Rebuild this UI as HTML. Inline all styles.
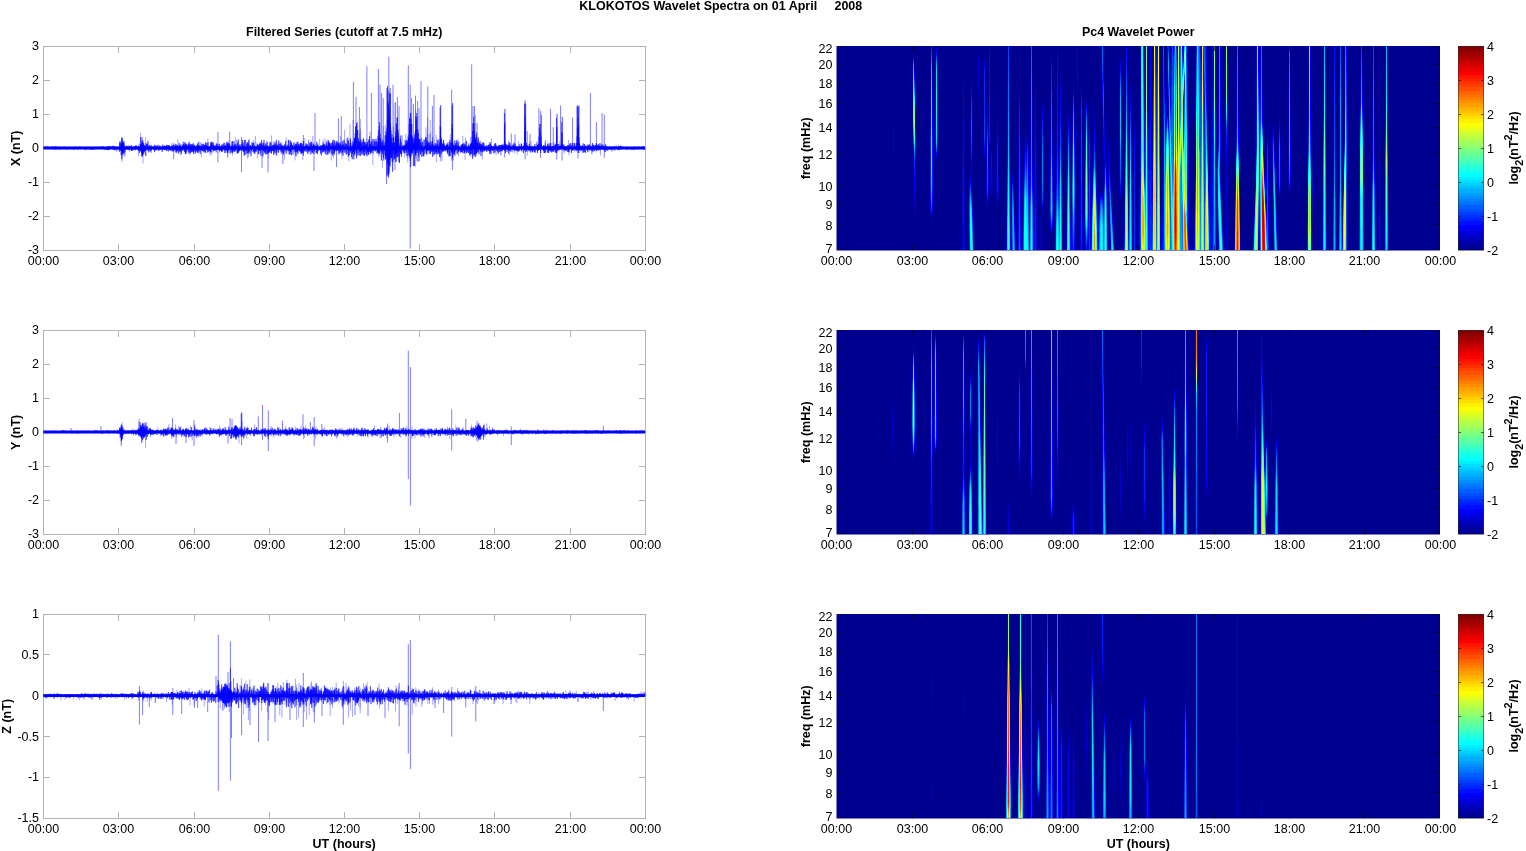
<!DOCTYPE html>
<html><head><meta charset="utf-8"><title>KLOKOTOS Wavelet Spectra</title>
<style>html,body{margin:0;padding:0;background:#fff;overflow:hidden}svg{display:block}text{font-family:'Liberation Sans', sans-serif}</style></head>
<body>
<svg width="1526" height="851" viewBox="0 0 1526 851" font-family="'Liberation Sans', sans-serif" fill="#000" style="filter:opacity(1)">
<text x="720.8" y="9.7" text-anchor="middle" font-weight="bold" font-size="12.5" xml:space="preserve">KLOKOTOS Wavelet Spectra on 01 April     2008</text>
<text x="344.2" y="36.2" text-anchor="middle" font-weight="bold" font-size="12.4">Filtered Series (cutoff at 7.5 mHz)</text>
<text x="1138.3" y="36.2" text-anchor="middle" font-weight="bold" font-size="12.4">Pc4 Wavelet Power</text>
<text x="344.2" y="848.2" text-anchor="middle" font-weight="bold" font-size="12.5">UT (hours)</text>
<text x="1138.3" y="848.2" text-anchor="middle" font-weight="bold" font-size="12.5">UT (hours)</text>
<g stroke="#b4b4b4" stroke-width="1" fill="none">
<rect x="43.5" y="46.5" width="602.0" height="204"/>
<path d="M118.5 250.5v-6.5M118.5 46.5v6.5M194.5 250.5v-6.5M194.5 46.5v6.5M269.5 250.5v-6.5M269.5 46.5v6.5M344.5 250.5v-6.5M344.5 46.5v6.5M419.5 250.5v-6.5M419.5 46.5v6.5M494.5 250.5v-6.5M494.5 46.5v6.5M570.5 250.5v-6.5M570.5 46.5v6.5M43.5 80.5h6.5M645.5 80.5h-6.5M43.5 114.5h6.5M645.5 114.5h-6.5M43.5 148.5h6.5M645.5 148.5h-6.5M43.5 182.5h6.5M645.5 182.5h-6.5M43.5 216.5h6.5M645.5 216.5h-6.5"/>
</g>
<g fill="none" stroke="#0000ff">
<path d="M108.4 146.3V149.0M108.8 146.0V148.5M109.4 145.7V148.9M113.4 145.6V149.7M113.6 147.3V150.1M116.4 147.0V151.8M117.2 147.3V150.7M117.4 146.0V149.8M120.8 142.1V155.0M121.2 142.6V156.1M122.0 140.3V162.2M122.2 136.6V150.5M123.6 144.0V153.8M123.8 140.6V154.9M124.0 140.6V156.8M125.0 145.9V156.4M126.8 145.0V149.9M127.4 146.7V148.7M128.6 144.9V150.5M129.0 146.3V149.8M129.6 146.4V152.3M131.0 145.5V149.9M131.6 146.4V150.4M133.2 146.6V150.5M134.2 145.9V148.8M135.2 146.6V150.6M138.0 145.8V149.3M138.2 146.8V150.9M138.6 144.7V156.5M139.4 143.6V151.7M140.6 132.8V152.0M142.6 136.9V151.9M143.0 143.3V163.5M145.0 142.9V154.5M145.6 137.1V151.2M150.0 145.0V149.9M150.4 145.8V151.4M151.0 144.3V150.2M151.2 146.6V149.9M151.4 145.1V153.3M153.0 145.8V149.8M154.6 144.2V148.8M159.0 145.6V148.9M159.8 144.6V148.7M160.2 145.5V150.0M163.4 145.9V149.9M164.2 145.6V149.0M165.0 146.4V149.9M167.8 145.3V149.4M168.0 146.2V150.3M171.6 146.1V150.8M171.8 142.8V150.2M172.2 144.6V151.2M173.8 142.7V149.7M175.2 144.9V151.9M175.6 145.5V152.2M177.0 145.4V152.7M177.2 145.5V151.3M177.4 146.1V151.1M177.8 139.5V150.2M178.8 144.5V153.7M179.8 145.4V149.3M180.6 143.8V155.4M181.2 144.2V151.7M182.8 141.4V149.8M183.4 144.6V150.7M184.4 143.1V151.9M185.6 144.4V151.6M186.4 145.2V154.1M187.2 144.6V152.0M188.4 146.1V152.3M189.2 146.0V154.3M190.0 145.0V155.1M190.8 145.4V149.1M191.2 144.4V152.4M192.4 144.8V151.5M193.0 146.5V152.1M194.2 143.7V151.9M196.2 144.9V150.8M196.8 145.3V151.0M197.6 144.4V151.9M198.2 145.6V152.2M200.6 142.3V151.5M201.4 143.4V157.2M202.4 143.5V150.2M202.8 144.0V151.2M203.4 145.4V152.6M204.6 144.8V152.9M204.8 145.5V150.0M205.0 145.0V151.3M206.8 145.4V152.7M207.8 138.5V149.0M210.0 145.7V155.7M210.6 144.5V150.5M211.0 144.7V154.7M211.6 144.0V152.0M212.0 141.5V149.3M212.2 144.8V153.8M213.2 146.9V152.2M214.2 144.7V150.7M219.4 143.4V153.0M220.4 145.8V151.0M222.4 143.9V151.5M224.0 143.0V150.6M224.6 143.1V152.9M226.0 143.2V152.9M227.2 142.9V151.7M227.6 146.9V157.4M227.8 146.9V157.4M228.6 140.8V152.9M230.2 143.8V152.2M231.8 146.0V151.1M232.6 145.5V155.6M233.4 144.0V149.4M235.4 137.4V149.5M235.6 144.8V149.7M236.6 139.8V153.6M238.0 146.5V152.6M238.6 138.8V151.8M239.0 144.8V150.6M243.2 142.5V152.6M243.6 142.4V151.8M247.6 145.1V158.7M248.4 142.6V157.0M249.2 138.6V150.5M252.6 143.5V152.0M253.4 140.2V153.3M254.4 141.8V150.7M255.4 135.9V153.9M257.0 142.6V149.4M257.4 144.2V158.3M257.8 144.3V153.8M262.8 142.3V157.8M264.0 142.9V152.3M265.4 143.9V153.3M266.8 140.5V150.1M268.2 145.6V158.5M269.8 144.4V152.4M271.2 142.3V151.3M271.6 135.3V152.4M272.0 145.3V151.6M273.2 141.3V150.7M273.4 144.0V153.4M275.2 145.2V155.0M277.8 143.3V152.6M280.4 142.5V151.9M280.8 145.7V151.4M281.0 142.6V154.3M281.8 142.4V152.7M284.4 145.0V152.6M284.6 145.8V159.4M285.4 145.7V151.3M286.0 145.9V151.5M286.2 137.3V151.3M286.8 144.4V149.9M288.0 145.0V151.6M288.2 144.7V154.6M288.4 139.9V151.2M291.2 141.6V150.0M293.2 143.7V150.7M295.0 145.6V160.4M295.2 144.4V153.1M295.6 144.7V151.7M296.4 144.7V150.1M296.6 143.6V151.4M296.8 142.1V156.4M298.4 141.2V152.8M300.0 145.9V151.5M301.0 146.0V153.5M301.4 144.4V151.7M302.0 140.6V151.7M302.4 145.1V153.4M302.8 143.5V160.0M303.4 143.9V151.4M304.8 138.1V151.9M308.4 140.8V153.9M308.6 139.1V150.5M310.0 146.6V154.8M310.4 143.5V154.4M311.0 143.8V151.3M311.4 142.0V154.5M312.0 144.0V152.9M312.8 135.8V150.9M313.8 142.1V151.3M315.0 144.4V152.1M317.0 144.2V152.7M318.2 143.3V151.2M319.6 139.0V150.5M322.8 143.9V151.5M323.2 139.5V151.1M324.2 144.1V152.3M324.4 143.9V149.9M324.6 144.7V153.9M325.0 138.7V152.2M326.6 143.6V155.0M327.4 142.9V153.6M327.6 139.5V153.9M328.6 143.6V149.8M328.8 144.0V152.8M329.0 143.1V151.8M330.4 144.3V153.1M331.2 143.0V160.5M333.4 142.3V158.1M335.6 144.2V150.5M337.0 143.2V151.3M338.4 141.6V155.1M339.2 143.5V154.5M339.6 143.2V149.9M340.6 136.2V150.9M342.0 141.1V158.8M343.2 145.3V152.3M344.6 129.9V150.2M344.8 141.2V151.8M345.2 143.3V151.8M347.8 140.2V156.8M348.2 137.3V152.4M348.8 146.0V161.7M350.0 124.3V150.2M350.6 140.1V152.8M350.8 143.2V152.4M353.0 119.7V155.9M353.8 139.8V155.6M354.0 145.2V152.8M354.6 139.2V153.4M355.8 139.0V155.6M357.4 138.6V152.9M358.6 138.3V153.0M359.8 132.5V156.1M360.2 139.3V155.0M360.4 119.0V156.3M360.6 128.6V151.7M362.4 145.4V153.5M366.8 138.5V151.4M370.0 131.5V155.4M372.8 142.6V164.8M378.2 145.6V152.9M378.4 130.9V156.6M378.6 138.0V150.4M379.8 144.4V156.4M381.8 145.7V153.1M382.4 141.1V167.7M383.2 126.5V151.5M385.2 125.3V153.5M387.2 134.4V152.8M387.6 142.8V173.5M388.8 123.8V162.9M393.4 126.4V162.4M394.2 102.9V156.9M395.2 136.1V156.0M398.2 130.0V157.5M402.2 135.2V154.1M404.4 139.8V151.1M404.8 145.7V157.5M405.0 145.8V151.6M405.6 142.0V153.1M405.8 133.9V150.3M407.2 142.7V158.5M407.8 136.0V162.6M415.2 138.3V167.0M415.4 136.1V155.7M415.6 116.3V152.1M415.8 109.5V157.9M416.6 132.2V161.0M417.6 137.0V162.3M421.8 137.2V150.0M422.2 144.0V156.2M424.6 139.8V154.3M426.0 127.3V149.9M426.4 138.8V155.1M426.8 141.0V155.5M427.2 134.5V151.6M427.6 117.8V151.1M428.2 142.3V153.9M429.2 134.1V153.2M429.8 145.2V154.5M430.0 143.7V152.7M430.2 119.9V150.8M430.6 132.5V151.1M432.0 140.9V152.0M432.6 138.3V151.5M432.8 136.3V151.0M434.2 143.4V152.5M436.2 134.7V151.8M436.4 146.0V162.2M437.8 141.2V154.2M439.6 141.2V157.3M440.4 135.1V154.0M440.6 144.6V161.5M440.8 142.5V157.8M441.2 136.5V154.7M441.4 139.6V153.8M441.6 137.7V153.4M441.8 141.5V151.7M442.0 143.1V160.9M443.2 142.8V152.0M443.6 139.4V149.7M444.2 145.1V151.5M447.0 142.9V150.3M447.4 142.6V152.1M447.8 142.5V151.7M448.0 144.9V151.8M450.4 134.1V153.6M452.2 144.5V154.4M452.4 138.4V150.9M452.6 141.1V150.0M453.4 145.8V154.2M453.6 144.8V160.3M454.6 145.6V156.1M455.4 144.3V156.1M456.8 142.5V149.8M457.2 141.8V152.3M457.6 144.2V154.8M458.0 138.7V150.9M458.6 145.0V156.1M459.0 141.8V152.4M461.4 144.4V152.4M461.8 144.8V151.1M462.8 135.8V151.1M464.0 142.5V154.1M464.8 144.8V150.9M465.2 142.3V160.0M465.4 137.8V149.3M468.2 142.7V152.7M470.4 137.0V153.8M471.0 145.4V156.7M472.4 140.3V153.0M473.0 139.8V156.4M474.6 133.9V153.3M475.4 114.8V152.7M478.0 141.6V152.4M480.4 144.1V152.3M482.4 142.2V159.4M489.4 144.1V151.6M490.0 142.7V150.4M490.8 145.0V150.4M491.4 138.6V150.4M494.2 143.9V154.1M496.0 143.8V155.3M498.6 145.7V152.6M498.8 145.3V151.6M500.6 145.1V149.8M500.8 146.9V155.4M501.0 145.1V155.4M502.4 145.0V151.4M504.4 143.9V150.3M505.2 140.7V151.3M508.6 140.4V149.2M508.8 142.4V151.1M509.0 144.2V150.4M509.4 144.7V155.2M510.0 142.5V149.3M510.4 144.5V150.9M512.4 144.7V152.4M513.8 145.0V151.8M514.0 146.4V150.9M514.4 143.9V153.3M517.0 145.9V154.6M518.2 146.0V150.8M518.6 141.2V152.0M519.4 144.2V151.0M519.6 144.2V150.3M524.0 145.5V150.3M527.2 144.9V155.9M527.8 145.2V150.1M529.6 142.0V151.0M529.8 145.5V150.0M530.6 146.0V149.2M530.8 145.7V150.8M531.2 140.8V150.6M533.0 146.3V150.1M534.4 145.9V150.7M535.2 146.6V150.1M535.4 146.3V152.6M536.4 141.6V150.5M536.6 143.6V149.5M537.4 145.0V150.0M537.6 141.9V151.5M538.0 146.2V150.0M538.4 145.0V150.3M543.6 146.3V150.4M543.8 146.3V152.6M544.8 142.3V149.2M545.8 145.4V152.0M547.8 141.8V150.3M548.6 145.7V150.9M549.8 144.6V150.1M550.6 147.1V150.0M553.0 142.1V151.9M553.6 145.0V150.8M554.6 143.1V149.1M558.0 145.7V151.9M559.0 145.7V151.3M559.8 141.0V150.2M560.2 146.3V150.0M561.2 146.0V149.0M563.6 144.3V151.7M564.4 144.2V153.3M568.6 140.0V150.4M569.0 145.9V155.2M571.6 146.5V150.4M572.4 146.8V150.0M574.8 144.3V151.9M576.8 146.3V151.6M578.2 146.0V150.9M579.0 143.6V149.0M579.2 144.4V153.1M581.0 146.0V150.4M582.0 145.5V151.1M583.2 146.5V152.5M583.8 146.6V150.7M584.6 144.6V152.5M587.0 145.9V151.0M587.2 144.3V150.7M587.6 144.6V149.7M588.0 145.1V149.6M589.4 144.2V151.5M591.8 145.1V153.3M592.0 146.7V154.6M595.8 144.4V152.6M596.6 146.0V151.0M598.0 144.0V150.5M598.4 145.6V150.0M600.2 144.7V151.5M600.4 146.1V155.6M602.0 144.0V149.0M603.8 146.3V149.7M604.2 145.4V150.3M605.8 146.7V149.7M606.2 146.1V148.9M606.4 146.6V149.7M606.6 147.3V149.6M608.4 146.6V149.8M611.0 146.3V149.3M611.8 147.0V151.4M612.0 146.7V151.5M614.0 146.5V150.8M614.4 147.4V150.5M615.0 147.4V150.9M615.2 145.6V148.6M616.4 145.1V148.9M618.4 147.3V149.0M618.6 144.8V148.8M619.2 146.6V150.5M621.0 144.9V148.9" stroke-width="0.45" stroke-opacity="0.8"/>
<path d="M122.5 148.0V138.0M141.0 148.0V138.0M217.9 148.0V132.0M229.7 148.0V131.5M241.5 148.0V137.0M303.4 148.0V135.0M315.0 148.0V113.0M338.4 148.0V118.5M341.3 148.0V116.0M353.4 148.0V81.6M356.0 148.0V96.8M359.4 148.0V107.0M366.9 148.0V66.2M371.4 148.0V93.0M378.4 148.0V69.0M380.0 148.0V84.8M381.6 148.0V93.0M383.2 148.0V98.0M388.8 148.0V56.6M393.0 148.0V84.8M395.6 148.0V102.0M397.4 148.0V97.0M399.0 148.0V106.0M408.3 148.0V65.5M410.2 148.0V84.8M411.6 148.0V98.0M413.4 148.0V104.0M415.5 148.0V95.6M417.6 148.0V101.0M419.0 148.0V108.0M421.0 148.0V81.0M427.8 148.0V86.4M434.0 148.0V94.9M432.4 148.0V106.0M451.7 148.0V89.6M471.7 148.0V64.3M473.0 148.0V106.0M474.5 148.0V106.0M477.0 148.0V123.0M511.3 148.0V133.6M515.0 148.0V134.3M527.2 148.0V131.0M530.0 148.0V134.0M538.9 148.0V108.2M540.6 148.0V111.0M541.5 148.0V115.0M545.5 148.0V140.0M550.5 148.0V108.9M553.3 148.0V127.2M560.6 148.0V105.4M572.6 148.0V117.4M590.4 148.0V93.0M596.4 148.0V122.0M602.0 148.0V113.0M604.3 148.0V114.5M173.7 148.0V159.0M217.9 148.0V162.5M241.5 148.0V172.0M262.0 148.0V167.8M268.0 148.0V172.5M282.8 148.0V164.0M314.0 148.0V171.0M336.5 148.0V167.0M386.5 148.0V184.0M395.0 148.0V170.0M410.2 148.0V248.6M452.4 148.0V170.0M504.7 148.0V157.5M525.1 148.0V159.6M540.6 148.0V158.0M556.8 148.0V159.5M562.0 148.0V160.6M578.0 148.0V158.5M604.3 148.0V157.5" stroke-width="0.6" stroke-opacity="0.85"/>
<path d="M386.95 148.0V88.2M387.50 148.0V86.0M388.05 148.0V90.9M389.45 148.0V93.1M390.00 148.0V88.0M390.55 148.0V93.4M440.12 148.0V107.2M440.67 148.0V105.0M452.12 148.0V105.4M452.67 148.0V103.0M504.43 148.0V113.0M504.97 148.0V108.9M524.55 148.0V103.5M525.10 148.0V100.4M525.65 148.0V103.7M556.52 148.0V117.8M557.07 148.0V113.8M561.73 148.0V122.3M562.27 148.0V117.0M577.02 148.0V106.4M577.57 148.0V105.4M578.43 148.0V106.9M578.98 148.0V105.4M387.95 148.0V176.6M388.50 148.0V177.5M389.05 148.0V173.9M354.00 148.0V143.7M354.38 148.0V139.3M354.77 148.0V137.8M355.15 148.0V133.1M355.54 148.0V126.5M355.92 148.0V126.8M356.31 148.0V125.3M356.69 148.0V123.2M357.08 148.0V122.1M357.46 148.0V130.1M357.85 148.0V130.0M358.23 148.0V138.0M358.62 148.0V140.6M359.00 148.0V143.7M385.80 148.0V141.3M386.18 148.0V137.4M386.55 148.0V134.4M386.93 148.0V127.6M387.30 148.0V120.1M387.68 148.0V119.5M388.05 148.0V104.0M388.43 148.0V103.6M388.80 148.0V101.3M389.18 148.0V108.8M389.55 148.0V115.9M389.93 148.0V123.2M390.30 148.0V123.1M390.68 148.0V127.4M391.05 148.0V130.8M391.43 148.0V138.0M391.80 148.0V141.3M395.00 148.0V143.2M395.40 148.0V138.5M395.80 148.0V131.4M396.20 148.0V123.6M396.60 148.0V123.6M397.00 148.0V118.0M397.40 148.0V117.1M397.80 148.0V128.9M398.20 148.0V132.8M398.60 148.0V139.6M399.00 148.0V143.2M408.00 148.0V142.2M408.38 148.0V138.4M408.77 148.0V134.5M409.15 148.0V124.1M409.54 148.0V117.8M409.92 148.0V119.4M410.31 148.0V113.3M410.69 148.0V112.8M411.08 148.0V118.9M411.46 148.0V123.7M411.85 148.0V123.8M412.23 148.0V135.4M412.62 148.0V138.0M413.00 148.0V142.2M414.00 148.0V143.2M414.38 148.0V139.7M414.77 148.0V134.3M415.15 148.0V131.6M415.54 148.0V130.0M415.92 148.0V116.7M416.31 148.0V120.8M416.69 148.0V113.0M417.08 148.0V116.5M417.46 148.0V129.8M417.85 148.0V129.3M418.23 148.0V134.0M418.62 148.0V139.7M419.00 148.0V143.2M378.00 148.0V144.4M378.43 148.0V138.9M378.86 148.0V129.8M379.29 148.0V125.8M379.71 148.0V122.0M380.14 148.0V133.6M380.57 148.0V138.4M381.00 148.0V144.4M471.75 148.0V143.4M472.14 148.0V137.3M472.53 148.0V131.0M472.92 148.0V123.6M473.31 148.0V123.1M473.69 148.0V116.9M474.08 148.0V123.3M474.47 148.0V130.8M474.86 148.0V139.1M475.25 148.0V143.4M475.00 148.0V145.6M475.43 148.0V140.9M475.86 148.0V137.3M476.29 148.0V135.2M476.71 148.0V132.6M477.14 148.0V138.8M477.57 148.0V141.8M478.00 148.0V145.6M386.00 148.0V151.4M386.38 148.0V154.8M386.77 148.0V157.4M387.15 148.0V160.0M387.54 148.0V163.1M387.92 148.0V163.3M388.31 148.0V165.1M388.69 148.0V174.5M389.08 148.0V170.5M389.46 148.0V165.2M389.85 148.0V158.3M390.23 148.0V157.3M390.62 148.0V153.6M391.00 148.0V151.4M394.50 148.0V150.0M394.93 148.0V153.9M395.36 148.0V154.7M395.79 148.0V162.1M396.21 148.0V161.7M396.64 148.0V157.3M397.07 148.0V152.5M397.50 148.0V150.0M409.00 148.0V150.2M409.43 148.0V152.9M409.86 148.0V155.7M410.29 148.0V161.0M410.71 148.0V159.1M411.14 148.0V156.1M411.57 148.0V152.8M412.00 148.0V150.2M439.70 148.0V143.2M440.17 148.0V126.0M440.63 148.0V126.8M441.10 148.0V143.2M451.50 148.0V142.7M451.97 148.0V123.9M452.43 148.0V127.7M452.90 148.0V142.7M451.50 148.0V150.4M451.97 148.0V160.7M452.43 148.0V157.5M452.90 148.0V150.4M503.90 148.0V143.7M504.43 148.0V125.6M504.97 148.0V122.9M505.50 148.0V143.7M524.10 148.0V142.7M524.60 148.0V130.8M525.10 148.0V115.2M525.60 148.0V125.0M526.10 148.0V142.7M538.50 148.0V143.9M538.93 148.0V136.7M539.36 148.0V128.4M539.79 148.0V124.0M540.21 148.0V124.1M540.64 148.0V132.1M541.07 148.0V137.2M541.50 148.0V143.9M556.00 148.0V144.2M556.53 148.0V130.2M557.07 148.0V126.8M557.60 148.0V144.2M561.20 148.0V144.5M561.73 148.0V132.0M562.27 148.0V133.4M562.80 148.0V144.5M576.50 148.0V143.2M576.93 148.0V136.3M577.36 148.0V128.6M577.79 148.0V117.2M578.21 148.0V124.4M578.64 148.0V126.4M579.07 148.0V137.4M579.50 148.0V143.2M121.00 148.0V147.0M121.43 148.0V145.9M121.86 148.0V143.1M122.29 148.0V143.4M122.71 148.0V141.0M123.14 148.0V143.7M123.57 148.0V145.2M124.00 148.0V147.0M121.00 148.0V149.1M121.43 148.0V150.7M121.86 148.0V152.6M122.29 148.0V154.0M122.71 148.0V153.6M123.14 148.0V152.7M123.57 148.0V151.0M124.00 148.0V149.1M140.00 148.0V147.0M140.38 148.0V146.2M140.77 148.0V145.7M141.15 148.0V144.5M141.54 148.0V144.4M141.92 148.0V141.9M142.31 148.0V140.8M142.69 148.0V142.0M143.08 148.0V143.2M143.46 148.0V143.0M143.85 148.0V144.7M144.23 148.0V145.8M144.62 148.0V146.2M145.00 148.0V147.0M140.00 148.0V149.1M140.38 148.0V150.1M140.77 148.0V150.6M141.15 148.0V151.3M141.54 148.0V152.9M141.92 148.0V153.2M142.31 148.0V154.6M142.69 148.0V155.0M143.08 148.0V155.1M143.46 148.0V153.0M143.85 148.0V151.7M144.23 148.0V151.2M144.62 148.0V150.2M145.00 148.0V149.1" stroke-width="0.7"/>
<path d="M43.6 147.1 43.8 148.4 44.0 147.0 44.2 148.4 44.4 147.1 44.6 148.9 44.8 146.9 45.0 148.7 45.2 146.4 45.4 148.4 45.6 147.6 45.8 148.4 46.0 147.6 46.2 148.5 46.4 146.7 46.6 148.5 46.8 146.9 47.0 148.4 47.2 146.4 47.4 148.4 47.6 147.6 47.8 148.5 48.0 147.6 48.2 148.7 48.4 146.6 48.6 148.4 48.8 147.3 49.0 148.4 49.2 147.1 49.4 148.5 49.6 147.4 49.8 148.4 50.0 147.6 50.2 148.4 50.4 147.6 50.6 148.4 50.8 147.6 51.0 149.1 51.2 147.4 51.4 148.5 51.6 146.7 51.8 148.4 52.0 147.6 52.2 148.7 52.4 146.3 52.6 149.3 52.8 147.6 53.0 148.6 53.2 147.2 53.4 148.5 53.6 147.4 53.8 148.6 54.0 146.7 54.2 148.7 54.4 146.9 54.6 148.7 54.8 147.6 55.0 149.7 55.2 147.3 55.4 148.7 55.6 146.3 55.8 148.5 56.0 147.6 56.2 149.4 56.4 147.5 56.6 149.1 56.8 146.6 57.0 148.5 57.2 147.6 57.4 148.4 57.6 147.6 57.8 148.4 58.0 147.6 58.2 148.4 58.4 146.9 58.6 148.4 58.8 147.6 59.0 148.4 59.2 147.4 59.4 149.7 59.6 146.8 59.8 148.4 60.0 147.2 60.2 148.4 60.4 147.6 60.6 149.2 60.8 147.3 61.0 148.9 61.2 146.8 61.4 148.7 61.6 147.5 61.8 148.5 62.0 147.1 62.2 148.5 62.4 147.6 62.6 148.7 62.8 146.7 63.0 148.5 63.2 147.0 63.4 148.4 63.6 147.6 63.8 148.8 64.0 147.6 64.2 148.4 64.4 147.6 64.6 148.4 64.8 146.5 65.0 148.6 65.2 147.6 65.4 148.8 65.6 147.5 65.8 148.5 66.0 147.4 66.2 148.7 66.4 147.6 66.6 149.7 66.8 147.4 67.0 148.4 67.2 147.4 67.4 148.6 67.6 147.2 67.8 148.4 68.0 147.6 68.2 148.4 68.4 147.5 68.6 149.3 68.8 147.6 69.0 148.4 69.2 147.6 69.4 148.4 69.6 147.2 69.8 148.8 70.0 147.6 70.2 148.5 70.4 147.1 70.6 148.4 70.8 147.6 71.0 148.7 71.2 147.0 71.4 148.9 71.6 147.6 71.8 148.4 72.0 147.4 72.2 148.6 72.4 147.3 72.6 148.7 72.8 147.2 73.0 148.4 73.2 147.6 73.4 149.4 73.6 147.6 73.8 149.6 74.0 146.7 74.2 148.4 74.4 147.6 74.6 148.6 74.8 146.7 75.0 148.4 75.2 147.6 75.4 148.4 75.6 147.3 75.8 149.2 76.0 146.8 76.2 148.4 76.4 147.1 76.6 148.4 76.8 147.6 77.0 148.9 77.2 147.4 77.4 148.7 77.6 147.6 77.8 148.7 78.0 147.6 78.2 149.5 78.4 147.5 78.6 148.4 78.8 147.6 79.0 148.4 79.2 146.9 79.4 148.8 79.6 147.6 79.8 148.4 80.0 146.3 80.2 148.5 80.4 147.4 80.6 148.6 80.8 147.3 81.0 148.4 81.2 147.6 81.4 148.4 81.6 147.6 81.8 148.5 82.0 147.3 82.2 148.9 82.4 147.3 82.6 148.7 82.8 147.2 83.0 148.4 83.2 147.5 83.4 148.4 83.6 147.4 83.8 148.7 84.0 147.6 84.2 148.5 84.4 147.4 84.6 148.4 84.8 147.4 85.0 149.8 85.2 147.6 85.4 149.3 85.6 147.6 85.8 148.7 86.0 147.0 86.2 148.7 86.4 147.3 86.6 149.6 86.8 146.7 87.0 148.4 87.2 147.6 87.4 148.4 87.6 147.1 87.8 148.4 88.0 147.6 88.2 148.5 88.4 147.6 88.6 148.4 88.8 146.7 89.0 148.4 89.2 147.2 89.4 148.4 89.6 147.5 89.8 149.5 90.0 147.6 90.2 148.8 90.4 147.6 90.6 148.4 90.8 147.5 91.0 149.5 91.2 147.2 91.4 148.6 91.6 147.6 91.8 149.8 92.0 147.6 92.2 148.8 92.4 147.5 92.6 149.3 92.8 147.6 93.0 148.4 93.2 147.2 93.4 148.4 93.6 147.6 93.8 149.8 94.0 147.4 94.2 148.9 94.4 146.8 94.6 148.4 94.8 147.6 95.0 148.4 95.2 147.6 95.4 148.8 95.6 147.6 95.8 148.4 96.0 147.1 96.2 148.4 96.4 146.8 96.6 148.4 96.8 146.9 97.0 148.8 97.2 147.5 97.4 148.8 97.6 147.6 97.8 148.4 98.0 146.9 98.2 148.4 98.4 147.4 98.6 148.9 98.8 147.6 99.0 148.4 99.2 147.2 99.4 149.1 99.6 147.6 99.8 148.4 100.0 146.4 100.2 148.8 100.4 147.4 100.6 148.4 100.8 147.6 101.0 148.9 101.2 147.6 101.4 148.4 101.6 147.6 101.8 148.4 102.0 146.8 102.2 148.4 102.4 147.2 102.6 148.4 102.8 146.0 103.0 148.4 103.2 146.6 103.4 149.2 103.6 147.6 103.8 148.5 104.0 147.0 104.2 148.7 104.4 147.6 104.6 150.0 104.8 147.6 105.0 148.4 105.2 147.6 105.4 148.4 105.6 146.8 105.8 148.7 106.0 147.3 106.2 148.7 106.4 147.6 106.6 149.8 106.8 147.5 107.0 149.2 107.2 147.4 107.4 148.4 107.6 146.4 107.8 150.1 108.0 147.6 108.2 150.1 108.4 146.4 108.6 149.1 108.8 147.5 109.0 149.6 109.2 147.6 109.4 149.5 109.6 146.9 109.8 149.0 110.0 146.0 110.2 148.8 110.4 147.6 110.6 148.8 110.8 147.4 111.0 148.5 111.2 147.4 111.4 148.8 111.6 146.4 111.8 148.7 112.0 147.4 112.2 148.4 112.4 147.6 112.6 148.4 112.8 145.7 113.0 149.1 113.2 146.8 113.4 148.5 113.6 146.8 113.8 148.7 114.0 147.6 114.2 149.2 114.4 146.6 114.6 150.3 114.8 146.4 115.0 148.4 115.2 146.3 115.4 149.0 115.6 147.3 115.8 149.9 116.0 147.2 116.2 149.0 116.4 147.0 116.6 148.5 116.8 147.6 117.0 149.1 117.2 147.1 117.4 148.4 117.6 147.5 117.8 148.4 118.0 147.6 118.2 149.7 118.4 147.6 118.6 148.8 118.8 147.5 119.0 149.3 119.2 147.6 119.4 151.9 119.6 142.9 119.8 149.9 120.0 141.1 120.2 150.5 120.4 143.5 120.6 148.9 120.8 146.2 121.0 151.0 121.2 145.7 121.4 149.8 121.6 137.8 121.8 159.2 122.0 143.0 122.2 154.9 122.4 142.5 122.6 148.7 122.8 145.4 123.0 151.3 123.2 146.1 123.4 149.1 123.6 142.2 123.8 149.6 124.0 143.2 124.2 153.4 124.4 147.6 124.6 148.5 124.8 147.6 125.0 152.1 125.2 146.3 125.4 149.4 125.6 147.4 125.8 149.5 126.0 147.6 126.2 148.9 126.4 146.3 126.6 148.6 126.8 147.6 127.0 148.5 127.2 145.9 127.4 149.5 127.6 147.6 127.8 148.4 128.0 146.0 128.2 148.4 128.4 147.1 128.6 148.8 128.8 147.5 129.0 150.0 129.2 146.9 129.4 148.8 129.6 147.1 129.8 149.7 130.0 147.2 130.2 148.4 130.4 145.8 130.6 148.4 130.8 146.2 131.0 148.7 131.2 146.5 131.4 150.8 131.6 145.4 131.8 150.6 132.0 147.6 132.2 151.0 132.4 147.4 132.6 148.4 132.8 147.2 133.0 148.6 133.2 147.3 133.4 149.6 133.6 147.4 133.8 149.0 134.0 146.6 134.2 149.2 134.4 146.7 134.6 149.2 134.8 147.6 135.0 149.8 135.2 146.0 135.4 148.5 135.6 146.5 135.8 149.5 136.0 144.9 136.2 148.4 136.4 146.8 136.6 148.8 136.8 146.3 137.0 148.4 137.2 147.6 137.4 148.4 137.6 147.6 137.8 149.8 138.0 147.6 138.2 148.4 138.4 147.3 138.6 150.3 138.8 146.0 139.0 150.5 139.2 147.6 139.4 153.0 139.6 147.6 139.8 148.4 140.0 147.2 140.2 149.6 140.4 144.3 140.6 150.8 140.8 136.9 141.0 148.4 141.2 146.9 141.4 151.9 141.6 144.9 141.8 156.6 142.0 143.4 142.2 156.6 142.4 145.9 142.6 150.3 142.8 140.3 143.0 153.5 143.2 145.1 143.4 149.6 143.6 147.0 143.8 150.7 144.0 146.9 144.2 152.3 144.4 145.2 144.6 149.7 144.8 146.2 145.0 151.1 145.2 146.7 145.4 148.4 145.6 147.6 145.8 156.0 146.0 145.3 146.2 148.8 146.4 143.5 146.6 148.9 146.8 143.8 147.0 149.9 147.2 145.9 147.4 150.6 147.6 144.0 147.8 148.4 148.0 140.8 148.2 149.0 148.4 146.0 148.6 151.3 148.8 147.3 149.0 152.4 149.2 146.3 149.4 148.4 149.6 145.1 149.8 148.6 150.0 147.2 150.2 148.9 150.4 147.6 150.6 151.4 150.8 147.6 151.0 149.1 151.2 147.6 151.4 150.5 151.6 146.2 151.8 148.7 152.0 147.5 152.2 148.4 152.4 146.9 152.6 148.4 152.8 146.6 153.0 148.4 153.2 147.6 153.4 148.4 153.6 147.6 153.8 149.3 154.0 147.6 154.2 150.1 154.4 145.3 154.6 152.2 154.8 146.4 155.0 150.4 155.2 146.4 155.4 149.4 155.6 145.6 155.8 150.2 156.0 147.1 156.2 150.1 156.4 147.5 156.6 150.0 156.8 145.2 157.0 148.4 157.2 147.5 157.4 148.5 157.6 147.6 157.8 148.4 158.0 144.8 158.2 150.6 158.4 147.3 158.6 148.8 158.8 147.6 159.0 150.9 159.2 146.8 159.4 149.1 159.6 146.3 159.8 148.6 160.0 147.3 160.2 149.7 160.4 147.5 160.6 148.9 160.8 147.6 161.0 149.8 161.2 147.6 161.4 149.5 161.6 147.6 161.8 148.4 162.0 146.3 162.2 152.0 162.4 146.9 162.6 148.6 162.8 144.6 163.0 149.0 163.2 146.4 163.4 149.0 163.6 147.6 163.8 149.0 164.0 146.7 164.2 150.2 164.4 145.7 164.6 149.3 164.8 146.3 165.0 148.4 165.2 146.3 165.4 149.0 165.6 146.4 165.8 148.4 166.0 147.6 166.2 150.5 166.4 144.8 166.6 150.8 166.8 145.3 167.0 149.0 167.2 146.5 167.4 148.9 167.6 146.8 167.8 149.1 168.0 145.1 168.2 151.5 168.4 145.9 168.6 148.4 168.8 145.6 169.0 148.4 169.2 145.1 169.4 149.2 169.6 146.0 169.8 150.8 170.0 147.2 170.2 150.4 170.4 146.7 170.6 150.1 170.8 147.0 171.0 149.1 171.2 147.6 171.4 149.5 171.6 147.0 171.8 148.4 172.0 145.8 172.2 151.7 172.4 145.3 172.6 150.2 172.8 147.1 173.0 149.8 173.2 146.6 173.4 150.7 173.6 144.7 173.8 151.3 174.0 147.6 174.2 148.4 174.4 146.6 174.6 148.4 174.8 146.2 175.0 150.0 175.2 143.9 175.4 149.3 175.6 146.2 175.8 149.7 176.0 146.4 176.2 153.0 176.4 144.5 176.6 151.2 176.8 146.8 177.0 151.2 177.2 147.6 177.4 151.2 177.6 145.4 177.8 148.4 178.0 146.5 178.2 148.8 178.4 146.4 178.6 153.3 178.8 147.0 179.0 150.6 179.2 142.9 179.4 150.1 179.6 145.8 179.8 151.8 180.0 145.1 180.2 151.6 180.4 146.1 180.6 148.4 180.8 147.6 181.0 150.8 181.2 147.1 181.4 154.2 181.6 147.5 181.8 148.4 182.0 146.0 182.2 149.7 182.4 145.4 182.6 150.9 182.8 146.0 183.0 149.4 183.2 144.0 183.4 149.2 183.6 144.8 183.8 148.4 184.0 141.8 184.2 149.6 184.4 146.0 184.6 152.2 184.8 144.4 185.0 150.3 185.2 145.1 185.4 154.0 185.6 142.8 185.8 154.2 186.0 143.7 186.2 151.8 186.4 144.4 186.6 148.4 186.8 145.6 187.0 149.3 187.2 145.0 187.4 149.5 187.6 146.6 187.8 148.7 188.0 147.6 188.2 150.4 188.4 143.5 188.6 151.2 188.8 144.2 189.0 153.2 189.2 141.8 189.4 148.6 189.6 144.7 189.8 149.0 190.0 147.3 190.2 151.9 190.4 146.3 190.6 153.1 190.8 143.9 191.0 150.7 191.2 144.6 191.4 151.9 191.6 147.1 191.8 148.6 192.0 144.1 192.2 152.1 192.4 146.6 192.6 150.5 192.8 144.6 193.0 150.6 193.2 143.1 193.4 152.4 193.6 145.0 193.8 154.2 194.0 146.5 194.2 149.8 194.4 145.4 194.6 149.6 194.8 145.6 195.0 151.5 195.2 146.8 195.4 153.4 195.6 146.7 195.8 150.7 196.0 147.6 196.2 151.7 196.4 145.8 196.6 148.6 196.8 147.6 197.0 150.8 197.2 145.7 197.4 152.8 197.6 143.2 197.8 151.4 198.0 144.7 198.2 152.9 198.4 145.7 198.6 148.5 198.8 141.8 199.0 149.4 199.2 146.1 199.4 151.5 199.6 145.2 199.8 149.2 200.0 146.3 200.2 154.2 200.4 146.3 200.6 150.2 200.8 147.6 201.0 150.1 201.2 147.6 201.4 149.4 201.6 145.5 201.8 148.4 202.0 144.3 202.2 151.1 202.4 145.5 202.6 150.5 202.8 147.6 203.0 150.8 203.2 147.2 203.4 149.0 203.6 143.8 203.8 151.6 204.0 146.4 204.2 148.4 204.4 147.6 204.6 149.6 204.8 144.7 205.0 152.2 205.2 144.7 205.4 152.7 205.6 142.0 205.8 148.4 206.0 147.6 206.2 150.1 206.4 145.4 206.6 148.4 206.8 143.0 207.0 149.6 207.2 145.8 207.4 149.5 207.6 147.4 207.8 152.5 208.0 142.2 208.2 151.9 208.4 146.4 208.6 149.7 208.8 146.7 209.0 151.0 209.2 146.9 209.4 148.4 209.6 147.2 209.8 150.8 210.0 147.1 210.2 152.0 210.4 146.0 210.6 152.4 210.8 142.0 211.0 150.0 211.2 143.5 211.4 148.4 211.6 141.9 211.8 148.6 212.0 145.2 212.2 149.0 212.4 147.0 212.6 148.9 212.8 142.2 213.0 150.3 213.2 142.9 213.4 149.2 213.6 145.0 213.8 150.9 214.0 147.0 214.2 150.5 214.4 147.2 214.6 150.4 214.8 145.2 215.0 149.8 215.2 146.6 215.4 150.2 215.6 145.6 215.8 148.4 216.0 147.6 216.2 152.4 216.4 143.3 216.6 150.0 216.8 144.5 217.0 149.6 217.2 145.4 217.4 149.6 217.6 147.6 217.8 149.3 218.0 143.8 218.2 148.9 218.4 147.2 218.6 149.4 218.8 147.6 219.0 149.2 219.2 146.9 219.4 151.2 219.6 144.3 219.8 149.9 220.0 147.6 220.2 150.2 220.4 147.6 220.6 150.1 220.8 145.9 221.0 150.3 221.2 147.4 221.4 151.2 221.6 144.6 221.8 152.2 222.0 147.6 222.2 151.4 222.4 147.6 222.6 150.1 222.8 145.5 223.0 148.8 223.2 144.4 223.4 148.4 223.6 146.7 223.8 148.4 224.0 142.7 224.2 150.6 224.4 147.3 224.6 148.7 224.8 145.9 225.0 153.0 225.2 145.0 225.4 149.6 225.6 146.0 225.8 150.6 226.0 145.2 226.2 149.6 226.4 146.5 226.6 149.7 226.8 141.8 227.0 150.8 227.2 143.9 227.4 153.0 227.6 143.2 227.8 152.2 228.0 142.9 228.2 149.0 228.4 143.9 228.6 150.2 228.8 146.6 229.0 150.4 229.2 143.3 229.4 148.4 229.6 145.5 229.8 148.4 230.0 147.4 230.2 153.7 230.4 147.0 230.6 149.8 230.8 145.9 231.0 148.4 231.2 147.6 231.4 150.4 231.6 145.7 231.8 152.6 232.0 141.4 232.2 152.5 232.4 141.3 232.6 152.8 232.8 147.3 233.0 150.8 233.2 147.6 233.4 151.4 233.6 146.5 233.8 148.9 234.0 141.1 234.2 149.8 234.4 144.9 234.6 151.9 234.8 144.9 235.0 151.6 235.2 144.7 235.4 149.1 235.6 146.8 235.8 150.7 236.0 143.9 236.2 149.1 236.4 146.7 236.6 148.4 236.8 146.0 237.0 148.4 237.2 146.4 237.4 153.7 237.6 142.8 237.8 152.0 238.0 140.2 238.2 151.3 238.4 145.4 238.6 153.0 238.8 145.8 239.0 151.2 239.2 145.5 239.4 150.3 239.6 146.6 239.8 151.0 240.0 144.1 240.2 150.2 240.4 145.8 240.6 149.3 240.8 146.4 241.0 149.4 241.2 147.5 241.4 150.1 241.6 146.2 241.8 149.1 242.0 143.5 242.2 151.1 242.4 139.9 242.6 148.4 242.8 143.8 243.0 148.4 243.2 145.3 243.4 150.9 243.6 147.3 243.8 151.8 244.0 147.6 244.2 155.7 244.4 139.9 244.6 150.9 244.8 146.3 245.0 154.6 245.2 147.2 245.4 150.3 245.6 140.1 245.8 149.1 246.0 146.4 246.2 154.3 246.4 146.8 246.6 150.8 246.8 143.8 247.0 148.6 247.2 142.0 247.4 153.0 247.6 143.1 247.8 150.1 248.0 145.9 248.2 153.7 248.4 143.9 248.6 152.1 248.8 140.2 249.0 151.6 249.2 145.5 249.4 150.2 249.6 147.1 249.8 153.4 250.0 147.6 250.2 150.3 250.4 145.0 250.6 149.1 250.8 145.8 251.0 156.1 251.2 147.5 251.4 151.2 251.6 147.0 251.8 148.4 252.0 142.2 252.2 149.0 252.4 145.7 252.6 149.3 252.8 143.2 253.0 149.6 253.2 147.6 253.4 152.0 253.6 143.2 253.8 149.7 254.0 147.6 254.2 152.5 254.4 145.7 254.6 153.7 254.8 147.5 255.0 151.1 255.2 146.9 255.4 151.8 255.6 146.7 255.8 148.5 256.0 146.3 256.2 148.7 256.4 147.6 256.6 151.6 256.8 147.2 257.0 148.7 257.2 144.8 257.4 149.6 257.6 145.3 257.8 149.6 258.0 144.3 258.2 148.4 258.4 147.6 258.6 154.3 258.8 145.5 259.0 150.9 259.2 145.4 259.4 150.6 259.6 144.1 259.8 149.1 260.0 142.6 260.2 153.4 260.4 143.7 260.6 151.1 260.8 146.6 261.0 156.1 261.2 143.2 261.4 150.1 261.6 139.9 261.8 150.4 262.0 144.3 262.2 148.4 262.4 146.1 262.6 149.7 262.8 145.4 263.0 155.5 263.2 143.2 263.4 151.0 263.6 145.6 263.8 149.3 264.0 139.9 264.2 150.9 264.4 147.3 264.6 152.6 264.8 145.5 265.0 152.3 265.2 146.4 265.4 154.3 265.6 143.4 265.8 148.4 266.0 147.6 266.2 149.4 266.4 145.5 266.6 154.2 266.8 145.2 267.0 151.4 267.2 142.2 267.4 154.0 267.6 146.9 267.8 149.0 268.0 147.6 268.2 152.1 268.4 146.4 268.6 153.3 268.8 147.2 269.0 152.0 269.2 146.2 269.4 152.3 269.6 147.6 269.8 150.5 270.0 141.9 270.2 150.8 270.4 146.4 270.6 150.9 270.8 142.6 271.0 152.9 271.2 147.2 271.4 153.6 271.6 146.6 271.8 148.8 272.0 146.5 272.2 148.6 272.4 146.9 272.6 151.0 272.8 144.9 273.0 149.3 273.2 147.3 273.4 150.7 273.6 145.2 273.8 154.9 274.0 145.0 274.2 152.6 274.4 144.7 274.6 150.7 274.8 141.8 275.0 149.3 275.2 145.0 275.4 148.4 275.6 143.4 275.8 153.0 276.0 147.6 276.2 151.9 276.4 139.9 276.6 155.5 276.8 145.6 277.0 149.2 277.2 144.9 277.4 148.4 277.6 146.6 277.8 148.4 278.0 144.5 278.2 150.9 278.4 147.6 278.6 152.8 278.8 140.5 279.0 149.7 279.2 143.8 279.4 149.5 279.6 147.5 279.8 148.5 280.0 147.6 280.2 149.4 280.4 143.6 280.6 149.2 280.8 147.6 281.0 149.2 281.2 146.8 281.4 150.5 281.6 144.7 281.8 151.7 282.0 147.6 282.2 153.7 282.4 145.4 282.6 148.5 282.8 147.4 283.0 149.2 283.2 146.3 283.4 154.7 283.6 145.6 283.8 152.4 284.0 146.8 284.2 148.4 284.4 146.9 284.6 148.4 284.8 143.8 285.0 148.4 285.2 147.6 285.4 150.3 285.6 141.2 285.8 149.4 286.0 147.6 286.2 153.7 286.4 147.1 286.6 148.6 286.8 147.1 287.0 148.5 287.2 146.6 287.4 149.7 287.6 146.6 287.8 149.4 288.0 144.9 288.2 150.6 288.4 139.9 288.6 150.2 288.8 147.1 289.0 148.6 289.2 147.6 289.4 154.3 289.6 146.6 289.8 151.3 290.0 140.4 290.2 154.5 290.4 144.8 290.6 151.7 290.8 141.4 291.0 151.5 291.2 142.9 291.4 155.5 291.6 143.3 291.8 149.9 292.0 146.2 292.2 149.4 292.4 145.2 292.6 148.4 292.8 145.4 293.0 154.5 293.2 147.6 293.4 148.4 293.6 147.1 293.8 149.0 294.0 142.3 294.2 148.7 294.4 145.3 294.6 149.5 294.8 147.6 295.0 152.0 295.2 146.4 295.4 149.4 295.6 143.7 295.8 156.1 296.0 146.2 296.2 152.1 296.4 144.1 296.6 151.3 296.8 146.5 297.0 150.9 297.2 141.8 297.4 151.5 297.6 146.6 297.8 154.0 298.0 143.9 298.2 148.4 298.4 143.7 298.6 148.4 298.8 147.2 299.0 150.9 299.2 146.8 299.4 151.4 299.6 144.7 299.8 150.4 300.0 144.5 300.2 149.0 300.4 143.1 300.6 151.6 300.8 142.9 301.0 153.5 301.2 143.1 301.4 153.7 301.6 147.1 301.8 148.7 302.0 144.2 302.2 152.9 302.4 147.4 302.6 150.4 302.8 146.7 303.0 153.0 303.2 146.7 303.4 155.6 303.6 141.2 303.8 150.2 304.0 147.1 304.2 150.0 304.4 146.1 304.6 151.2 304.8 146.3 305.0 148.4 305.2 145.7 305.4 150.6 305.6 146.5 305.8 149.2 306.0 143.4 306.2 152.0 306.4 144.4 306.6 148.7 306.8 145.1 307.0 149.8 307.2 143.9 307.4 153.6 307.6 146.0 307.8 150.9 308.0 147.3 308.2 149.5 308.4 146.9 308.6 151.3 308.8 145.6 309.0 150.3 309.2 147.0 309.4 151.6 309.6 143.0 309.8 149.0 310.0 147.4 310.2 149.7 310.4 145.4 310.6 149.8 310.8 141.6 311.0 151.4 311.2 146.7 311.4 148.9 311.6 142.2 311.8 149.6 312.0 147.1 312.2 153.2 312.4 146.3 312.6 152.3 312.8 146.3 313.0 149.1 313.2 143.5 313.4 149.0 313.6 144.6 313.8 154.0 314.0 145.4 314.2 149.2 314.4 146.2 314.6 151.2 314.8 145.3 315.0 148.6 315.2 147.6 315.4 148.4 315.6 146.5 315.8 149.4 316.0 145.4 316.2 153.4 316.4 147.5 316.6 149.8 316.8 141.7 317.0 152.6 317.2 146.8 317.4 154.1 317.6 144.6 317.8 148.7 318.0 147.2 318.2 151.1 318.4 146.6 318.6 148.4 318.8 147.5 319.0 148.8 319.2 147.3 319.4 149.8 319.6 146.4 319.8 149.5 320.0 147.6 320.2 149.4 320.4 147.3 320.6 153.8 320.8 145.5 321.0 151.2 321.2 145.0 321.4 155.5 321.6 146.0 321.8 148.8 322.0 147.4 322.2 149.7 322.4 145.1 322.6 152.6 322.8 145.2 323.0 151.2 323.2 142.5 323.4 151.7 323.6 146.9 323.8 148.4 324.0 144.3 324.2 150.7 324.4 146.0 324.6 150.0 324.8 145.5 325.0 151.0 325.2 144.7 325.4 148.4 325.6 146.2 325.8 154.6 326.0 146.2 326.2 151.5 326.4 141.5 326.6 149.0 326.8 147.0 327.0 148.6 327.2 146.0 327.4 148.7 327.6 145.4 327.8 154.9 328.0 147.6 328.2 149.5 328.4 140.2 328.6 151.1 328.8 141.7 329.0 153.5 329.2 143.6 329.4 149.9 329.6 142.4 329.8 151.7 330.0 143.0 330.2 149.3 330.4 144.9 330.6 148.4 330.8 145.5 331.0 148.7 331.2 145.8 331.4 149.7 331.6 147.6 331.8 154.1 332.0 142.8 332.2 148.8 332.4 142.3 332.6 155.6 332.8 139.9 333.0 150.2 333.2 144.1 333.4 153.4 333.6 146.8 333.8 148.4 334.0 139.9 334.2 154.8 334.4 145.2 334.6 152.7 334.8 141.0 335.0 151.2 335.2 145.6 335.4 148.6 335.6 146.4 335.8 148.5 336.0 143.2 336.2 150.8 336.4 140.9 336.6 148.9 336.8 145.5 337.0 150.2 337.2 143.5 337.4 150.8 337.6 141.7 337.8 149.6 338.0 143.1 338.2 148.5 338.4 145.4 338.6 150.2 338.8 144.3 339.0 152.9 339.2 145.1 339.4 150.2 339.6 147.2 339.8 153.4 340.0 142.3 340.2 151.0 340.4 146.5 340.6 152.2 340.8 143.5 341.0 148.4 341.2 144.8 341.4 149.4 341.6 147.3 341.8 153.8 342.0 147.6 342.2 149.3 342.4 145.3 342.6 152.2 342.8 141.2 343.0 155.7 343.2 144.1 343.4 148.5 343.6 145.3 343.8 150.2 344.0 139.6 344.2 148.5 344.4 147.2 344.6 149.6 344.8 147.0 345.0 153.0 345.2 143.5 345.4 148.4 345.6 147.1 345.8 149.9 346.0 144.5 346.2 154.5 346.4 144.6 346.6 148.6 346.8 143.6 347.0 154.1 347.2 138.0 347.4 148.4 347.6 146.6 347.8 148.9 348.0 147.1 348.2 151.2 348.4 140.5 348.6 156.3 348.8 145.9 349.0 148.4 349.2 147.2 349.4 155.0 349.6 147.6 349.8 150.7 350.0 142.8 350.2 150.7 350.4 138.5 350.6 150.6 350.8 142.7 351.0 152.7 351.2 147.3 351.4 157.0 351.6 147.6 351.8 148.4 352.0 145.4 352.2 159.3 352.4 146.2 352.6 153.4 352.8 141.5 353.0 152.1 353.2 144.4 353.4 151.4 353.6 146.2 353.8 159.3 354.0 143.5 354.2 151.5 354.4 142.4 354.6 155.0 354.8 138.1 355.0 149.8 355.2 137.0 355.4 148.8 355.6 146.8 355.8 151.3 356.0 146.7 356.2 153.2 356.4 147.5 356.6 158.4 356.8 146.6 357.0 149.2 357.2 145.2 357.4 148.4 357.6 144.6 357.8 155.5 358.0 146.4 358.2 148.6 358.4 145.6 358.6 149.6 358.8 141.8 359.0 155.2 359.2 145.2 359.4 149.0 359.6 141.7 359.8 151.7 360.0 141.6 360.2 150.4 360.4 147.1 360.6 151.3 360.8 139.5 361.0 155.4 361.2 144.7 361.4 150.6 361.6 142.7 361.8 153.6 362.0 141.5 362.2 149.9 362.4 147.1 362.6 150.3 362.8 142.6 363.0 154.7 363.2 139.2 363.4 152.0 363.6 138.4 363.8 155.3 364.0 145.7 364.2 152.5 364.4 141.5 364.6 156.0 364.8 143.1 365.0 148.9 365.2 142.0 365.4 149.8 365.6 145.1 365.8 154.0 366.0 144.0 366.2 151.9 366.4 146.2 366.6 154.6 366.8 144.0 367.0 156.3 367.2 142.4 367.4 151.1 367.6 142.1 367.8 152.3 368.0 146.4 368.2 153.6 368.4 147.3 368.6 154.9 368.8 139.5 369.0 150.7 369.2 140.2 369.4 151.5 369.6 136.1 369.8 152.2 370.0 144.3 370.2 151.6 370.4 146.8 370.6 153.5 370.8 143.6 371.0 153.0 371.2 141.3 371.4 152.3 371.6 142.1 371.8 149.1 372.0 146.0 372.2 150.5 372.4 147.2 372.6 151.1 372.8 139.1 373.0 153.6 373.2 144.9 373.4 148.8 373.6 146.2 373.8 149.9 374.0 139.1 374.2 151.1 374.4 141.1 374.6 150.0 374.8 146.9 375.0 149.2 375.2 147.3 375.4 151.1 375.6 141.6 375.8 151.4 376.0 138.6 376.2 149.6 376.4 141.3 376.6 149.0 376.8 146.7 377.0 153.6 377.2 145.3 377.4 151.2 377.6 142.2 377.8 152.1 378.0 135.7 378.2 152.9 378.4 146.2 378.6 151.9 378.8 145.5 379.0 153.8 379.2 143.6 379.4 153.7 379.6 147.6 379.8 153.2 380.0 138.2 380.2 148.5 380.4 144.6 380.6 150.2 380.8 146.5 381.0 151.6 381.2 147.6 381.4 160.4 381.6 141.7 381.8 149.8 382.0 142.1 382.2 151.5 382.4 147.4 382.6 153.9 382.8 139.7 383.0 150.0 383.2 147.6 383.4 157.6 383.6 145.2 383.8 160.5 384.0 142.3 384.2 150.3 384.4 145.2 384.6 150.3 384.8 145.3 385.0 155.1 385.2 135.4 385.4 159.0 385.6 147.6 385.8 159.6 386.0 131.3 386.2 155.7 386.4 142.6 386.6 149.8 386.8 139.3 387.0 175.5 387.2 138.5 387.4 162.2 387.6 136.7 387.8 150.6 388.0 140.0 388.2 151.6 388.4 146.6 388.6 162.3 388.8 140.4 389.0 149.2 389.2 137.8 389.4 159.8 389.6 139.9 389.8 160.5 390.0 138.2 390.2 166.4 390.4 147.6 390.6 153.6 390.8 136.4 391.0 157.9 391.2 147.3 391.4 158.3 391.6 143.6 391.8 157.5 392.0 134.3 392.2 162.3 392.4 143.5 392.6 171.7 392.8 143.0 393.0 154.6 393.2 138.0 393.4 151.5 393.6 137.2 393.8 159.7 394.0 147.6 394.2 149.3 394.4 142.4 394.6 159.2 394.8 142.7 395.0 151.6 395.2 145.6 395.4 157.5 395.6 146.4 395.8 154.7 396.0 135.8 396.2 153.6 396.4 139.5 396.6 150.8 396.8 133.0 397.0 152.6 397.2 147.3 397.4 157.3 397.6 147.6 397.8 155.4 398.0 144.7 398.2 149.8 398.4 136.4 398.6 156.2 398.8 144.8 399.0 161.8 399.2 147.4 399.4 163.0 399.6 147.6 399.8 151.8 400.0 144.8 400.2 153.2 400.4 139.0 400.6 153.7 400.8 135.5 401.0 154.2 401.2 142.1 401.4 156.7 401.6 146.6 401.8 148.9 402.0 147.6 402.2 148.4 402.4 146.5 402.6 149.6 402.8 145.1 403.0 150.7 403.2 147.5 403.4 151.3 403.6 147.6 403.8 152.8 404.0 145.0 404.2 149.7 404.4 145.9 404.6 153.4 404.8 147.6 405.0 149.8 405.2 144.8 405.4 148.4 405.6 144.3 405.8 148.5 406.0 140.0 406.2 152.6 406.4 140.4 406.6 150.4 406.8 144.1 407.0 156.0 407.2 142.5 407.4 149.6 407.6 141.6 407.8 148.9 408.0 140.0 408.2 155.6 408.4 146.3 408.6 151.7 408.8 137.4 409.0 154.8 409.2 145.4 409.4 157.6 409.6 142.0 409.8 150.2 410.0 128.6 410.2 152.0 410.4 145.1 410.6 167.2 410.8 147.6 411.0 149.9 411.2 135.3 411.4 152.7 411.6 146.8 411.8 151.1 412.0 140.8 412.2 154.3 412.4 145.7 412.6 152.9 412.8 137.1 413.0 150.7 413.2 139.5 413.4 166.0 413.6 143.3 413.8 149.2 414.0 146.9 414.2 150.0 414.4 147.6 414.6 165.9 414.8 137.8 415.0 153.0 415.2 147.6 415.4 154.7 415.6 140.0 415.8 155.6 416.0 147.6 416.2 151.1 416.4 146.5 416.6 152.8 416.8 143.8 417.0 149.0 417.2 147.6 417.4 150.8 417.6 140.4 417.8 152.8 418.0 132.6 418.2 148.4 418.4 140.4 418.6 156.7 418.8 146.2 419.0 161.3 419.2 139.7 419.4 149.5 419.6 138.9 419.8 151.4 420.0 144.9 420.2 153.4 420.4 142.0 420.6 154.9 420.8 138.9 421.0 151.2 421.2 147.6 421.4 149.8 421.6 145.2 421.8 157.0 422.0 142.7 422.2 152.2 422.4 147.5 422.6 150.8 422.8 141.7 423.0 151.7 423.2 147.6 423.4 156.0 423.6 147.2 423.8 156.6 424.0 139.5 424.2 148.7 424.4 146.2 424.6 149.8 424.8 146.0 425.0 153.5 425.2 145.8 425.4 148.7 425.6 137.2 425.8 148.7 426.0 137.3 426.2 151.6 426.4 144.3 426.6 154.0 426.8 143.1 427.0 150.9 427.2 145.4 427.4 149.1 427.6 140.6 427.8 150.3 428.0 144.0 428.2 150.3 428.4 147.2 428.6 149.6 428.8 142.2 429.0 150.6 429.2 142.6 429.4 148.5 429.6 144.6 429.8 149.9 430.0 146.4 430.2 154.1 430.4 145.6 430.6 153.0 430.8 141.3 431.0 149.2 431.2 146.1 431.4 150.4 431.6 143.4 431.8 152.1 432.0 147.6 432.2 149.8 432.4 141.2 432.6 156.9 432.8 145.1 433.0 149.3 433.2 144.2 433.4 151.3 433.6 147.6 433.8 155.3 434.0 146.5 434.2 150.1 434.4 146.0 434.6 153.3 434.8 145.6 435.0 154.4 435.2 143.0 435.4 151.4 435.6 144.8 435.8 149.3 436.0 145.6 436.2 154.0 436.4 146.0 436.6 152.1 436.8 143.8 437.0 151.6 437.2 139.9 437.4 148.5 437.6 144.4 437.8 154.3 438.0 145.5 438.2 149.3 438.4 147.1 438.6 153.2 438.8 139.4 439.0 153.5 439.2 147.6 439.4 151.2 439.6 145.3 439.8 156.8 440.0 147.6 440.2 149.7 440.4 144.9 440.6 149.5 440.8 141.2 441.0 149.5 441.2 139.3 441.4 148.5 441.6 142.8 441.8 150.2 442.0 146.8 442.2 150.0 442.4 144.3 442.6 151.8 442.8 143.7 443.0 151.0 443.2 145.4 443.4 151.1 443.6 140.1 443.8 148.4 444.0 147.6 444.2 149.8 444.4 143.5 444.6 149.5 444.8 146.2 445.0 151.0 445.2 146.3 445.4 149.9 445.6 145.9 445.8 151.4 446.0 145.5 446.2 149.4 446.4 144.5 446.6 150.1 446.8 146.7 447.0 150.1 447.2 145.1 447.4 152.9 447.6 144.5 447.8 154.1 448.0 144.6 448.2 148.4 448.4 147.0 448.6 149.5 448.8 147.6 449.0 156.4 449.2 141.8 449.4 156.0 449.6 147.6 449.8 149.1 450.0 139.7 450.2 156.3 450.4 143.0 450.6 148.5 450.8 147.6 451.0 148.7 451.2 147.4 451.4 152.5 451.6 142.0 451.8 151.4 452.0 146.5 452.2 151.0 452.4 146.3 452.6 151.8 452.8 144.7 453.0 151.2 453.2 145.2 453.4 148.4 453.6 145.0 453.8 154.8 454.0 147.1 454.2 152.6 454.4 145.5 454.6 153.7 454.8 140.5 455.0 149.0 455.2 146.1 455.4 151.3 455.6 143.2 455.8 149.5 456.0 145.5 456.2 149.6 456.4 140.2 456.6 148.4 456.8 147.4 457.0 153.8 457.2 146.2 457.4 149.9 457.6 146.1 457.8 148.9 458.0 141.5 458.2 152.1 458.4 145.3 458.6 149.2 458.8 147.6 459.0 151.3 459.2 147.1 459.4 148.4 459.6 147.6 459.8 150.4 460.0 146.9 460.2 148.8 460.4 147.4 460.6 152.6 460.8 147.6 461.0 151.4 461.2 144.9 461.4 151.8 461.6 145.3 461.8 152.0 462.0 144.7 462.2 150.0 462.4 144.2 462.6 152.9 462.8 143.9 463.0 150.9 463.2 143.4 463.4 148.4 463.6 145.6 463.8 150.4 464.0 147.3 464.2 153.2 464.4 145.3 464.6 152.9 464.8 143.9 465.0 148.5 465.2 147.6 465.4 149.3 465.6 145.1 465.8 151.9 466.0 146.4 466.2 150.4 466.4 140.8 466.6 153.3 466.8 147.0 467.0 151.4 467.2 147.3 467.4 148.4 467.6 147.0 467.8 151.7 468.0 147.2 468.2 153.1 468.4 145.1 468.6 148.4 468.8 144.8 469.0 152.9 469.2 145.9 469.4 149.8 469.6 147.2 469.8 155.5 470.0 147.6 470.2 154.5 470.4 143.7 470.6 154.0 470.8 143.8 471.0 154.0 471.2 145.3 471.4 149.8 471.6 142.3 471.8 153.6 472.0 142.7 472.2 149.9 472.4 142.9 472.6 158.8 472.8 144.9 473.0 154.5 473.2 144.9 473.4 148.7 473.6 146.9 473.8 148.4 474.0 142.1 474.2 156.5 474.4 142.5 474.6 154.9 474.8 140.6 475.0 150.7 475.2 144.4 475.4 154.7 475.6 138.6 475.8 156.9 476.0 147.6 476.2 153.8 476.4 143.1 476.6 153.6 476.8 143.3 477.0 150.1 477.2 146.8 477.4 152.4 477.6 142.8 477.8 148.4 478.0 144.5 478.2 152.3 478.4 137.5 478.6 149.6 478.8 145.0 479.0 154.2 479.2 143.4 479.4 148.4 479.6 143.0 479.8 149.6 480.0 140.8 480.2 149.7 480.4 144.2 480.6 151.4 480.8 147.2 481.0 156.1 481.2 143.6 481.4 148.6 481.6 144.9 481.8 152.1 482.0 143.7 482.2 152.4 482.4 145.7 482.6 149.2 482.8 144.8 483.0 150.6 483.2 142.1 483.4 150.2 483.6 146.8 483.8 151.7 484.0 143.1 484.2 151.1 484.4 146.8 484.6 150.4 484.8 146.8 485.0 151.1 485.2 145.6 485.4 150.0 485.6 147.4 485.8 149.1 486.0 147.0 486.2 149.3 486.4 147.3 486.6 151.4 486.8 145.2 487.0 151.7 487.2 146.9 487.4 149.5 487.6 147.3 487.8 148.7 488.0 145.4 488.2 150.7 488.4 145.4 488.6 150.1 488.8 144.5 489.0 151.1 489.2 146.6 489.4 150.7 489.6 147.4 489.8 154.1 490.0 142.0 490.2 149.4 490.4 144.0 490.6 152.4 490.8 147.6 491.0 154.0 491.2 145.3 491.4 148.9 491.6 146.0 491.8 148.5 492.0 146.4 492.2 149.5 492.4 146.7 492.6 150.9 492.8 147.6 493.0 150.9 493.2 146.4 493.4 149.5 493.6 146.7 493.8 153.0 494.0 146.9 494.2 148.9 494.4 146.8 494.6 148.5 494.8 143.7 495.0 152.4 495.2 145.7 495.4 149.0 495.6 142.9 495.8 148.4 496.0 147.2 496.2 151.0 496.4 147.6 496.6 148.7 496.8 145.5 497.0 148.4 497.2 147.6 497.4 151.7 497.6 147.6 497.8 150.2 498.0 147.3 498.2 153.7 498.4 147.6 498.6 148.4 498.8 145.8 499.0 148.4 499.2 144.9 499.4 152.1 499.6 145.2 499.8 149.3 500.0 145.1 500.2 150.0 500.4 147.2 500.6 151.1 500.8 147.5 501.0 151.5 501.2 145.5 501.4 148.4 501.6 144.7 501.8 150.3 502.0 147.6 502.2 150.9 502.4 144.5 502.6 148.5 502.8 145.7 503.0 149.6 503.2 145.7 503.4 150.0 503.6 145.1 503.8 149.1 504.0 146.1 504.2 148.5 504.4 146.0 504.6 149.1 504.8 147.6 505.0 151.0 505.2 146.2 505.4 153.1 505.6 146.6 505.8 149.8 506.0 144.6 506.2 148.9 506.4 145.2 506.6 149.3 506.8 144.4 507.0 152.1 507.2 144.9 507.4 148.6 507.6 145.7 507.8 149.7 508.0 147.6 508.2 148.4 508.4 147.4 508.6 153.4 508.8 145.0 509.0 150.9 509.2 147.6 509.4 148.4 509.6 142.7 509.8 148.4 510.0 147.6 510.2 151.0 510.4 145.8 510.6 149.0 510.8 145.9 511.0 151.8 511.2 146.9 511.4 148.4 511.6 147.4 511.8 148.5 512.0 147.5 512.2 149.1 512.4 146.4 512.6 148.4 512.8 145.6 513.0 149.7 513.2 144.4 513.4 149.7 513.6 147.4 513.8 148.4 514.0 142.8 514.2 149.8 514.4 147.6 514.6 148.4 514.8 147.6 515.0 150.1 515.2 143.7 515.4 150.6 515.6 145.9 515.8 149.3 516.0 145.9 516.2 150.9 516.4 147.0 516.6 148.4 516.8 147.4 517.0 150.5 517.2 147.6 517.4 151.4 517.6 146.9 517.8 148.4 518.0 146.7 518.2 150.1 518.4 147.1 518.6 150.7 518.8 147.3 519.0 151.3 519.2 147.3 519.4 149.0 519.6 146.9 519.8 149.1 520.0 146.1 520.2 148.8 520.4 147.5 520.6 149.3 520.8 146.4 521.0 149.1 521.2 143.4 521.4 150.9 521.6 144.1 521.8 151.5 522.0 147.6 522.2 148.5 522.4 146.9 522.6 148.9 522.8 146.3 523.0 148.5 523.2 147.3 523.4 153.0 523.6 146.6 523.8 149.4 524.0 145.3 524.2 148.4 524.4 147.6 524.6 150.3 524.8 146.8 525.0 150.9 525.2 144.5 525.4 148.4 525.6 147.6 525.8 151.9 526.0 143.0 526.2 149.0 526.4 146.9 526.6 150.4 526.8 145.6 527.0 151.6 527.2 145.8 527.4 148.4 527.6 146.3 527.8 149.0 528.0 146.9 528.2 148.5 528.4 147.6 528.6 150.4 528.8 146.4 529.0 151.3 529.2 144.1 529.4 149.0 529.6 147.2 529.8 150.0 530.0 147.2 530.2 149.7 530.4 146.9 530.6 152.4 530.8 147.2 531.0 149.6 531.2 146.9 531.4 150.4 531.6 146.3 531.8 149.9 532.0 146.9 532.2 152.5 532.4 146.8 532.6 151.1 532.8 146.6 533.0 152.0 533.2 146.7 533.4 148.7 533.6 147.4 533.8 150.1 534.0 147.6 534.2 149.5 534.4 147.6 534.6 151.8 534.8 144.1 535.0 152.7 535.2 146.3 535.4 148.4 535.6 147.3 535.8 149.6 536.0 147.1 536.2 148.9 536.4 147.3 536.6 149.2 536.8 147.6 537.0 148.4 537.2 145.6 537.4 153.0 537.6 146.4 537.8 150.7 538.0 144.4 538.2 149.8 538.4 147.4 538.6 150.5 538.8 145.6 539.0 149.4 539.2 145.8 539.4 148.9 539.6 146.3 539.8 149.8 540.0 147.6 540.2 149.3 540.4 147.6 540.6 153.0 540.8 147.6 541.0 149.7 541.2 145.3 541.4 148.7 541.6 146.7 541.8 148.4 542.0 146.9 542.2 149.4 542.4 147.1 542.6 149.5 542.8 146.9 543.0 148.8 543.2 146.5 543.4 150.9 543.6 145.0 543.8 148.9 544.0 147.2 544.2 153.0 544.4 147.6 544.6 153.0 544.8 146.2 545.0 149.5 545.2 144.9 545.4 152.8 545.6 147.3 545.8 148.4 546.0 146.3 546.2 148.7 546.4 147.0 546.6 149.6 546.8 147.6 547.0 148.6 547.2 147.4 547.4 152.2 547.6 144.2 547.8 149.8 548.0 145.2 548.2 153.0 548.4 145.8 548.6 153.0 548.8 146.9 549.0 148.4 549.2 143.3 549.4 148.9 549.6 147.3 549.8 150.7 550.0 147.5 550.2 151.1 550.4 146.3 550.6 151.1 550.8 143.0 551.0 151.9 551.2 146.7 551.4 148.4 551.6 147.5 551.8 152.5 552.0 146.9 552.2 151.2 552.4 146.1 552.6 148.4 552.8 146.8 553.0 151.5 553.2 147.6 553.4 151.3 553.6 147.0 553.8 149.1 554.0 146.9 554.2 149.3 554.4 146.6 554.6 148.4 554.8 145.5 555.0 151.9 555.2 144.4 555.4 152.9 555.6 146.7 555.8 149.2 556.0 144.5 556.2 150.3 556.4 144.4 556.6 153.0 556.8 146.0 557.0 150.9 557.2 146.6 557.4 150.8 557.6 144.4 557.8 149.0 558.0 147.1 558.2 149.9 558.4 147.6 558.6 148.4 558.8 144.0 559.0 149.4 559.2 147.1 559.4 149.3 559.6 146.4 559.8 148.5 560.0 146.9 560.2 148.4 560.4 145.6 560.6 148.4 560.8 147.6 561.0 148.8 561.2 145.7 561.4 148.4 561.6 145.1 561.8 148.7 562.0 146.2 562.2 148.4 562.4 147.6 562.6 148.6 562.8 144.5 563.0 148.5 563.2 146.4 563.4 150.1 563.6 145.8 563.8 148.4 564.0 146.1 564.2 149.5 564.4 146.4 564.6 149.5 564.8 146.2 565.0 150.9 565.2 147.1 565.4 150.3 565.6 146.2 565.8 150.0 566.0 146.6 566.2 149.8 566.4 146.3 566.6 150.8 566.8 147.6 567.0 148.4 567.2 147.5 567.4 152.0 567.6 145.0 567.8 148.6 568.0 147.4 568.2 149.4 568.4 145.0 568.6 152.1 568.8 147.2 569.0 152.3 569.2 147.6 569.4 148.4 569.6 144.7 569.8 148.5 570.0 143.6 570.2 148.4 570.4 147.6 570.6 149.2 570.8 143.0 571.0 148.9 571.2 147.6 571.4 153.0 571.6 147.3 571.8 148.4 572.0 145.2 572.2 148.4 572.4 143.0 572.6 150.8 572.8 147.1 573.0 148.9 573.2 147.4 573.4 150.5 573.6 147.3 573.8 148.5 574.0 143.0 574.2 149.1 574.4 145.2 574.6 149.6 574.8 143.0 575.0 148.4 575.2 147.6 575.4 148.4 575.6 146.7 575.8 150.3 576.0 146.6 576.2 150.5 576.4 147.6 576.6 148.4 576.8 147.4 577.0 150.2 577.2 146.2 577.4 149.2 577.6 144.7 577.8 149.7 578.0 146.3 578.2 153.0 578.4 145.5 578.6 150.2 578.8 147.6 579.0 150.7 579.2 143.5 579.4 149.9 579.6 146.1 579.8 150.3 580.0 146.4 580.2 149.2 580.4 145.6 580.6 149.1 580.8 146.6 581.0 151.2 581.2 145.8 581.4 149.2 581.6 146.5 581.8 149.5 582.0 146.0 582.2 150.1 582.4 147.6 582.6 149.6 582.8 145.6 583.0 153.0 583.2 143.4 583.4 148.5 583.6 146.8 583.8 151.6 584.0 147.6 584.2 149.1 584.4 144.0 584.6 151.8 584.8 147.6 585.0 149.3 585.2 146.0 585.4 153.0 585.6 145.4 585.8 148.4 586.0 146.9 586.2 148.4 586.4 146.6 586.6 148.4 586.8 147.6 587.0 148.4 587.2 147.4 587.4 150.7 587.6 146.7 587.8 152.2 588.0 147.5 588.2 148.4 588.4 145.4 588.6 149.5 588.8 145.4 589.0 149.2 589.2 144.3 589.4 149.9 589.6 145.8 589.8 149.2 590.0 147.6 590.2 150.4 590.4 146.1 590.6 149.5 590.8 146.6 591.0 148.5 591.2 147.5 591.4 148.4 591.6 146.7 591.8 151.0 592.0 147.3 592.2 150.9 592.4 143.0 592.6 148.6 592.8 145.5 593.0 151.7 593.2 144.6 593.4 150.1 593.6 146.9 593.8 148.7 594.0 145.8 594.2 151.2 594.4 145.1 594.6 149.8 594.8 147.1 595.0 149.3 595.2 147.6 595.4 149.5 595.6 145.6 595.8 149.2 596.0 144.9 596.2 148.5 596.4 143.1 596.6 150.9 596.8 144.9 597.0 148.4 597.2 146.8 597.4 148.8 597.6 145.6 597.8 150.1 598.0 145.4 598.2 150.4 598.4 145.0 598.6 148.6 598.8 144.1 599.0 148.4 599.2 146.2 599.4 150.1 599.6 146.0 599.8 148.7 600.0 143.0 600.2 148.8 600.4 146.8 600.6 148.8 600.8 146.4 601.0 149.4 601.2 146.4 601.4 149.2 601.6 145.5 601.8 148.4 602.0 144.6 602.2 148.6 602.4 147.3 602.6 149.7 602.8 147.1 603.0 149.2 603.2 144.7 603.4 148.9 603.6 146.1 603.8 149.3 604.0 147.1 604.2 149.3 604.4 147.0 604.6 151.6 604.8 147.5 605.0 148.4 605.2 146.9 605.4 148.4 605.6 144.2 605.8 151.8 606.0 147.6 606.2 149.1 606.4 146.7 606.6 148.9 606.8 145.7 607.0 150.4 607.2 147.5 607.4 148.4 607.6 147.6 607.8 150.6 608.0 147.6 608.2 149.6 608.4 147.6 608.6 148.4 608.8 147.6 609.0 148.7 609.2 147.6 609.4 149.2 609.6 146.6 609.8 148.5 610.0 146.6 610.2 148.7 610.4 147.6 610.6 149.7 610.8 147.4 611.0 148.8 611.2 147.4 611.4 149.4 611.6 147.3 611.8 149.0 612.0 147.6 612.2 149.4 612.4 146.8 612.6 148.8 612.8 147.0 613.0 148.5 613.2 147.6 613.4 148.4 613.6 146.8 613.8 148.5 614.0 146.2 614.2 148.7 614.4 147.5 614.6 149.2 614.8 146.8 615.0 148.8 615.2 147.4 615.4 148.4 615.6 147.6 615.8 148.4 616.0 147.6 616.2 148.4 616.4 146.7 616.6 148.4 616.8 147.0 617.0 148.8 617.2 147.6 617.4 149.1 617.6 147.6 617.8 149.3 618.0 147.4 618.2 150.2 618.4 146.4 618.6 149.0 618.8 147.2 619.0 149.4 619.2 146.2 619.4 148.4 619.6 146.9 619.8 148.9 620.0 147.6 620.2 148.6 620.4 145.9 620.6 149.7 620.8 147.0 621.0 148.5 621.2 146.6 621.4 149.4 621.6 147.6 621.8 148.4 622.0 147.6 622.2 148.8 622.4 146.9 622.6 148.5 622.8 146.8 623.0 148.4 623.2 146.7 623.4 148.4 623.6 147.6 623.8 148.4 624.0 147.5 624.2 148.4 624.4 147.5 624.6 148.5 624.8 147.5 625.0 148.8 625.2 147.4 625.4 148.6 625.6 147.0 625.8 148.4 626.0 147.6 626.2 148.4 626.4 147.2 626.6 149.6 626.8 147.6 627.0 149.7 627.2 147.6 627.4 148.7 627.6 147.0 627.8 148.4 628.0 146.8 628.2 148.5 628.4 147.4 628.6 148.8 628.8 147.4 629.0 148.4 629.2 147.2 629.4 148.4 629.6 147.5 629.8 148.7 630.0 147.4 630.2 149.0 630.4 147.6 630.6 149.2 630.8 147.5 631.0 149.5 631.2 147.6 631.4 149.3 631.6 147.6 631.8 148.4 632.0 147.2 632.2 148.4 632.4 147.2 632.6 148.4 632.8 147.6 633.0 150.0 633.2 146.9 633.4 148.6 633.6 146.9 633.8 148.5 634.0 147.6 634.2 148.5 634.4 146.7 634.6 149.8 634.8 147.5 635.0 148.9 635.2 147.6 635.4 148.9 635.6 147.6 635.8 148.8 636.0 146.9 636.2 148.7 636.4 147.6 636.6 148.8 636.8 147.6 637.0 148.4 637.2 147.5 637.4 149.3 637.6 147.6 637.8 148.4 638.0 147.6 638.2 148.5 638.4 147.0 638.6 148.8 638.8 147.5 639.0 148.5 639.2 146.4 639.4 148.4 639.6 147.6 639.8 148.4 640.0 147.0 640.2 148.6 640.4 147.6 640.6 148.4 640.8 147.6 641.0 148.4 641.2 147.4 641.4 148.4 641.6 147.4 641.8 148.5 642.0 147.6 642.2 148.8 642.4 147.5 642.6 148.4 642.8 146.1 643.0 148.4 643.2 146.5 643.4 148.5 643.6 147.4 643.8 148.4 644.0 147.1 644.2 149.9 644.4 147.3 644.6 148.5 644.8 147.2 645.0 148.4" stroke-width="0.5" stroke-linejoin="round"/>
<path d="M43.5 148H645.0" stroke-width="2.8"/>
</g>
<text x="43.5" y="265.3" text-anchor="middle" font-size="12.5">00:00</text>
<text x="118.5" y="265.3" text-anchor="middle" font-size="12.5">03:00</text>
<text x="194.5" y="265.3" text-anchor="middle" font-size="12.5">06:00</text>
<text x="269.5" y="265.3" text-anchor="middle" font-size="12.5">09:00</text>
<text x="344.5" y="265.3" text-anchor="middle" font-size="12.5">12:00</text>
<text x="419.5" y="265.3" text-anchor="middle" font-size="12.5">15:00</text>
<text x="494.5" y="265.3" text-anchor="middle" font-size="12.5">18:00</text>
<text x="570.5" y="265.3" text-anchor="middle" font-size="12.5">21:00</text>
<text x="645.5" y="265.3" text-anchor="middle" font-size="12.5">00:00</text>
<text x="39" y="50.2" text-anchor="end" font-size="12.5">3</text>
<text x="39" y="84.2" text-anchor="end" font-size="12.5">2</text>
<text x="39" y="118.2" text-anchor="end" font-size="12.5">1</text>
<text x="39" y="152.2" text-anchor="end" font-size="12.5">0</text>
<text x="39" y="186.2" text-anchor="end" font-size="12.5">-1</text>
<text x="39" y="220.2" text-anchor="end" font-size="12.5">-2</text>
<text x="39" y="254.2" text-anchor="end" font-size="12.5">-3</text>
<text x="20" y="148.3" text-anchor="middle" font-weight="bold" transform="rotate(-90 20 148.3)" font-size="12.5">X (nT)</text>
<g stroke="#b4b4b4" stroke-width="1" fill="none">
<rect x="43.5" y="330.5" width="602.0" height="204"/>
<path d="M118.5 534.5v-6.5M118.5 330.5v6.5M194.5 534.5v-6.5M194.5 330.5v6.5M269.5 534.5v-6.5M269.5 330.5v6.5M344.5 534.5v-6.5M344.5 330.5v6.5M419.5 534.5v-6.5M419.5 330.5v6.5M494.5 534.5v-6.5M494.5 330.5v6.5M570.5 534.5v-6.5M570.5 330.5v6.5M43.5 364.5h6.5M645.5 364.5h-6.5M43.5 398.5h6.5M645.5 398.5h-6.5M43.5 432.5h6.5M645.5 432.5h-6.5M43.5 466.5h6.5M645.5 466.5h-6.5M43.5 500.5h6.5M645.5 500.5h-6.5"/>
</g>
<g fill="none" stroke="#0000ff">
<path d="M113.2 431.1V433.1M117.8 431.2V433.3M119.4 429.4V434.0M121.0 425.0V444.8M121.4 424.8V446.4M121.8 429.5V439.0M122.2 422.2V435.5M122.6 427.9V436.3M123.2 426.9V435.4M124.6 429.1V432.6M125.0 430.9V433.7M127.6 430.3V433.9M128.0 430.5V434.4M128.2 430.8V433.1M129.4 431.1V433.0M131.2 430.7V433.3M131.8 430.9V433.5M132.8 428.5V433.4M133.2 431.4V435.7M133.4 430.9V435.0M134.8 429.7V433.6M135.6 430.6V435.3M135.8 430.6V435.0M136.2 430.3V433.7M136.4 430.3V435.2M137.6 430.9V434.0M138.2 430.0V434.5M138.8 421.3V435.9M139.0 428.5V434.0M139.2 418.4V436.3M143.0 427.8V434.4M144.6 430.2V436.2M145.6 429.3V448.0M146.0 426.5V436.0M147.8 429.4V434.5M148.2 427.6V434.9M149.4 427.8V432.6M150.2 430.9V433.9M150.4 431.2V437.3M150.8 430.4V433.9M151.2 430.2V434.5M155.2 431.2V434.0M155.4 430.4V432.7M157.8 427.2V433.0M159.6 430.7V433.8M160.4 430.3V436.2M161.4 429.9V433.5M165.6 429.9V434.6M165.8 429.0V434.2M166.0 430.1V434.2M167.4 427.2V433.1M168.8 424.2V433.2M170.2 429.9V434.0M171.6 429.9V438.7M172.0 428.0V437.1M172.6 429.2V436.3M172.8 429.9V433.9M173.2 429.6V437.9M173.4 428.2V436.0M174.8 429.9V433.4M175.6 424.4V435.3M176.6 428.6V437.5M178.0 429.8V434.3M178.4 425.8V434.5M180.0 429.4V435.0M182.0 429.5V434.1M182.6 429.0V435.1M183.2 430.2V436.8M185.6 430.4V436.8M186.0 429.8V436.2M187.2 429.3V435.1M188.4 429.0V434.5M188.6 428.3V438.6M190.6 425.7V433.5M192.2 430.4V440.4M193.6 429.8V435.5M194.6 423.9V435.4M194.8 430.0V434.3M197.8 430.8V434.3M199.4 429.6V435.9M203.2 429.5V433.0M205.8 426.9V434.1M209.8 427.2V433.8M212.0 430.0V434.2M215.4 430.4V433.8M216.4 428.8V435.2M219.2 431.2V434.6M219.6 425.4V435.7M220.4 430.6V434.3M220.8 429.5V434.1M221.4 429.7V434.0M222.4 430.9V434.3M222.6 428.6V433.9M224.4 430.0V434.0M225.8 429.3V435.5M227.6 430.5V434.1M227.8 429.7V434.0M232.4 428.8V435.1M233.0 430.2V438.3M234.2 426.6V437.3M235.6 427.0V434.7M236.4 426.0V439.6M239.0 428.3V443.4M240.0 427.8V433.6M241.0 425.9V437.3M242.2 421.4V435.2M243.4 429.6V439.6M244.4 426.2V434.1M245.2 429.8V434.1M246.8 428.9V438.7M247.2 430.7V434.7M247.6 426.4V434.9M248.0 430.5V434.5M250.8 430.2V436.0M254.6 424.4V434.1M255.8 429.1V434.1M260.4 428.7V432.8M261.6 430.7V435.5M262.6 428.5V434.0M264.4 429.9V435.9M267.6 428.8V434.4M267.8 429.0V439.3M268.6 428.5V438.8M270.6 429.4V435.1M271.0 426.1V433.4M271.4 431.1V435.9M272.8 427.6V435.8M273.8 430.9V437.7M274.6 430.3V434.7M275.6 428.7V435.8M284.2 429.2V433.3M285.0 430.2V434.0M285.6 428.7V435.0M285.8 426.3V434.8M286.0 430.0V435.7M287.2 429.4V435.3M288.6 427.6V434.5M290.6 429.6V434.1M290.8 430.3V435.3M292.6 429.4V432.8M293.2 430.0V434.2M293.4 428.2V435.1M294.6 429.9V433.7M295.2 429.7V433.7M295.6 426.6V434.5M296.0 428.9V435.0M297.2 429.1V434.4M299.8 429.6V433.8M300.0 430.3V435.9M301.0 425.3V434.2M303.4 430.9V439.2M304.6 429.4V438.0M305.4 425.2V432.8M308.6 429.1V434.4M309.0 429.5V434.1M311.4 429.6V435.0M312.8 426.5V433.8M313.0 426.1V433.4M315.2 430.0V434.5M315.4 431.1V438.3M316.0 426.6V433.9M316.6 429.4V435.5M322.4 428.6V437.8M322.6 430.1V432.7M324.6 427.3V434.1M324.8 430.2V435.3M325.0 429.6V435.4M325.4 430.2V435.0M330.6 429.3V433.8M334.8 430.7V436.1M335.4 428.6V436.1M335.6 430.1V433.6M336.0 431.0V437.2M336.8 429.8V438.9M338.0 429.9V435.4M339.2 428.7V433.5M342.0 427.9V433.6M342.8 429.1V434.1M344.0 431.1V437.1M347.2 429.3V437.8M349.4 430.1V434.4M349.6 427.4V432.9M349.8 429.2V435.0M350.0 430.2V432.8M350.8 430.2V433.4M354.0 429.8V435.0M355.0 430.2V433.2M356.4 428.1V434.0M357.2 430.1V434.9M357.8 430.6V436.7M358.8 429.9V434.7M361.2 429.5V436.2M363.2 430.3V435.1M365.4 429.7V433.9M366.2 430.6V434.1M367.4 430.0V434.7M367.6 430.0V434.5M368.0 431.2V438.0M371.0 431.1V433.8M371.2 431.3V436.5M372.0 430.1V433.9M374.4 425.9V433.5M374.8 430.2V435.2M375.0 430.1V433.3M377.2 430.7V436.2M377.8 428.8V433.7M378.8 429.9V435.3M379.4 431.3V434.0M379.8 430.0V433.9M380.0 430.4V438.1M380.6 427.0V434.3M381.2 429.4V438.3M382.4 430.2V435.5M382.8 430.7V434.6M385.2 429.2V433.8M385.4 428.6V435.3M386.6 430.2V433.2M386.8 429.2V438.8M389.2 425.6V433.0M389.8 429.0V433.3M391.0 430.8V434.0M394.0 430.2V437.3M398.2 430.2V433.8M399.0 431.2V436.2M400.6 430.7V437.7M401.8 428.8V433.8M402.0 430.2V435.3M403.2 429.2V433.9M404.2 430.4V434.2M406.2 429.2V435.3M406.4 429.5V433.2M406.8 426.0V434.0M407.8 428.6V433.8M411.0 429.6V433.8M411.8 430.3V439.0M412.0 426.4V433.8M412.4 430.9V436.2M413.8 429.7V435.3M415.0 428.7V438.5M417.0 431.1V433.8M418.6 429.1V434.1M419.4 429.6V435.4M420.8 431.0V436.2M422.0 429.9V434.3M422.2 428.6V434.6M423.0 427.8V434.9M423.2 429.2V434.6M424.6 428.7V437.9M425.2 429.9V434.2M427.2 429.8V432.9M427.4 428.6V434.9M429.2 429.6V438.5M435.2 429.4V434.1M436.6 430.1V433.8M438.2 430.0V434.0M439.2 429.8V434.6M440.6 428.4V435.4M442.0 430.0V434.0M443.0 430.2V435.3M444.4 429.1V433.3M444.8 429.5V433.6M445.6 428.7V433.8M447.6 426.9V434.4M449.0 429.6V434.2M449.8 431.2V438.8M451.4 429.7V435.2M451.6 431.2V436.0M452.4 430.7V434.3M453.4 430.5V434.5M453.6 429.3V436.7M455.8 425.3V434.1M463.0 427.3V434.5M467.0 430.5V434.6M468.6 430.0V433.7M468.8 430.7V433.8M469.2 430.5V434.2M469.8 431.3V434.5M470.4 428.7V434.4M471.6 424.5V436.1M472.0 429.9V436.4M472.2 429.5V436.7M472.8 427.2V437.9M474.2 428.4V435.3M475.4 429.2V437.3M475.8 429.0V435.3M476.6 427.7V440.7M477.0 427.6V435.4M478.0 428.2V433.9M478.6 423.5V435.1M479.2 428.8V435.0M483.8 426.3V435.8M484.0 427.5V433.8M484.4 423.5V436.4M484.6 428.8V433.8M485.0 428.9V437.1M486.8 423.6V434.6M488.8 429.9V433.8M489.4 430.2V432.8M489.6 425.8V434.2M490.8 430.3V434.9M492.4 427.1V433.5M496.6 430.6V433.2M497.2 430.7V433.6M497.6 430.4V435.9M497.8 431.5V433.1M498.0 429.9V433.9M501.4 430.0V433.2M502.4 431.0V433.1M503.4 430.9V433.2M503.6 430.9V436.0M505.2 430.5V433.4M505.8 430.9V433.0M506.0 428.7V432.4M506.4 429.7V433.0M506.8 430.7V433.0M508.8 431.3V434.7M510.6 431.1V433.0M513.0 431.5V433.8M514.0 429.8V433.2M517.2 430.4V432.9M517.4 431.3V433.3M520.4 428.7V433.3M520.6 430.2V432.8M521.4 430.2V432.7M522.4 431.2V433.5M522.6 430.7V434.9M523.6 430.7V433.4M524.0 429.8V433.2M524.4 431.4V433.5M524.6 431.0V432.9M526.4 429.8V433.0M527.0 431.3V432.9M527.8 431.3V434.4M528.8 431.5V434.4M531.6 431.3V433.0M531.8 430.3V433.4M535.4 431.2V433.5M535.6 430.7V434.7M535.8 431.1V432.4M537.4 431.0V432.4M537.6 429.6V433.1M543.8 429.2V432.7M546.4 431.5V433.9M551.0 430.9V434.3" stroke-width="0.45" stroke-opacity="0.8"/>
<path d="M71.0 432.0V428.0M101.0 432.0V426.0M172.5 432.0V418.0M194.0 432.0V420.0M230.0 432.0V418.0M232.0 432.0V419.0M258.3 432.0V416.4M262.5 432.0V405.0M268.3 432.0V410.4M282.5 432.0V420.6M303.0 432.0V414.4M310.4 432.0V422.0M314.2 432.0V417.0M321.8 432.0V424.0M387.6 432.0V423.5M399.4 432.0V413.0M408.3 432.0V350.6M410.4 432.0V367.0M451.7 432.0V409.4M465.8 432.0V418.7M477.0 432.0V420.8M511.3 432.0V426.3M603.3 432.0V425.6M176.0 432.0V444.0M186.0 432.0V443.0M194.0 432.0V446.0M228.0 432.0V443.5M241.5 432.0V445.0M262.5 432.0V440.0M268.3 432.0V451.0M314.2 432.0V446.0M387.6 432.0V442.6M408.3 432.0V479.1M410.4 432.0V505.6M451.7 432.0V450.4M478.0 432.0V441.5M511.3 432.0V445.0" stroke-width="0.6" stroke-opacity="0.85"/>
<path d="M241.22 432.0V413.7M241.78 432.0V412.4M120.15 432.0V431.0M120.57 432.0V429.5M120.98 432.0V426.9M121.40 432.0V424.4M121.82 432.0V426.8M122.23 432.0V429.2M122.65 432.0V431.0M120.15 432.0V433.2M120.57 432.0V435.4M120.98 432.0V437.3M121.40 432.0V440.8M121.82 432.0V438.8M122.23 432.0V434.8M122.65 432.0V433.2M139.50 432.0V430.8M139.88 432.0V430.0M140.25 432.0V428.9M140.62 432.0V427.8M141.00 432.0V427.1M141.38 432.0V426.7M141.75 432.0V425.4M142.12 432.0V424.0M142.50 432.0V423.0M142.88 432.0V426.3M143.25 432.0V424.3M143.62 432.0V426.7M144.00 432.0V426.6M144.38 432.0V427.7M144.75 432.0V429.1M145.12 432.0V430.0M145.50 432.0V430.8M139.50 432.0V433.2M139.88 432.0V433.9M140.25 432.0V435.2M140.62 432.0V435.0M141.00 432.0V436.8M141.38 432.0V438.0M141.75 432.0V438.0M142.12 432.0V438.7M142.50 432.0V439.9M142.88 432.0V439.2M143.25 432.0V438.5M143.62 432.0V436.8M144.00 432.0V437.1M144.38 432.0V435.5M144.75 432.0V434.7M145.12 432.0V434.1M145.50 432.0V433.2M232.00 432.0V431.0M232.38 432.0V430.5M232.76 432.0V429.8M233.14 432.0V429.9M233.52 432.0V429.1M233.90 432.0V427.9M234.29 432.0V427.7M234.67 432.0V427.5M235.05 432.0V425.8M235.43 432.0V425.3M235.81 432.0V425.4M236.19 432.0V426.3M236.57 432.0V426.8M236.95 432.0V426.5M237.33 432.0V428.1M237.71 432.0V427.9M238.10 432.0V428.1M238.48 432.0V429.0M238.86 432.0V429.5M239.24 432.0V430.0M239.62 432.0V430.5M240.00 432.0V431.0M233.00 432.0V433.0M233.38 432.0V433.6M233.75 432.0V434.1M234.12 432.0V435.4M234.50 432.0V435.4M234.88 432.0V436.4M235.25 432.0V437.5M235.62 432.0V438.6M236.00 432.0V439.5M236.38 432.0V437.3M236.75 432.0V436.5M237.12 432.0V437.0M237.50 432.0V436.2M237.88 432.0V435.3M238.25 432.0V433.9M238.62 432.0V433.6M239.00 432.0V433.0M475.00 432.0V430.9M475.38 432.0V430.5M475.76 432.0V430.0M476.14 432.0V429.1M476.52 432.0V428.5M476.90 432.0V427.8M477.29 432.0V427.1M477.67 432.0V425.9M478.05 432.0V425.8M478.43 432.0V426.3M478.81 432.0V423.1M479.19 432.0V425.2M479.57 432.0V426.4M479.95 432.0V426.7M480.33 432.0V426.6M480.71 432.0V427.5M481.10 432.0V427.7M481.48 432.0V428.8M481.86 432.0V429.5M482.24 432.0V429.6M482.62 432.0V430.5M483.00 432.0V430.9M475.00 432.0V433.0M475.38 432.0V433.4M475.76 432.0V434.1M476.14 432.0V434.5M476.52 432.0V435.3M476.90 432.0V435.6M477.29 432.0V436.0M477.67 432.0V437.5M478.05 432.0V437.6M478.43 432.0V438.6M478.81 432.0V438.3M479.19 432.0V439.4M479.57 432.0V437.6M479.95 432.0V437.3M480.33 432.0V436.7M480.71 432.0V436.9M481.10 432.0V435.3M481.48 432.0V435.2M481.86 432.0V434.6M482.24 432.0V433.7M482.62 432.0V433.3M483.00 432.0V433.0" stroke-width="0.7"/>
<path d="M43.6 431.6 43.8 432.4 44.0 431.6 44.2 432.4 44.4 431.6 44.6 432.4 44.8 430.7 45.0 433.0 45.2 431.6 45.4 432.4 45.6 431.6 45.8 432.4 46.0 430.9 46.2 432.5 46.4 431.6 46.6 432.9 46.8 431.5 47.0 433.2 47.2 431.2 47.4 433.1 47.6 431.2 47.8 432.4 48.0 431.1 48.2 432.4 48.4 431.5 48.6 432.4 48.8 431.6 49.0 432.9 49.2 431.6 49.4 432.8 49.6 431.5 49.8 432.6 50.0 431.2 50.2 432.4 50.4 431.6 50.6 432.4 50.8 431.6 51.0 432.6 51.2 430.7 51.4 432.4 51.6 431.6 51.8 432.4 52.0 431.3 52.2 432.4 52.4 431.0 52.6 432.4 52.8 430.8 53.0 432.4 53.2 431.6 53.4 433.3 53.6 431.1 53.8 432.4 54.0 431.5 54.2 433.0 54.4 430.3 54.6 432.5 54.8 431.6 55.0 432.6 55.2 431.6 55.4 432.4 55.6 431.3 55.8 433.0 56.0 431.3 56.2 432.4 56.4 431.6 56.6 432.8 56.8 431.6 57.0 432.8 57.2 431.6 57.4 432.4 57.6 431.2 57.8 432.7 58.0 431.6 58.2 432.4 58.4 431.6 58.6 432.4 58.8 431.6 59.0 432.4 59.2 431.2 59.4 433.2 59.6 431.2 59.8 432.7 60.0 431.3 60.2 432.6 60.4 431.5 60.6 432.4 60.8 431.5 61.0 432.8 61.2 431.5 61.4 432.4 61.6 431.6 61.8 432.7 62.0 431.6 62.2 432.4 62.4 430.3 62.6 432.4 62.8 431.3 63.0 432.8 63.2 430.3 63.4 432.4 63.6 431.6 63.8 432.4 64.0 430.3 64.2 432.4 64.4 431.1 64.6 432.9 64.8 430.9 65.0 432.4 65.2 431.6 65.4 432.5 65.6 430.4 65.8 432.6 66.0 431.6 66.2 432.4 66.4 431.6 66.6 432.8 66.8 431.6 67.0 432.6 67.2 431.3 67.4 432.4 67.6 431.5 67.8 432.4 68.0 431.6 68.2 432.4 68.4 431.6 68.6 432.4 68.8 431.6 69.0 432.4 69.2 431.1 69.4 432.5 69.6 430.9 69.8 432.4 70.0 431.6 70.2 432.5 70.4 431.5 70.6 432.7 70.8 430.9 71.0 432.4 71.2 431.1 71.4 432.5 71.6 431.3 71.8 433.7 72.0 431.6 72.2 432.4 72.4 430.7 72.6 432.5 72.8 431.6 73.0 432.5 73.2 431.1 73.4 432.5 73.6 431.2 73.8 433.1 74.0 431.5 74.2 432.4 74.4 431.6 74.6 432.4 74.8 431.6 75.0 432.4 75.2 431.6 75.4 432.4 75.6 431.6 75.8 432.4 76.0 431.0 76.2 433.5 76.4 431.4 76.6 432.4 76.8 431.2 77.0 432.5 77.2 430.8 77.4 432.4 77.6 431.3 77.8 433.4 78.0 430.7 78.2 432.6 78.4 431.5 78.6 432.5 78.8 431.6 79.0 433.4 79.2 431.4 79.4 432.8 79.6 431.2 79.8 432.4 80.0 431.6 80.2 432.4 80.4 431.3 80.6 432.4 80.8 431.5 81.0 432.6 81.2 431.6 81.4 432.5 81.6 430.6 81.8 432.4 82.0 431.5 82.2 432.4 82.4 431.6 82.6 433.3 82.8 431.6 83.0 433.1 83.2 431.2 83.4 432.4 83.6 431.6 83.8 432.4 84.0 431.0 84.2 432.8 84.4 431.6 84.6 432.9 84.8 431.6 85.0 432.4 85.2 431.6 85.4 432.4 85.6 431.6 85.8 432.7 86.0 431.6 86.2 432.5 86.4 430.8 86.6 432.6 86.8 431.5 87.0 432.5 87.2 431.2 87.4 433.0 87.6 431.6 87.8 432.8 88.0 431.6 88.2 432.5 88.4 431.5 88.6 432.4 88.8 431.6 89.0 432.4 89.2 430.7 89.4 432.4 89.6 431.1 89.8 432.4 90.0 431.4 90.2 432.4 90.4 431.6 90.6 432.4 90.8 431.1 91.0 432.4 91.2 431.0 91.4 432.7 91.6 431.6 91.8 432.4 92.0 431.6 92.2 432.4 92.4 431.6 92.6 432.4 92.8 431.5 93.0 432.4 93.2 431.6 93.4 433.1 93.6 431.6 93.8 432.6 94.0 431.6 94.2 433.4 94.4 430.8 94.6 432.6 94.8 430.9 95.0 432.7 95.2 430.1 95.4 432.4 95.6 431.6 95.8 432.4 96.0 431.0 96.2 432.4 96.4 431.4 96.6 432.7 96.8 430.6 97.0 432.6 97.2 430.1 97.4 432.6 97.6 431.3 97.8 432.5 98.0 430.9 98.2 432.8 98.4 431.3 98.6 432.4 98.8 431.6 99.0 433.3 99.2 431.6 99.4 432.6 99.6 431.2 99.8 432.5 100.0 431.6 100.2 432.6 100.4 431.6 100.6 432.4 100.8 431.6 101.0 433.0 101.2 431.6 101.4 432.4 101.6 431.4 101.8 433.6 102.0 431.6 102.2 433.7 102.4 431.6 102.6 433.0 102.8 431.6 103.0 433.1 103.2 430.5 103.4 432.5 103.6 431.6 103.8 432.8 104.0 431.6 104.2 432.6 104.4 431.1 104.6 432.9 104.8 431.4 105.0 432.6 105.2 431.6 105.4 432.4 105.6 431.6 105.8 432.9 106.0 430.5 106.2 432.4 106.4 431.1 106.6 432.6 106.8 431.3 107.0 432.4 107.2 430.3 107.4 432.4 107.6 430.4 107.8 432.7 108.0 431.0 108.2 432.8 108.4 431.1 108.6 432.7 108.8 431.5 109.0 433.4 109.2 430.6 109.4 432.4 109.6 431.0 109.8 433.2 110.0 431.4 110.2 432.4 110.4 431.6 110.6 432.4 110.8 431.5 111.0 432.4 111.2 430.5 111.4 432.4 111.6 431.2 111.8 432.8 112.0 431.5 112.2 432.4 112.4 431.6 112.6 432.9 112.8 431.6 113.0 432.4 113.2 431.6 113.4 432.4 113.6 430.7 113.8 432.4 114.0 431.4 114.2 432.8 114.4 430.4 114.6 433.2 114.8 431.6 115.0 432.4 115.2 431.1 115.4 432.4 115.6 431.6 115.8 432.4 116.0 431.4 116.2 432.9 116.4 431.0 116.6 432.6 116.8 431.5 117.0 433.0 117.2 430.6 117.4 432.4 117.6 429.8 117.8 433.8 118.0 430.3 118.2 433.3 118.4 431.3 118.6 432.4 118.8 431.4 119.0 433.1 119.2 431.0 119.4 433.3 119.6 427.6 119.8 433.1 120.0 428.7 120.2 437.5 120.4 430.1 120.6 432.4 120.8 429.0 121.0 433.3 121.2 427.8 121.4 440.7 121.6 431.6 121.8 440.1 122.0 425.9 122.2 438.8 122.4 428.6 122.6 435.4 122.8 428.7 123.0 432.4 123.2 430.4 123.4 432.5 123.6 430.0 123.8 434.6 124.0 430.4 124.2 432.4 124.4 431.6 124.6 432.8 124.8 431.6 125.0 433.0 125.2 431.6 125.4 434.0 125.6 431.6 125.8 433.7 126.0 430.3 126.2 432.6 126.4 431.6 126.6 433.0 126.8 431.2 127.0 432.4 127.2 431.6 127.4 432.5 127.6 431.3 127.8 433.3 128.0 430.8 128.2 432.7 128.4 430.7 128.6 432.4 128.8 431.2 129.0 432.4 129.2 430.9 129.4 433.7 129.6 431.6 129.8 432.4 130.0 431.1 130.2 432.4 130.4 431.6 130.6 432.4 130.8 430.4 131.0 432.4 131.2 430.2 131.4 433.9 131.6 431.1 131.8 432.8 132.0 431.6 132.2 432.4 132.4 430.6 132.6 432.4 132.8 431.6 133.0 433.7 133.2 430.9 133.4 432.4 133.6 430.6 133.8 432.8 134.0 431.5 134.2 433.3 134.4 430.9 134.6 433.2 134.8 430.4 135.0 432.6 135.2 430.7 135.4 432.5 135.6 431.6 135.8 434.2 136.0 430.3 136.2 433.1 136.4 430.4 136.6 432.6 136.8 431.6 137.0 432.6 137.2 431.6 137.4 433.4 137.6 429.5 137.8 434.2 138.0 431.4 138.2 432.8 138.4 428.4 138.6 434.8 138.8 429.7 139.0 435.7 139.2 429.5 139.4 434.7 139.6 429.1 139.8 434.6 140.0 422.2 140.2 436.7 140.4 425.1 140.6 432.4 140.8 427.1 141.0 436.3 141.2 427.1 141.4 435.9 141.6 427.0 141.8 442.8 142.0 429.9 142.2 433.6 142.4 426.2 142.6 432.5 142.8 431.3 143.0 433.4 143.2 430.3 143.4 434.5 143.6 429.0 143.8 437.0 144.0 422.8 144.2 437.1 144.4 426.9 144.6 437.3 144.8 430.4 145.0 434.5 145.2 425.3 145.4 432.4 145.6 428.9 145.8 435.5 146.0 422.5 146.2 439.9 146.4 428.8 146.6 432.4 146.8 426.9 147.0 432.4 147.2 426.0 147.4 437.0 147.6 431.1 147.8 434.4 148.0 431.5 148.2 433.5 148.4 430.3 148.6 434.0 148.8 431.6 149.0 432.4 149.2 429.2 149.4 432.4 149.6 429.6 149.8 432.8 150.0 428.3 150.2 433.7 150.4 428.5 150.6 435.0 150.8 430.6 151.0 432.4 151.2 429.4 151.4 432.5 151.6 430.3 151.8 434.7 152.0 430.4 152.2 434.5 152.4 431.3 152.6 432.4 152.8 429.6 153.0 432.8 153.2 430.3 153.4 435.1 153.6 430.3 153.8 432.6 154.0 431.6 154.2 433.6 154.4 431.6 154.6 433.9 154.8 431.6 155.0 432.4 155.2 431.6 155.4 434.2 155.6 431.6 155.8 432.8 156.0 430.9 156.2 432.4 156.4 430.3 156.6 432.9 156.8 429.7 157.0 435.0 157.2 430.5 157.4 432.4 157.6 431.6 157.8 432.9 158.0 431.3 158.2 433.6 158.4 430.1 158.6 432.7 158.8 430.9 159.0 432.4 159.2 431.6 159.4 432.4 159.6 431.6 159.8 432.7 160.0 431.2 160.2 432.6 160.4 430.5 160.6 433.8 160.8 429.8 161.0 433.5 161.2 431.6 161.4 434.0 161.6 431.2 161.8 435.6 162.0 431.0 162.2 434.4 162.4 431.0 162.6 433.4 162.8 431.4 163.0 432.4 163.2 429.2 163.4 434.8 163.6 428.8 163.8 436.6 164.0 431.6 164.2 432.4 164.4 430.9 164.6 433.1 164.8 429.1 165.0 434.8 165.2 428.6 165.4 434.2 165.6 430.4 165.8 435.8 166.0 430.1 166.2 432.4 166.4 429.4 166.6 434.4 166.8 429.8 167.0 435.6 167.2 431.6 167.4 434.2 167.6 428.3 167.8 434.6 168.0 431.5 168.2 433.8 168.4 430.9 168.6 432.7 168.8 427.5 169.0 434.3 169.2 430.3 169.4 432.6 169.6 431.4 169.8 433.5 170.0 431.1 170.2 432.4 170.4 429.1 170.6 433.1 170.8 431.1 171.0 433.3 171.2 427.6 171.4 435.5 171.6 428.2 171.8 434.9 172.0 427.7 172.2 432.4 172.4 431.6 172.6 435.3 172.8 430.1 173.0 434.5 173.2 431.2 173.4 432.6 173.6 431.6 173.8 436.9 174.0 429.7 174.2 434.5 174.4 430.7 174.6 434.2 174.8 430.3 175.0 433.6 175.2 429.0 175.4 433.1 175.6 428.3 175.8 433.7 176.0 430.7 176.2 432.4 176.4 430.8 176.6 434.5 176.8 429.7 177.0 433.8 177.2 429.5 177.4 432.7 177.6 431.6 177.8 432.5 178.0 430.1 178.2 432.4 178.4 430.0 178.6 432.6 178.8 431.6 179.0 434.8 179.2 430.2 179.4 433.1 179.6 427.7 179.8 432.9 180.0 431.2 180.2 432.4 180.4 426.7 180.6 433.7 180.8 431.5 181.0 432.5 181.2 431.5 181.4 436.6 181.6 431.4 181.8 432.4 182.0 430.4 182.2 434.0 182.4 430.7 182.6 435.2 182.8 429.3 183.0 433.5 183.2 431.6 183.4 432.8 183.6 428.8 183.8 434.8 184.0 431.2 184.2 432.4 184.4 431.6 184.6 436.3 184.8 430.2 185.0 433.7 185.2 431.4 185.4 432.4 185.6 428.8 185.8 433.6 186.0 429.0 186.2 437.0 186.4 428.0 186.6 434.2 186.8 431.2 187.0 433.9 187.2 430.9 187.4 432.4 187.6 429.1 187.8 433.8 188.0 431.0 188.2 433.5 188.4 430.4 188.6 435.1 188.8 430.4 189.0 437.0 189.2 431.6 189.4 433.3 189.6 431.3 189.8 436.1 190.0 430.1 190.2 433.4 190.4 430.7 190.6 433.0 190.8 430.8 191.0 437.1 191.2 431.6 191.4 432.6 191.6 427.1 191.8 433.1 192.0 431.6 192.2 435.9 192.4 431.4 192.6 433.0 192.8 431.5 193.0 433.6 193.2 431.6 193.4 432.4 193.6 431.0 193.8 434.5 194.0 431.2 194.2 433.5 194.4 431.6 194.6 435.2 194.8 426.5 195.0 436.2 195.2 431.4 195.4 432.5 195.6 430.6 195.8 434.5 196.0 428.8 196.2 434.3 196.4 430.2 196.6 437.6 196.8 431.1 197.0 435.0 197.2 429.1 197.4 436.2 197.6 431.1 197.8 434.5 198.0 431.6 198.2 433.3 198.4 429.8 198.6 436.3 198.8 431.1 199.0 433.7 199.2 431.6 199.4 432.6 199.6 430.3 199.8 434.4 200.0 430.8 200.2 436.5 200.4 431.1 200.6 434.4 200.8 429.7 201.0 432.8 201.2 431.5 201.4 434.6 201.6 431.6 201.8 432.7 202.0 431.2 202.2 435.5 202.4 429.3 202.6 433.2 202.8 431.1 203.0 433.2 203.2 430.9 203.4 432.4 203.6 429.4 203.8 433.2 204.0 431.5 204.2 433.3 204.4 429.4 204.6 432.4 204.8 427.8 205.0 433.8 205.2 431.6 205.4 432.6 205.6 431.5 205.8 433.4 206.0 428.0 206.2 434.9 206.4 431.4 206.6 432.4 206.8 429.2 207.0 432.4 207.2 429.4 207.4 432.4 207.6 431.3 207.8 434.4 208.0 430.4 208.2 433.6 208.4 431.6 208.6 432.4 208.8 430.3 209.0 434.2 209.2 431.6 209.4 433.1 209.6 431.6 209.8 435.5 210.0 431.2 210.2 433.5 210.4 430.1 210.6 432.4 210.8 427.7 211.0 433.3 211.2 429.9 211.4 433.9 211.6 430.7 211.8 432.4 212.0 431.6 212.2 434.2 212.4 431.3 212.6 433.2 212.8 431.3 213.0 432.5 213.2 428.6 213.4 432.4 213.6 431.6 213.8 432.9 214.0 428.6 214.2 432.4 214.4 431.1 214.6 432.7 214.8 430.6 215.0 432.4 215.2 431.3 215.4 432.9 215.6 429.4 215.8 432.4 216.0 430.4 216.2 432.7 216.4 431.0 216.6 434.0 216.8 431.5 217.0 432.4 217.2 430.4 217.4 433.5 217.6 428.9 217.8 433.7 218.0 429.5 218.2 433.4 218.4 429.4 218.6 432.4 218.8 429.1 219.0 434.4 219.2 431.4 219.4 436.6 219.6 430.1 219.8 434.3 220.0 428.4 220.2 434.9 220.4 431.6 220.6 434.6 220.8 430.8 221.0 434.1 221.2 431.1 221.4 434.0 221.6 430.8 221.8 435.7 222.0 431.5 222.2 433.0 222.4 429.0 222.6 433.8 222.8 431.1 223.0 433.8 223.2 428.3 223.4 433.9 223.6 428.9 223.8 434.3 224.0 431.3 224.2 433.6 224.4 430.2 224.6 432.4 224.8 430.7 225.0 433.9 225.2 427.1 225.4 433.9 225.6 431.0 225.8 435.3 226.0 429.3 226.2 432.4 226.4 431.3 226.6 435.4 226.8 431.2 227.0 433.5 227.2 430.1 227.4 433.2 227.6 430.7 227.8 433.9 228.0 431.4 228.2 433.0 228.4 430.1 228.6 432.7 228.8 426.6 229.0 432.7 229.2 431.6 229.4 436.2 229.6 429.3 229.8 434.4 230.0 429.7 230.2 432.4 230.4 431.3 230.6 432.8 230.8 431.3 231.0 438.9 231.2 429.8 231.4 438.4 231.6 428.4 231.8 434.2 232.0 427.0 232.2 435.3 232.4 429.8 232.6 433.3 232.8 431.6 233.0 434.0 233.2 430.4 233.4 437.2 233.6 429.5 233.8 432.4 234.0 431.6 234.2 433.1 234.4 429.2 234.6 433.4 234.8 430.8 235.0 434.8 235.2 425.3 235.4 436.9 235.6 430.9 235.8 432.4 236.0 429.2 236.2 434.2 236.4 428.8 236.6 433.4 236.8 426.7 237.0 434.3 237.2 431.6 237.4 434.7 237.6 429.9 237.8 432.9 238.0 430.5 238.2 432.8 238.4 430.5 238.6 437.4 238.8 430.0 239.0 434.0 239.2 429.6 239.4 434.9 239.6 430.0 239.8 433.0 240.0 427.3 240.2 434.1 240.4 431.5 240.6 434.2 240.8 429.3 241.0 435.9 241.2 429.0 241.4 434.8 241.6 431.6 241.8 436.1 242.0 429.2 242.2 434.5 242.4 431.6 242.6 436.5 242.8 428.8 243.0 434.3 243.2 430.4 243.4 434.3 243.6 430.9 243.8 438.0 244.0 430.9 244.2 435.0 244.4 431.0 244.6 434.8 244.8 427.4 245.0 435.6 245.2 430.9 245.4 432.9 245.6 431.0 245.8 432.4 246.0 431.5 246.2 433.2 246.4 427.9 246.6 432.6 246.8 429.9 247.0 432.5 247.2 431.4 247.4 433.4 247.6 428.4 247.8 432.6 248.0 427.7 248.2 433.9 248.4 430.8 248.6 432.4 248.8 431.6 249.0 432.8 249.2 430.1 249.4 434.5 249.6 429.8 249.8 433.9 250.0 431.6 250.2 434.4 250.4 430.9 250.6 432.6 250.8 429.9 251.0 432.4 251.2 431.3 251.4 432.8 251.6 427.6 251.8 432.4 252.0 431.5 252.2 432.9 252.4 431.6 252.6 432.4 252.8 431.6 253.0 433.7 253.2 431.3 253.4 434.0 253.6 431.4 253.8 436.3 254.0 429.0 254.2 436.0 254.4 430.0 254.6 432.4 254.8 429.1 255.0 432.9 255.2 431.6 255.4 434.1 255.6 430.8 255.8 433.7 256.0 429.1 256.2 432.4 256.4 427.1 256.6 434.1 256.8 431.6 257.0 434.3 257.2 429.6 257.4 434.6 257.6 431.6 257.8 433.2 258.0 429.9 258.2 432.4 258.4 431.5 258.6 432.8 258.8 431.1 259.0 434.7 259.2 431.0 259.4 432.4 259.6 431.6 259.8 434.2 260.0 431.6 260.2 433.2 260.4 431.6 260.6 433.6 260.8 430.6 261.0 432.5 261.2 431.2 261.4 433.5 261.6 430.1 261.8 433.4 262.0 429.1 262.2 432.4 262.4 429.5 262.6 433.6 262.8 431.6 263.0 433.3 263.2 428.7 263.4 432.6 263.6 430.6 263.8 433.4 264.0 431.6 264.2 432.4 264.4 428.5 264.6 435.9 264.8 430.3 265.0 434.0 265.2 429.8 265.4 432.4 265.6 428.3 265.8 436.9 266.0 430.6 266.2 433.2 266.4 430.5 266.6 432.4 266.8 431.1 267.0 432.6 267.2 430.6 267.4 433.8 267.6 431.0 267.8 435.2 268.0 430.2 268.2 436.4 268.4 431.1 268.6 432.4 268.8 431.5 269.0 435.1 269.2 431.6 269.4 432.9 269.6 429.7 269.8 432.9 270.0 431.6 270.2 434.7 270.4 430.8 270.6 432.4 270.8 429.4 271.0 434.2 271.2 430.1 271.4 432.4 271.6 431.6 271.8 432.7 272.0 427.8 272.2 432.9 272.4 431.1 272.6 432.8 272.8 431.6 273.0 432.4 273.2 430.7 273.4 434.6 273.6 429.4 273.8 434.8 274.0 431.5 274.2 432.4 274.4 428.9 274.6 433.1 274.8 429.9 275.0 434.4 275.2 430.1 275.4 433.7 275.6 431.2 275.8 433.1 276.0 430.7 276.2 432.4 276.4 431.2 276.6 433.4 276.8 431.1 277.0 435.3 277.2 431.6 277.4 432.5 277.6 427.6 277.8 434.0 278.0 430.0 278.2 433.2 278.4 431.1 278.6 435.6 278.8 427.6 279.0 432.4 279.2 431.0 279.4 433.6 279.6 430.6 279.8 432.4 280.0 430.7 280.2 436.2 280.4 428.9 280.6 432.7 280.8 431.6 281.0 434.7 281.2 430.0 281.4 433.1 281.6 431.2 281.8 432.4 282.0 431.6 282.2 434.2 282.4 431.0 282.6 432.8 282.8 429.5 283.0 432.4 283.2 429.7 283.4 432.4 283.6 431.6 283.8 433.6 284.0 431.4 284.2 434.5 284.4 431.6 284.6 433.4 284.8 430.3 285.0 432.4 285.2 428.8 285.4 433.4 285.6 430.5 285.8 434.3 286.0 429.7 286.2 434.0 286.4 429.5 286.6 433.5 286.8 430.6 287.0 436.0 287.2 431.0 287.4 434.9 287.6 429.8 287.8 434.1 288.0 431.1 288.2 434.0 288.4 431.3 288.6 433.4 288.8 430.6 289.0 434.7 289.2 430.9 289.4 435.2 289.6 427.3 289.8 433.7 290.0 431.5 290.2 433.2 290.4 429.3 290.6 434.1 290.8 430.8 291.0 433.1 291.2 430.5 291.4 433.0 291.6 429.4 291.8 434.1 292.0 427.3 292.2 433.0 292.4 428.2 292.6 432.5 292.8 431.0 293.0 433.1 293.2 431.6 293.4 433.9 293.6 431.2 293.8 432.6 294.0 430.1 294.2 435.5 294.4 431.4 294.6 434.2 294.8 431.5 295.0 433.4 295.2 431.4 295.4 432.8 295.6 431.2 295.8 432.7 296.0 430.6 296.2 434.7 296.4 431.6 296.6 434.5 296.8 431.4 297.0 432.4 297.2 427.9 297.4 434.7 297.6 430.5 297.8 432.6 298.0 431.6 298.2 432.7 298.4 431.0 298.6 435.8 298.8 428.9 299.0 433.3 299.2 430.7 299.4 435.5 299.6 431.4 299.8 432.6 300.0 429.3 300.2 434.4 300.4 429.1 300.6 435.1 300.8 429.0 301.0 432.4 301.2 431.6 301.4 433.3 301.6 430.7 301.8 432.4 302.0 430.7 302.2 432.9 302.4 431.5 302.6 433.6 302.8 429.0 303.0 432.4 303.2 430.3 303.4 435.0 303.6 427.4 303.8 433.9 304.0 431.6 304.2 433.1 304.4 431.5 304.6 433.6 304.8 428.3 305.0 433.2 305.2 429.6 305.4 434.1 305.6 429.5 305.8 433.2 306.0 430.6 306.2 433.8 306.4 429.6 306.6 433.0 306.8 428.2 307.0 433.1 307.2 429.5 307.4 435.6 307.6 431.5 307.8 432.4 308.0 431.3 308.2 433.8 308.4 429.1 308.6 433.5 308.8 430.3 309.0 435.3 309.2 429.6 309.4 433.8 309.6 429.8 309.8 432.4 310.0 430.8 310.2 432.9 310.4 431.6 310.6 433.6 310.8 431.6 311.0 434.2 311.2 429.6 311.4 432.5 311.6 430.9 311.8 432.9 312.0 430.6 312.2 433.0 312.4 427.5 312.6 432.8 312.8 431.6 313.0 432.7 313.2 430.1 313.4 433.9 313.6 428.0 313.8 433.3 314.0 428.7 314.2 435.1 314.4 431.6 314.6 434.0 314.8 429.7 315.0 432.9 315.2 431.6 315.4 432.6 315.6 429.4 315.8 433.4 316.0 429.4 316.2 432.7 316.4 430.8 316.6 432.4 316.8 430.4 317.0 433.6 317.2 431.4 317.4 434.6 317.6 429.0 317.8 433.6 318.0 430.9 318.2 432.4 318.4 431.6 318.6 433.5 318.8 431.0 319.0 432.4 319.2 431.5 319.4 432.4 319.6 431.2 319.8 434.4 320.0 431.6 320.2 432.4 320.4 430.0 320.6 433.8 320.8 431.6 321.0 433.6 321.2 431.6 321.4 435.3 321.6 430.1 321.8 434.2 322.0 430.3 322.2 435.2 322.4 431.6 322.6 435.9 322.8 431.0 323.0 432.8 323.2 429.2 323.4 432.9 323.6 431.1 323.8 432.5 324.0 431.6 324.2 434.0 324.4 430.7 324.6 432.4 324.8 430.2 325.0 432.4 325.2 430.3 325.4 432.9 325.6 431.6 325.8 433.9 326.0 430.7 326.2 432.9 326.4 430.3 326.6 435.8 326.8 430.1 327.0 436.1 327.2 429.9 327.4 432.4 327.6 431.6 327.8 433.7 328.0 431.6 328.2 432.7 328.4 431.2 328.6 434.9 328.8 431.6 329.0 432.4 329.2 429.7 329.4 433.6 329.6 430.1 329.8 434.3 330.0 430.3 330.2 433.0 330.4 431.6 330.6 432.4 330.8 431.3 331.0 433.3 331.2 431.1 331.4 436.4 331.6 429.7 331.8 433.6 332.0 430.1 332.2 434.6 332.4 429.5 332.6 433.3 332.8 431.5 333.0 432.9 333.2 431.1 333.4 432.4 333.6 430.0 333.8 433.0 334.0 431.6 334.2 432.4 334.4 430.5 334.6 435.7 334.8 431.2 335.0 433.1 335.2 431.6 335.4 434.8 335.6 428.5 335.8 433.8 336.0 431.6 336.2 433.3 336.4 431.6 336.6 434.0 336.8 429.0 337.0 433.9 337.2 431.4 337.4 436.4 337.6 431.1 337.8 432.4 338.0 430.8 338.2 433.6 338.4 429.9 338.6 434.3 338.8 430.2 339.0 432.5 339.2 431.5 339.4 433.1 339.6 431.6 339.8 432.9 340.0 428.6 340.2 432.9 340.4 431.2 340.6 432.6 340.8 430.5 341.0 432.8 341.2 431.3 341.4 434.0 341.6 430.0 341.8 434.4 342.0 430.9 342.2 433.0 342.4 431.6 342.6 433.2 342.8 430.0 343.0 432.4 343.2 430.6 343.4 435.6 343.6 431.1 343.8 432.6 344.0 430.4 344.2 432.9 344.4 430.4 344.6 432.4 344.8 431.4 345.0 434.5 345.2 430.6 345.4 432.4 345.6 431.1 345.8 434.9 346.0 430.7 346.2 434.5 346.4 429.8 346.6 434.1 346.8 431.4 347.0 435.1 347.2 431.6 347.4 432.9 347.6 430.8 347.8 433.5 348.0 428.9 348.2 433.6 348.4 429.9 348.6 435.5 348.8 431.0 349.0 432.4 349.2 430.8 349.4 434.2 349.6 429.0 349.8 432.9 350.0 431.6 350.2 433.6 350.4 431.6 350.6 432.9 350.8 430.8 351.0 434.9 351.2 428.4 351.4 432.6 351.6 429.7 351.8 433.4 352.0 431.5 352.2 432.4 352.4 431.4 352.6 435.6 352.8 429.3 353.0 433.2 353.2 430.6 353.4 434.9 353.6 429.1 353.8 433.6 354.0 427.6 354.2 433.4 354.4 430.7 354.6 432.4 354.8 429.7 355.0 432.8 355.2 431.1 355.4 432.4 355.6 431.1 355.8 432.9 356.0 431.6 356.2 433.5 356.4 430.0 356.6 433.1 356.8 428.3 357.0 433.4 357.2 431.6 357.4 434.0 357.6 430.6 357.8 433.3 358.0 431.5 358.2 433.1 358.4 428.8 358.6 432.5 358.8 430.0 359.0 433.2 359.2 431.5 359.4 433.9 359.6 431.6 359.8 435.5 360.0 429.9 360.2 434.3 360.4 430.9 360.6 432.9 360.8 431.6 361.0 436.3 361.2 431.4 361.4 432.4 361.6 428.7 361.8 435.9 362.0 427.6 362.2 432.6 362.4 430.6 362.6 432.5 362.8 430.0 363.0 435.4 363.2 431.0 363.4 436.4 363.6 430.2 363.8 433.5 364.0 431.6 364.2 433.6 364.4 428.3 364.6 433.3 364.8 431.6 365.0 434.4 365.2 431.5 365.4 436.4 365.6 429.3 365.8 432.4 366.0 430.8 366.2 432.4 366.4 430.0 366.6 432.4 366.8 431.3 367.0 432.4 367.2 429.8 367.4 436.1 367.6 430.8 367.8 433.9 368.0 429.0 368.2 432.4 368.4 431.6 368.6 432.4 368.8 431.2 369.0 434.4 369.2 431.6 369.4 432.4 369.6 431.4 369.8 432.4 370.0 431.3 370.2 432.8 370.4 430.8 370.6 433.4 370.8 431.4 371.0 434.5 371.2 431.6 371.4 432.8 371.6 431.0 371.8 432.9 372.0 429.6 372.2 436.4 372.4 431.6 372.6 433.6 372.8 429.8 373.0 434.9 373.2 431.6 373.4 435.2 373.6 428.1 373.8 433.3 374.0 430.0 374.2 432.9 374.4 431.5 374.6 434.7 374.8 431.3 375.0 432.4 375.2 431.6 375.4 435.1 375.6 430.0 375.8 435.5 376.0 431.6 376.2 433.1 376.4 431.6 376.6 433.1 376.8 429.9 377.0 435.9 377.2 430.5 377.4 432.5 377.6 429.5 377.8 434.5 378.0 429.1 378.2 432.4 378.4 430.8 378.6 433.1 378.8 429.1 379.0 432.4 379.2 429.7 379.4 432.4 379.6 431.1 379.8 434.2 380.0 431.2 380.2 432.5 380.4 429.8 380.6 432.4 380.8 429.6 381.0 432.9 381.2 431.2 381.4 433.9 381.6 431.6 381.8 436.4 382.0 430.7 382.2 432.5 382.4 430.5 382.6 432.9 382.8 431.5 383.0 432.5 383.2 430.0 383.4 436.3 383.6 431.6 383.8 433.5 384.0 430.6 384.2 432.6 384.4 427.8 384.6 432.4 384.8 430.4 385.0 434.7 385.2 429.2 385.4 435.4 385.6 431.4 385.8 432.4 386.0 431.6 386.2 432.6 386.4 427.8 386.6 434.4 386.8 427.7 387.0 432.5 387.2 428.5 387.4 435.1 387.6 430.4 387.8 433.3 388.0 431.6 388.2 433.3 388.4 431.6 388.6 433.2 388.8 431.6 389.0 433.3 389.2 431.6 389.4 434.1 389.6 430.4 389.8 435.7 390.0 431.6 390.2 435.7 390.4 431.6 390.6 435.3 390.8 429.2 391.0 433.6 391.2 431.2 391.4 436.0 391.6 430.4 391.8 433.7 392.0 431.6 392.2 433.1 392.4 428.3 392.6 433.8 392.8 428.6 393.0 435.1 393.2 428.8 393.4 432.4 393.6 431.3 393.8 433.4 394.0 429.5 394.2 432.6 394.4 431.3 394.6 433.1 394.8 429.5 395.0 432.4 395.2 430.0 395.4 434.6 395.6 431.3 395.8 432.8 396.0 429.1 396.2 432.9 396.4 430.0 396.6 433.9 396.8 430.2 397.0 434.2 397.2 431.1 397.4 432.4 397.6 430.4 397.8 432.6 398.0 431.6 398.2 432.4 398.4 429.2 398.6 433.9 398.8 431.5 399.0 432.8 399.2 430.3 399.4 436.3 399.6 431.0 399.8 433.0 400.0 431.6 400.2 432.4 400.4 431.6 400.6 433.7 400.8 430.6 401.0 432.6 401.2 428.2 401.4 433.3 401.6 431.2 401.8 433.0 402.0 429.8 402.2 433.2 402.4 431.6 402.6 432.9 402.8 428.4 403.0 432.4 403.2 429.9 403.4 432.4 403.6 427.7 403.8 435.0 404.0 430.4 404.2 433.7 404.4 431.5 404.6 432.6 404.8 430.1 405.0 433.9 405.2 427.8 405.4 433.6 405.6 429.1 405.8 436.4 406.0 431.5 406.2 432.5 406.4 430.1 406.6 435.1 406.8 430.6 407.0 432.4 407.2 430.1 407.4 433.1 407.6 431.0 407.8 432.4 408.0 431.5 408.2 432.9 408.4 429.5 408.6 435.5 408.8 429.5 409.0 433.6 409.2 431.1 409.4 432.4 409.6 429.6 409.8 433.6 410.0 430.3 410.2 432.7 410.4 431.6 410.6 432.6 410.8 431.5 411.0 433.3 411.2 430.0 411.4 432.4 411.6 431.5 411.8 432.7 412.0 431.6 412.2 434.5 412.4 431.3 412.6 436.3 412.8 430.1 413.0 435.8 413.2 430.4 413.4 433.3 413.6 431.4 413.8 434.7 414.0 431.1 414.2 433.1 414.4 430.8 414.6 433.8 414.8 431.3 415.0 433.5 415.2 429.4 415.4 434.2 415.6 430.7 415.8 434.4 416.0 431.6 416.2 432.4 416.4 430.5 416.6 434.9 416.8 431.0 417.0 435.3 417.2 431.5 417.4 432.4 417.6 430.4 417.8 433.0 418.0 431.6 418.2 433.3 418.4 431.3 418.6 434.8 418.8 430.4 419.0 432.4 419.2 431.6 419.4 432.6 419.6 430.7 419.8 433.5 420.0 429.7 420.2 434.2 420.4 428.9 420.6 433.7 420.8 430.9 421.0 436.4 421.2 428.8 421.4 433.8 421.6 430.4 421.8 433.8 422.0 431.6 422.2 433.5 422.4 428.8 422.6 433.7 422.8 431.6 423.0 436.4 423.2 430.6 423.4 434.7 423.6 429.8 423.8 434.3 424.0 431.5 424.2 433.9 424.4 431.2 424.6 433.3 424.8 429.7 425.0 434.3 425.2 431.6 425.4 433.8 425.6 431.0 425.8 433.0 426.0 430.4 426.2 433.1 426.4 431.6 426.6 432.4 426.8 431.6 427.0 432.4 427.2 430.1 427.4 435.0 427.6 431.4 427.8 432.4 428.0 430.3 428.2 434.0 428.4 431.6 428.6 435.7 428.8 428.3 429.0 434.0 429.2 430.8 429.4 432.8 429.6 431.6 429.8 432.4 430.0 429.6 430.2 434.0 430.4 429.1 430.6 432.4 430.8 431.6 431.0 433.1 431.2 429.2 431.4 433.4 431.6 428.7 431.8 436.4 432.0 431.6 432.2 432.4 432.4 430.5 432.6 432.9 432.8 429.8 433.0 433.0 433.2 431.1 433.4 432.7 433.6 431.5 433.8 435.2 434.0 431.1 434.2 432.4 434.4 429.6 434.6 434.8 434.8 431.6 435.0 435.2 435.2 431.6 435.4 435.0 435.6 429.6 435.8 432.7 436.0 430.8 436.2 432.4 436.4 428.3 436.6 432.4 436.8 431.1 437.0 432.8 437.2 431.6 437.4 432.4 437.6 430.0 437.8 433.6 438.0 431.6 438.2 436.1 438.4 430.2 438.6 433.1 438.8 430.8 439.0 432.4 439.2 429.8 439.4 433.6 439.6 430.1 439.8 433.8 440.0 431.5 440.2 436.1 440.4 431.4 440.6 432.5 440.8 431.6 441.0 432.9 441.2 428.7 441.4 433.3 441.6 431.5 441.8 433.6 442.0 429.0 442.2 432.4 442.4 427.9 442.6 432.4 442.8 431.6 443.0 433.4 443.2 431.1 443.4 433.9 443.6 431.0 443.8 433.1 444.0 431.5 444.2 434.4 444.4 430.6 444.6 433.8 444.8 429.6 445.0 432.9 445.2 429.3 445.4 434.0 445.6 429.9 445.8 435.6 446.0 430.9 446.2 432.8 446.4 429.7 446.6 432.4 446.8 430.2 447.0 433.6 447.2 430.3 447.4 435.4 447.6 431.4 447.8 433.2 448.0 428.5 448.2 432.9 448.4 430.6 448.6 435.0 448.8 431.6 449.0 432.6 449.2 430.7 449.4 433.0 449.6 427.6 449.8 433.3 450.0 428.9 450.2 434.8 450.4 431.2 450.6 432.4 450.8 431.3 451.0 432.4 451.2 430.4 451.4 432.4 451.6 431.0 451.8 433.9 452.0 431.2 452.2 433.2 452.4 431.1 452.6 434.8 452.8 428.5 453.0 432.4 453.2 431.6 453.4 435.6 453.6 430.9 453.8 432.8 454.0 430.1 454.2 433.1 454.4 431.3 454.6 434.0 454.8 430.5 455.0 433.9 455.2 430.0 455.4 432.4 455.6 430.1 455.8 432.7 456.0 431.6 456.2 435.8 456.4 431.6 456.6 432.7 456.8 427.7 457.0 432.4 457.2 431.6 457.4 432.6 457.6 431.6 457.8 435.2 458.0 427.8 458.2 432.4 458.4 431.2 458.6 432.4 458.8 429.5 459.0 434.7 459.2 427.6 459.4 433.9 459.6 430.6 459.8 432.4 460.0 430.8 460.2 434.7 460.4 431.2 460.6 435.2 460.8 431.6 461.0 433.0 461.2 429.4 461.4 433.4 461.6 430.4 461.8 434.9 462.0 431.6 462.2 432.7 462.4 430.8 462.6 432.5 462.8 428.7 463.0 432.4 463.2 430.2 463.4 434.3 463.6 431.1 463.8 433.9 464.0 431.1 464.2 433.6 464.4 431.1 464.6 434.3 464.8 431.6 465.0 433.9 465.2 431.6 465.4 434.9 465.6 430.8 465.8 432.6 466.0 431.4 466.2 434.3 466.4 430.3 466.6 435.8 466.8 430.1 467.0 434.5 467.2 430.4 467.4 433.1 467.6 430.7 467.8 432.4 468.0 430.1 468.2 432.7 468.4 431.4 468.6 435.7 468.8 430.7 469.0 433.3 469.2 430.8 469.4 433.1 469.6 431.6 469.8 432.4 470.0 431.6 470.2 432.7 470.4 430.4 470.6 432.6 470.8 430.6 471.0 436.2 471.2 427.4 471.4 433.0 471.6 429.3 471.8 433.2 472.0 430.0 472.2 435.9 472.4 428.5 472.6 432.4 472.8 431.0 473.0 433.7 473.2 430.8 473.4 437.1 473.6 427.3 473.8 435.3 474.0 428.1 474.2 435.8 474.4 430.5 474.6 433.5 474.8 429.1 475.0 435.1 475.2 428.3 475.4 432.4 475.6 425.3 475.8 432.7 476.0 430.3 476.2 432.8 476.4 430.7 476.6 433.9 476.8 427.4 477.0 434.8 477.2 428.5 477.4 432.4 477.6 426.8 477.8 432.8 478.0 424.5 478.2 437.8 478.4 426.2 478.6 434.6 478.8 427.2 479.0 439.5 479.2 430.6 479.4 435.7 479.6 428.3 479.8 432.8 480.0 425.5 480.2 435.0 480.4 430.3 480.6 439.5 480.8 431.5 481.0 436.1 481.2 430.9 481.4 433.9 481.6 431.6 481.8 435.4 482.0 429.4 482.2 434.8 482.4 427.5 482.6 432.4 482.8 430.2 483.0 433.1 483.2 429.6 483.4 439.5 483.6 425.0 483.8 432.4 484.0 430.4 484.2 434.0 484.4 429.7 484.6 432.5 484.8 431.0 485.0 433.7 485.2 431.3 485.4 434.1 485.6 430.7 485.8 433.5 486.0 431.3 486.2 434.7 486.4 431.6 486.6 433.5 486.8 431.1 487.0 432.7 487.2 428.4 487.4 433.9 487.6 429.6 487.8 432.8 488.0 431.6 488.2 432.4 488.4 430.6 488.6 432.5 488.8 431.6 489.0 432.4 489.2 431.2 489.4 432.4 489.6 431.6 489.8 434.8 490.0 431.1 490.2 432.4 490.4 429.9 490.6 433.6 490.8 430.2 491.0 432.4 491.2 431.5 491.4 434.0 491.6 431.6 491.8 434.2 492.0 430.7 492.2 432.9 492.4 428.8 492.6 434.0 492.8 430.9 493.0 432.4 493.2 430.8 493.4 433.5 493.6 429.6 493.8 432.8 494.0 430.7 494.2 432.4 494.4 429.5 494.6 432.4 494.8 431.2 495.0 433.0 495.2 431.5 495.4 432.4 495.6 431.6 495.8 432.4 496.0 431.0 496.2 433.2 496.4 431.0 496.6 433.5 496.8 430.9 497.0 432.4 497.2 431.6 497.4 433.3 497.6 430.2 497.8 432.4 498.0 431.0 498.2 432.8 498.4 430.7 498.6 432.8 498.8 431.1 499.0 433.7 499.2 430.1 499.4 433.5 499.6 431.2 499.8 433.4 500.0 431.6 500.2 433.1 500.4 431.6 500.6 432.5 500.8 430.5 501.0 432.4 501.2 430.8 501.4 433.0 501.6 431.5 501.8 433.6 502.0 431.6 502.2 432.6 502.4 431.6 502.6 432.4 502.8 431.2 503.0 433.3 503.2 431.6 503.4 432.9 503.6 431.4 503.8 432.4 504.0 430.3 504.2 432.7 504.4 430.5 504.6 432.4 504.8 431.6 505.0 432.9 505.2 430.8 505.4 432.4 505.6 431.2 505.8 433.2 506.0 431.4 506.2 432.4 506.4 431.6 506.6 433.1 506.8 431.6 507.0 433.5 507.2 430.3 507.4 432.4 507.6 430.3 507.8 433.8 508.0 431.6 508.2 433.1 508.4 431.6 508.6 433.1 508.8 431.2 509.0 432.4 509.2 431.4 509.4 432.4 509.6 430.9 509.8 432.4 510.0 431.3 510.2 432.8 510.4 431.6 510.6 433.4 510.8 431.5 511.0 432.5 511.2 431.0 511.4 433.2 511.6 431.6 511.8 432.5 512.0 431.6 512.2 433.8 512.4 431.4 512.6 432.6 512.8 431.6 513.0 434.4 513.2 431.1 513.4 433.7 513.6 431.6 513.8 432.5 514.0 430.0 514.2 433.2 514.4 431.6 514.6 432.5 514.8 431.2 515.0 432.9 515.2 430.6 515.4 432.4 515.6 430.7 515.8 433.3 516.0 430.5 516.2 432.4 516.4 431.1 516.6 432.8 516.8 431.6 517.0 432.7 517.2 430.8 517.4 433.4 517.6 431.4 517.8 432.4 518.0 431.3 518.2 432.4 518.4 431.2 518.6 432.8 518.8 430.8 519.0 432.4 519.2 431.6 519.4 433.1 519.6 431.6 519.8 432.4 520.0 429.8 520.2 432.4 520.4 430.8 520.6 433.3 520.8 431.6 521.0 433.0 521.2 431.4 521.4 432.6 521.6 431.6 521.8 434.2 522.0 431.6 522.2 433.7 522.4 430.7 522.6 432.4 522.8 430.5 523.0 433.1 523.2 431.4 523.4 432.4 523.6 431.5 523.8 432.4 524.0 430.7 524.2 432.8 524.4 430.8 524.6 432.4 524.8 431.6 525.0 433.8 525.2 431.4 525.4 432.7 525.6 430.1 525.8 433.0 526.0 431.5 526.2 432.4 526.4 431.6 526.6 433.6 526.8 430.9 527.0 432.4 527.2 431.6 527.4 432.8 527.6 430.2 527.8 432.8 528.0 430.9 528.2 432.6 528.4 431.1 528.6 432.4 528.8 431.6 529.0 433.3 529.2 431.0 529.4 433.4 529.6 430.6 529.8 432.4 530.0 430.9 530.2 432.4 530.4 431.6 530.6 432.4 530.8 431.2 531.0 432.4 531.2 431.0 531.4 432.9 531.6 431.5 531.8 432.4 532.0 431.3 532.2 433.3 532.4 431.5 532.6 434.1 532.8 431.1 533.0 432.9 533.2 431.3 533.4 432.9 533.6 431.2 533.8 432.4 534.0 430.8 534.2 432.4 534.4 431.4 534.6 432.6 534.8 431.6 535.0 433.1 535.2 431.6 535.4 432.4 535.6 431.5 535.8 432.7 536.0 431.4 536.2 434.1 536.4 431.4 536.6 432.4 536.8 431.0 537.0 432.8 537.2 431.6 537.4 433.5 537.6 430.7 537.8 432.9 538.0 429.8 538.2 432.9 538.4 431.6 538.6 434.2 538.8 431.6 539.0 432.4 539.2 431.4 539.4 432.4 539.6 431.3 539.8 432.5 540.0 431.6 540.2 433.0 540.4 431.1 540.6 433.2 540.8 431.6 541.0 432.4 541.2 431.6 541.4 432.4 541.6 431.6 541.8 433.5 542.0 431.6 542.2 432.6 542.4 431.6 542.6 432.4 542.8 431.6 543.0 432.4 543.2 431.6 543.4 432.4 543.6 430.8 543.8 432.4 544.0 431.6 544.2 434.2 544.4 431.4 544.6 432.4 544.8 431.5 545.0 432.4 545.2 431.5 545.4 432.6 545.6 431.6 545.8 434.0 546.0 430.5 546.2 433.4 546.4 431.1 546.6 432.4 546.8 430.2 547.0 432.7 547.2 431.2 547.4 432.5 547.6 431.3 547.8 433.3 548.0 431.0 548.2 432.4 548.4 431.2 548.6 432.5 548.8 431.6 549.0 432.7 549.2 431.2 549.4 433.3 549.6 431.3 549.8 433.5 550.0 431.5 550.2 432.4 550.4 431.2 550.6 432.9 550.8 431.6 551.0 432.4 551.2 431.6 551.4 433.1 551.6 431.6 551.8 432.4 552.0 430.8 552.2 432.4 552.4 430.8 552.6 432.8 552.8 431.3 553.0 433.6 553.2 430.0 553.4 432.4 553.6 431.1 553.8 432.5 554.0 431.6 554.2 432.9 554.4 431.6 554.6 432.9 554.8 431.6 555.0 433.0 555.2 431.6 555.4 432.6 555.6 431.0 555.8 433.4 556.0 431.6 556.2 433.4 556.4 431.5 556.6 433.6 556.8 431.3 557.0 432.4 557.2 430.9 557.4 432.9 557.6 431.3 557.8 432.4 558.0 431.6 558.2 432.4 558.4 431.6 558.6 432.4 558.8 431.6 559.0 433.6 559.2 431.4 559.4 432.4 559.6 431.2 559.8 432.4 560.0 431.6 560.2 433.5 560.4 430.8 560.6 433.0 560.8 430.8 561.0 433.2 561.2 431.0 561.4 433.9 561.6 431.1 561.8 432.4 562.0 431.4 562.2 432.8 562.4 430.4 562.6 432.4 562.8 431.6 563.0 432.4 563.2 431.2 563.4 433.2 563.6 431.6 563.8 433.0 564.0 431.3 564.2 432.4 564.4 431.5 564.6 432.4 564.8 430.8 565.0 432.4 565.2 431.2 565.4 432.7 565.6 431.0 565.8 432.8 566.0 431.6 566.2 433.3 566.4 431.5 566.6 432.4 566.8 429.9 567.0 432.4 567.2 431.6 567.4 433.4 567.6 431.0 567.8 432.5 568.0 430.4 568.2 432.7 568.4 430.6 568.6 433.0 568.8 431.6 569.0 432.7 569.2 431.6 569.4 432.4 569.6 431.6 569.8 432.4 570.0 431.6 570.2 432.4 570.4 431.4 570.6 432.7 570.8 431.3 571.0 432.4 571.2 431.6 571.4 432.4 571.6 431.6 571.8 433.7 572.0 431.6 572.2 432.4 572.4 431.2 572.6 432.9 572.8 430.8 573.0 432.4 573.2 430.0 573.4 433.6 573.6 431.6 573.8 433.6 574.0 431.6 574.2 432.9 574.4 431.5 574.6 432.9 574.8 431.3 575.0 433.4 575.2 431.5 575.4 432.5 575.6 431.6 575.8 432.4 576.0 430.2 576.2 433.6 576.4 431.6 576.6 432.4 576.8 431.5 577.0 432.4 577.2 430.9 577.4 432.6 577.6 431.4 577.8 433.3 578.0 431.6 578.2 432.4 578.4 431.6 578.6 432.5 578.8 430.9 579.0 432.4 579.2 431.1 579.4 432.4 579.6 431.6 579.8 433.3 580.0 430.9 580.2 433.1 580.4 431.6 580.6 432.4 580.8 431.6 581.0 432.4 581.2 431.6 581.4 433.1 581.6 431.5 581.8 433.0 582.0 431.0 582.2 432.4 582.4 430.2 582.6 432.4 582.8 431.0 583.0 432.4 583.2 431.4 583.4 432.7 583.6 431.1 583.8 432.5 584.0 431.3 584.2 433.3 584.4 431.6 584.6 432.4 584.8 430.7 585.0 432.4 585.2 430.0 585.4 432.4 585.6 431.6 585.8 432.4 586.0 430.7 586.2 433.6 586.4 430.6 586.6 433.7 586.8 431.1 587.0 432.4 587.2 430.5 587.4 432.4 587.6 431.6 587.8 432.4 588.0 431.6 588.2 434.0 588.4 431.6 588.6 432.4 588.8 431.6 589.0 432.4 589.2 431.6 589.4 432.4 589.6 431.6 589.8 432.6 590.0 430.8 590.2 432.6 590.4 430.4 590.6 433.2 590.8 431.4 591.0 432.6 591.2 431.6 591.4 432.4 591.6 431.5 591.8 432.5 592.0 430.8 592.2 433.8 592.4 431.6 592.6 433.3 592.8 431.6 593.0 432.4 593.2 431.6 593.4 432.4 593.6 431.6 593.8 432.9 594.0 430.2 594.2 432.7 594.4 431.6 594.6 432.4 594.8 431.2 595.0 432.5 595.2 431.0 595.4 433.2 595.6 431.0 595.8 433.0 596.0 430.4 596.2 432.6 596.4 430.7 596.6 432.4 596.8 430.2 597.0 432.9 597.2 431.5 597.4 433.0 597.6 431.6 597.8 432.4 598.0 430.3 598.2 433.9 598.4 431.6 598.6 432.9 598.8 431.6 599.0 432.8 599.2 431.6 599.4 432.5 599.6 431.6 599.8 432.4 600.0 431.2 600.2 433.1 600.4 431.2 600.6 433.7 600.8 431.5 601.0 432.5 601.2 431.6 601.4 433.5 601.6 431.6 601.8 433.2 602.0 431.3 602.2 432.5 602.4 431.2 602.6 433.5 602.8 431.5 603.0 432.8 603.2 431.6 603.4 432.4 603.6 430.1 603.8 432.8 604.0 431.6 604.2 432.4 604.4 431.5 604.6 432.8 604.8 431.2 605.0 432.4 605.2 431.2 605.4 433.4 605.6 431.6 605.8 432.5 606.0 430.8 606.2 432.8 606.4 431.5 606.6 433.2 606.8 431.1 607.0 433.1 607.2 431.6 607.4 432.4 607.6 431.6 607.8 432.7 608.0 430.1 608.2 432.4 608.4 431.5 608.6 432.4 608.8 431.3 609.0 432.4 609.2 430.8 609.4 432.6 609.6 431.3 609.8 432.9 610.0 431.4 610.2 432.7 610.4 431.5 610.6 432.4 610.8 431.5 611.0 432.4 611.2 431.3 611.4 432.7 611.6 431.6 611.8 432.4 612.0 431.4 612.2 432.4 612.4 431.4 612.6 432.4 612.8 431.4 613.0 432.4 613.2 431.4 613.4 432.4 613.6 431.6 613.8 432.4 614.0 431.6 614.2 432.4 614.4 431.6 614.6 432.4 614.8 431.6 615.0 433.1 615.2 431.1 615.4 433.0 615.6 431.5 615.8 432.6 616.0 430.4 616.2 432.4 616.4 430.1 616.6 432.6 616.8 431.3 617.0 433.2 617.2 431.5 617.4 432.4 617.6 431.3 617.8 432.4 618.0 431.4 618.2 432.5 618.4 431.5 618.6 432.4 618.8 431.6 619.0 433.4 619.2 431.1 619.4 433.2 619.6 430.4 619.8 432.5 620.0 431.6 620.2 433.5 620.4 430.3 620.6 432.8 620.8 431.6 621.0 433.4 621.2 431.2 621.4 432.5 621.6 430.6 621.8 432.4 622.0 431.6 622.2 433.8 622.4 431.5 622.6 433.3 622.8 430.9 623.0 432.6 623.2 430.9 623.4 433.0 623.6 430.5 623.8 432.9 624.0 431.2 624.2 432.4 624.4 431.3 624.6 433.4 624.8 430.2 625.0 432.4 625.2 431.2 625.4 432.4 625.6 431.6 625.8 432.4 626.0 431.6 626.2 432.4 626.4 431.6 626.6 433.3 626.8 431.6 627.0 433.1 627.2 431.6 627.4 432.7 627.6 430.8 627.8 432.8 628.0 430.5 628.2 433.4 628.4 431.6 628.6 432.4 628.8 431.4 629.0 432.4 629.2 431.4 629.4 432.4 629.6 430.9 629.8 432.4 630.0 431.6 630.2 432.4 630.4 431.6 630.6 432.9 630.8 431.6 631.0 432.4 631.2 431.4 631.4 432.5 631.6 431.6 631.8 432.5 632.0 431.6 632.2 432.8 632.4 431.6 632.6 432.4 632.8 431.6 633.0 433.1 633.2 431.4 633.4 433.1 633.6 431.6 633.8 432.7 634.0 431.6 634.2 432.6 634.4 431.0 634.6 432.9 634.8 431.6 635.0 432.4 635.2 431.6 635.4 433.1 635.6 431.6 635.8 433.8 636.0 431.4 636.2 432.4 636.4 430.2 636.6 432.5 636.8 431.6 637.0 432.9 637.2 431.6 637.4 432.4 637.6 431.6 637.8 432.4 638.0 431.6 638.2 432.4 638.4 431.3 638.6 432.6 638.8 431.6 639.0 433.0 639.2 431.0 639.4 432.4 639.6 430.7 639.8 432.4 640.0 431.2 640.2 433.3 640.4 431.5 640.6 432.4 640.8 431.3 641.0 432.4 641.2 431.2 641.4 432.7 641.6 431.6 641.8 432.4 642.0 430.2 642.2 432.5 642.4 430.9 642.6 432.4 642.8 431.6 643.0 432.5 643.2 431.1 643.4 432.4 643.6 431.6 643.8 432.9 644.0 431.6 644.2 432.4 644.4 431.6 644.6 432.7 644.8 431.0 645.0 432.7" stroke-width="0.5" stroke-linejoin="round"/>
<path d="M43.5 432H645.0" stroke-width="2.8"/>
</g>
<text x="43.5" y="549.3" text-anchor="middle" font-size="12.5">00:00</text>
<text x="118.5" y="549.3" text-anchor="middle" font-size="12.5">03:00</text>
<text x="194.5" y="549.3" text-anchor="middle" font-size="12.5">06:00</text>
<text x="269.5" y="549.3" text-anchor="middle" font-size="12.5">09:00</text>
<text x="344.5" y="549.3" text-anchor="middle" font-size="12.5">12:00</text>
<text x="419.5" y="549.3" text-anchor="middle" font-size="12.5">15:00</text>
<text x="494.5" y="549.3" text-anchor="middle" font-size="12.5">18:00</text>
<text x="570.5" y="549.3" text-anchor="middle" font-size="12.5">21:00</text>
<text x="645.5" y="549.3" text-anchor="middle" font-size="12.5">00:00</text>
<text x="39" y="334.2" text-anchor="end" font-size="12.5">3</text>
<text x="39" y="368.2" text-anchor="end" font-size="12.5">2</text>
<text x="39" y="402.2" text-anchor="end" font-size="12.5">1</text>
<text x="39" y="436.2" text-anchor="end" font-size="12.5">0</text>
<text x="39" y="470.2" text-anchor="end" font-size="12.5">-1</text>
<text x="39" y="504.2" text-anchor="end" font-size="12.5">-2</text>
<text x="39" y="538.2" text-anchor="end" font-size="12.5">-3</text>
<text x="20" y="432.3" text-anchor="middle" font-weight="bold" transform="rotate(-90 20 432.3)" font-size="12.5">Y (nT)</text>
<g stroke="#b4b4b4" stroke-width="1" fill="none">
<rect x="43.5" y="614.5" width="602.0" height="204"/>
<path d="M118.5 818.5v-6.5M118.5 614.5v6.5M194.5 818.5v-6.5M194.5 614.5v6.5M269.5 818.5v-6.5M269.5 614.5v6.5M344.5 818.5v-6.5M344.5 614.5v6.5M419.5 818.5v-6.5M419.5 614.5v6.5M494.5 818.5v-6.5M494.5 614.5v6.5M570.5 818.5v-6.5M570.5 614.5v6.5M43.5 654.5h6.5M645.5 654.5h-6.5M43.5 695.5h6.5M645.5 695.5h-6.5M43.5 736.5h6.5M645.5 736.5h-6.5M43.5 777.5h6.5M645.5 777.5h-6.5"/>
</g>
<g fill="none" stroke="#0000ff">
<path d="M45.4 694.6V698.7M46.6 694.6V696.4M47.2 694.4V698.7M47.4 694.8V696.4M48.6 694.4V697.1M48.8 694.8V697.5M50.6 693.2V696.4M53.4 694.4V698.9M53.6 693.9V697.4M54.0 694.9V699.0M54.2 693.2V697.0M55.8 694.7V696.1M56.6 694.5V696.5M57.0 694.4V696.4M57.2 692.4V696.5M57.4 693.8V698.3M57.6 693.2V696.7M58.0 694.9V696.9M59.6 694.8V696.2M60.8 693.9V700.3M64.0 694.0V696.4M65.0 695.2V699.7M66.0 694.0V697.1M66.4 694.5V696.2M67.8 694.8V698.0M73.6 694.9V699.3M76.2 694.4V696.4M76.6 694.7V696.0M76.8 694.5V696.9M79.0 694.4V696.3M79.4 694.9V700.1M81.8 694.2V697.3M82.0 693.2V696.6M84.0 694.5V699.7M84.2 694.1V698.1M85.2 693.9V696.9M87.0 693.9V697.0M88.2 694.5V696.4M91.6 694.7V700.2M92.8 694.6V699.4M94.4 694.3V697.0M95.6 694.7V697.2M98.4 694.2V696.9M99.6 694.1V699.6M99.8 694.1V700.1M100.8 694.5V696.3M101.0 694.7V699.4M101.2 695.0V698.2M102.4 693.8V697.5M104.8 693.6V696.8M106.8 693.1V697.2M107.6 695.2V697.1M107.8 694.4V696.8M110.4 694.5V698.1M111.8 693.7V696.1M112.8 694.8V697.1M113.0 694.3V697.7M113.6 694.4V697.2M114.8 693.8V697.1M115.6 694.9V698.7M115.8 694.6V696.8M116.2 694.6V696.1M117.8 694.6V698.6M121.4 693.7V696.9M122.0 693.7V697.5M122.8 694.7V696.7M124.0 695.2V696.9M124.6 694.4V699.8M132.2 695.0V699.8M137.2 695.1V697.2M137.6 692.6V696.3M138.4 693.6V700.8M142.4 692.6V697.7M142.6 693.9V698.6M143.0 694.2V697.4M143.2 690.3V697.5M143.8 694.1V701.6M147.2 693.3V702.1M148.2 694.2V698.2M150.6 692.0V698.4M151.2 692.6V700.7M151.8 694.6V697.7M155.2 692.7V703.1M155.4 694.4V702.4M156.2 693.9V697.6M157.4 693.1V697.6M157.8 692.7V697.7M158.6 694.7V698.3M160.6 694.1V697.2M161.8 692.8V697.1M166.6 692.7V702.2M172.4 694.1V704.6M173.0 693.2V699.5M173.2 692.5V699.3M175.6 692.9V698.7M177.0 689.8V698.9M177.4 692.8V697.9M177.8 692.3V698.6M179.0 692.9V699.5M181.4 690.0V699.4M182.6 693.3V700.0M184.0 690.8V698.9M187.8 691.9V699.0M188.4 694.7V699.3M189.0 687.8V698.6M190.0 691.6V705.2M191.6 692.1V697.0M194.0 693.7V705.2M195.8 692.6V698.7M196.0 693.5V698.1M196.8 693.3V698.9M201.8 688.5V699.5M202.4 693.2V700.1M204.2 694.1V706.6M204.4 691.6V699.9M205.0 694.2V699.9M207.8 693.2V698.0M211.8 693.7V700.6M212.0 691.8V699.5M217.0 691.9V697.6M220.2 689.7V708.3M222.2 691.3V701.6M222.4 690.8V710.7M222.8 688.8V698.7M223.2 690.7V710.6M224.4 692.7V708.7M224.6 687.8V701.4M224.8 690.9V707.0M225.0 691.1V704.1M226.2 685.1V701.8M228.2 683.2V698.2M229.2 687.7V712.1M229.4 689.1V701.5M230.2 689.8V701.6M230.4 691.4V706.5M231.0 690.0V704.4M235.0 688.7V700.0M237.4 691.5V702.2M237.6 692.1V702.2M240.0 685.0V701.7M241.4 678.5V705.5M243.6 686.3V714.2M245.8 681.2V705.0M246.2 693.2V708.3M248.4 691.1V720.1M249.2 686.6V697.9M249.4 687.4V711.1M249.8 679.4V700.7M252.8 687.7V703.2M253.4 687.9V702.6M254.0 689.7V701.7M254.8 690.9V706.6M258.6 690.9V700.2M258.8 691.2V702.4M261.6 686.5V710.7M263.8 682.2V701.5M265.2 686.2V703.2M265.6 689.3V705.2M266.0 688.9V702.1M267.4 692.9V712.1M268.4 692.0V702.9M268.6 692.1V719.8M272.2 688.7V703.6M273.4 690.3V703.3M275.4 690.5V705.6M276.2 686.4V702.2M277.8 682.9V700.9M279.0 691.1V703.0M279.8 688.6V715.4M281.2 687.4V704.8M282.0 686.6V717.5M283.6 682.0V697.9M285.0 690.5V704.8M286.8 686.6V704.0M287.0 679.7V705.4M288.4 691.0V702.2M289.2 689.1V698.3M290.8 686.0V705.9M291.2 691.0V697.6M292.0 686.9V704.0M295.0 690.6V697.9M295.6 678.9V701.1M296.2 684.5V704.7M296.6 688.1V720.0M296.8 687.1V705.2M298.6 691.9V717.8M299.0 682.5V700.6M300.8 689.8V707.7M301.8 692.5V704.1M302.4 689.4V705.3M303.6 687.4V702.2M303.8 688.0V703.6M304.2 690.2V711.8M306.6 688.4V719.8M308.8 688.8V698.2M309.2 686.5V715.3M310.6 693.2V705.1M311.0 683.4V702.4M311.4 681.3V703.8M311.6 689.8V699.6M313.2 688.7V711.8M314.4 691.1V712.8M314.8 689.6V702.1M316.6 683.6V702.1M321.6 692.7V702.2M324.8 689.7V702.4M326.8 691.1V704.4M329.8 693.3V705.1M330.2 692.1V716.3M330.4 687.4V701.4M330.8 693.1V702.6M332.6 686.9V708.1M334.8 687.5V703.2M335.6 687.6V701.7M336.2 682.6V702.1M338.4 689.4V701.2M338.8 689.3V699.4M339.0 692.0V703.6M342.4 688.0V708.4M343.2 689.8V706.7M343.4 680.9V698.0M344.0 686.5V699.8M345.0 691.7V704.8M346.0 683.0V702.0M347.0 687.0V699.3M347.2 691.5V701.5M348.4 688.0V717.7M348.8 685.7V698.2M350.6 693.1V710.9M352.6 690.4V717.1M354.4 688.0V697.9M356.8 686.9V702.7M357.0 688.1V702.1M357.6 688.1V700.6M358.2 689.8V701.8M358.4 693.7V701.9M358.6 692.5V705.8M360.0 692.2V708.4M360.2 688.3V713.6M363.2 689.0V697.7M363.6 683.1V697.5M366.0 684.9V700.9M366.2 688.4V700.7M367.2 682.2V701.0M370.8 690.9V698.1M372.4 690.5V698.9M372.6 690.3V702.6M376.0 691.2V699.7M379.0 683.2V697.8M379.6 688.9V708.2M379.8 690.1V701.7M380.6 693.9V700.5M383.8 691.8V700.4M386.2 692.3V697.8M386.8 691.2V700.3M387.0 691.3V698.4M387.8 690.9V699.8M388.4 689.1V710.7M389.0 692.1V701.2M389.8 694.0V700.5M391.2 690.9V700.6M391.6 689.1V699.7M393.0 690.6V698.7M393.4 690.4V699.9M394.4 692.5V698.7M395.4 690.0V711.4M395.8 689.6V703.1M396.0 685.5V697.8M397.8 690.6V703.7M398.6 685.6V697.5M399.2 691.4V699.2M400.8 691.7V701.2M402.8 690.9V701.4M403.0 692.5V701.4M404.4 690.1V697.5M405.2 693.4V700.4M407.0 691.5V705.7M410.0 691.7V699.4M412.2 688.0V714.7M412.8 689.4V697.8M414.8 693.0V703.5M415.8 687.4V698.2M416.0 694.0V706.6M416.8 691.0V701.4M417.8 693.4V697.0M418.2 694.4V699.5M420.6 691.0V699.7M421.8 691.1V706.6M422.4 694.2V703.7M424.0 690.9V697.9M427.4 693.2V697.1M427.8 692.1V703.8M429.4 691.2V703.9M432.4 687.3V697.0M432.8 693.4V704.8M433.8 693.2V701.0M435.2 694.1V702.9M438.4 692.5V704.1M438.6 689.3V697.8M438.8 693.3V699.8M439.4 691.9V698.6M443.4 691.7V699.6M445.4 693.4V698.3M448.0 691.5V701.1M448.8 689.2V698.0M451.2 692.9V697.5M451.4 691.2V700.1M454.2 692.4V701.7M454.4 692.4V699.2M456.6 693.1V698.2M457.6 688.0V697.8M459.2 693.6V697.0M461.4 691.6V698.8M462.2 691.7V698.5M466.4 693.5V698.9M470.2 689.3V696.9M473.0 693.2V704.2M474.2 693.7V699.4M474.4 691.6V698.7M475.8 690.2V697.4M476.4 693.6V703.1M477.0 691.4V697.9M477.6 693.6V697.4M477.8 691.6V704.1M479.0 691.4V699.5M479.6 689.5V698.7M480.2 690.3V698.1M484.4 694.8V698.2M485.0 692.4V698.9M486.4 694.6V698.8M489.4 693.7V697.8M490.6 692.3V698.8M491.8 693.0V697.4M493.0 693.9V696.7M494.8 694.4V702.6M496.4 693.4V698.4M498.4 691.8V698.8M499.2 692.7V697.9M501.4 693.5V698.9M502.0 692.1V698.8M503.0 693.4V704.3M503.6 692.7V697.0M503.8 693.5V696.5M504.0 694.7V698.7M505.2 694.7V698.6M506.2 692.2V696.6M511.0 691.5V698.2M511.4 693.9V698.1M515.4 691.9V696.4M515.6 693.8V698.2M515.8 693.0V701.4M516.8 694.7V703.0M517.4 692.9V697.8M518.6 693.1V696.3M521.0 692.5V699.6M521.4 693.8V697.5M521.6 692.5V696.8M522.8 693.4V698.2M523.2 694.1V697.5M523.4 693.8V698.2M525.8 691.8V696.6M526.6 692.6V699.0M526.8 693.1V700.0M528.6 693.9V696.7M529.8 694.3V703.8M532.6 694.7V698.1M534.4 694.5V697.8M535.4 693.0V698.5M538.8 692.1V698.1M539.6 694.8V698.3M540.6 694.1V696.7M541.2 693.5V698.1M542.4 693.1V697.7M542.8 692.7V699.3M546.6 693.6V698.3M547.6 690.9V697.5M547.8 691.0V696.2M548.0 694.0V697.3M548.4 694.8V698.7M549.2 693.8V698.8M549.6 694.4V697.6M550.6 693.6V698.2M552.8 694.8V697.9M554.6 693.5V698.0M557.8 695.0V697.6M558.2 693.0V697.7M560.8 692.9V698.5M563.4 691.6V698.3M563.8 694.2V698.3M564.4 693.9V698.4M565.8 690.4V698.1M566.0 694.2V696.7M566.4 694.1V698.2M567.8 693.7V698.3M568.4 692.9V698.6M569.0 694.0V696.3M569.8 690.9V697.1M570.2 690.7V696.5M573.2 694.4V698.0M573.4 694.3V696.5M574.4 693.0V698.3M574.8 693.7V697.1M575.0 692.9V698.1M576.0 692.9V698.1M576.2 690.8V697.4M577.6 694.3V701.7M578.6 693.4V701.9M582.2 694.1V697.6M585.4 693.6V697.8M586.2 692.1V697.7M587.2 692.1V696.4M588.6 691.7V697.2M590.6 693.9V700.1M591.2 695.0V697.8M591.6 692.2V696.2M593.4 691.2V698.1M593.8 694.0V698.6M599.2 694.2V696.3M600.4 692.7V697.0M600.8 694.8V697.3M601.2 694.4V696.8M607.0 694.2V697.6M607.2 692.0V696.6M607.6 694.4V696.8M607.8 693.7V698.9M608.4 693.3V697.2M609.8 694.3V697.6M615.2 693.4V700.6M616.2 694.2V698.0M618.2 693.4V697.3M619.0 693.5V697.1M619.4 691.3V696.7M620.2 694.1V696.7M620.8 692.4V696.6M621.4 693.1V696.4M622.6 692.9V698.0M624.8 693.9V697.9M626.6 694.6V698.3M627.6 694.1V698.4M628.2 695.1V698.5M628.4 693.2V699.9M629.6 695.1V697.2M629.8 695.1V697.2M630.6 693.6V698.2M634.0 695.0V697.7M634.2 694.3V701.5M638.4 693.1V697.4M638.6 694.6V696.8M640.8 691.6V697.7M641.4 693.1V696.7M642.8 692.5V696.3M643.4 691.7V697.1M643.8 694.6V696.5M644.8 692.8V697.1" stroke-width="0.45" stroke-opacity="0.8"/>
<path d="M139.4 695.6V686.0M172.8 695.6V688.0M216.0 695.6V676.0M218.3 695.6V634.8M228.0 695.6V672.0M230.4 695.6V641.2M233.5 695.6V678.0M303.3 695.6V673.0M399.2 695.6V683.0M408.3 695.6V644.3M410.4 695.6V640.1M451.7 695.6V687.0M475.8 695.6V686.0M139.4 695.6V724.7M142.6 695.6V715.0M149.3 695.6V707.0M172.8 695.6V715.0M181.7 695.6V714.0M194.4 695.6V708.0M197.6 695.6V708.0M207.7 695.6V712.0M218.3 695.6V790.9M230.4 695.6V780.7M231.5 695.6V738.0M241.6 695.6V735.0M250.0 695.6V725.0M258.5 695.6V742.0M268.0 695.6V741.0M275.0 695.6V722.0M290.0 695.6V720.0M303.3 695.6V727.0M314.3 695.6V722.5M322.0 695.6V716.0M343.3 695.6V724.7M355.0 695.6V715.0M368.0 695.6V716.0M385.0 695.6V718.0M399.2 695.6V726.4M408.3 695.6V753.6M410.4 695.6V769.1M435.0 695.6V708.0M443.6 695.6V713.0M451.7 695.6V736.7M465.8 695.6V707.5M475.8 695.6V721.5M494.0 695.6V704.0M511.0 695.6V704.0M603.3 695.6V711.0" stroke-width="0.6" stroke-opacity="0.85"/>
<path d="M229.40 695.6V692.3M229.90 695.6V683.0M230.40 695.6V668.0M230.90 695.6V681.3M231.40 695.6V692.3M217.55 695.6V692.8M218.05 695.6V679.8M218.55 695.6V681.8M219.05 695.6V692.8M138.80 695.6V694.7M139.30 695.6V691.8M139.80 695.6V690.2M140.30 695.6V691.8M140.80 695.6V694.7M219.00 695.6V694.0M219.36 695.6V693.6M219.72 695.6V693.2M220.08 695.6V692.9M220.44 695.6V692.3M220.79 695.6V692.2M221.15 695.6V690.9M221.51 695.6V690.3M221.87 695.6V690.0M222.23 695.6V689.7M222.59 695.6V690.1M222.95 695.6V687.7M223.31 695.6V687.4M223.67 695.6V686.4M224.03 695.6V687.6M224.38 695.6V687.4M224.74 695.6V683.9M225.10 695.6V684.1M225.46 695.6V684.2M225.82 695.6V683.0M226.18 695.6V685.5M226.54 695.6V687.4M226.90 695.6V684.7M227.26 695.6V685.9M227.62 695.6V685.4M227.97 695.6V687.9M228.33 695.6V689.2M228.69 695.6V688.6M229.05 695.6V688.3M229.41 695.6V690.2M229.77 695.6V689.6M230.13 695.6V689.8M230.49 695.6V690.3M230.85 695.6V690.6M231.21 695.6V691.4M231.56 695.6V692.5M231.92 695.6V692.7M232.28 695.6V693.3M232.64 695.6V693.6M233.00 695.6V694.0M219.00 695.6V697.1M219.36 695.6V697.5M219.72 695.6V698.0M220.08 695.6V698.5M220.44 695.6V699.1M220.79 695.6V699.3M221.15 695.6V700.1M221.51 695.6V700.1M221.87 695.6V700.1M222.23 695.6V701.7M222.59 695.6V702.5M222.95 695.6V700.5M223.31 695.6V703.1M223.67 695.6V702.7M224.03 695.6V703.3M224.38 695.6V704.0M224.74 695.6V703.2M225.10 695.6V705.2M225.46 695.6V703.1M225.82 695.6V706.1M226.18 695.6V707.7M226.54 695.6V707.1M226.90 695.6V706.5M227.26 695.6V702.5M227.62 695.6V702.7M227.97 695.6V703.4M228.33 695.6V703.3M228.69 695.6V702.3M229.05 695.6V701.2M229.41 695.6V702.4M229.77 695.6V700.6M230.13 695.6V700.2M230.49 695.6V699.2M230.85 695.6V698.9M231.21 695.6V699.1M231.56 695.6V699.0M231.92 695.6V698.5M232.28 695.6V698.1M232.64 695.6V697.4M233.00 695.6V697.1" stroke-width="0.7"/>
<path d="M43.6 694.3 43.8 696.2 44.0 694.4 44.2 697.3 44.4 694.8 44.6 696.7 44.8 694.5 45.0 696.0 45.2 695.2 45.4 696.4 45.6 694.3 45.8 697.5 46.0 695.2 46.2 696.0 46.4 695.1 46.6 697.7 46.8 694.4 47.0 696.0 47.2 695.2 47.4 696.0 47.6 694.9 47.8 696.0 48.0 695.0 48.2 696.5 48.4 693.9 48.6 696.0 48.8 694.0 49.0 696.9 49.2 695.2 49.4 696.2 49.6 695.2 49.8 696.0 50.0 694.6 50.2 696.0 50.4 693.8 50.6 697.4 50.8 695.1 51.0 696.0 51.2 695.2 51.4 697.0 51.6 695.1 51.8 696.5 52.0 694.5 52.2 696.8 52.4 694.8 52.6 696.7 52.8 694.9 53.0 696.0 53.2 695.2 53.4 696.2 53.6 694.1 53.8 696.0 54.0 695.2 54.2 696.0 54.4 693.8 54.6 697.6 54.8 695.2 55.0 696.0 55.2 695.2 55.4 696.1 55.6 694.5 55.8 696.0 56.0 695.1 56.2 696.0 56.4 694.2 56.6 696.0 56.8 695.2 57.0 696.5 57.2 695.2 57.4 696.3 57.6 694.7 57.8 697.2 58.0 694.0 58.2 697.0 58.4 693.9 58.6 696.4 58.8 694.4 59.0 696.4 59.2 693.9 59.4 696.2 59.6 694.2 59.8 696.6 60.0 695.0 60.2 696.0 60.4 695.2 60.6 696.0 60.8 694.5 61.0 696.2 61.2 694.6 61.4 696.5 61.6 694.4 61.8 696.0 62.0 694.8 62.2 696.0 62.4 695.2 62.6 696.4 62.8 695.0 63.0 697.4 63.2 695.2 63.4 696.2 63.6 695.2 63.8 697.0 64.0 695.2 64.2 696.0 64.4 694.8 64.6 696.7 64.8 695.0 65.0 696.4 65.2 695.2 65.4 696.0 65.6 694.7 65.8 696.2 66.0 695.2 66.2 696.4 66.4 695.2 66.6 697.9 66.8 695.2 67.0 696.1 67.2 695.0 67.4 696.2 67.6 694.9 67.8 696.1 68.0 694.0 68.2 697.3 68.4 694.9 68.6 696.8 68.8 694.9 69.0 696.0 69.2 694.2 69.4 696.0 69.6 695.2 69.8 697.9 70.0 694.2 70.2 697.6 70.4 694.5 70.6 696.3 70.8 695.2 71.0 696.9 71.2 694.8 71.4 696.7 71.6 694.3 71.8 696.1 72.0 694.3 72.2 696.9 72.4 694.0 72.6 697.1 72.8 694.8 73.0 696.0 73.2 695.2 73.4 696.1 73.6 695.2 73.8 696.1 74.0 694.9 74.2 696.0 74.4 694.0 74.6 696.0 74.8 695.2 75.0 696.0 75.2 695.2 75.4 696.2 75.6 695.0 75.8 696.5 76.0 695.1 76.2 696.8 76.4 694.2 76.6 697.2 76.8 694.5 77.0 696.3 77.2 694.6 77.4 696.0 77.6 694.7 77.8 696.1 78.0 695.1 78.2 697.9 78.4 694.6 78.6 697.7 78.8 695.1 79.0 696.4 79.2 695.0 79.4 697.0 79.6 695.2 79.8 696.0 80.0 694.8 80.2 696.6 80.4 695.2 80.6 697.7 80.8 694.5 81.0 697.3 81.2 693.8 81.4 696.2 81.6 693.5 81.8 696.6 82.0 694.2 82.2 697.0 82.4 695.2 82.6 696.0 82.8 694.9 83.0 697.7 83.2 695.1 83.4 696.0 83.6 694.6 83.8 697.1 84.0 693.8 84.2 696.0 84.4 694.6 84.6 696.2 84.8 695.2 85.0 696.4 85.2 693.2 85.4 696.0 85.6 693.8 85.8 697.0 86.0 694.0 86.2 696.3 86.4 694.6 86.6 696.0 86.8 694.6 87.0 696.0 87.2 694.8 87.4 696.2 87.6 694.6 87.8 696.5 88.0 693.4 88.2 696.0 88.4 695.1 88.6 696.5 88.8 694.2 89.0 697.7 89.2 695.2 89.4 696.0 89.6 695.2 89.8 696.0 90.0 694.0 90.2 698.0 90.4 693.9 90.6 696.8 90.8 694.4 91.0 696.9 91.2 693.9 91.4 696.0 91.6 695.2 91.8 697.3 92.0 694.6 92.2 696.0 92.4 695.2 92.6 696.7 92.8 694.0 93.0 697.2 93.2 695.2 93.4 696.6 93.6 695.2 93.8 697.0 94.0 693.3 94.2 696.1 94.4 695.2 94.6 697.0 94.8 695.1 95.0 696.5 95.2 695.2 95.4 696.5 95.6 694.0 95.8 696.0 96.0 695.2 96.2 696.8 96.4 695.2 96.6 696.0 96.8 693.6 97.0 696.1 97.2 694.5 97.4 696.0 97.6 695.2 97.8 696.4 98.0 694.8 98.2 696.0 98.4 694.7 98.6 697.5 98.8 695.2 99.0 697.3 99.2 695.2 99.4 697.9 99.6 694.5 99.8 696.0 100.0 693.2 100.2 696.7 100.4 695.0 100.6 697.3 100.8 695.2 101.0 696.4 101.2 695.1 101.4 697.7 101.6 695.2 101.8 696.8 102.0 693.6 102.2 696.4 102.4 695.2 102.6 696.9 102.8 695.2 103.0 696.1 103.2 694.2 103.4 696.1 103.6 694.2 103.8 696.0 104.0 695.2 104.2 696.0 104.4 695.0 104.6 696.7 104.8 695.2 105.0 696.9 105.2 694.3 105.4 696.3 105.6 695.2 105.8 696.0 106.0 694.3 106.2 696.4 106.4 695.2 106.6 696.8 106.8 694.7 107.0 698.0 107.2 695.2 107.4 696.3 107.6 695.2 107.8 696.9 108.0 694.4 108.2 696.0 108.4 695.1 108.6 697.1 108.8 693.6 109.0 696.1 109.2 695.1 109.4 696.1 109.6 695.0 109.8 696.0 110.0 694.6 110.2 696.0 110.4 695.2 110.6 696.4 110.8 694.7 111.0 697.5 111.2 695.0 111.4 696.6 111.6 693.3 111.8 696.6 112.0 693.7 112.2 696.0 112.4 694.9 112.6 696.4 112.8 694.9 113.0 696.6 113.2 694.2 113.4 696.0 113.6 695.2 113.8 697.3 114.0 695.2 114.2 696.7 114.4 695.1 114.6 696.6 114.8 695.2 115.0 696.9 115.2 695.2 115.4 696.6 115.6 694.7 115.8 696.3 116.0 693.8 116.2 697.4 116.4 694.3 116.6 696.0 116.8 694.8 117.0 696.0 117.2 694.7 117.4 696.3 117.6 695.0 117.8 696.8 118.0 695.2 118.2 696.0 118.4 694.2 118.6 696.5 118.8 695.2 119.0 697.2 119.2 695.2 119.4 696.8 119.6 694.9 119.8 696.0 120.0 695.2 120.2 696.3 120.4 693.7 120.6 696.5 120.8 694.7 121.0 696.0 121.2 694.7 121.4 696.5 121.6 695.1 121.8 697.1 122.0 693.1 122.2 696.0 122.4 694.0 122.6 696.1 122.8 693.9 123.0 696.0 123.2 695.2 123.4 697.1 123.6 694.7 123.8 696.0 124.0 693.5 124.2 697.0 124.4 695.1 124.6 696.6 124.8 695.0 125.0 696.0 125.2 695.2 125.4 697.1 125.6 693.7 125.8 696.1 126.0 694.3 126.2 696.2 126.4 694.8 126.6 698.1 126.8 695.2 127.0 696.2 127.2 693.9 127.4 696.6 127.6 694.0 127.8 696.0 128.0 694.6 128.2 696.0 128.4 694.2 128.6 698.1 128.8 694.5 129.0 696.1 129.2 694.8 129.4 696.6 129.6 694.9 129.8 696.4 130.0 694.1 130.2 696.0 130.4 694.7 130.6 696.0 130.8 693.5 131.0 696.0 131.2 694.3 131.4 696.0 131.6 693.3 131.8 698.1 132.0 693.1 132.2 696.8 132.4 694.7 132.6 696.9 132.8 695.2 133.0 697.6 133.2 694.9 133.4 696.5 133.6 693.3 133.8 696.7 134.0 695.0 134.2 697.1 134.4 694.8 134.6 696.5 134.8 695.2 135.0 696.4 135.2 694.9 135.4 696.0 135.6 694.6 135.8 696.7 136.0 695.2 136.2 696.6 136.4 695.2 136.6 697.1 136.8 695.2 137.0 696.0 137.2 694.5 137.4 697.2 137.6 694.6 137.8 696.1 138.0 691.9 138.2 696.8 138.4 694.8 138.6 696.2 138.8 693.9 139.0 697.8 139.2 693.0 139.4 696.1 139.6 693.1 139.8 696.0 140.0 695.2 140.2 696.6 140.4 693.5 140.6 696.9 140.8 695.2 141.0 696.0 141.2 695.2 141.4 696.0 141.6 694.8 141.8 696.2 142.0 693.7 142.2 696.8 142.4 695.1 142.6 697.6 142.8 691.9 143.0 699.4 143.2 695.0 143.4 696.6 143.6 694.8 143.8 697.1 144.0 692.9 144.2 698.1 144.4 694.4 144.6 696.7 144.8 694.3 145.0 697.3 145.2 693.4 145.4 696.5 145.6 694.2 145.8 697.4 146.0 693.8 146.2 697.3 146.4 695.2 146.6 696.1 146.8 695.2 147.0 698.2 147.2 695.0 147.4 696.5 147.6 694.3 147.8 697.8 148.0 695.2 148.2 696.9 148.4 693.5 148.6 696.3 148.8 694.8 149.0 696.6 149.2 695.0 149.4 696.0 149.6 695.2 149.8 698.4 150.0 694.6 150.2 696.4 150.4 694.1 150.6 696.7 150.8 694.5 151.0 696.7 151.2 691.9 151.4 697.5 151.6 693.0 151.8 697.5 152.0 693.8 152.2 696.0 152.4 694.9 152.6 696.6 152.8 695.0 153.0 696.0 153.2 694.5 153.4 696.8 153.6 694.5 153.8 696.0 154.0 694.8 154.2 696.4 154.4 693.7 154.6 696.4 154.8 695.2 155.0 697.0 155.2 694.5 155.4 696.0 155.6 695.2 155.8 696.7 156.0 695.1 156.2 697.5 156.4 695.2 156.6 696.5 156.8 694.7 157.0 696.0 157.2 694.4 157.4 696.1 157.6 695.1 157.8 697.1 158.0 694.2 158.2 698.3 158.4 695.2 158.6 698.5 158.8 694.8 159.0 696.6 159.2 694.5 159.4 696.7 159.6 694.0 159.8 696.4 160.0 695.2 160.2 699.0 160.4 693.9 160.6 697.3 160.8 695.0 161.0 696.0 161.2 693.6 161.4 698.5 161.6 694.4 161.8 696.0 162.0 693.4 162.2 696.5 162.4 695.2 162.6 696.3 162.8 695.2 163.0 698.8 163.2 693.6 163.4 697.0 163.6 693.3 163.8 696.6 164.0 694.4 164.2 697.0 164.4 694.5 164.6 696.6 164.8 694.6 165.0 696.8 165.2 695.2 165.4 696.9 165.6 694.7 165.8 697.3 166.0 693.4 166.2 697.6 166.4 695.2 166.6 696.9 166.8 694.7 167.0 696.0 167.2 695.2 167.4 698.2 167.6 694.7 167.8 696.4 168.0 693.6 168.2 696.1 168.4 692.1 168.6 696.1 168.8 694.1 169.0 696.5 169.2 694.0 169.4 699.4 169.6 694.9 169.8 697.6 170.0 695.0 170.2 696.0 170.4 692.7 170.6 696.0 170.8 694.8 171.0 700.0 171.2 693.6 171.4 697.1 171.6 692.0 171.8 699.4 172.0 692.0 172.2 698.8 172.4 692.0 172.6 696.1 172.8 694.4 173.0 698.3 173.2 693.4 173.4 697.2 173.6 695.2 173.8 699.1 174.0 693.0 174.2 696.2 174.4 693.8 174.6 696.0 174.8 693.3 175.0 696.7 175.2 693.8 175.4 696.2 175.6 694.4 175.8 696.5 176.0 693.7 176.2 696.8 176.4 693.8 176.6 696.9 176.8 695.2 177.0 698.6 177.2 694.9 177.4 698.0 177.6 692.0 177.8 698.1 178.0 692.7 178.2 696.6 178.4 695.2 178.6 696.8 178.8 695.2 179.0 698.6 179.2 694.6 179.4 699.8 179.6 693.3 179.8 699.2 180.0 690.7 180.2 696.6 180.4 693.0 180.6 696.0 180.8 695.2 181.0 697.9 181.2 695.2 181.4 697.9 181.6 691.1 181.8 696.6 182.0 691.7 182.2 698.1 182.4 694.4 182.6 697.3 182.8 691.8 183.0 699.0 183.2 695.2 183.4 697.9 183.6 694.4 183.8 697.3 184.0 692.5 184.2 697.4 184.4 692.7 184.6 699.9 184.8 695.0 185.0 696.0 185.2 695.2 185.4 697.8 185.6 690.6 185.8 696.5 186.0 692.1 186.2 697.0 186.4 692.6 186.6 699.0 186.8 692.3 187.0 699.9 187.2 691.2 187.4 696.1 187.6 693.7 187.8 700.1 188.0 695.2 188.2 698.7 188.4 693.8 188.6 697.2 188.8 692.2 189.0 697.0 189.2 694.3 189.4 696.7 189.6 694.3 189.8 696.6 190.0 692.7 190.2 697.8 190.4 694.0 190.6 697.2 190.8 693.8 191.0 697.4 191.2 692.1 191.4 697.0 191.6 693.5 191.8 696.2 192.0 694.3 192.2 697.3 192.4 691.3 192.6 696.8 192.8 695.2 193.0 699.8 193.2 694.5 193.4 699.0 193.6 695.2 193.8 697.5 194.0 695.0 194.2 696.9 194.4 694.4 194.6 698.1 194.8 692.3 195.0 697.8 195.2 694.9 195.4 697.6 195.6 694.6 195.8 697.6 196.0 694.7 196.2 701.2 196.4 694.0 196.6 696.2 196.8 695.1 197.0 697.5 197.2 695.1 197.4 699.1 197.6 692.3 197.8 696.5 198.0 694.7 198.2 696.0 198.4 692.5 198.6 697.3 198.8 695.2 199.0 696.4 199.2 690.0 199.4 696.6 199.6 691.7 199.8 696.0 200.0 693.3 200.2 698.9 200.4 694.6 200.6 696.2 200.8 691.2 201.0 698.0 201.2 692.9 201.4 700.5 201.6 694.9 201.8 697.8 202.0 694.4 202.2 698.8 202.4 694.8 202.6 697.1 202.8 694.3 203.0 696.0 203.2 692.8 203.4 698.1 203.6 694.1 203.8 699.3 204.0 694.3 204.2 698.7 204.4 690.5 204.6 698.5 204.8 692.6 205.0 699.7 205.2 694.8 205.4 699.8 205.6 694.9 205.8 697.6 206.0 690.5 206.2 696.7 206.4 690.9 206.6 696.1 206.8 693.5 207.0 696.1 207.2 692.0 207.4 696.0 207.6 695.2 207.8 697.4 208.0 690.9 208.2 696.0 208.4 691.3 208.6 696.4 208.8 692.7 209.0 702.4 209.2 694.8 209.4 697.4 209.6 689.6 209.8 697.1 210.0 694.6 210.2 700.1 210.4 694.8 210.6 696.4 210.8 694.1 211.0 698.3 211.2 694.9 211.4 702.6 211.6 693.8 211.8 696.0 212.0 692.6 212.2 697.4 212.4 693.8 212.6 696.8 212.8 692.7 213.0 700.6 213.2 695.2 213.4 701.6 213.6 695.2 213.8 697.1 214.0 694.0 214.2 697.3 214.4 694.6 214.6 701.2 214.8 695.0 215.0 696.0 215.2 694.3 215.4 698.5 215.6 694.4 215.8 703.1 216.0 691.3 216.2 696.0 216.4 695.2 216.6 696.7 216.8 694.0 217.0 696.0 217.2 685.4 217.4 696.6 217.6 695.1 217.8 696.0 218.0 694.0 218.2 701.5 218.4 691.7 218.6 696.2 218.8 684.4 219.0 702.0 219.2 688.6 219.4 699.7 219.6 691.5 219.8 698.3 220.0 693.5 220.2 698.7 220.4 692.4 220.6 700.9 220.8 691.5 221.0 698.1 221.2 688.6 221.4 696.5 221.6 684.4 221.8 698.2 222.0 689.8 222.2 699.6 222.4 694.1 222.6 698.6 222.8 690.1 223.0 700.4 223.2 686.9 223.4 702.6 223.6 695.2 223.8 699.1 224.0 695.2 224.2 697.0 224.4 691.9 224.6 696.9 224.8 686.9 225.0 700.0 225.2 692.4 225.4 699.5 225.6 687.6 225.8 702.7 226.0 694.9 226.2 696.0 226.4 690.8 226.6 697.3 226.8 695.2 227.0 701.9 227.2 691.7 227.4 699.0 227.6 694.8 227.8 702.6 228.0 692.5 228.2 697.6 228.4 693.1 228.6 697.3 228.8 692.6 229.0 706.9 229.2 693.9 229.4 702.6 229.6 691.7 229.8 696.3 230.0 693.9 230.2 697.4 230.4 690.3 230.6 697.7 230.8 693.5 231.0 701.0 231.2 690.3 231.4 706.8 231.6 693.4 231.8 700.3 232.0 691.7 232.2 699.8 232.4 692.5 232.6 702.4 232.8 695.2 233.0 697.7 233.2 692.0 233.4 700.0 233.6 691.4 233.8 696.2 234.0 692.7 234.2 700.6 234.4 692.3 234.6 700.2 234.8 687.6 235.0 697.7 235.2 692.9 235.4 698.5 235.6 693.4 235.8 703.3 236.0 691.2 236.2 703.2 236.4 693.8 236.6 704.3 236.8 692.1 237.0 696.8 237.2 683.1 237.4 697.8 237.6 687.4 237.8 700.7 238.0 693.9 238.2 696.3 238.4 689.4 238.6 708.0 238.8 694.2 239.0 699.6 239.2 694.3 239.4 696.0 239.6 692.4 239.8 696.2 240.0 695.2 240.2 700.1 240.4 693.5 240.6 698.6 240.8 691.7 241.0 701.2 241.2 685.8 241.4 702.3 241.6 687.1 241.8 702.9 242.0 694.6 242.2 697.7 242.4 690.1 242.6 697.3 242.8 693.2 243.0 699.7 243.2 688.6 243.4 697.1 243.6 690.0 243.8 696.5 244.0 695.2 244.2 703.6 244.4 683.8 244.6 700.6 244.8 692.6 245.0 701.6 245.2 690.0 245.4 704.0 245.6 694.3 245.8 696.0 246.0 692.3 246.2 698.8 246.4 691.7 246.6 696.0 246.8 689.4 247.0 700.0 247.2 684.1 247.4 697.7 247.6 694.3 247.8 702.2 248.0 691.4 248.2 707.7 248.4 692.9 248.6 700.1 248.8 692.2 249.0 696.6 249.2 690.1 249.4 704.9 249.6 692.9 249.8 696.0 250.0 686.9 250.2 696.7 250.4 694.8 250.6 696.4 250.8 694.2 251.0 697.5 251.2 690.8 251.4 696.0 251.6 689.3 251.8 697.1 252.0 694.5 252.2 698.7 252.4 694.8 252.6 702.5 252.8 692.4 253.0 697.8 253.2 690.3 253.4 697.4 253.6 693.0 253.8 701.0 254.0 685.5 254.2 704.9 254.4 695.0 254.6 697.8 254.8 694.8 255.0 701.5 255.2 693.7 255.4 698.4 255.6 690.7 255.8 705.0 256.0 695.2 256.2 697.5 256.4 692.1 256.6 699.7 256.8 691.6 257.0 696.4 257.2 688.5 257.4 697.2 257.6 694.2 257.8 700.7 258.0 689.3 258.2 698.1 258.4 693.6 258.6 700.0 258.8 692.3 259.0 702.5 259.2 692.1 259.4 696.6 259.6 690.8 259.8 696.0 260.0 690.8 260.2 696.0 260.4 686.2 260.6 696.9 260.8 690.5 261.0 696.3 261.2 692.1 261.4 700.2 261.6 687.2 261.8 703.2 262.0 687.3 262.2 697.8 262.4 693.2 262.6 699.9 262.8 689.5 263.0 699.9 263.2 685.2 263.4 698.8 263.6 683.1 263.8 698.6 264.0 693.9 264.2 701.8 264.4 688.5 264.6 702.9 264.8 687.7 265.0 701.1 265.2 694.7 265.4 698.5 265.6 693.4 265.8 700.9 266.0 686.8 266.2 698.2 266.4 691.6 266.6 696.0 266.8 689.8 267.0 700.5 267.2 692.9 267.4 699.7 267.6 692.4 267.8 699.9 268.0 683.1 268.2 697.1 268.4 695.1 268.6 696.7 268.8 694.8 269.0 705.5 269.2 694.7 269.4 705.6 269.6 694.4 269.8 702.7 270.0 695.1 270.2 697.2 270.4 694.5 270.6 697.7 270.8 692.0 271.0 702.1 271.2 693.9 271.4 701.2 271.6 690.8 271.8 696.5 272.0 693.4 272.2 699.2 272.4 690.2 272.6 696.0 272.8 685.1 273.0 702.0 273.2 689.1 273.4 701.6 273.6 685.2 273.8 697.3 274.0 694.9 274.2 698.2 274.4 691.8 274.6 696.1 274.8 691.7 275.0 704.6 275.2 688.3 275.4 704.4 275.6 688.3 275.8 703.7 276.0 690.2 276.2 699.1 276.4 693.5 276.6 696.6 276.8 691.4 277.0 705.0 277.2 694.6 277.4 701.8 277.6 688.9 277.8 699.1 278.0 693.1 278.2 698.0 278.4 694.6 278.6 698.0 278.8 687.9 279.0 698.7 279.2 691.1 279.4 704.9 279.6 692.0 279.8 703.8 280.0 692.6 280.2 704.9 280.4 695.0 280.6 696.0 280.8 685.4 281.0 702.0 281.2 692.4 281.4 702.1 281.6 695.2 281.8 696.2 282.0 690.1 282.2 704.2 282.4 690.5 282.6 696.9 282.8 689.5 283.0 700.5 283.2 687.7 283.4 700.4 283.6 692.3 283.8 696.0 284.0 691.3 284.2 700.9 284.4 691.6 284.6 696.3 284.8 690.6 285.0 700.5 285.2 692.4 285.4 697.9 285.6 695.2 285.8 697.8 286.0 691.2 286.2 696.8 286.4 690.0 286.6 707.3 286.8 683.1 287.0 697.0 287.2 683.1 287.4 698.2 287.6 691.0 287.8 698.5 288.0 694.9 288.2 697.8 288.4 692.6 288.6 706.8 288.8 687.9 289.0 696.2 289.2 683.1 289.4 698.7 289.6 688.6 289.8 703.1 290.0 687.7 290.2 696.8 290.4 695.0 290.6 700.5 290.8 694.0 291.0 697.2 291.2 693.2 291.4 701.2 291.6 686.3 291.8 708.1 292.0 691.0 292.2 700.4 292.4 694.9 292.6 703.0 292.8 685.7 293.0 702.2 293.2 695.1 293.4 704.5 293.6 691.9 293.8 697.0 294.0 690.6 294.2 699.5 294.4 694.5 294.6 701.4 294.8 694.5 295.0 707.2 295.2 691.0 295.4 699.1 295.6 692.5 295.8 697.6 296.0 690.7 296.2 699.2 296.4 691.9 296.6 698.9 296.8 694.5 297.0 699.2 297.2 695.2 297.4 696.2 297.6 694.6 297.8 698.6 298.0 690.9 298.2 699.1 298.4 692.2 298.6 702.0 298.8 692.2 299.0 697.7 299.2 691.8 299.4 698.0 299.6 693.2 299.8 707.2 300.0 691.5 300.2 705.4 300.4 691.9 300.6 700.9 300.8 685.4 301.0 699.5 301.2 689.8 301.4 700.5 301.6 692.1 301.8 699.5 302.0 693.9 302.2 701.9 302.4 692.8 302.6 696.0 302.8 686.9 303.0 702.6 303.2 692.5 303.4 696.0 303.6 689.5 303.8 704.6 304.0 688.2 304.2 696.4 304.4 693.3 304.6 698.1 304.8 693.3 305.0 698.8 305.2 693.9 305.4 702.0 305.6 695.0 305.8 698.5 306.0 690.3 306.2 706.2 306.4 692.3 306.6 697.2 306.8 695.2 307.0 697.6 307.2 688.7 307.4 701.0 307.6 686.6 307.8 699.3 308.0 687.3 308.2 699.2 308.4 689.9 308.6 697.1 308.8 686.5 309.0 696.3 309.2 691.7 309.4 696.8 309.6 695.2 309.8 696.0 310.0 691.4 310.2 699.2 310.4 689.0 310.6 703.9 310.8 690.7 311.0 700.0 311.2 689.9 311.4 703.3 311.6 689.5 311.8 707.8 312.0 693.5 312.2 702.4 312.4 690.3 312.6 697.9 312.8 686.1 313.0 696.4 313.2 687.3 313.4 703.0 313.6 688.4 313.8 696.7 314.0 687.7 314.2 696.3 314.4 686.8 314.6 696.0 314.8 693.5 315.0 706.6 315.2 691.0 315.4 699.3 315.6 688.1 315.8 696.0 316.0 683.5 316.2 704.5 316.4 686.2 316.6 696.0 316.8 691.2 317.0 700.7 317.2 693.6 317.4 697.1 317.6 693.9 317.8 702.5 318.0 685.9 318.2 702.3 318.4 693.0 318.6 702.6 318.8 689.5 319.0 700.8 319.2 694.4 319.4 697.8 319.6 691.8 319.8 698.5 320.0 690.0 320.2 700.1 320.4 694.1 320.6 696.2 320.8 691.3 321.0 696.7 321.2 688.4 321.4 700.2 321.6 691.1 321.8 696.0 322.0 694.3 322.2 699.6 322.4 695.0 322.6 697.3 322.8 695.2 323.0 698.0 323.2 691.2 323.4 704.0 323.6 692.1 323.8 699.7 324.0 693.2 324.2 699.5 324.4 685.4 324.6 699.6 324.8 689.2 325.0 697.6 325.2 687.6 325.4 700.4 325.6 687.8 325.8 697.2 326.0 689.6 326.2 697.6 326.4 695.0 326.6 696.0 326.8 687.8 327.0 696.6 327.2 689.4 327.4 702.5 327.6 689.7 327.8 696.0 328.0 689.2 328.2 702.2 328.4 691.7 328.6 698.0 328.8 689.9 329.0 699.2 329.2 689.6 329.4 696.1 329.6 692.3 329.8 699.9 330.0 690.6 330.2 700.2 330.4 693.7 330.6 698.3 330.8 691.2 331.0 696.2 331.2 691.5 331.4 696.0 331.6 690.3 331.8 704.3 332.0 694.3 332.2 700.8 332.4 691.3 332.6 696.9 332.8 693.3 333.0 702.4 333.2 690.8 333.4 696.6 333.6 694.3 333.8 696.0 334.0 690.4 334.2 697.1 334.4 689.9 334.6 701.5 334.8 689.3 335.0 698.0 335.2 693.4 335.4 697.6 335.6 694.0 335.8 700.0 336.0 694.5 336.2 701.4 336.4 688.1 336.6 699.5 336.8 694.0 337.0 696.2 337.2 694.0 337.4 700.9 337.6 690.6 337.8 699.0 338.0 691.7 338.2 696.6 338.4 695.2 338.6 696.5 338.8 688.5 339.0 696.0 339.2 692.7 339.4 696.0 339.6 695.0 339.8 696.7 340.0 694.8 340.2 697.9 340.4 693.3 340.6 698.5 340.8 691.8 341.0 700.5 341.2 695.2 341.4 696.2 341.6 693.9 341.8 696.0 342.0 690.6 342.2 705.6 342.4 694.2 342.6 696.1 342.8 693.8 343.0 699.5 343.2 686.2 343.4 701.4 343.6 693.6 343.8 703.6 344.0 692.3 344.2 699.2 344.4 694.3 344.6 699.1 344.8 695.1 345.0 698.8 345.2 694.7 345.4 700.4 345.6 694.5 345.8 697.3 346.0 693.6 346.2 698.9 346.4 691.8 346.6 701.1 346.8 694.8 347.0 698.2 347.2 690.1 347.4 698.0 347.6 691.6 347.8 704.8 348.0 689.0 348.2 699.7 348.4 691.8 348.6 703.1 348.8 687.4 349.0 703.2 349.2 693.0 349.4 697.2 349.6 691.7 349.8 696.0 350.0 690.5 350.2 701.7 350.4 691.9 350.6 698.1 350.8 693.4 351.0 696.5 351.2 695.2 351.4 696.6 351.6 692.5 351.8 697.0 352.0 690.4 352.2 696.2 352.4 692.7 352.6 696.5 352.8 693.0 353.0 699.8 353.2 692.1 353.4 699.8 353.6 694.2 353.8 700.5 354.0 695.2 354.2 696.8 354.4 691.4 354.6 697.4 354.8 693.0 355.0 701.4 355.2 690.2 355.4 697.7 355.6 694.8 355.8 705.2 356.0 692.3 356.2 698.6 356.4 686.9 356.6 701.6 356.8 690.3 357.0 702.9 357.2 695.2 357.4 703.4 357.6 692.9 357.8 701.2 358.0 692.8 358.2 700.5 358.4 694.4 358.6 698.6 358.8 686.1 359.0 699.2 359.2 690.4 359.4 696.0 359.6 692.1 359.8 696.0 360.0 694.1 360.2 698.1 360.4 693.1 360.6 697.7 360.8 695.2 361.0 697.9 361.2 691.5 361.4 698.4 361.6 695.1 361.8 697.1 362.0 694.3 362.2 699.5 362.4 689.2 362.6 696.0 362.8 691.7 363.0 701.1 363.2 694.7 363.4 699.3 363.6 690.4 363.8 698.7 364.0 691.6 364.2 701.7 364.4 693.7 364.6 699.3 364.8 687.3 365.0 698.4 365.2 689.2 365.4 698.2 365.6 694.7 365.8 697.0 366.0 693.6 366.2 700.6 366.4 685.9 366.6 703.2 366.8 687.9 367.0 696.0 367.2 693.2 367.4 697.2 367.6 693.8 367.8 701.3 368.0 693.5 368.2 698.9 368.4 694.7 368.6 702.1 368.8 691.1 369.0 702.2 369.2 692.7 369.4 697.7 369.6 693.0 369.8 697.2 370.0 692.4 370.2 696.6 370.4 686.2 370.6 697.3 370.8 692.7 371.0 704.2 371.2 692.6 371.4 696.9 371.6 694.4 371.8 698.2 372.0 690.8 372.2 698.8 372.4 692.5 372.6 701.6 372.8 694.3 373.0 700.6 373.2 689.7 373.4 697.5 373.6 695.2 373.8 702.4 374.0 691.0 374.2 699.1 374.4 693.2 374.6 699.8 374.8 694.3 375.0 697.9 375.2 691.4 375.4 696.1 375.6 693.6 375.8 697.2 376.0 694.3 376.2 696.3 376.4 692.3 376.6 701.7 376.8 690.8 377.0 696.8 377.2 693.2 377.4 704.5 377.6 687.7 377.8 700.3 378.0 692.0 378.2 696.9 378.4 694.3 378.6 698.1 378.8 690.8 379.0 702.0 379.2 694.9 379.4 699.1 379.6 692.6 379.8 702.5 380.0 691.1 380.2 699.0 380.4 694.5 380.6 704.3 380.8 690.7 381.0 700.9 381.2 688.9 381.4 696.0 381.6 693.3 381.8 698.7 382.0 694.4 382.2 704.2 382.4 692.5 382.6 699.7 382.8 691.5 383.0 699.1 383.2 693.7 383.4 696.0 383.6 689.7 383.8 698.7 384.0 695.1 384.2 696.0 384.4 693.8 384.6 701.6 384.8 693.9 385.0 697.0 385.2 694.0 385.4 696.0 385.6 692.3 385.8 699.3 386.0 694.2 386.2 696.0 386.4 694.2 386.6 696.0 386.8 693.2 387.0 696.7 387.2 693.4 387.4 697.6 387.6 694.7 387.8 700.3 388.0 690.1 388.2 698.2 388.4 687.4 388.6 697.3 388.8 692.7 389.0 701.4 389.2 693.4 389.4 697.8 389.6 689.6 389.8 698.2 390.0 692.2 390.2 702.1 390.4 691.6 390.6 700.0 390.8 690.3 391.0 702.2 391.2 692.6 391.4 696.0 391.6 692.7 391.8 698.5 392.0 695.1 392.2 696.0 392.4 690.4 392.6 696.3 392.8 692.4 393.0 703.0 393.2 694.3 393.4 703.5 393.6 693.4 393.8 696.0 394.0 691.5 394.2 696.0 394.4 692.7 394.6 699.3 394.8 694.1 395.0 696.0 395.2 694.6 395.4 699.3 395.6 695.1 395.8 697.9 396.0 692.3 396.2 698.0 396.4 688.6 396.6 697.3 396.8 694.5 397.0 698.7 397.2 693.3 397.4 696.0 397.6 693.8 397.8 699.5 398.0 693.7 398.2 699.2 398.4 690.9 398.6 698.2 398.8 692.9 399.0 696.0 399.2 695.1 399.4 699.4 399.6 694.0 399.8 700.1 400.0 695.2 400.2 700.3 400.4 692.7 400.6 696.0 400.8 691.1 401.0 698.9 401.2 695.2 401.4 697.3 401.6 692.2 401.8 698.2 402.0 690.2 402.2 698.7 402.4 692.6 402.6 696.0 402.8 695.2 403.0 699.4 403.2 691.0 403.4 699.0 403.6 694.0 403.8 696.9 404.0 693.7 404.2 701.3 404.4 691.1 404.6 700.2 404.8 692.4 405.0 704.7 405.2 692.6 405.4 696.8 405.6 693.5 405.8 699.1 406.0 695.2 406.2 696.0 406.4 692.5 406.6 699.0 406.8 693.0 407.0 702.1 407.2 691.9 407.4 699.1 407.6 695.2 407.8 698.5 408.0 693.2 408.2 696.5 408.4 685.6 408.6 699.3 408.8 695.2 409.0 696.3 409.2 694.1 409.4 698.1 409.6 694.9 409.8 696.0 410.0 692.5 410.2 697.4 410.4 694.5 410.6 696.0 410.8 694.0 411.0 696.9 411.2 691.1 411.4 700.0 411.6 690.4 411.8 696.0 412.0 695.2 412.2 699.6 412.4 694.8 412.6 698.8 412.8 689.5 413.0 696.7 413.2 695.2 413.4 701.7 413.6 689.3 413.8 703.3 414.0 692.3 414.2 700.1 414.4 693.2 414.6 697.1 414.8 692.6 415.0 700.0 415.2 695.2 415.4 697.4 415.6 693.3 415.8 696.0 416.0 690.1 416.2 697.0 416.4 693.3 416.6 698.0 416.8 694.7 417.0 696.2 417.2 695.2 417.4 696.8 417.6 695.2 417.8 696.7 418.0 691.6 418.2 698.8 418.4 695.2 418.6 701.8 418.8 689.8 419.0 696.2 419.2 695.2 419.4 697.5 419.6 691.5 419.8 698.5 420.0 695.2 420.2 697.7 420.4 693.9 420.6 697.4 420.8 693.0 421.0 698.7 421.2 694.3 421.4 698.0 421.6 693.1 421.8 698.3 422.0 695.2 422.2 697.3 422.4 695.2 422.6 700.5 422.8 691.1 423.0 700.7 423.2 694.4 423.4 696.0 423.6 692.2 423.8 698.3 424.0 691.4 424.2 699.4 424.4 689.5 424.6 700.2 424.8 689.5 425.0 698.0 425.2 694.0 425.4 696.5 425.6 692.3 425.8 696.0 426.0 695.2 426.2 699.1 426.4 691.3 426.6 697.3 426.8 692.9 427.0 697.8 427.2 695.0 427.4 696.8 427.6 691.3 427.8 696.0 428.0 693.5 428.2 699.8 428.4 692.8 428.6 696.0 428.8 695.2 429.0 696.0 429.2 694.2 429.4 700.2 429.6 693.0 429.8 696.7 430.0 690.0 430.2 697.5 430.4 695.2 430.6 696.0 430.8 692.8 431.0 696.2 431.2 694.1 431.4 697.2 431.6 692.3 431.8 697.8 432.0 689.8 432.2 696.0 432.4 693.9 432.6 696.0 432.8 693.1 433.0 696.0 433.2 693.2 433.4 699.3 433.6 693.8 433.8 696.8 434.0 693.1 434.2 697.9 434.4 691.4 434.6 696.0 434.8 694.2 435.0 699.7 435.2 691.7 435.4 696.0 435.6 695.2 435.8 696.1 436.0 692.2 436.2 696.5 436.4 693.0 436.6 696.2 436.8 693.7 437.0 699.7 437.2 695.1 437.4 697.2 437.6 694.4 437.8 696.0 438.0 691.2 438.2 697.8 438.4 693.2 438.6 696.9 438.8 693.9 439.0 696.7 439.2 692.7 439.4 696.3 439.6 695.2 439.8 699.5 440.0 694.5 440.2 696.4 440.4 694.9 440.6 696.9 440.8 693.6 441.0 698.5 441.2 692.8 441.4 696.3 441.6 695.2 441.8 697.3 442.0 693.6 442.2 696.7 442.4 694.0 442.6 697.1 442.8 695.0 443.0 696.0 443.2 695.1 443.4 696.0 443.6 692.9 443.8 696.0 444.0 693.5 444.2 696.8 444.4 693.1 444.6 696.0 444.8 694.5 445.0 697.8 445.2 690.7 445.4 698.2 445.6 694.5 445.8 697.3 446.0 694.6 446.2 696.0 446.4 693.7 446.6 699.6 446.8 692.4 447.0 698.6 447.2 692.6 447.4 696.0 447.6 692.5 447.8 699.5 448.0 694.3 448.2 696.9 448.4 693.6 448.6 699.1 448.8 690.9 449.0 700.5 449.2 694.9 449.4 696.2 449.6 694.3 449.8 699.7 450.0 694.1 450.2 700.5 450.4 695.2 450.6 696.0 450.8 693.6 451.0 696.0 451.2 693.0 451.4 700.9 451.6 691.6 451.8 697.8 452.0 693.4 452.2 698.3 452.4 692.4 452.6 699.7 452.8 695.1 453.0 697.1 453.2 692.4 453.4 698.2 453.6 694.5 453.8 699.8 454.0 693.9 454.2 698.8 454.4 694.2 454.6 698.2 454.8 693.3 455.0 696.6 455.2 691.8 455.4 696.0 455.6 694.5 455.8 696.0 456.0 694.0 456.2 697.1 456.4 692.9 456.6 696.1 456.8 693.4 457.0 696.2 457.2 695.2 457.4 697.0 457.6 695.2 457.8 699.9 458.0 690.9 458.2 697.7 458.4 695.2 458.6 697.4 458.8 691.8 459.0 696.0 459.2 694.4 459.4 697.6 459.6 692.5 459.8 699.3 460.0 693.6 460.2 696.7 460.4 694.1 460.6 696.9 460.8 692.6 461.0 696.8 461.2 693.5 461.4 698.5 461.6 693.1 461.8 697.3 462.0 695.2 462.2 696.2 462.4 694.8 462.6 696.0 462.8 694.9 463.0 697.2 463.2 691.7 463.4 696.3 463.6 694.3 463.8 696.4 464.0 692.8 464.2 698.5 464.4 694.4 464.6 696.7 464.8 690.7 465.0 696.0 465.2 694.7 465.4 699.2 465.6 694.8 465.8 697.9 466.0 694.6 466.2 696.0 466.4 694.4 466.6 696.2 466.8 693.8 467.0 698.0 467.2 692.4 467.4 696.5 467.6 693.9 467.8 696.2 468.0 692.5 468.2 699.2 468.4 694.7 468.6 696.0 468.8 692.5 469.0 696.2 469.2 693.0 469.4 696.7 469.6 695.1 469.8 696.1 470.0 695.2 470.2 698.8 470.4 690.4 470.6 696.0 470.8 690.6 471.0 696.0 471.2 694.9 471.4 696.7 471.6 695.2 471.8 696.0 472.0 694.0 472.2 699.2 472.4 695.2 472.6 698.5 472.8 694.8 473.0 696.0 473.2 694.1 473.4 700.7 473.6 695.2 473.8 696.4 474.0 695.1 474.2 699.6 474.4 690.8 474.6 697.1 474.8 694.4 475.0 697.7 475.2 692.7 475.4 696.9 475.6 694.1 475.8 696.0 476.0 695.2 476.2 696.0 476.4 693.5 476.6 697.1 476.8 692.3 477.0 696.0 477.2 693.3 477.4 696.9 477.6 694.6 477.8 699.7 478.0 694.6 478.2 696.0 478.4 693.2 478.6 696.4 478.8 693.4 479.0 696.0 479.2 693.1 479.4 696.0 479.6 695.2 479.8 696.0 480.0 694.3 480.2 696.1 480.4 695.2 480.6 698.2 480.8 693.2 481.0 698.8 481.2 694.4 481.4 696.7 481.6 695.2 481.8 696.5 482.0 693.3 482.2 697.2 482.4 694.9 482.6 698.5 482.8 694.0 483.0 697.8 483.2 690.7 483.4 696.5 483.6 695.2 483.8 696.8 484.0 694.6 484.2 700.5 484.4 692.7 484.6 696.0 484.8 692.8 485.0 696.0 485.2 693.8 485.4 697.5 485.6 695.2 485.8 698.9 486.0 695.2 486.2 696.0 486.4 692.1 486.6 696.0 486.8 695.2 487.0 696.7 487.2 693.9 487.4 696.6 487.6 694.5 487.8 699.3 488.0 692.6 488.2 699.8 488.4 692.3 488.6 696.9 488.8 691.2 489.0 696.4 489.2 694.1 489.4 697.6 489.6 695.2 489.8 696.0 490.0 695.2 490.2 697.9 490.4 692.5 490.6 696.6 490.8 695.2 491.0 696.2 491.2 695.2 491.4 699.9 491.6 694.5 491.8 696.0 492.0 694.9 492.2 697.0 492.4 693.7 492.6 696.6 492.8 693.9 493.0 696.0 493.2 693.3 493.4 696.7 493.6 693.8 493.8 696.0 494.0 695.2 494.2 697.1 494.4 695.0 494.6 700.1 494.8 693.3 495.0 696.0 495.2 693.3 495.4 698.2 495.6 695.2 495.8 696.0 496.0 694.0 496.2 700.1 496.4 695.1 496.6 697.1 496.8 695.2 497.0 696.5 497.2 694.7 497.4 697.8 497.6 692.5 497.8 696.2 498.0 692.8 498.2 697.1 498.4 693.8 498.6 698.5 498.8 694.6 499.0 697.1 499.2 695.0 499.4 696.5 499.6 693.5 499.8 699.4 500.0 693.2 500.2 696.0 500.4 691.9 500.6 697.0 500.8 694.5 501.0 696.4 501.2 694.0 501.4 696.6 501.6 692.3 501.8 698.6 502.0 695.2 502.2 696.5 502.4 692.7 502.6 696.0 502.8 695.2 503.0 697.4 503.2 695.2 503.4 699.4 503.6 695.2 503.8 697.4 504.0 692.2 504.2 697.0 504.4 693.5 504.6 696.4 504.8 695.2 505.0 696.0 505.2 694.7 505.4 699.6 505.6 694.5 505.8 696.0 506.0 694.3 506.2 696.4 506.4 694.4 506.6 699.8 506.8 694.4 507.0 698.1 507.2 691.3 507.4 697.6 507.6 694.0 507.8 696.5 508.0 693.9 508.2 696.0 508.4 694.3 508.6 697.8 508.8 694.3 509.0 697.8 509.2 695.2 509.4 696.9 509.6 693.7 509.8 696.0 510.0 691.3 510.2 697.2 510.4 694.5 510.6 698.5 510.8 693.8 511.0 699.9 511.2 694.1 511.4 697.0 511.6 693.1 511.8 697.6 512.0 694.9 512.2 696.2 512.4 693.2 512.6 696.1 512.8 695.2 513.0 697.4 513.2 694.6 513.4 696.2 513.6 694.5 513.8 696.2 514.0 695.2 514.2 698.3 514.4 693.0 514.6 697.8 514.8 693.6 515.0 696.0 515.2 694.4 515.4 697.2 515.6 693.8 515.8 696.0 516.0 694.4 516.2 696.8 516.4 692.5 516.6 696.8 516.8 695.2 517.0 697.3 517.2 693.9 517.4 696.2 517.6 692.9 517.8 698.2 518.0 691.4 518.2 698.5 518.4 695.2 518.6 696.2 518.8 694.6 519.0 698.4 519.2 695.2 519.4 698.2 519.6 692.2 519.8 698.0 520.0 695.0 520.2 696.9 520.4 691.7 520.6 696.0 520.8 694.5 521.0 697.4 521.2 693.5 521.4 696.6 521.6 692.1 521.8 697.6 522.0 695.0 522.2 696.1 522.4 695.0 522.6 696.0 522.8 695.2 523.0 696.2 523.2 695.2 523.4 697.7 523.6 694.0 523.8 699.1 524.0 695.1 524.2 697.6 524.4 691.8 524.6 697.4 524.8 693.6 525.0 696.2 525.2 694.0 525.4 696.1 525.6 693.9 525.8 696.3 526.0 694.9 526.2 698.4 526.4 694.2 526.6 696.0 526.8 692.0 527.0 696.0 527.2 692.9 527.4 696.8 527.6 694.8 527.8 697.3 528.0 694.0 528.2 697.4 528.4 695.2 528.6 697.4 528.8 693.3 529.0 696.9 529.2 694.1 529.4 696.8 529.6 694.3 529.8 698.8 530.0 694.7 530.2 696.4 530.4 694.9 530.6 697.6 530.8 695.2 531.0 697.3 531.2 693.8 531.4 696.0 531.6 694.6 531.8 696.8 532.0 693.1 532.2 697.7 532.4 694.3 532.6 697.0 532.8 694.9 533.0 697.6 533.2 695.2 533.4 696.2 533.6 694.4 533.8 698.7 534.0 694.4 534.2 696.2 534.4 694.3 534.6 697.4 534.8 694.8 535.0 696.1 535.2 695.2 535.4 699.6 535.6 695.2 535.8 696.5 536.0 695.2 536.2 699.0 536.4 692.1 536.6 696.5 536.8 695.1 537.0 697.2 537.2 694.3 537.4 697.9 537.6 694.0 537.8 696.8 538.0 695.0 538.2 696.0 538.4 694.5 538.6 696.0 538.8 694.8 539.0 698.2 539.2 695.2 539.4 696.5 539.6 695.2 539.8 696.0 540.0 694.6 540.2 696.4 540.4 694.7 540.6 696.6 540.8 695.2 541.0 696.0 541.2 694.7 541.4 696.0 541.6 693.2 541.8 698.2 542.0 692.3 542.2 696.1 542.4 695.2 542.6 697.8 542.8 695.2 543.0 696.4 543.2 694.4 543.4 699.5 543.6 694.3 543.8 699.5 544.0 692.3 544.2 696.2 544.4 693.8 544.6 697.1 544.8 693.7 545.0 696.3 545.2 695.2 545.4 697.3 545.6 694.4 545.8 698.0 546.0 695.2 546.2 696.4 546.4 692.8 546.6 697.2 546.8 694.8 547.0 696.2 547.2 695.2 547.4 697.1 547.6 694.7 547.8 696.2 548.0 692.9 548.2 697.2 548.4 694.8 548.6 697.5 548.8 693.1 549.0 696.9 549.2 695.2 549.4 697.2 549.6 694.3 549.8 697.0 550.0 694.2 550.2 696.1 550.4 692.9 550.6 696.0 550.8 694.4 551.0 699.2 551.2 694.6 551.4 696.0 551.6 693.2 551.8 696.0 552.0 693.6 552.2 698.3 552.4 694.5 552.6 696.5 552.8 695.2 553.0 696.7 553.2 693.1 553.4 697.4 553.6 694.4 553.8 696.2 554.0 693.7 554.2 696.0 554.4 693.6 554.6 696.5 554.8 691.8 555.0 699.0 555.2 694.9 555.4 696.7 555.6 694.4 555.8 698.6 556.0 694.2 556.2 696.4 556.4 693.6 556.6 696.3 556.8 695.2 557.0 697.7 557.2 693.7 557.4 698.7 557.6 694.7 557.8 696.4 558.0 694.7 558.2 696.0 558.4 694.1 558.6 696.0 558.8 694.1 559.0 696.0 559.2 694.5 559.4 696.0 559.6 694.4 559.8 696.5 560.0 693.3 560.2 698.0 560.4 695.2 560.6 697.1 560.8 695.2 561.0 698.2 561.2 695.2 561.4 697.5 561.6 694.8 561.8 696.1 562.0 695.0 562.2 697.9 562.4 693.3 562.6 696.3 562.8 694.8 563.0 698.5 563.2 692.4 563.4 697.4 563.6 695.2 563.8 697.0 564.0 695.0 564.2 697.4 564.4 694.7 564.6 699.3 564.8 693.9 565.0 696.0 565.2 695.2 565.4 698.2 565.6 694.1 565.8 696.0 566.0 694.3 566.2 696.3 566.4 694.1 566.6 698.0 566.8 694.2 567.0 699.2 567.2 695.2 567.4 696.0 567.6 695.0 567.8 696.6 568.0 695.2 568.2 696.0 568.4 692.9 568.6 696.0 568.8 695.1 569.0 696.0 569.2 693.4 569.4 696.9 569.6 694.7 569.8 698.2 570.0 693.7 570.2 697.9 570.4 693.6 570.6 697.8 570.8 693.0 571.0 697.5 571.2 694.1 571.4 696.0 571.6 695.2 571.8 696.8 572.0 694.7 572.2 697.1 572.4 694.8 572.6 697.6 572.8 692.8 573.0 697.5 573.2 695.2 573.4 698.5 573.6 694.5 573.8 696.2 574.0 695.2 574.2 696.8 574.4 695.2 574.6 697.6 574.8 695.2 575.0 696.6 575.2 694.8 575.4 698.3 575.6 694.4 575.8 696.0 576.0 695.2 576.2 696.0 576.4 694.8 576.6 696.4 576.8 695.2 577.0 697.1 577.2 695.0 577.4 696.5 577.6 693.9 577.8 696.3 578.0 694.9 578.2 697.1 578.4 695.2 578.6 696.4 578.8 694.6 579.0 697.2 579.2 694.9 579.4 696.3 579.6 695.2 579.8 696.0 580.0 694.2 580.2 698.0 580.4 695.2 580.6 696.5 580.8 694.5 581.0 697.3 581.2 695.1 581.4 697.0 581.6 695.2 581.8 698.7 582.0 695.2 582.2 696.5 582.4 693.9 582.6 697.7 582.8 694.4 583.0 696.9 583.2 693.9 583.4 698.3 583.6 692.2 583.8 697.1 584.0 695.2 584.2 697.2 584.4 692.3 584.6 696.0 584.8 692.9 585.0 697.0 585.2 695.2 585.4 699.0 585.6 693.7 585.8 697.6 586.0 694.6 586.2 696.0 586.4 694.3 586.6 697.5 586.8 693.9 587.0 698.3 587.2 694.6 587.4 696.4 587.6 695.2 587.8 697.3 588.0 694.2 588.2 698.9 588.4 695.2 588.6 697.2 588.8 694.5 589.0 696.0 589.2 695.2 589.4 696.1 589.6 695.0 589.8 696.0 590.0 694.2 590.2 696.0 590.4 694.8 590.6 696.3 590.8 693.8 591.0 696.0 591.2 693.7 591.4 696.0 591.6 693.4 591.8 696.8 592.0 694.0 592.2 698.2 592.4 694.2 592.6 697.1 592.8 693.3 593.0 696.0 593.2 694.7 593.4 697.6 593.6 695.2 593.8 698.1 594.0 694.0 594.2 697.3 594.4 692.8 594.6 696.2 594.8 694.8 595.0 698.0 595.2 694.8 595.4 698.6 595.6 695.2 595.8 697.6 596.0 694.9 596.2 697.1 596.4 694.8 596.6 697.5 596.8 694.6 597.0 696.0 597.2 692.8 597.4 697.2 597.6 694.2 597.8 698.8 598.0 694.5 598.2 696.4 598.4 694.3 598.6 698.5 598.8 694.9 599.0 696.0 599.2 695.2 599.4 696.0 599.6 693.2 599.8 696.0 600.0 693.3 600.2 696.4 600.4 695.2 600.6 696.0 600.8 694.3 601.0 696.4 601.2 694.0 601.4 696.9 601.6 695.2 601.8 696.6 602.0 694.1 602.2 696.7 602.4 695.2 602.6 697.2 602.8 693.1 603.0 696.7 603.2 694.2 603.4 696.3 603.6 694.5 603.8 697.6 604.0 694.4 604.2 697.8 604.4 695.2 604.6 696.8 604.8 692.5 605.0 696.5 605.2 693.8 605.4 697.3 605.6 694.5 605.8 697.5 606.0 695.2 606.2 696.2 606.4 694.1 606.6 697.4 606.8 695.2 607.0 696.1 607.2 693.6 607.4 696.4 607.6 693.0 607.8 696.0 608.0 695.2 608.2 697.1 608.4 694.7 608.6 696.0 608.8 695.1 609.0 696.0 609.2 695.2 609.4 696.6 609.6 695.2 609.8 696.2 610.0 694.2 610.2 697.9 610.4 695.2 610.6 697.7 610.8 695.0 611.0 696.0 611.2 694.1 611.4 696.0 611.6 692.7 611.8 696.0 612.0 694.8 612.2 696.9 612.4 693.3 612.6 696.3 612.8 694.8 613.0 696.5 613.2 693.0 613.4 696.0 613.6 692.8 613.8 696.2 614.0 692.5 614.2 696.7 614.4 692.5 614.6 696.6 614.8 694.3 615.0 697.0 615.2 694.1 615.4 696.1 615.6 695.0 615.8 696.0 616.0 694.5 616.2 697.5 616.4 694.8 616.6 696.0 616.8 695.2 617.0 698.1 617.2 694.9 617.4 696.9 617.6 695.2 617.8 697.4 618.0 694.8 618.2 696.3 618.4 694.8 618.6 696.0 618.8 695.1 619.0 696.0 619.2 693.4 619.4 696.4 619.6 693.6 619.8 696.0 620.0 695.2 620.2 696.0 620.4 694.7 620.6 697.8 620.8 695.1 621.0 696.4 621.2 694.7 621.4 697.8 621.6 692.7 621.8 697.0 622.0 692.6 622.2 696.5 622.4 695.2 622.6 696.3 622.8 694.6 623.0 697.4 623.2 693.4 623.4 696.0 623.6 695.2 623.8 696.9 624.0 694.2 624.2 696.6 624.4 695.2 624.6 696.2 624.8 695.2 625.0 696.8 625.2 693.8 625.4 696.5 625.6 695.2 625.8 696.0 626.0 693.6 626.2 696.0 626.4 695.0 626.6 696.9 626.8 693.0 627.0 697.8 627.2 693.9 627.4 697.2 627.6 694.2 627.8 696.0 628.0 694.5 628.2 696.5 628.4 695.1 628.6 696.0 628.8 695.0 629.0 696.2 629.2 695.2 629.4 696.8 629.6 693.5 629.8 697.1 630.0 693.6 630.2 697.7 630.4 695.0 630.6 696.0 630.8 695.1 631.0 696.2 631.2 694.9 631.4 696.6 631.6 695.0 631.8 696.0 632.0 694.5 632.2 696.0 632.4 695.2 632.6 696.0 632.8 694.7 633.0 696.0 633.2 694.7 633.4 697.1 633.6 694.5 633.8 697.3 634.0 695.0 634.2 696.0 634.4 695.2 634.6 696.0 634.8 695.2 635.0 696.7 635.2 694.9 635.4 697.9 635.6 694.8 635.8 696.0 636.0 695.2 636.2 697.5 636.4 694.3 636.6 697.2 636.8 694.8 637.0 697.7 637.2 694.8 637.4 696.4 637.6 695.1 637.8 697.9 638.0 695.2 638.2 696.0 638.4 693.9 638.6 697.3 638.8 695.2 639.0 696.2 639.2 693.6 639.4 696.0 639.6 695.2 639.8 696.4 640.0 695.2 640.2 696.1 640.4 695.0 640.6 696.0 640.8 695.2 641.0 697.1 641.2 694.1 641.4 696.0 641.6 693.5 641.8 696.0 642.0 695.2 642.2 696.0 642.4 694.7 642.6 696.0 642.8 695.2 643.0 696.1 643.2 695.0 643.4 696.0 643.6 694.8 643.8 697.0 644.0 695.2 644.2 696.0 644.4 695.1 644.6 696.0 644.8 692.8 645.0 696.0" stroke-width="0.5" stroke-linejoin="round"/>
<path d="M43.5 695.6H645.0" stroke-width="2.8"/>
</g>
<text x="43.5" y="833.3" text-anchor="middle" font-size="12.5">00:00</text>
<text x="118.5" y="833.3" text-anchor="middle" font-size="12.5">03:00</text>
<text x="194.5" y="833.3" text-anchor="middle" font-size="12.5">06:00</text>
<text x="269.5" y="833.3" text-anchor="middle" font-size="12.5">09:00</text>
<text x="344.5" y="833.3" text-anchor="middle" font-size="12.5">12:00</text>
<text x="419.5" y="833.3" text-anchor="middle" font-size="12.5">15:00</text>
<text x="494.5" y="833.3" text-anchor="middle" font-size="12.5">18:00</text>
<text x="570.5" y="833.3" text-anchor="middle" font-size="12.5">21:00</text>
<text x="645.5" y="833.3" text-anchor="middle" font-size="12.5">00:00</text>
<text x="39" y="618.2" text-anchor="end" font-size="12.5">1</text>
<text x="39" y="659.0" text-anchor="end" font-size="12.5">0.5</text>
<text x="39" y="699.8000000000001" text-anchor="end" font-size="12.5">0</text>
<text x="39" y="740.6" text-anchor="end" font-size="12.5">-0.5</text>
<text x="39" y="781.4000000000001" text-anchor="end" font-size="12.5">-1</text>
<text x="39" y="822.2" text-anchor="end" font-size="12.5">-1.5</text>
<text x="11" y="716.3" text-anchor="middle" font-weight="bold" transform="rotate(-90 11 716.3)" font-size="12.5">Z (nT)</text>
<rect x="836.5" y="46" width="603.5" height="204.5" fill="#00008f"/>
<g stroke-width="1" fill="none" shape-rendering="crispEdges">
<path stroke="#00009f" d="M893.5 112v7M893.5 163v7M912.5 59v7M912.5 78v22M913.5 52v1M913.5 164v16M914.5 62v2M914.5 211v6M915.5 107v3M915.5 216v4M930.5 65v9M930.5 216v3M931.5 220v2M932.5 65v9M932.5 216v3M935.5 60v5M935.5 155v2M936.5 46v1M936.5 160v1M937.5 60v5M937.5 155v2M962.5 119v48M963.5 75v4M964.5 119v48M969.5 172v2M970.5 99v17M970.5 155v18M971.5 75v2M971.5 176v1M971.5 181v3M972.5 99v17M972.5 155v15M972.5 200v4M973.5 227v5M978.5 97v7M983.5 97v29M983.5 143v9M984.5 55v3M984.5 158v3M985.5 97v29M985.5 143v9M986.5 122v11M986.5 202v4M987.5 105v3M987.5 209v2M988.5 105v13M988.5 202v4M989.5 46v1M989.5 149v2M990.5 105v39M990.5 152v16M990.5 186v5M991.5 147v1M991.5 195v3M992.5 152v16M992.5 186v5M996.5 135v16M996.5 199v5M997.5 111v4M997.5 208v2M998.5 135v16M998.5 199v5M1006.5 206v12M1007.5 67v20M1009.5 67v20M1010.5 206v12M1011.5 177v6M1011.5 225v25M1012.5 171v2M1013.5 178v2M1014.5 203v5M1015.5 242v7M1018.5 107v27M1019.5 86v3M1020.5 107v27M1022.5 232v12M1023.5 181v7M1024.5 135v8M1025.5 123v4M1026.5 133v5M1027.5 130v2M1028.5 140v8M1029.5 223v6M1030.5 74v19M1032.5 74v19M1033.5 226v15M1034.5 118v47M1035.5 81v3M1036.5 118v47M1040.5 215v18M1041.5 118v13M1042.5 99v3M1042.5 212v21M1043.5 118v13M1043.5 208v2M1050.5 90v18M1050.5 232v2M1051.5 53v2M1051.5 235v1M1052.5 90v18M1052.5 232v2M1055.5 206v8M1056.5 85v40M1057.5 46v2M1058.5 85v40M1059.5 113v19M1060.5 68v5M1061.5 113v19M1062.5 227v13M1066.5 218v13M1067.5 126v9M1068.5 111v2M1069.5 126v9M1070.5 212v4M1071.5 209v2M1072.5 99v9M1073.5 81v2M1074.5 99v9M1077.5 92v3M1080.5 102v28M1081.5 83v2M1082.5 102v28M1085.5 109v6M1086.5 98v2M1087.5 109v6M1088.5 131v14M1089.5 105v4M1090.5 131v14M1091.5 214v6M1092.5 175v6M1093.5 125v10M1094.5 105v5M1095.5 125v10M1096.5 175v6M1097.5 214v6M1098.5 212v4M1099.5 196v3M1100.5 190v2M1101.5 46v1M1101.5 189v1M1102.5 110v6M1102.5 190v2M1103.5 55v3M1103.5 159v4M1103.5 196v3M1104.5 106v6M1105.5 154v2M1106.5 160v4M1107.5 130v5M1107.5 150v6M1107.5 219v13M1108.5 137v4M1108.5 184v6M1109.5 153v4M1109.5 219v6M1110.5 173v3M1111.5 192v3M1112.5 211v3M1113.5 230v3M1114.5 248v2M1119.5 82v8M1119.5 190v5M1120.5 56v2M1120.5 198v3M1121.5 82v8M1121.5 190v5M1124.5 192v8M1125.5 76v17M1127.5 76v17M1128.5 192v8M1129.5 110v14M1130.5 81v4M1131.5 110v14M1132.5 233v16M1133.5 140v21M1134.5 120v4M1135.5 140v21M1137.5 222v11M1138.5 188v12M1139.5 143v14M1144.5 78v19M1148.5 92v20M1152.5 92v20M1160.5 204v6M1161.5 195v10M1162.5 161v12M1164.5 54v5M1165.5 97v2M1166.5 98v2M1167.5 65v2M1167.5 108v2M1169.5 66v2M1170.5 59v13M1177.5 46v7M1183.5 55v1M1188.5 120v18M1189.5 192v15M1190.5 241v9M1193.5 228v7M1194.5 200v8M1195.5 138v7M1207.5 88v16M1208.5 155v14M1209.5 198v10M1210.5 151v22M1211.5 46v21M1217.5 155v3M1217.5 217v8M1218.5 64v14M1220.5 165v9M1221.5 196v4M1222.5 218v4M1223.5 240v3M1225.5 131v37M1225.5 183v41M1227.5 131v37M1227.5 183v41M1234.5 229v6M1235.5 167v4M1236.5 50v20M1238.5 50v20M1239.5 167v4M1240.5 229v6M1253.5 227v4M1254.5 201v3M1255.5 169v5M1259.5 135v7M1259.5 195v8M1262.5 51v18M1263.5 138v3M1264.5 170v2M1265.5 191v3M1266.5 139v8M1267.5 129v3M1268.5 139v8M1272.5 121v2M1272.5 173v7M1273.5 123v3M1273.5 237v11M1274.5 145v3M1275.5 176v4M1276.5 208v4M1277.5 239v5M1278.5 126v9M1278.5 193v4M1279.5 111v2M1279.5 199v2M1280.5 126v9M1280.5 193v4M1288.5 71v15M1288.5 188v3M1289.5 194v2M1290.5 71v15M1290.5 188v3M1307.5 183v5M1311.5 183v5M1312.5 176v10M1312.5 197v13M1313.5 160v4M1313.5 216v5M1314.5 176v10M1314.5 197v13M1322.5 205v17M1323.5 46v12M1325.5 46v12M1326.5 205v17M1332.5 246v4M1333.5 95v27M1335.5 95v27M1336.5 246v4M1338.5 237v13M1339.5 74v16M1341.5 74v16M1342.5 218v5M1343.5 171v4M1344.5 111v6M1359.5 140v7M1360.5 46v16M1362.5 46v16M1363.5 140v7M1371.5 223v13M1372.5 79v19M1374.5 79v19M1375.5 223v13M1378.5 161v53M1380.5 161v53M1384.5 227v23M1385.5 58v13M1387.5 58v13M1388.5 227v23"/>
<path stroke="#0000af" d="M893.5 119v10M893.5 153v10M912.5 66v12M913.5 53v1M913.5 159v5M914.5 64v3M914.5 206v5M915.5 110v3M915.5 211v5M930.5 74v11M930.5 214v2M931.5 219v1M932.5 74v11M932.5 214v2M935.5 65v6M935.5 152v3M936.5 47v1M936.5 159v1M937.5 65v6M937.5 152v3M962.5 167v25M963.5 79v4M964.5 167v25M969.5 174v3M970.5 116v39M970.5 173v3M971.5 77v3M971.5 174v2M971.5 184v2M972.5 116v39M972.5 204v2M973.5 232v3M978.5 46v8M978.5 89v8M983.5 126v17M984.5 58v1M984.5 156v2M985.5 126v17M986.5 133v11M986.5 198v4M987.5 108v2M987.5 207v2M988.5 118v9M988.5 198v4M989.5 47v2M989.5 148v1M990.5 168v18M991.5 148v2M991.5 193v2M992.5 168v18M996.5 151v25M996.5 193v6M997.5 115v5M997.5 205v3M998.5 151v25M998.5 193v6M1006.5 218v7M1007.5 87v21M1009.5 87v21M1010.5 218v7M1011.5 183v8M1011.5 197v28M1012.5 173v2M1013.5 180v3M1014.5 208v4M1015.5 249v1M1018.5 134v21M1019.5 89v1M1020.5 134v21M1022.5 244v6M1023.5 188v4M1024.5 143v7M1025.5 127v4M1026.5 138v4M1027.5 132v2M1028.5 148v7M1029.5 229v7M1030.5 93v31M1032.5 93v31M1033.5 241v9M1034.5 165v23M1035.5 84v3M1036.5 165v23M1040.5 233v17M1041.5 131v12M1041.5 207v7M1042.5 102v2M1042.5 210v2M1042.5 233v17M1043.5 131v12M1043.5 206v2M1050.5 108v23M1050.5 230v2M1051.5 55v2M1051.5 234v1M1052.5 108v23M1052.5 230v2M1055.5 214v5M1056.5 125v19M1057.5 48v1M1058.5 125v19M1059.5 132v15M1060.5 73v5M1061.5 132v15M1062.5 240v9M1066.5 231v12M1067.5 135v8M1068.5 113v3M1069.5 135v8M1070.5 216v3M1071.5 211v3M1072.5 108v8M1073.5 83v2M1074.5 108v8M1077.5 90v2M1080.5 130v27M1081.5 85v2M1082.5 130v27M1085.5 115v7M1086.5 100v2M1087.5 115v7M1088.5 145v18M1089.5 109v5M1090.5 145v18M1091.5 220v4M1092.5 181v3M1093.5 135v7M1094.5 110v6M1095.5 135v7M1096.5 181v3M1097.5 220v4M1098.5 216v4M1099.5 199v1M1100.5 192v1M1101.5 190v2M1102.5 105v5M1102.5 192v1M1103.5 58v4M1103.5 156v3M1103.5 199v1M1104.5 112v8M1105.5 156v1M1106.5 164v3M1107.5 135v15M1107.5 232v13M1108.5 141v3M1108.5 181v3M1109.5 157v2M1109.5 216v3M1110.5 176v2M1111.5 195v2M1112.5 214v1M1113.5 233v1M1119.5 90v12M1119.5 185v5M1120.5 58v2M1120.5 196v2M1121.5 90v12M1121.5 185v5M1124.5 200v9M1125.5 93v13M1127.5 93v13M1128.5 200v9M1129.5 124v12M1130.5 85v4M1131.5 124v12M1132.5 249v1M1133.5 161v20M1134.5 124v4M1135.5 161v20M1137.5 233v11M1138.5 200v12M1139.5 157v13M1140.5 62v45M1144.5 97v10M1145.5 46v9M1147.5 46v9M1148.5 112v15M1152.5 112v15M1160.5 210v6M1161.5 205v10M1162.5 173v11M1164.5 59v6M1165.5 99v1M1166.5 100v3M1167.5 62v3M1167.5 110v2M1168.5 112v3M1169.5 68v2M1170.5 72v12M1177.5 53v8M1183.5 56v1M1183.5 105v5M1188.5 138v14M1189.5 207v12M1193.5 235v8M1194.5 208v8M1195.5 145v8M1207.5 104v13M1208.5 169v6M1209.5 208v11M1210.5 173v17M1211.5 67v27M1215.5 46v5M1217.5 158v1M1217.5 213v4M1218.5 78v17M1220.5 162v3M1220.5 174v2M1221.5 200v2M1222.5 222v2M1223.5 243v2M1225.5 46v5M1225.5 123v8M1225.5 224v26M1227.5 46v5M1227.5 123v8M1227.5 224v26M1234.5 235v7M1235.5 171v5M1236.5 70v24M1238.5 70v24M1239.5 171v5M1240.5 235v7M1253.5 231v2M1254.5 204v3M1255.5 174v5M1259.5 142v13M1259.5 188v7M1260.5 46v1M1262.5 69v20M1263.5 141v3M1264.5 172v2M1265.5 194v2M1266.5 147v14M1267.5 132v2M1268.5 147v14M1272.5 123v3M1272.5 166v7M1273.5 126v2M1273.5 230v7M1274.5 148v4M1275.5 180v3M1276.5 212v3M1277.5 244v2M1278.5 135v8M1278.5 190v3M1279.5 113v3M1279.5 198v1M1280.5 135v8M1280.5 190v3M1288.5 86v17M1288.5 185v3M1289.5 193v1M1290.5 86v17M1290.5 185v3M1307.5 188v7M1311.5 188v7M1312.5 186v11M1313.5 164v5M1313.5 212v4M1314.5 186v11M1322.5 222v11M1323.5 58v15M1325.5 58v15M1326.5 222v11M1333.5 122v25M1335.5 122v25M1339.5 90v21M1341.5 90v21M1342.5 223v4M1343.5 175v3M1344.5 117v6M1359.5 147v8M1360.5 62v15M1362.5 62v15M1363.5 147v8M1371.5 236v10M1372.5 98v41M1374.5 98v41M1375.5 236v10M1378.5 214v36M1380.5 214v36M1385.5 71v15M1387.5 71v15"/>
<path stroke="#0000bf" d="M893.5 129v11M893.5 144v9M913.5 54v1M913.5 156v3M914.5 67v2M914.5 201v5M915.5 113v3M915.5 205v6M930.5 85v12M930.5 211v3M931.5 218v1M932.5 85v12M932.5 211v3M935.5 71v15M935.5 150v2M936.5 48v1M936.5 158v1M937.5 71v15M937.5 150v2M962.5 192v43M963.5 83v3M964.5 192v43M969.5 177v2M970.5 176v1M971.5 80v3M971.5 172v2M971.5 186v2M972.5 206v2M973.5 235v3M978.5 54v7M978.5 81v8M984.5 59v2M984.5 155v1M986.5 144v6M986.5 194v4M987.5 110v3M987.5 205v2M988.5 127v9M988.5 194v4M989.5 49v1M989.5 147v1M991.5 150v1M991.5 192v1M996.5 176v17M997.5 120v4M997.5 203v2M998.5 176v17M1006.5 225v7M1007.5 108v12M1009.5 108v12M1010.5 225v7M1011.5 191v6M1012.5 175v1M1013.5 183v2M1014.5 212v2M1018.5 155v16M1019.5 90v2M1020.5 155v16M1023.5 192v4M1024.5 150v5M1025.5 131v4M1026.5 142v4M1027.5 134v2M1028.5 155v7M1029.5 236v8M1030.5 124v24M1032.5 124v24M1034.5 188v28M1035.5 87v3M1036.5 188v28M1041.5 143v7M1041.5 204v3M1041.5 214v5M1042.5 104v3M1042.5 209v1M1043.5 143v7M1043.5 203v3M1050.5 131v13M1050.5 229v1M1051.5 57v1M1051.5 233v1M1052.5 131v13M1052.5 229v1M1055.5 219v4M1056.5 144v12M1057.5 49v2M1058.5 144v12M1059.5 147v6M1060.5 78v5M1061.5 147v6M1062.5 249v1M1066.5 243v7M1067.5 143v5M1068.5 116v2M1069.5 143v5M1070.5 219v3M1071.5 214v2M1072.5 116v8M1073.5 85v2M1074.5 116v8M1077.5 87v3M1080.5 157v28M1081.5 87v2M1082.5 157v28M1085.5 122v7M1086.5 102v1M1087.5 122v7M1088.5 163v21M1089.5 114v5M1090.5 163v21M1091.5 224v2M1092.5 184v3M1093.5 142v6M1094.5 116v5M1095.5 142v6M1096.5 184v3M1097.5 224v2M1098.5 220v3M1099.5 200v2M1100.5 193v2M1101.5 192v1M1102.5 100v5M1102.5 193v2M1103.5 62v3M1103.5 153v3M1103.5 200v2M1104.5 120v4M1104.5 166v2M1105.5 157v2M1106.5 167v3M1107.5 245v5M1108.5 144v2M1108.5 177v4M1109.5 159v3M1109.5 213v3M1110.5 178v2M1110.5 249v1M1111.5 197v1M1112.5 215v2M1113.5 234v2M1119.5 102v20M1119.5 180v5M1120.5 60v2M1120.5 195v1M1121.5 102v20M1121.5 180v5M1124.5 209v5M1125.5 106v10M1127.5 106v10M1128.5 209v5M1129.5 136v7M1130.5 89v3M1131.5 136v7M1133.5 181v23M1134.5 128v4M1135.5 181v23M1137.5 244v6M1138.5 212v12M1139.5 170v13M1140.5 46v16M1140.5 107v9M1144.5 107v9M1145.5 55v12M1147.5 55v12M1148.5 127v17M1149.5 46v15M1151.5 46v15M1152.5 127v17M1159.5 46v1M1160.5 216v7M1161.5 215v9M1162.5 184v11M1164.5 65v7M1165.5 100v2M1166.5 103v12M1167.5 59v3M1167.5 112v1M1168.5 106v6M1168.5 115v5M1169.5 70v2M1170.5 84v10M1177.5 61v10M1183.5 57v1M1183.5 103v2M1183.5 110v4M1187.5 46v4M1188.5 152v14M1189.5 219v13M1193.5 243v7M1194.5 216v8M1195.5 153v9M1207.5 117v12M1208.5 175v3M1209.5 219v12M1210.5 190v20M1211.5 94v24M1215.5 51v12M1217.5 159v2M1217.5 210v3M1218.5 95v9M1220.5 159v3M1220.5 176v2M1221.5 202v2M1222.5 224v2M1223.5 245v2M1225.5 51v13M1225.5 116v7M1227.5 51v13M1227.5 116v7M1234.5 242v3M1235.5 176v5M1236.5 94v18M1238.5 94v18M1239.5 176v5M1240.5 242v3M1253.5 233v2M1254.5 207v2M1255.5 179v2M1258.5 46v4M1259.5 155v15M1259.5 181v7M1260.5 47v17M1262.5 89v10M1263.5 144v3M1264.5 174v2M1265.5 196v2M1266.5 161v16M1267.5 134v1M1268.5 161v16M1272.5 126v4M1272.5 162v4M1273.5 128v3M1273.5 225v5M1274.5 152v2M1275.5 183v2M1276.5 215v2M1277.5 246v3M1278.5 143v5M1278.5 187v3M1279.5 116v2M1279.5 196v2M1280.5 143v5M1280.5 187v3M1288.5 103v22M1288.5 182v3M1289.5 191v2M1290.5 103v22M1290.5 182v3M1307.5 195v9M1308.5 46v8M1310.5 46v8M1311.5 195v9M1313.5 169v5M1313.5 207v5M1322.5 233v9M1323.5 73v17M1325.5 73v17M1326.5 233v9M1333.5 147v10M1335.5 147v10M1339.5 111v25M1341.5 111v25M1342.5 227v3M1343.5 178v4M1344.5 123v6M1359.5 155v7M1360.5 77v7M1362.5 77v7M1363.5 155v7M1371.5 246v4M1372.5 139v12M1374.5 139v12M1375.5 246v4M1385.5 86v15M1387.5 86v15"/>
<path stroke="#0000cf" d="M893.5 140v4M913.5 55v1M913.5 153v3M914.5 69v3M914.5 197v4M915.5 116v5M915.5 200v5M930.5 97v11M930.5 209v2M931.5 216v2M932.5 97v11M932.5 209v2M935.5 86v14M935.5 148v2M936.5 49v1M936.5 157v1M937.5 86v14M937.5 148v2M962.5 235v15M963.5 86v4M964.5 235v15M969.5 179v2M970.5 177v2M971.5 83v2M971.5 169v3M971.5 188v2M972.5 208v2M973.5 238v3M978.5 61v8M978.5 72v9M984.5 61v2M984.5 153v2M986.5 150v30M986.5 189v5M987.5 113v3M987.5 203v2M988.5 136v44M988.5 189v5M989.5 50v1M989.5 145v2M991.5 151v1M991.5 190v2M997.5 124v5M997.5 201v2M1006.5 232v8M1007.5 120v9M1009.5 120v9M1010.5 232v8M1012.5 176v2M1013.5 185v2M1014.5 214v3M1018.5 171v18M1019.5 92v2M1020.5 171v18M1023.5 196v4M1024.5 155v4M1025.5 135v5M1026.5 146v3M1027.5 136v2M1028.5 162v6M1029.5 244v6M1030.5 148v10M1032.5 148v10M1034.5 216v16M1035.5 90v3M1036.5 216v16M1041.5 150v11M1041.5 197v7M1041.5 219v22M1042.5 107v3M1042.5 208v1M1043.5 150v11M1043.5 197v6M1050.5 144v8M1050.5 228v1M1051.5 58v2M1051.5 232v1M1052.5 144v8M1052.5 228v1M1055.5 223v5M1056.5 156v10M1057.5 51v1M1058.5 156v10M1059.5 153v6M1060.5 83v5M1061.5 153v6M1067.5 148v4M1068.5 118v3M1069.5 148v4M1070.5 222v5M1071.5 216v3M1072.5 124v5M1073.5 87v2M1074.5 124v5M1077.5 84v3M1080.5 185v35M1081.5 89v2M1082.5 185v35M1085.5 129v3M1086.5 103v1M1087.5 129v3M1088.5 184v21M1089.5 119v4M1090.5 184v24M1091.5 226v3M1092.5 187v2M1093.5 148v4M1094.5 121v6M1095.5 148v4M1096.5 187v2M1097.5 226v3M1098.5 223v4M1099.5 202v1M1100.5 195v1M1101.5 193v1M1102.5 98v2M1102.5 195v1M1103.5 65v4M1103.5 149v4M1103.5 202v1M1104.5 124v5M1104.5 159v7M1104.5 168v4M1105.5 159v1M1106.5 170v3M1108.5 146v3M1108.5 173v4M1109.5 162v2M1109.5 211v2M1110.5 180v2M1110.5 246v3M1111.5 198v2M1112.5 217v1M1113.5 236v1M1119.5 122v10M1119.5 143v37M1120.5 62v2M1120.5 193v2M1121.5 122v10M1121.5 143v37M1124.5 214v5M1125.5 116v6M1127.5 116v6M1128.5 214v5M1129.5 143v6M1130.5 92v4M1131.5 143v6M1133.5 204v18M1134.5 132v4M1135.5 204v18M1138.5 224v14M1139.5 183v15M1140.5 116v9M1144.5 116v9M1145.5 67v13M1147.5 67v13M1148.5 144v19M1149.5 61v24M1151.5 61v24M1152.5 144v19M1159.5 47v9M1160.5 223v6M1161.5 224v10M1162.5 195v11M1164.5 72v4M1165.5 102v11M1166.5 115v3M1167.5 56v3M1167.5 113v1M1168.5 103v3M1168.5 120v2M1169.5 72v3M1170.5 94v7M1177.5 71v10M1183.5 102v1M1183.5 114v3M1187.5 50v15M1188.5 166v14M1189.5 232v14M1194.5 224v8M1195.5 162v5M1207.5 129v8M1208.5 178v3M1209.5 231v9M1210.5 210v22M1211.5 118v28M1213.5 46v9M1215.5 63v15M1217.5 161v1M1217.5 206v4M1218.5 104v9M1220.5 46v6M1220.5 157v2M1220.5 178v3M1221.5 204v2M1222.5 226v2M1223.5 247v2M1225.5 64v15M1225.5 105v11M1226.5 167v59M1227.5 64v15M1227.5 105v11M1234.5 245v4M1235.5 181v2M1236.5 112v9M1238.5 112v9M1239.5 181v2M1240.5 245v4M1253.5 235v2M1254.5 209v2M1255.5 181v2M1258.5 50v7M1259.5 170v11M1260.5 64v10M1262.5 99v10M1263.5 147v1M1264.5 176v1M1265.5 198v1M1266.5 177v18M1267.5 135v2M1268.5 177v18M1272.5 130v4M1272.5 158v4M1273.5 131v1M1273.5 221v4M1274.5 154v1M1275.5 185v2M1276.5 217v3M1277.5 249v1M1278.5 148v39M1279.5 118v3M1279.5 195v1M1280.5 148v39M1288.5 125v9M1288.5 176v6M1289.5 190v1M1290.5 125v9M1290.5 176v6M1307.5 204v4M1308.5 54v34M1310.5 54v34M1311.5 204v4M1313.5 174v4M1313.5 202v5M1322.5 242v8M1323.5 90v12M1325.5 90v12M1326.5 242v8M1333.5 157v10M1335.5 157v10M1339.5 136v12M1341.5 136v12M1342.5 230v3M1343.5 182v2M1344.5 129v4M1359.5 162v5M1360.5 84v7M1362.5 84v7M1363.5 162v5M1372.5 151v5M1374.5 151v5M1379.5 46v1M1385.5 101v10M1387.5 101v10"/>
<path stroke="#0000df" d="M913.5 151v2M914.5 72v1M914.5 193v4M915.5 121v4M915.5 155v13M915.5 194v6M930.5 108v8M930.5 207v2M931.5 215v1M932.5 108v8M932.5 207v2M935.5 100v8M935.5 146v2M936.5 50v1M936.5 156v1M937.5 100v8M937.5 146v2M963.5 90v4M969.5 181v2M970.5 179v1M971.5 85v3M971.5 166v3M971.5 190v1M972.5 210v2M973.5 241v3M978.5 69v3M984.5 63v1M984.5 151v2M986.5 180v9M987.5 116v2M987.5 202v1M988.5 180v9M989.5 51v2M989.5 144v1M991.5 152v1M991.5 188v2M997.5 129v4M997.5 198v3M1006.5 240v8M1007.5 129v9M1009.5 129v9M1010.5 240v8M1012.5 178v2M1013.5 187v1M1014.5 217v4M1018.5 189v17M1019.5 94v2M1020.5 189v17M1023.5 200v4M1024.5 159v3M1025.5 140v4M1026.5 149v4M1027.5 138v2M1028.5 168v6M1030.5 158v9M1032.5 158v9M1034.5 232v18M1035.5 93v3M1036.5 232v18M1041.5 161v14M1041.5 185v12M1041.5 241v9M1042.5 110v3M1042.5 207v1M1043.5 161v14M1043.5 185v12M1050.5 152v5M1050.5 226v2M1051.5 60v2M1051.5 231v1M1052.5 152v5M1052.5 226v2M1055.5 228v5M1056.5 166v6M1057.5 52v2M1058.5 166v6M1059.5 159v5M1060.5 88v7M1061.5 159v5M1067.5 152v6M1068.5 121v3M1069.5 152v6M1070.5 227v8M1071.5 219v2M1072.5 129v4M1073.5 89v2M1074.5 129v4M1077.5 46v23M1077.5 80v4M1080.5 220v30M1081.5 91v2M1082.5 220v30M1085.5 132v4M1085.5 248v2M1086.5 104v2M1087.5 132v4M1087.5 248v2M1088.5 205v9M1089.5 123v5M1090.5 208v14M1091.5 229v3M1092.5 189v3M1093.5 152v3M1094.5 127v5M1095.5 152v3M1096.5 189v3M1097.5 229v3M1098.5 227v5M1099.5 203v2M1100.5 196v1M1101.5 194v1M1102.5 95v3M1102.5 196v1M1103.5 69v2M1103.5 145v4M1103.5 203v2M1104.5 129v7M1104.5 156v3M1104.5 172v4M1105.5 160v1M1106.5 173v3M1108.5 149v3M1108.5 169v4M1109.5 164v2M1109.5 208v3M1110.5 182v1M1110.5 243v3M1111.5 200v1M1112.5 218v2M1113.5 237v2M1119.5 132v11M1120.5 64v2M1120.5 191v2M1121.5 132v11M1124.5 219v5M1125.5 122v5M1127.5 122v5M1128.5 219v4M1129.5 149v7M1130.5 96v4M1131.5 149v7M1133.5 222v15M1134.5 136v4M1135.5 222v15M1138.5 238v12M1139.5 198v16M1140.5 125v10M1144.5 125v10M1145.5 80v15M1147.5 80v15M1148.5 163v20M1149.5 85v26M1151.5 85v26M1152.5 163v20M1153.5 46v7M1159.5 56v11M1160.5 229v8M1161.5 234v10M1162.5 206v12M1164.5 76v4M1165.5 113v17M1166.5 118v3M1167.5 53v3M1167.5 114v1M1168.5 101v2M1168.5 122v2M1169.5 75v1M1170.5 101v2M1177.5 81v11M1183.5 58v1M1183.5 101v1M1183.5 117v4M1187.5 65v17M1188.5 180v17M1189.5 246v4M1194.5 232v8M1195.5 167v4M1206.5 46v9M1207.5 137v3M1208.5 181v3M1209.5 240v5M1210.5 232v18M1211.5 146v33M1212.5 46v42M1213.5 55v9M1215.5 78v20M1217.5 162v2M1217.5 203v3M1218.5 113v10M1218.5 248v2M1220.5 52v28M1220.5 154v3M1220.5 181v2M1221.5 206v2M1222.5 228v2M1223.5 249v1M1225.5 79v26M1226.5 161v6M1226.5 226v24M1227.5 79v26M1234.5 249v1M1235.5 183v3M1236.5 121v6M1238.5 121v6M1239.5 183v3M1240.5 249v1M1253.5 237v3M1254.5 211v2M1255.5 183v1M1258.5 57v8M1260.5 74v11M1262.5 109v9M1263.5 148v2M1264.5 177v1M1265.5 199v1M1266.5 195v14M1267.5 137v2M1268.5 195v14M1272.5 134v4M1272.5 155v3M1273.5 132v2M1273.5 216v5M1274.5 155v2M1275.5 187v2M1276.5 220v2M1279.5 121v2M1279.5 194v1M1288.5 134v10M1288.5 162v14M1289.5 189v1M1290.5 134v10M1290.5 162v14M1307.5 208v5M1308.5 88v24M1310.5 88v24M1311.5 208v5M1313.5 178v5M1313.5 197v5M1323.5 102v6M1325.5 102v6M1333.5 167v9M1335.5 167v9M1339.5 148v12M1341.5 148v12M1342.5 233v3M1343.5 184v2M1344.5 133v3M1359.5 167v5M1359.5 192v13M1360.5 91v7M1362.5 91v7M1363.5 167v5M1363.5 192v13M1372.5 156v6M1374.5 156v6M1379.5 47v126M1385.5 111v6M1387.5 111v6"/>
<path stroke="#0000ef" d="M913.5 56v1M913.5 149v2M914.5 73v2M914.5 187v6M915.5 125v3M915.5 151v4M915.5 168v26M930.5 116v6M930.5 205v2M931.5 214v1M932.5 116v6M932.5 205v2M935.5 108v15M935.5 143v3M936.5 155v1M937.5 108v15M937.5 143v3M963.5 94v5M969.5 183v2M970.5 180v2M971.5 88v2M971.5 162v4M971.5 191v1M972.5 212v2M973.5 244v2M984.5 64v2M984.5 149v2M987.5 118v3M987.5 200v2M989.5 53v1M989.5 143v1M991.5 153v1M991.5 185v3M997.5 133v5M997.5 196v2M1006.5 248v2M1007.5 138v9M1009.5 138v9M1010.5 248v2M1012.5 180v1M1013.5 188v2M1014.5 221v3M1018.5 206v11M1019.5 96v2M1020.5 206v11M1023.5 204v5M1024.5 162v4M1025.5 144v4M1026.5 153v4M1027.5 140v2M1028.5 174v7M1030.5 167v10M1032.5 167v10M1035.5 96v3M1041.5 175v10M1042.5 113v3M1042.5 206v1M1043.5 175v10M1050.5 157v5M1050.5 224v2M1051.5 62v1M1051.5 230v1M1052.5 157v5M1052.5 224v2M1055.5 233v4M1056.5 172v6M1057.5 54v2M1058.5 172v6M1059.5 164v5M1060.5 95v8M1061.5 164v5M1067.5 158v5M1068.5 124v2M1069.5 158v5M1070.5 235v9M1071.5 221v4M1072.5 133v4M1073.5 91v2M1074.5 133v4M1077.5 69v11M1081.5 93v2M1085.5 136v3M1085.5 245v3M1086.5 106v1M1087.5 136v3M1087.5 245v3M1088.5 214v24M1089.5 128v5M1090.5 222v16M1091.5 232v3M1092.5 192v3M1093.5 155v3M1094.5 132v5M1095.5 155v3M1096.5 192v3M1097.5 232v3M1098.5 232v5M1099.5 205v2M1100.5 197v1M1101.5 195v1M1102.5 92v3M1102.5 197v1M1103.5 71v3M1103.5 140v5M1103.5 205v2M1104.5 136v5M1104.5 153v3M1104.5 176v3M1105.5 161v2M1106.5 176v3M1108.5 152v17M1109.5 166v2M1109.5 205v3M1110.5 183v2M1110.5 241v2M1111.5 201v2M1112.5 220v1M1113.5 239v1M1120.5 66v2M1120.5 189v2M1124.5 224v6M1125.5 127v6M1127.5 127v6M1128.5 223v4M1129.5 156v7M1130.5 100v4M1131.5 156v7M1133.5 237v13M1134.5 140v4M1135.5 237v13M1139.5 214v18M1140.5 135v7M1144.5 135v7M1145.5 95v11M1147.5 95v11M1148.5 183v22M1149.5 111v28M1150.5 46v29M1151.5 111v28M1152.5 183v8M1153.5 53v12M1159.5 67v12M1160.5 237v5M1161.5 244v6M1162.5 218v11M1163.5 135v63M1164.5 80v5M1165.5 130v6M1166.5 121v2M1167.5 52v1M1167.5 115v1M1168.5 99v2M1168.5 124v1M1169.5 76v2M1170.5 103v2M1177.5 92v14M1182.5 46v3M1183.5 59v1M1183.5 100v1M1183.5 121v3M1187.5 82v20M1188.5 197v20M1194.5 240v8M1195.5 171v4M1201.5 46v5M1206.5 55v17M1207.5 140v3M1208.5 184v3M1209.5 245v5M1211.5 179v37M1212.5 88v64M1213.5 64v11M1215.5 98v31M1217.5 164v1M1217.5 200v3M1218.5 123v10M1218.5 244v4M1220.5 80v30M1220.5 152v2M1220.5 183v1M1221.5 208v1M1222.5 230v1M1226.5 154v7M1235.5 186v2M1236.5 127v5M1238.5 127v5M1239.5 186v2M1253.5 240v1M1254.5 213v2M1255.5 184v2M1258.5 65v3M1258.5 245v5M1260.5 85v11M1262.5 118v3M1263.5 150v1M1264.5 178v1M1265.5 200v1M1266.5 209v5M1267.5 139v2M1268.5 209v11M1272.5 138v5M1272.5 151v4M1273.5 134v1M1273.5 212v4M1274.5 157v2M1275.5 189v2M1276.5 222v3M1279.5 123v3M1279.5 192v2M1288.5 144v18M1289.5 187v2M1290.5 144v18M1307.5 213v4M1308.5 112v6M1310.5 112v6M1311.5 213v4M1313.5 183v6M1313.5 191v6M1323.5 108v5M1325.5 108v5M1333.5 176v10M1335.5 176v10M1339.5 160v12M1341.5 160v12M1342.5 236v3M1343.5 186v2M1344.5 136v3M1346.5 46v7M1359.5 172v7M1359.5 182v10M1359.5 205v7M1360.5 98v4M1362.5 98v4M1363.5 172v7M1363.5 182v10M1363.5 205v7M1372.5 162v5M1374.5 162v5M1379.5 173v77M1385.5 117v5M1387.5 117v5"/>
<path stroke="#0000ff" d="M913.5 57v1M913.5 147v2M914.5 75v1M914.5 179v8M915.5 128v5M915.5 145v6M930.5 122v7M930.5 201v4M931.5 213v1M932.5 122v7M932.5 201v4M935.5 123v20M936.5 51v2M936.5 154v1M937.5 123v20M963.5 99v51M963.5 225v25M969.5 185v3M970.5 182v1M971.5 90v3M971.5 159v3M971.5 192v2M972.5 214v2M973.5 246v3M984.5 66v2M984.5 147v2M987.5 121v3M987.5 198v2M989.5 54v3M989.5 141v2M991.5 154v2M991.5 170v15M997.5 138v4M997.5 194v2M1007.5 147v9M1009.5 147v9M1012.5 181v2M1013.5 190v1M1014.5 224v2M1018.5 217v13M1019.5 98v2M1020.5 217v13M1023.5 209v4M1024.5 166v3M1025.5 148v4M1026.5 157v4M1027.5 142v2M1028.5 181v7M1030.5 177v9M1032.5 177v9M1035.5 99v38M1042.5 116v3M1042.5 205v1M1050.5 162v5M1050.5 222v2M1051.5 63v2M1051.5 229v1M1052.5 162v5M1052.5 222v2M1055.5 237v4M1056.5 178v6M1057.5 56v22M1058.5 178v6M1059.5 169v5M1060.5 103v8M1061.5 169v5M1067.5 163v5M1068.5 126v3M1069.5 163v5M1070.5 244v6M1071.5 225v12M1072.5 137v4M1073.5 93v2M1074.5 137v4M1074.5 242v8M1081.5 95v2M1085.5 139v3M1085.5 242v3M1086.5 107v1M1087.5 139v3M1087.5 242v3M1088.5 238v12M1089.5 133v4M1090.5 238v12M1091.5 235v3M1092.5 195v1M1093.5 158v3M1094.5 137v4M1095.5 158v3M1096.5 195v1M1097.5 235v3M1098.5 237v6M1099.5 207v3M1100.5 198v1M1101.5 196v1M1102.5 87v5M1102.5 198v1M1103.5 74v4M1103.5 135v5M1103.5 207v3M1104.5 141v12M1104.5 179v4M1105.5 163v1M1106.5 179v4M1109.5 168v2M1109.5 203v2M1110.5 185v1M1110.5 239v2M1111.5 203v1M1112.5 221v1M1113.5 240v1M1120.5 68v2M1120.5 187v2M1124.5 230v5M1125.5 133v5M1126.5 46v6M1127.5 133v5M1128.5 227v4M1129.5 163v8M1130.5 104v4M1131.5 163v8M1134.5 144v4M1139.5 232v18M1140.5 142v9M1140.5 173v8M1144.5 142v9M1145.5 106v6M1147.5 106v6M1148.5 205v24M1149.5 139v32M1150.5 75v47M1151.5 139v32M1152.5 191v7M1153.5 65v14M1157.5 46v4M1159.5 79v14M1160.5 242v6M1162.5 229v12M1163.5 120v15M1163.5 198v15M1164.5 85v5M1165.5 136v6M1166.5 123v1M1167.5 49v3M1167.5 116v1M1168.5 98v1M1168.5 125v2M1169.5 78v1M1170.5 105v2M1171.5 46v9M1173.5 46v9M1177.5 106v11M1182.5 49v4M1183.5 60v1M1183.5 99v1M1183.5 124v2M1187.5 102v25M1188.5 217v23M1194.5 248v2M1195.5 175v4M1201.5 51v8M1203.5 65v6M1206.5 72v20M1207.5 143v3M1208.5 187v3M1211.5 216v34M1212.5 152v64M1213.5 75v12M1215.5 129v38M1217.5 165v1M1217.5 193v7M1218.5 133v8M1218.5 241v3M1220.5 110v23M1220.5 150v2M1220.5 184v2M1221.5 209v1M1222.5 231v2M1226.5 148v6M1235.5 188v3M1236.5 132v6M1238.5 132v6M1239.5 188v3M1253.5 241v2M1254.5 215v1M1255.5 186v2M1256.5 46v31M1258.5 68v4M1258.5 239v6M1260.5 96v12M1262.5 121v2M1263.5 151v2M1264.5 179v1M1265.5 201v1M1266.5 214v2M1267.5 141v2M1268.5 220v12M1272.5 143v8M1273.5 135v2M1273.5 208v4M1274.5 159v2M1275.5 191v2M1276.5 225v1M1279.5 126v2M1279.5 191v1M1289.5 186v1M1307.5 217v5M1308.5 118v6M1310.5 118v6M1311.5 217v5M1313.5 189v2M1323.5 113v5M1325.5 113v5M1333.5 186v6M1335.5 186v6M1339.5 172v12M1341.5 172v12M1342.5 239v5M1343.5 188v1M1344.5 139v3M1346.5 53v9M1359.5 179v3M1359.5 212v8M1360.5 102v4M1362.5 102v4M1363.5 179v3M1363.5 212v8M1372.5 167v5M1374.5 167v5M1385.5 122v4M1387.5 122v4"/>
<path stroke="#0010ff" d="M913.5 58v1M913.5 146v1M914.5 76v2M914.5 171v8M915.5 133v12M930.5 129v8M930.5 192v9M931.5 46v2M931.5 212v1M932.5 129v8M932.5 192v9M936.5 53v1M936.5 153v1M963.5 150v75M969.5 188v2M969.5 247v3M970.5 183v2M971.5 93v3M971.5 156v3M971.5 194v1M972.5 216v2M973.5 249v1M984.5 68v2M984.5 145v2M987.5 124v3M987.5 196v2M989.5 57v35M989.5 139v2M991.5 156v14M997.5 142v5M997.5 191v3M1007.5 156v7M1009.5 156v7M1012.5 183v1M1013.5 191v2M1014.5 226v2M1018.5 230v14M1019.5 100v7M1020.5 230v14M1023.5 213v4M1024.5 169v4M1025.5 152v3M1026.5 161v3M1027.5 144v3M1028.5 188v6M1030.5 186v3M1032.5 186v3M1035.5 137v71M1042.5 119v3M1042.5 204v1M1050.5 167v9M1050.5 220v2M1051.5 65v4M1051.5 228v1M1052.5 167v9M1052.5 220v2M1055.5 241v4M1056.5 184v6M1057.5 78v44M1058.5 184v6M1059.5 174v5M1060.5 111v7M1061.5 174v5M1067.5 168v5M1068.5 129v2M1069.5 168v5M1071.5 237v13M1072.5 141v4M1072.5 242v8M1073.5 95v2M1074.5 141v4M1074.5 235v7M1081.5 97v2M1085.5 142v4M1085.5 239v3M1086.5 108v2M1087.5 142v4M1087.5 239v3M1089.5 137v4M1091.5 238v3M1092.5 196v2M1093.5 161v3M1094.5 141v4M1095.5 161v3M1096.5 196v2M1097.5 238v3M1098.5 243v6M1099.5 210v3M1100.5 199v1M1101.5 197v1M1102.5 81v6M1102.5 199v1M1103.5 78v4M1103.5 128v7M1103.5 210v3M1104.5 183v2M1105.5 164v1M1106.5 183v2M1109.5 170v3M1109.5 201v2M1110.5 186v1M1110.5 237v2M1111.5 204v1M1112.5 222v1M1113.5 241v1M1120.5 70v2M1120.5 185v2M1124.5 235v4M1125.5 138v6M1126.5 52v8M1127.5 138v6M1128.5 231v4M1129.5 171v7M1130.5 108v4M1131.5 171v7M1134.5 148v24M1140.5 151v17M1140.5 171v2M1140.5 181v7M1144.5 151v17M1144.5 173v1M1145.5 112v7M1147.5 112v7M1148.5 229v21M1149.5 171v34M1150.5 122v48M1151.5 171v34M1152.5 198v8M1153.5 79v6M1155.5 46v1M1156.5 46v30M1157.5 50v7M1159.5 93v5M1160.5 248v2M1162.5 241v9M1163.5 100v20M1163.5 213v13M1164.5 90v5M1165.5 142v6M1166.5 124v2M1167.5 47v2M1167.5 117v1M1168.5 96v2M1168.5 127v1M1169.5 79v2M1170.5 107v2M1171.5 55v16M1173.5 55v16M1177.5 117v7M1182.5 53v2M1183.5 61v1M1183.5 126v3M1187.5 127v30M1188.5 240v10M1195.5 179v4M1200.5 46v13M1201.5 59v6M1203.5 61v4M1203.5 71v10M1204.5 96v18M1206.5 92v11M1207.5 146v2M1208.5 190v3M1212.5 216v34M1213.5 87v17M1215.5 167v19M1217.5 166v1M1217.5 187v6M1218.5 141v6M1218.5 238v3M1220.5 133v14M1220.5 148v2M1220.5 186v1M1221.5 210v2M1222.5 233v1M1226.5 141v7M1235.5 191v2M1236.5 138v5M1238.5 138v5M1239.5 191v2M1253.5 243v1M1254.5 216v1M1255.5 188v1M1256.5 77v44M1258.5 72v4M1258.5 234v5M1260.5 108v7M1262.5 123v2M1263.5 153v2M1264.5 180v1M1265.5 202v1M1266.5 216v2M1267.5 143v2M1268.5 232v13M1273.5 137v1M1273.5 206v2M1274.5 161v2M1275.5 193v1M1276.5 226v2M1279.5 128v3M1279.5 190v1M1289.5 185v1M1307.5 222v6M1308.5 124v7M1310.5 124v7M1311.5 222v6M1323.5 118v5M1325.5 118v5M1333.5 192v6M1334.5 46v15M1335.5 192v6M1339.5 184v8M1341.5 184v8M1342.5 244v4M1343.5 189v2M1344.5 142v3M1346.5 62v10M1359.5 220v9M1360.5 106v3M1362.5 106v3M1363.5 220v9M1372.5 172v6M1374.5 172v6M1385.5 126v5M1387.5 126v5"/>
<path stroke="#0020ff" d="M913.5 59v1M913.5 144v2M914.5 78v2M914.5 164v7M930.5 137v55M931.5 48v2M931.5 210v2M932.5 137v55M936.5 54v1M936.5 152v1M969.5 190v4M969.5 242v5M970.5 185v1M971.5 96v3M971.5 152v4M971.5 195v1M972.5 218v2M984.5 70v13M984.5 143v2M987.5 127v4M987.5 195v1M989.5 92v47M997.5 147v44M1007.5 163v6M1009.5 163v6M1012.5 184v2M1013.5 193v2M1014.5 228v3M1018.5 244v6M1019.5 107v16M1020.5 244v6M1023.5 217v4M1024.5 173v3M1025.5 155v3M1026.5 164v4M1027.5 147v2M1028.5 194v5M1030.5 189v4M1032.5 189v4M1035.5 208v42M1042.5 122v5M1042.5 203v1M1050.5 176v9M1050.5 218v2M1051.5 69v8M1051.5 227v1M1052.5 176v9M1052.5 218v2M1055.5 245v4M1056.5 190v6M1057.5 122v29M1058.5 190v6M1059.5 179v5M1060.5 118v8M1061.5 179v5M1067.5 173v4M1068.5 131v3M1069.5 173v4M1072.5 145v4M1072.5 232v10M1073.5 97v2M1074.5 145v4M1074.5 227v8M1081.5 99v10M1081.5 231v19M1085.5 146v4M1085.5 236v3M1086.5 110v1M1086.5 247v3M1087.5 146v4M1087.5 236v3M1089.5 141v4M1091.5 241v4M1092.5 198v1M1093.5 164v3M1094.5 145v3M1095.5 164v3M1096.5 198v1M1097.5 241v4M1098.5 249v1M1099.5 213v2M1100.5 200v1M1101.5 198v1M1102.5 76v5M1102.5 200v1M1103.5 82v3M1103.5 121v7M1103.5 213v2M1104.5 185v2M1105.5 165v1M1106.5 185v2M1109.5 173v3M1109.5 198v3M1110.5 187v2M1110.5 235v2M1111.5 205v1M1112.5 223v1M1113.5 242v1M1120.5 72v2M1120.5 183v2M1124.5 239v4M1125.5 144v5M1126.5 60v8M1127.5 144v5M1128.5 235v5M1129.5 178v6M1130.5 112v5M1131.5 178v6M1134.5 172v47M1140.5 168v3M1140.5 188v7M1143.5 46v1M1144.5 168v5M1144.5 174v2M1145.5 119v8M1147.5 119v10M1149.5 205v38M1150.5 170v48M1151.5 205v38M1152.5 206v8M1153.5 85v6M1155.5 47v8M1156.5 76v63M1157.5 57v8M1159.5 98v6M1163.5 89v11M1163.5 226v14M1164.5 95v4M1165.5 148v4M1166.5 126v2M1167.5 46v1M1167.5 118v1M1168.5 46v1M1168.5 93v3M1168.5 128v1M1169.5 81v2M1169.5 146v21M1170.5 109v3M1171.5 71v16M1173.5 71v16M1176.5 46v1M1177.5 124v4M1179.5 46v1M1182.5 55v1M1183.5 98v1M1183.5 129v2M1184.5 82v6M1187.5 157v42M1195.5 183v4M1196.5 46v4M1200.5 59v17M1201.5 65v7M1203.5 57v4M1203.5 81v5M1204.5 91v5M1204.5 114v25M1206.5 103v3M1207.5 148v2M1208.5 193v3M1213.5 104v59M1215.5 186v13M1217.5 167v1M1217.5 181v6M1218.5 147v2M1218.5 235v3M1220.5 147v1M1220.5 187v2M1221.5 212v1M1222.5 234v2M1226.5 134v7M1235.5 193v3M1236.5 143v3M1238.5 143v3M1239.5 193v3M1253.5 244v1M1254.5 217v2M1255.5 189v1M1256.5 121v27M1258.5 76v4M1258.5 229v5M1260.5 115v5M1262.5 125v1M1263.5 155v1M1264.5 181v1M1265.5 203v2M1266.5 218v3M1267.5 145v2M1268.5 245v5M1273.5 138v2M1273.5 203v3M1274.5 163v2M1275.5 194v2M1276.5 228v1M1279.5 131v2M1279.5 189v1M1289.5 184v1M1307.5 228v22M1308.5 131v6M1310.5 131v6M1311.5 228v22M1323.5 123v5M1325.5 123v5M1333.5 198v10M1334.5 61v20M1335.5 198v10M1339.5 192v7M1341.5 192v7M1342.5 248v2M1343.5 191v2M1344.5 145v3M1346.5 72v10M1359.5 229v11M1360.5 109v3M1362.5 109v3M1363.5 229v11M1372.5 178v3M1374.5 178v3M1385.5 131v4M1387.5 131v4"/>
<path stroke="#0030ff" d="M913.5 143v1M914.5 80v1M914.5 159v5M931.5 50v2M931.5 209v1M936.5 55v1M969.5 194v3M969.5 236v6M970.5 186v2M971.5 99v4M971.5 148v4M971.5 196v2M972.5 220v1M984.5 83v33M984.5 141v2M987.5 131v4M987.5 193v2M1007.5 169v6M1009.5 169v6M1012.5 186v1M1013.5 195v3M1014.5 231v3M1019.5 123v16M1023.5 221v5M1024.5 176v3M1025.5 158v4M1026.5 168v3M1027.5 149v3M1028.5 199v6M1030.5 193v3M1032.5 193v3M1042.5 127v5M1042.5 201v2M1050.5 185v8M1050.5 216v2M1051.5 77v8M1051.5 226v1M1052.5 185v8M1052.5 216v2M1055.5 249v1M1056.5 196v4M1057.5 151v8M1058.5 196v4M1059.5 184v6M1060.5 126v8M1061.5 184v6M1067.5 177v4M1068.5 134v3M1069.5 177v4M1072.5 149v7M1072.5 219v13M1073.5 99v2M1074.5 149v7M1074.5 219v8M1081.5 109v22M1081.5 183v48M1085.5 150v6M1085.5 234v2M1086.5 111v2M1086.5 245v2M1087.5 150v6M1087.5 234v2M1089.5 145v35M1091.5 245v3M1092.5 199v2M1093.5 167v2M1094.5 148v3M1095.5 167v2M1096.5 199v2M1097.5 245v3M1099.5 215v3M1100.5 201v2M1101.5 199v1M1102.5 73v3M1102.5 201v2M1103.5 85v2M1103.5 117v4M1103.5 215v3M1104.5 187v2M1105.5 166v2M1106.5 187v2M1109.5 176v5M1109.5 193v5M1110.5 189v2M1110.5 233v2M1111.5 206v1M1112.5 224v1M1113.5 243v1M1120.5 74v2M1120.5 181v2M1124.5 243v3M1125.5 149v5M1126.5 68v7M1127.5 149v5M1128.5 240v4M1129.5 184v8M1130.5 117v4M1131.5 184v8M1134.5 219v31M1140.5 195v9M1143.5 47v8M1144.5 176v2M1145.5 127v11M1147.5 129v12M1149.5 243v7M1150.5 218v32M1151.5 243v7M1152.5 214v10M1153.5 91v5M1155.5 55v9M1156.5 139v63M1157.5 65v9M1159.5 104v8M1163.5 78v11M1163.5 240v10M1164.5 99v3M1165.5 152v4M1166.5 128v1M1167.5 119v1M1168.5 47v3M1168.5 89v4M1168.5 129v1M1169.5 83v2M1169.5 141v5M1169.5 167v3M1170.5 112v3M1171.5 87v18M1173.5 87v18M1174.5 46v2M1176.5 47v3M1177.5 128v3M1179.5 47v13M1182.5 56v2M1183.5 62v1M1183.5 97v1M1183.5 131v2M1184.5 81v1M1184.5 88v4M1187.5 199v27M1195.5 187v4M1196.5 50v4M1200.5 76v20M1201.5 72v8M1203.5 53v4M1203.5 86v5M1204.5 46v1M1204.5 85v6M1204.5 139v30M1205.5 46v22M1206.5 106v4M1207.5 150v2M1208.5 196v3M1213.5 163v21M1215.5 199v18M1217.5 168v1M1217.5 175v6M1218.5 149v1M1218.5 232v3M1220.5 189v1M1221.5 213v1M1222.5 236v1M1226.5 131v3M1235.5 196v2M1236.5 146v3M1238.5 146v3M1239.5 196v2M1253.5 245v2M1254.5 219v1M1255.5 190v2M1256.5 148v2M1258.5 80v4M1258.5 225v4M1260.5 120v4M1262.5 126v1M1263.5 156v1M1264.5 182v1M1266.5 221v2M1267.5 147v12M1273.5 140v1M1273.5 200v3M1274.5 165v1M1275.5 196v1M1276.5 229v2M1279.5 133v3M1279.5 187v2M1289.5 182v2M1308.5 137v7M1310.5 137v7M1323.5 128v5M1325.5 128v5M1333.5 208v12M1334.5 81v24M1335.5 208v12M1339.5 199v8M1341.5 199v8M1343.5 193v2M1344.5 148v2M1346.5 82v12M1359.5 240v10M1360.5 112v2M1361.5 46v3M1362.5 112v2M1363.5 240v10M1372.5 181v3M1374.5 181v3M1385.5 135v5M1387.5 135v5"/>
<path stroke="#0040ff" d="M913.5 60v1M913.5 142v1M914.5 81v2M914.5 157v2M931.5 52v2M931.5 208v1M936.5 56v1M936.5 151v1M969.5 197v4M969.5 227v9M970.5 188v1M971.5 103v9M971.5 142v6M971.5 198v1M972.5 221v2M984.5 116v25M987.5 135v4M987.5 191v2M1007.5 175v6M1008.5 46v8M1009.5 175v6M1012.5 187v2M1013.5 198v2M1014.5 234v3M1019.5 139v23M1023.5 226v5M1024.5 179v3M1025.5 162v3M1026.5 171v4M1027.5 152v4M1028.5 205v6M1030.5 196v3M1032.5 196v3M1042.5 132v4M1042.5 197v4M1050.5 193v10M1050.5 213v3M1051.5 85v8M1051.5 225v1M1052.5 193v10M1052.5 213v3M1056.5 200v3M1057.5 159v7M1058.5 200v3M1059.5 190v6M1060.5 134v8M1061.5 190v6M1067.5 181v4M1068.5 137v2M1069.5 181v4M1072.5 156v9M1072.5 213v6M1073.5 101v3M1073.5 245v5M1074.5 156v9M1074.5 213v6M1081.5 131v52M1085.5 156v6M1085.5 231v3M1086.5 113v1M1086.5 243v2M1087.5 156v6M1087.5 231v3M1089.5 180v70M1091.5 248v2M1092.5 201v2M1093.5 169v2M1094.5 151v3M1095.5 169v2M1096.5 201v2M1097.5 248v2M1099.5 218v3M1100.5 203v1M1101.5 200v1M1102.5 68v5M1102.5 203v1M1103.5 87v3M1103.5 113v4M1103.5 218v3M1104.5 189v3M1105.5 168v1M1106.5 189v3M1109.5 181v12M1110.5 191v2M1110.5 231v2M1111.5 207v1M1112.5 225v2M1113.5 244v1M1120.5 76v3M1120.5 178v3M1124.5 246v4M1125.5 154v4M1126.5 75v8M1127.5 154v4M1128.5 244v5M1129.5 192v8M1130.5 121v4M1131.5 192v8M1140.5 204v10M1143.5 55v9M1144.5 178v2M1145.5 138v13M1147.5 141v16M1152.5 224v7M1153.5 96v6M1155.5 64v10M1156.5 202v9M1157.5 74v10M1159.5 112v9M1163.5 59v19M1164.5 102v4M1165.5 156v2M1166.5 129v2M1167.5 120v1M1168.5 50v2M1168.5 86v3M1168.5 130v2M1169.5 85v2M1169.5 137v4M1169.5 170v3M1170.5 115v1M1171.5 105v18M1172.5 46v10M1173.5 105v18M1174.5 48v3M1176.5 50v3M1177.5 131v3M1179.5 60v7M1182.5 58v2M1183.5 133v2M1184.5 80v1M1184.5 92v5M1186.5 46v1M1187.5 226v2M1195.5 191v4M1196.5 54v5M1200.5 96v22M1201.5 80v9M1203.5 50v3M1203.5 91v12M1204.5 47v2M1204.5 81v4M1204.5 169v34M1205.5 68v4M1206.5 110v4M1207.5 152v2M1208.5 199v3M1213.5 184v41M1215.5 217v29M1217.5 169v6M1218.5 150v1M1218.5 229v3M1220.5 190v2M1221.5 214v2M1222.5 237v2M1226.5 128v3M1235.5 198v3M1236.5 149v1M1238.5 149v1M1239.5 198v3M1253.5 247v1M1254.5 220v1M1255.5 192v1M1256.5 150v2M1258.5 84v5M1258.5 221v4M1260.5 124v3M1262.5 127v1M1263.5 157v1M1264.5 183v1M1265.5 205v1M1266.5 223v3M1267.5 159v31M1273.5 141v2M1273.5 198v2M1274.5 166v2M1275.5 197v2M1276.5 231v2M1279.5 136v3M1279.5 185v2M1289.5 181v1M1308.5 144v5M1310.5 144v5M1323.5 133v6M1325.5 133v6M1333.5 220v14M1334.5 105v24M1335.5 220v14M1339.5 207v8M1341.5 207v8M1343.5 195v2M1344.5 150v2M1346.5 94v12M1346.5 248v2M1360.5 114v3M1361.5 49v6M1362.5 114v3M1372.5 184v3M1373.5 46v9M1374.5 184v3M1385.5 140v4M1387.5 140v4"/>
<path stroke="#0050ff" d="M913.5 61v1M913.5 140v2M914.5 83v2M914.5 156v1M931.5 54v2M931.5 207v1M936.5 57v1M936.5 150v1M969.5 201v4M969.5 218v9M970.5 189v2M971.5 112v10M971.5 135v7M971.5 199v1M972.5 223v2M987.5 139v3M987.5 186v5M1007.5 181v5M1008.5 54v15M1009.5 181v5M1012.5 189v3M1013.5 200v2M1014.5 237v2M1019.5 162v47M1023.5 231v9M1024.5 182v2M1025.5 165v3M1026.5 175v3M1027.5 156v5M1028.5 211v6M1030.5 199v4M1032.5 199v4M1042.5 136v5M1042.5 193v4M1050.5 203v10M1051.5 93v10M1051.5 224v1M1052.5 203v10M1056.5 203v3M1057.5 166v8M1058.5 203v3M1059.5 196v6M1060.5 142v6M1061.5 196v6M1067.5 185v5M1068.5 139v3M1069.5 185v5M1072.5 165v5M1072.5 208v5M1073.5 104v3M1073.5 240v5M1074.5 165v5M1074.5 208v5M1085.5 162v3M1085.5 229v2M1086.5 114v2M1086.5 241v2M1087.5 162v3M1087.5 229v2M1092.5 203v2M1093.5 171v2M1094.5 154v3M1095.5 171v2M1096.5 203v2M1099.5 221v3M1100.5 204v1M1101.5 201v1M1102.5 63v5M1102.5 204v1M1103.5 90v4M1103.5 108v5M1103.5 221v3M1104.5 192v2M1105.5 169v2M1106.5 192v2M1110.5 193v2M1110.5 228v3M1111.5 208v2M1112.5 227v1M1113.5 245v1M1120.5 79v2M1120.5 171v7M1125.5 158v4M1126.5 83v8M1127.5 158v4M1128.5 249v1M1129.5 200v9M1130.5 125v5M1131.5 200v9M1140.5 214v9M1140.5 242v8M1143.5 64v7M1144.5 180v2M1145.5 151v15M1147.5 157v13M1152.5 231v6M1153.5 102v7M1155.5 74v11M1156.5 211v11M1157.5 84v11M1159.5 121v10M1163.5 46v13M1164.5 106v4M1165.5 158v3M1166.5 131v2M1167.5 121v1M1168.5 52v1M1168.5 84v2M1168.5 132v1M1169.5 87v2M1169.5 135v2M1169.5 173v2M1170.5 116v2M1171.5 123v20M1172.5 56v30M1173.5 123v20M1174.5 51v2M1176.5 53v2M1177.5 134v3M1179.5 67v8M1182.5 60v3M1183.5 63v1M1183.5 96v1M1183.5 135v3M1184.5 79v1M1184.5 97v4M1186.5 47v9M1187.5 228v3M1195.5 195v5M1196.5 59v5M1199.5 46v11M1200.5 118v24M1201.5 89v11M1203.5 47v3M1203.5 103v22M1204.5 49v3M1204.5 76v5M1204.5 203v31M1205.5 72v4M1206.5 114v3M1207.5 154v3M1208.5 202v3M1213.5 225v25M1215.5 246v4M1218.5 151v1M1218.5 226v3M1220.5 192v1M1221.5 216v1M1222.5 239v1M1226.5 127v1M1235.5 201v2M1236.5 150v2M1238.5 150v2M1239.5 201v2M1253.5 248v2M1254.5 221v2M1255.5 193v1M1256.5 152v2M1258.5 89v5M1258.5 217v4M1260.5 127v2M1262.5 128v1M1263.5 158v1M1265.5 206v1M1266.5 226v2M1267.5 190v32M1273.5 143v1M1273.5 195v3M1274.5 168v1M1275.5 199v2M1276.5 233v2M1279.5 139v3M1279.5 182v3M1289.5 178v3M1308.5 149v3M1310.5 149v3M1323.5 139v6M1325.5 139v6M1333.5 234v16M1334.5 129v21M1335.5 234v16M1339.5 215v9M1340.5 46v7M1341.5 215v9M1343.5 197v1M1344.5 152v2M1346.5 106v16M1346.5 176v54M1346.5 234v14M1360.5 117v2M1361.5 55v6M1362.5 117v2M1372.5 187v4M1373.5 55v14M1374.5 187v4M1385.5 144v5M1387.5 144v5"/>
<path stroke="#0060ff" d="M913.5 62v1M913.5 139v1M914.5 85v1M914.5 155v1M931.5 56v2M931.5 205v2M936.5 58v2M936.5 149v1M969.5 205v13M970.5 191v1M971.5 122v13M971.5 200v2M972.5 225v2M987.5 142v4M987.5 168v18M1007.5 186v7M1008.5 69v15M1009.5 186v7M1012.5 192v5M1012.5 246v4M1013.5 202v3M1014.5 239v4M1019.5 209v41M1023.5 240v10M1024.5 184v3M1025.5 168v3M1026.5 178v4M1027.5 161v5M1028.5 217v6M1030.5 203v3M1031.5 46v10M1032.5 203v3M1042.5 141v5M1042.5 189v4M1051.5 103v16M1051.5 222v2M1056.5 206v3M1057.5 174v8M1058.5 206v3M1059.5 202v7M1060.5 148v4M1061.5 202v7M1067.5 190v5M1068.5 142v3M1069.5 190v5M1072.5 170v6M1072.5 203v5M1073.5 107v2M1073.5 236v4M1074.5 170v6M1074.5 203v5M1085.5 165v4M1085.5 227v2M1086.5 116v2M1086.5 239v2M1087.5 165v4M1087.5 227v2M1092.5 205v2M1093.5 173v2M1094.5 157v3M1095.5 173v2M1096.5 205v2M1099.5 224v4M1100.5 205v2M1101.5 202v1M1102.5 46v2M1102.5 58v5M1102.5 205v2M1103.5 94v14M1103.5 224v4M1104.5 194v3M1105.5 171v2M1106.5 194v3M1110.5 195v2M1110.5 226v2M1111.5 210v1M1112.5 228v1M1113.5 246v1M1120.5 81v3M1120.5 164v7M1125.5 162v5M1126.5 91v5M1127.5 162v5M1129.5 209v10M1130.5 130v4M1131.5 209v10M1140.5 223v19M1143.5 71v6M1144.5 182v2M1145.5 166v12M1147.5 170v12M1152.5 237v6M1153.5 109v7M1155.5 85v12M1156.5 222v13M1157.5 95v16M1159.5 131v14M1164.5 110v5M1165.5 161v3M1166.5 133v2M1167.5 122v1M1168.5 53v2M1168.5 83v1M1168.5 133v2M1169.5 89v1M1169.5 133v2M1169.5 175v3M1170.5 118v2M1170.5 200v21M1171.5 143v3M1172.5 86v32M1173.5 143v12M1174.5 53v3M1176.5 55v3M1177.5 137v4M1179.5 75v8M1182.5 63v2M1183.5 95v1M1183.5 138v2M1184.5 77v2M1184.5 101v5M1186.5 56v9M1187.5 231v3M1195.5 200v3M1196.5 64v5M1199.5 57v46M1200.5 142v27M1201.5 100v24M1203.5 46v1M1203.5 125v6M1204.5 52v7M1204.5 73v3M1204.5 234v12M1205.5 76v7M1205.5 145v12M1206.5 117v3M1207.5 157v2M1208.5 205v3M1218.5 152v2M1218.5 223v3M1220.5 193v2M1221.5 217v2M1222.5 240v2M1226.5 125v2M1235.5 203v3M1236.5 152v1M1238.5 152v1M1239.5 203v3M1254.5 223v1M1255.5 194v1M1256.5 154v2M1258.5 94v5M1258.5 213v4M1260.5 129v3M1262.5 129v1M1263.5 159v2M1264.5 184v1M1265.5 207v1M1266.5 228v1M1267.5 222v28M1273.5 144v2M1273.5 192v3M1274.5 169v2M1274.5 249v1M1275.5 201v2M1276.5 235v2M1279.5 142v2M1279.5 172v10M1289.5 46v6M1289.5 175v3M1308.5 152v3M1310.5 152v3M1323.5 145v5M1325.5 145v5M1334.5 150v10M1339.5 224v9M1340.5 53v10M1341.5 224v9M1343.5 198v2M1344.5 154v1M1346.5 122v11M1346.5 163v13M1346.5 230v4M1360.5 119v2M1361.5 61v6M1362.5 119v2M1372.5 191v6M1373.5 69v15M1373.5 142v4M1374.5 191v6M1385.5 149v5M1387.5 149v5"/>
<path stroke="#0070ff" d="M913.5 138v1M914.5 86v2M914.5 153v2M931.5 58v2M931.5 204v1M936.5 60v1M936.5 148v1M970.5 192v2M971.5 202v1M972.5 227v3M987.5 146v22M1007.5 193v6M1008.5 84v17M1009.5 193v6M1012.5 197v5M1012.5 237v9M1013.5 205v2M1014.5 243v3M1024.5 187v2M1025.5 171v4M1026.5 182v3M1027.5 166v4M1028.5 223v7M1030.5 206v4M1031.5 56v19M1032.5 206v4M1042.5 146v7M1042.5 184v5M1051.5 119v15M1051.5 221v1M1056.5 209v3M1057.5 182v7M1058.5 209v3M1059.5 209v7M1060.5 152v4M1061.5 209v7M1067.5 195v5M1068.5 145v2M1069.5 195v5M1072.5 176v6M1072.5 198v5M1073.5 109v3M1073.5 232v4M1074.5 176v6M1074.5 198v5M1085.5 169v3M1085.5 225v2M1086.5 118v2M1086.5 237v2M1087.5 169v3M1087.5 225v2M1092.5 207v2M1093.5 175v2M1094.5 160v3M1095.5 175v2M1096.5 207v2M1099.5 228v8M1100.5 207v2M1101.5 203v1M1102.5 48v10M1102.5 207v2M1103.5 228v8M1104.5 197v5M1105.5 173v2M1106.5 197v5M1110.5 197v3M1110.5 223v3M1111.5 211v2M1112.5 229v1M1113.5 247v2M1120.5 84v3M1120.5 157v7M1125.5 167v4M1126.5 96v6M1127.5 167v4M1129.5 219v11M1130.5 134v5M1131.5 219v11M1143.5 77v7M1144.5 184v1M1145.5 178v12M1147.5 182v8M1152.5 243v7M1153.5 116v8M1155.5 97v7M1156.5 235v7M1157.5 111v10M1159.5 145v9M1164.5 115v6M1165.5 164v2M1166.5 135v1M1167.5 123v1M1168.5 55v2M1168.5 81v2M1168.5 135v1M1169.5 90v1M1169.5 131v2M1169.5 178v4M1170.5 120v3M1170.5 192v8M1170.5 221v12M1171.5 146v3M1172.5 118v32M1173.5 155v4M1174.5 56v2M1176.5 58v3M1177.5 141v3M1179.5 83v9M1180.5 46v7M1182.5 65v2M1182.5 213v21M1183.5 64v1M1183.5 140v3M1184.5 76v1M1184.5 106v5M1186.5 65v10M1187.5 234v1M1195.5 203v3M1196.5 69v5M1199.5 103v46M1200.5 169v18M1201.5 124v7M1203.5 131v7M1204.5 59v2M1204.5 69v4M1204.5 246v4M1205.5 83v3M1205.5 135v10M1205.5 157v24M1206.5 120v4M1207.5 159v2M1208.5 208v3M1218.5 154v1M1218.5 221v2M1220.5 195v1M1221.5 219v2M1222.5 242v2M1226.5 124v1M1235.5 206v2M1236.5 153v1M1237.5 46v10M1238.5 153v1M1239.5 206v2M1254.5 224v2M1255.5 195v2M1256.5 156v2M1258.5 99v3M1258.5 210v3M1260.5 132v3M1260.5 245v5M1261.5 46v13M1262.5 130v2M1263.5 161v1M1264.5 185v1M1265.5 208v1M1266.5 229v2M1273.5 146v2M1273.5 189v3M1274.5 171v2M1274.5 245v4M1275.5 203v1M1276.5 237v2M1279.5 144v3M1279.5 161v11M1289.5 52v11M1289.5 171v4M1308.5 155v2M1310.5 155v2M1323.5 150v6M1325.5 150v6M1334.5 160v9M1339.5 233v10M1340.5 63v11M1341.5 233v10M1343.5 200v2M1344.5 155v2M1346.5 133v10M1346.5 153v10M1360.5 121v2M1361.5 67v7M1362.5 121v2M1372.5 197v7M1373.5 84v58M1373.5 146v7M1374.5 197v7M1385.5 154v3M1387.5 154v3"/>
<path stroke="#0080ff" d="M913.5 63v1M913.5 136v2M914.5 88v1M914.5 152v1M931.5 60v2M931.5 202v2M936.5 61v1M936.5 147v1M970.5 194v2M971.5 203v1M972.5 230v2M1007.5 199v5M1008.5 101v11M1009.5 199v5M1012.5 202v5M1012.5 227v10M1013.5 207v3M1014.5 246v4M1024.5 189v3M1025.5 175v3M1026.5 185v3M1027.5 170v5M1028.5 230v8M1030.5 210v8M1031.5 75v85M1032.5 210v8M1042.5 153v31M1051.5 134v15M1051.5 220v1M1056.5 212v4M1057.5 189v7M1058.5 212v4M1059.5 216v7M1060.5 156v4M1061.5 216v7M1067.5 200v5M1068.5 147v3M1069.5 200v5M1072.5 182v7M1072.5 191v7M1073.5 112v3M1073.5 228v4M1074.5 182v7M1074.5 191v7M1085.5 172v5M1085.5 222v3M1086.5 120v3M1086.5 235v2M1087.5 172v5M1087.5 222v3M1092.5 209v3M1093.5 177v1M1094.5 163v2M1095.5 177v1M1096.5 209v3M1099.5 236v8M1100.5 209v3M1101.5 204v2M1102.5 209v3M1103.5 236v8M1104.5 202v5M1105.5 175v2M1106.5 202v5M1110.5 200v5M1110.5 219v4M1111.5 213v1M1112.5 230v1M1113.5 249v1M1120.5 87v2M1120.5 151v6M1125.5 171v5M1126.5 102v5M1127.5 171v5M1129.5 230v12M1130.5 139v4M1131.5 230v12M1143.5 84v7M1144.5 185v1M1145.5 190v8M1147.5 190v10M1153.5 124v8M1155.5 104v6M1156.5 242v5M1157.5 121v10M1159.5 154v5M1164.5 121v6M1165.5 166v3M1166.5 136v2M1167.5 124v1M1168.5 57v2M1168.5 78v3M1168.5 136v2M1169.5 91v2M1169.5 128v3M1169.5 182v5M1170.5 123v3M1170.5 188v4M1170.5 233v16M1171.5 149v3M1172.5 150v30M1173.5 159v5M1174.5 58v3M1176.5 61v3M1177.5 144v4M1179.5 92v10M1180.5 53v61M1181.5 167v23M1182.5 67v3M1182.5 209v4M1182.5 234v16M1183.5 65v1M1183.5 94v1M1183.5 143v2M1184.5 75v1M1184.5 111v5M1186.5 75v11M1187.5 235v2M1195.5 206v4M1196.5 74v6M1198.5 46v8M1200.5 187v18M1201.5 131v7M1203.5 138v7M1204.5 61v8M1205.5 86v6M1205.5 128v7M1205.5 181v9M1206.5 124v2M1207.5 161v1M1208.5 211v3M1218.5 155v2M1218.5 218v3M1219.5 46v17M1219.5 168v4M1220.5 196v2M1221.5 221v1M1222.5 244v2M1226.5 123v1M1235.5 208v3M1236.5 154v1M1237.5 56v27M1238.5 154v1M1239.5 208v3M1254.5 226v1M1255.5 197v1M1256.5 158v2M1258.5 102v3M1258.5 207v3M1260.5 135v3M1260.5 233v12M1261.5 59v14M1262.5 132v1M1263.5 162v1M1266.5 231v2M1273.5 148v3M1273.5 184v5M1274.5 173v2M1274.5 241v4M1275.5 204v3M1276.5 239v3M1279.5 147v14M1289.5 63v11M1289.5 167v4M1308.5 157v2M1310.5 157v2M1323.5 156v7M1325.5 156v7M1334.5 169v10M1339.5 243v7M1340.5 74v12M1341.5 243v7M1343.5 202v2M1344.5 157v1M1345.5 46v9M1346.5 143v10M1360.5 123v2M1361.5 74v6M1362.5 123v2M1372.5 204v7M1373.5 153v4M1374.5 204v7M1385.5 157v4M1385.5 174v11M1385.5 244v6M1387.5 157v4M1387.5 174v11M1387.5 244v6"/>
<path stroke="#008fff" d="M913.5 64v1M913.5 135v1M914.5 89v1M914.5 151v1M931.5 62v2M931.5 199v3M936.5 62v1M936.5 146v1M970.5 196v1M971.5 204v1M972.5 232v2M1007.5 204v6M1008.5 112v12M1009.5 204v6M1012.5 207v20M1013.5 210v2M1024.5 192v2M1025.5 178v3M1026.5 188v3M1027.5 175v5M1028.5 238v7M1030.5 218v11M1031.5 160v12M1032.5 218v11M1051.5 149v5M1051.5 218v2M1056.5 216v3M1057.5 196v4M1058.5 216v3M1059.5 223v8M1060.5 160v4M1061.5 223v8M1067.5 205v5M1068.5 150v4M1069.5 205v5M1072.5 189v2M1073.5 115v3M1073.5 224v4M1074.5 189v2M1085.5 177v9M1085.5 220v2M1086.5 123v2M1086.5 234v1M1087.5 177v9M1087.5 220v2M1092.5 212v2M1093.5 178v2M1094.5 165v3M1095.5 178v2M1096.5 212v2M1099.5 244v6M1100.5 212v3M1101.5 206v2M1102.5 212v3M1103.5 244v6M1104.5 207v5M1105.5 177v2M1106.5 207v5M1110.5 205v14M1111.5 214v2M1112.5 231v2M1120.5 89v3M1120.5 147v4M1125.5 176v4M1126.5 107v5M1127.5 176v4M1129.5 242v8M1130.5 143v5M1131.5 242v8M1143.5 91v7M1144.5 186v2M1145.5 198v4M1147.5 200v11M1153.5 132v7M1155.5 110v7M1156.5 247v3M1157.5 131v12M1159.5 159v5M1164.5 127v7M1165.5 169v3M1166.5 138v1M1167.5 125v1M1168.5 59v2M1168.5 74v4M1168.5 138v1M1169.5 93v2M1169.5 126v2M1169.5 187v4M1170.5 126v3M1170.5 184v4M1170.5 249v1M1171.5 152v4M1172.5 180v4M1173.5 164v5M1174.5 61v3M1176.5 64v3M1177.5 148v3M1179.5 102v11M1180.5 114v6M1180.5 173v5M1181.5 163v4M1181.5 190v38M1182.5 70v3M1182.5 206v3M1183.5 66v1M1183.5 93v1M1183.5 145v2M1184.5 46v1M1184.5 116v5M1186.5 86v13M1187.5 237v1M1195.5 210v4M1196.5 80v6M1198.5 54v10M1199.5 149v1M1200.5 205v21M1201.5 138v7M1203.5 145v9M1205.5 92v3M1205.5 114v14M1205.5 190v5M1206.5 126v2M1207.5 162v1M1208.5 214v3M1218.5 157v1M1218.5 215v3M1219.5 63v26M1219.5 164v4M1219.5 172v1M1220.5 198v2M1221.5 222v2M1222.5 246v2M1226.5 121v2M1235.5 211v3M1236.5 155v2M1237.5 83v34M1238.5 155v2M1239.5 211v3M1254.5 227v2M1255.5 198v1M1256.5 160v2M1258.5 105v4M1258.5 203v4M1260.5 138v2M1260.5 225v8M1261.5 73v16M1262.5 133v1M1263.5 163v1M1264.5 186v1M1265.5 209v1M1266.5 233v2M1273.5 151v5M1273.5 178v6M1274.5 175v2M1274.5 237v4M1275.5 207v2M1276.5 242v2M1289.5 74v12M1289.5 163v4M1308.5 159v2M1310.5 159v2M1323.5 163v51M1325.5 163v51M1334.5 179v10M1340.5 86v14M1343.5 204v2M1344.5 158v1M1345.5 55v10M1360.5 125v2M1361.5 80v6M1362.5 125v2M1372.5 211v8M1373.5 157v4M1374.5 211v8M1385.5 161v13M1385.5 185v59M1387.5 161v13M1387.5 185v59"/>
<path stroke="#009fff" d="M913.5 65v1M913.5 133v2M914.5 90v2M914.5 149v2M931.5 64v2M931.5 195v4M936.5 63v2M936.5 145v1M970.5 197v2M971.5 205v2M972.5 234v3M1007.5 210v6M1008.5 124v12M1009.5 210v6M1013.5 212v4M1024.5 194v3M1025.5 181v2M1026.5 191v4M1027.5 180v9M1028.5 245v5M1030.5 229v13M1031.5 172v11M1032.5 229v13M1051.5 154v3M1051.5 217v1M1056.5 219v3M1057.5 200v4M1058.5 219v3M1059.5 231v7M1060.5 164v3M1061.5 231v7M1067.5 210v5M1068.5 154v4M1069.5 210v5M1073.5 118v3M1073.5 220v4M1085.5 186v11M1085.5 218v2M1086.5 125v2M1086.5 232v2M1087.5 186v11M1087.5 218v2M1092.5 214v2M1093.5 180v2M1094.5 168v2M1095.5 180v2M1096.5 214v2M1100.5 215v2M1101.5 208v2M1102.5 215v2M1104.5 212v6M1105.5 179v2M1106.5 212v6M1111.5 216v3M1112.5 233v2M1120.5 92v4M1120.5 143v4M1125.5 180v5M1126.5 112v6M1127.5 180v5M1130.5 148v7M1143.5 98v10M1144.5 188v1M1145.5 202v4M1147.5 211v13M1153.5 139v4M1155.5 117v7M1157.5 143v11M1159.5 164v6M1164.5 134v11M1164.5 236v14M1165.5 172v4M1166.5 139v2M1167.5 126v1M1168.5 61v2M1168.5 71v3M1168.5 139v2M1169.5 95v2M1169.5 123v3M1169.5 191v5M1170.5 129v2M1170.5 178v6M1171.5 156v2M1171.5 238v12M1172.5 184v4M1173.5 169v5M1174.5 64v2M1176.5 67v4M1177.5 151v3M1179.5 113v12M1180.5 120v1M1180.5 170v3M1180.5 178v63M1181.5 158v5M1181.5 228v22M1182.5 73v2M1182.5 204v2M1183.5 67v1M1183.5 92v1M1183.5 147v1M1184.5 47v1M1184.5 74v1M1184.5 121v5M1186.5 99v9M1187.5 238v2M1195.5 214v4M1196.5 86v7M1198.5 64v5M1199.5 150v1M1200.5 226v23M1201.5 145v8M1203.5 154v9M1205.5 95v4M1205.5 105v9M1205.5 195v3M1206.5 128v3M1207.5 163v2M1208.5 217v3M1214.5 228v22M1218.5 158v2M1218.5 213v2M1219.5 89v46M1219.5 160v4M1219.5 173v2M1220.5 200v1M1221.5 224v2M1222.5 248v2M1226.5 120v1M1235.5 214v3M1236.5 157v1M1237.5 117v7M1238.5 157v1M1239.5 214v3M1254.5 229v1M1255.5 199v2M1256.5 162v2M1258.5 109v3M1258.5 200v3M1260.5 140v3M1260.5 217v8M1261.5 89v15M1262.5 134v1M1263.5 164v1M1264.5 187v1M1265.5 210v1M1266.5 235v2M1273.5 156v22M1274.5 177v3M1274.5 233v4M1275.5 209v3M1276.5 244v3M1289.5 86v12M1289.5 159v4M1308.5 161v3M1310.5 161v3M1323.5 214v19M1325.5 214v19M1334.5 189v10M1340.5 100v70M1343.5 206v3M1344.5 159v2M1345.5 65v11M1360.5 127v2M1361.5 86v6M1362.5 127v2M1372.5 219v9M1373.5 161v4M1374.5 219v9"/>
<path stroke="#00afff" d="M913.5 66v1M913.5 132v1M914.5 92v1M914.5 148v1M931.5 66v3M931.5 191v4M936.5 65v1M936.5 144v1M970.5 199v2M971.5 207v1M972.5 237v4M1007.5 216v5M1008.5 136v12M1009.5 216v5M1013.5 216v8M1024.5 197v3M1025.5 183v3M1026.5 195v3M1027.5 189v9M1030.5 242v8M1031.5 183v5M1032.5 242v8M1051.5 157v4M1051.5 215v2M1056.5 222v3M1057.5 204v3M1058.5 222v3M1059.5 238v7M1060.5 167v4M1061.5 238v8M1067.5 215v7M1068.5 158v4M1069.5 215v7M1073.5 121v2M1073.5 216v4M1085.5 197v14M1085.5 213v5M1086.5 127v3M1086.5 230v2M1087.5 197v14M1087.5 213v5M1092.5 216v3M1093.5 182v2M1094.5 170v1M1095.5 182v2M1096.5 216v3M1100.5 217v3M1101.5 210v3M1102.5 217v3M1104.5 218v5M1105.5 181v2M1106.5 218v5M1111.5 219v3M1111.5 249v1M1112.5 235v2M1120.5 96v15M1120.5 139v4M1125.5 185v3M1126.5 118v5M1127.5 185v3M1130.5 155v7M1143.5 108v12M1144.5 189v1M1145.5 206v5M1147.5 224v17M1153.5 143v5M1155.5 124v8M1157.5 154v11M1159.5 170v6M1164.5 145v91M1165.5 176v4M1166.5 141v1M1167.5 127v1M1168.5 63v8M1168.5 141v1M1169.5 97v3M1169.5 119v4M1169.5 196v4M1170.5 131v2M1170.5 175v3M1171.5 158v4M1171.5 231v7M1172.5 188v4M1173.5 174v7M1174.5 66v4M1176.5 71v6M1177.5 154v3M1179.5 125v13M1180.5 121v1M1180.5 168v2M1180.5 241v9M1181.5 153v5M1182.5 202v2M1183.5 91v1M1183.5 148v1M1184.5 73v1M1184.5 126v4M1186.5 108v5M1187.5 240v1M1195.5 218v5M1196.5 93v3M1198.5 69v5M1199.5 151v1M1200.5 249v1M1201.5 153v9M1203.5 163v10M1205.5 99v6M1205.5 198v3M1206.5 131v4M1207.5 165v1M1208.5 220v3M1214.5 204v24M1218.5 160v2M1218.5 210v3M1219.5 135v25M1219.5 175v3M1219.5 246v4M1220.5 201v2M1221.5 226v2M1226.5 118v2M1235.5 217v2M1236.5 158v1M1237.5 124v4M1238.5 158v1M1239.5 217v2M1254.5 230v2M1255.5 201v1M1256.5 164v2M1258.5 112v4M1258.5 197v3M1260.5 143v3M1260.5 209v8M1261.5 104v14M1262.5 135v1M1263.5 165v1M1264.5 188v1M1265.5 211v1M1266.5 237v1M1274.5 180v3M1274.5 228v5M1275.5 212v3M1276.5 247v3M1289.5 98v22M1289.5 155v4M1308.5 164v2M1310.5 164v2M1323.5 233v17M1324.5 46v3M1325.5 233v17M1334.5 199v51M1340.5 170v24M1343.5 209v2M1344.5 161v1M1345.5 76v11M1360.5 129v3M1361.5 92v6M1362.5 129v3M1372.5 228v9M1373.5 165v4M1374.5 228v9M1386.5 46v4"/>
<path stroke="#00bfff" d="M913.5 67v1M913.5 130v2M914.5 93v1M914.5 147v1M931.5 69v5M931.5 188v3M936.5 66v1M936.5 142v2M970.5 201v2M971.5 208v2M972.5 241v4M1007.5 221v7M1008.5 148v11M1009.5 221v7M1013.5 224v17M1024.5 200v5M1025.5 186v2M1026.5 198v4M1027.5 198v9M1031.5 188v4M1051.5 161v4M1051.5 213v2M1056.5 225v5M1057.5 207v3M1058.5 225v5M1059.5 245v5M1060.5 171v4M1061.5 246v4M1067.5 222v11M1068.5 162v4M1069.5 222v11M1073.5 123v3M1073.5 213v3M1085.5 211v2M1086.5 130v2M1086.5 229v1M1087.5 211v2M1092.5 219v2M1093.5 184v1M1094.5 171v2M1095.5 184v1M1096.5 219v2M1100.5 220v3M1101.5 213v3M1102.5 220v3M1104.5 223v16M1105.5 183v2M1106.5 223v16M1111.5 222v5M1111.5 245v4M1112.5 237v2M1120.5 111v19M1120.5 134v5M1125.5 188v4M1126.5 123v6M1127.5 188v4M1130.5 162v8M1143.5 120v13M1144.5 190v2M1145.5 211v5M1147.5 241v9M1153.5 148v4M1155.5 132v10M1157.5 165v12M1159.5 176v6M1165.5 180v4M1166.5 142v1M1167.5 128v1M1168.5 142v1M1169.5 100v3M1169.5 114v5M1169.5 200v3M1170.5 133v3M1170.5 171v4M1171.5 162v3M1171.5 226v5M1172.5 192v2M1173.5 181v4M1174.5 70v4M1176.5 77v6M1177.5 157v3M1179.5 138v2M1180.5 122v2M1180.5 166v2M1181.5 151v2M1182.5 75v1M1182.5 201v1M1183.5 68v1M1183.5 149v1M1184.5 48v1M1184.5 130v3M1186.5 113v5M1187.5 241v1M1195.5 223v15M1196.5 96v3M1198.5 74v6M1199.5 152v15M1201.5 162v10M1203.5 173v7M1205.5 201v4M1206.5 135v4M1207.5 166v2M1208.5 223v3M1214.5 180v24M1218.5 162v3M1218.5 208v2M1219.5 178v2M1219.5 243v3M1220.5 203v2M1221.5 228v2M1226.5 117v1M1235.5 219v3M1236.5 159v1M1237.5 128v5M1238.5 159v1M1239.5 219v3M1254.5 232v2M1255.5 202v2M1256.5 166v2M1258.5 116v4M1258.5 195v2M1260.5 146v3M1260.5 203v6M1261.5 118v3M1262.5 136v1M1263.5 166v1M1265.5 212v1M1266.5 238v2M1274.5 183v3M1274.5 222v6M1275.5 215v4M1289.5 120v24M1289.5 150v5M1308.5 166v2M1310.5 166v2M1324.5 49v13M1340.5 194v24M1343.5 211v2M1344.5 162v2M1345.5 87v11M1360.5 132v2M1361.5 98v4M1362.5 132v2M1372.5 237v9M1373.5 169v4M1374.5 237v9M1386.5 50v13"/>
<path stroke="#00cfff" d="M913.5 68v2M913.5 128v2M914.5 94v2M914.5 145v2M931.5 74v6M931.5 184v4M936.5 67v3M936.5 140v2M970.5 203v2M971.5 210v3M972.5 245v5M1007.5 228v13M1008.5 159v12M1009.5 228v13M1013.5 241v9M1024.5 205v7M1025.5 188v3M1026.5 202v7M1027.5 207v10M1031.5 192v4M1051.5 165v5M1051.5 211v2M1056.5 230v6M1057.5 210v3M1058.5 230v6M1060.5 175v4M1067.5 233v12M1068.5 166v4M1069.5 233v12M1073.5 126v3M1073.5 210v3M1086.5 132v3M1086.5 227v2M1092.5 221v2M1093.5 185v2M1094.5 173v2M1095.5 185v2M1096.5 221v2M1100.5 223v4M1101.5 216v2M1102.5 223v4M1104.5 239v11M1105.5 185v2M1106.5 239v11M1111.5 227v18M1112.5 239v2M1120.5 130v4M1125.5 192v3M1126.5 129v4M1127.5 192v3M1130.5 170v8M1143.5 133v21M1144.5 192v1M1145.5 216v5M1153.5 152v3M1155.5 142v8M1157.5 177v12M1159.5 182v7M1165.5 184v6M1166.5 143v2M1167.5 129v1M1168.5 143v2M1169.5 103v11M1169.5 203v4M1170.5 136v3M1170.5 167v4M1171.5 165v4M1171.5 221v5M1172.5 194v3M1173.5 185v4M1174.5 74v5M1176.5 83v4M1177.5 160v4M1179.5 140v1M1180.5 124v1M1180.5 164v2M1181.5 149v2M1182.5 76v1M1182.5 198v3M1183.5 90v1M1183.5 150v1M1184.5 72v1M1184.5 133v3M1186.5 118v5M1186.5 213v2M1187.5 242v2M1195.5 238v12M1196.5 99v4M1198.5 80v5M1199.5 167v24M1201.5 172v11M1203.5 180v7M1205.5 205v3M1206.5 139v5M1207.5 168v2M1208.5 226v4M1214.5 156v24M1218.5 165v4M1218.5 205v3M1219.5 180v2M1219.5 240v3M1220.5 205v1M1221.5 230v2M1226.5 115v2M1235.5 222v3M1236.5 160v2M1237.5 133v4M1238.5 160v2M1239.5 222v3M1254.5 234v1M1255.5 204v1M1256.5 168v2M1258.5 120v5M1258.5 192v3M1260.5 149v8M1260.5 197v6M1261.5 121v2M1262.5 137v1M1263.5 167v1M1264.5 189v1M1265.5 213v1M1266.5 240v2M1274.5 186v5M1274.5 213v9M1275.5 219v5M1289.5 144v6M1308.5 168v3M1310.5 168v3M1324.5 62v15M1340.5 218v24M1343.5 213v3M1344.5 164v1M1345.5 98v11M1360.5 134v3M1360.5 227v23M1361.5 102v2M1362.5 134v3M1362.5 227v23M1372.5 246v4M1373.5 173v4M1374.5 246v4M1386.5 63v14"/>
<path stroke="#00dfff" d="M913.5 70v3M913.5 127v1M914.5 96v1M914.5 144v1M931.5 80v7M931.5 180v4M936.5 70v8M936.5 133v7M970.5 205v2M970.5 245v5M971.5 213v3M1007.5 241v9M1008.5 171v12M1009.5 241v9M1024.5 212v7M1025.5 191v2M1026.5 209v8M1027.5 217v12M1031.5 196v4M1051.5 170v41M1056.5 236v6M1057.5 213v4M1058.5 236v6M1060.5 179v12M1067.5 245v5M1068.5 170v4M1069.5 245v5M1073.5 129v3M1073.5 208v2M1086.5 135v2M1086.5 226v1M1092.5 223v2M1093.5 187v2M1094.5 175v2M1095.5 187v2M1096.5 223v2M1100.5 227v15M1101.5 218v3M1102.5 227v15M1105.5 187v3M1112.5 241v3M1125.5 195v4M1126.5 133v5M1127.5 195v4M1130.5 178v46M1141.5 107v52M1143.5 154v5M1144.5 193v1M1145.5 221v6M1153.5 155v4M1155.5 150v7M1157.5 189v8M1159.5 189v8M1165.5 190v6M1166.5 145v1M1167.5 130v1M1168.5 145v1M1169.5 207v4M1170.5 139v5M1170.5 160v7M1171.5 169v2M1171.5 217v4M1172.5 197v4M1173.5 189v4M1174.5 79v5M1176.5 87v3M1177.5 164v3M1179.5 141v1M1180.5 125v1M1180.5 163v1M1181.5 148v1M1182.5 77v1M1182.5 194v4M1183.5 69v1M1183.5 89v1M1184.5 49v1M1184.5 71v1M1184.5 136v3M1186.5 123v5M1187.5 244v1M1196.5 103v4M1198.5 85v6M1199.5 191v12M1201.5 183v11M1203.5 187v7M1205.5 208v7M1206.5 144v6M1207.5 170v1M1208.5 230v4M1214.5 145v11M1218.5 169v7M1218.5 202v3M1219.5 182v3M1219.5 236v4M1220.5 206v3M1221.5 232v2M1226.5 113v2M1235.5 225v4M1236.5 162v1M1237.5 137v5M1238.5 162v1M1239.5 225v4M1254.5 235v2M1255.5 205v2M1256.5 170v2M1258.5 125v5M1258.5 189v3M1260.5 157v8M1260.5 192v5M1261.5 123v1M1262.5 138v1M1263.5 168v1M1264.5 190v1M1265.5 214v1M1266.5 242v1M1274.5 191v22M1275.5 224v9M1308.5 171v2M1310.5 171v2M1324.5 77v16M1340.5 242v8M1343.5 216v2M1344.5 165v2M1345.5 109v5M1360.5 137v2M1360.5 197v30M1361.5 104v3M1362.5 137v2M1362.5 197v30M1373.5 177v4M1386.5 77v16M1386.5 245v5"/>
<path stroke="#00efff" d="M913.5 73v3M913.5 125v2M914.5 97v2M914.5 143v1M931.5 87v6M931.5 174v6M936.5 78v13M936.5 119v14M970.5 207v3M970.5 240v5M971.5 216v4M1008.5 183v12M1024.5 219v7M1025.5 193v3M1026.5 217v8M1027.5 229v14M1031.5 200v4M1056.5 242v6M1057.5 217v3M1058.5 242v6M1060.5 191v16M1068.5 174v4M1073.5 132v3M1073.5 205v3M1086.5 137v2M1086.5 224v2M1092.5 225v3M1093.5 189v2M1094.5 177v1M1095.5 189v2M1096.5 225v3M1100.5 242v8M1101.5 221v3M1102.5 242v8M1105.5 190v2M1112.5 244v4M1125.5 199v3M1126.5 138v5M1127.5 199v3M1130.5 224v26M1141.5 88v19M1141.5 159v10M1143.5 159v4M1144.5 194v2M1145.5 227v10M1153.5 159v4M1155.5 157v6M1157.5 197v8M1159.5 197v8M1165.5 196v7M1166.5 146v2M1167.5 131v1M1168.5 146v2M1169.5 211v4M1170.5 144v16M1171.5 171v3M1171.5 214v3M1172.5 201v4M1173.5 193v4M1174.5 84v5M1176.5 90v4M1177.5 167v3M1179.5 142v2M1179.5 186v4M1180.5 126v1M1180.5 162v1M1181.5 147v1M1182.5 191v3M1183.5 151v1M1183.5 245v5M1184.5 70v1M1184.5 139v4M1186.5 128v6M1186.5 212v1M1186.5 215v1M1187.5 245v1M1196.5 107v3M1198.5 91v6M1199.5 203v11M1201.5 194v8M1203.5 194v8M1205.5 215v11M1206.5 150v3M1207.5 171v2M1208.5 234v4M1214.5 140v5M1218.5 176v26M1219.5 185v3M1219.5 233v3M1220.5 209v2M1221.5 234v3M1226.5 111v2M1235.5 229v3M1236.5 163v1M1237.5 142v3M1238.5 163v1M1239.5 229v3M1254.5 237v2M1255.5 207v1M1256.5 172v2M1257.5 248v2M1258.5 130v5M1258.5 186v3M1260.5 165v27M1261.5 124v2M1262.5 139v2M1263.5 169v1M1264.5 191v1M1265.5 215v1M1266.5 243v1M1275.5 233v17M1308.5 173v2M1310.5 173v2M1324.5 93v10M1343.5 218v3M1344.5 167v1M1345.5 114v4M1360.5 139v3M1360.5 194v3M1361.5 107v2M1362.5 139v3M1362.5 194v3M1373.5 181v4M1386.5 93v10M1386.5 236v9"/>
<path stroke="#00ffff" d="M913.5 76v4M913.5 123v2M914.5 99v1M914.5 142v1M931.5 93v7M931.5 167v7M936.5 91v28M970.5 210v30M971.5 220v4M1008.5 195v10M1024.5 226v24M1025.5 196v3M1026.5 225v25M1027.5 243v7M1031.5 204v4M1056.5 248v2M1057.5 220v3M1058.5 248v2M1060.5 207v17M1068.5 178v7M1073.5 135v3M1073.5 203v2M1086.5 139v3M1086.5 223v1M1092.5 228v2M1093.5 191v1M1094.5 178v2M1095.5 191v1M1096.5 228v2M1101.5 224v13M1105.5 192v2M1112.5 248v2M1125.5 202v5M1126.5 143v5M1127.5 202v5M1141.5 46v42M1141.5 169v7M1143.5 163v2M1144.5 196v2M1145.5 237v13M1153.5 163v4M1155.5 163v4M1157.5 205v9M1159.5 205v9M1165.5 203v7M1166.5 148v2M1167.5 132v2M1168.5 148v2M1169.5 215v4M1171.5 174v4M1171.5 210v4M1172.5 205v3M1172.5 246v4M1173.5 197v5M1174.5 89v6M1176.5 94v3M1177.5 170v4M1179.5 144v1M1179.5 183v3M1179.5 190v11M1180.5 127v1M1180.5 161v1M1181.5 145v2M1182.5 78v1M1182.5 189v2M1183.5 70v1M1183.5 88v1M1183.5 152v1M1183.5 242v3M1184.5 50v1M1184.5 69v1M1184.5 143v3M1186.5 134v5M1186.5 211v1M1186.5 216v1M1187.5 246v1M1196.5 110v4M1198.5 97v7M1199.5 214v21M1201.5 202v9M1203.5 202v9M1205.5 226v8M1206.5 153v3M1207.5 173v2M1208.5 238v4M1214.5 135v5M1219.5 188v3M1219.5 229v4M1220.5 211v3M1221.5 237v3M1226.5 109v2M1235.5 232v3M1236.5 164v2M1237.5 145v3M1238.5 164v2M1239.5 232v3M1254.5 239v2M1255.5 208v2M1256.5 174v3M1257.5 243v5M1258.5 135v6M1258.5 184v2M1261.5 126v1M1262.5 141v1M1263.5 170v1M1264.5 192v1M1265.5 216v1M1266.5 244v2M1308.5 175v2M1310.5 175v2M1324.5 103v6M1324.5 225v25M1343.5 221v3M1344.5 168v2M1345.5 118v4M1360.5 142v2M1360.5 191v3M1361.5 109v2M1361.5 243v7M1362.5 142v2M1362.5 191v3M1373.5 185v4M1386.5 103v4M1386.5 228v8"/>
<path stroke="#10ffef" d="M913.5 80v4M913.5 122v1M914.5 100v2M914.5 140v2M931.5 100v6M931.5 161v6M971.5 224v6M1008.5 205v8M1025.5 199v5M1031.5 208v42M1057.5 223v6M1060.5 224v16M1068.5 185v9M1073.5 138v3M1073.5 200v3M1086.5 142v2M1086.5 221v2M1092.5 230v2M1093.5 192v2M1094.5 180v2M1095.5 192v2M1096.5 230v2M1101.5 237v13M1105.5 194v5M1125.5 207v7M1126.5 148v6M1127.5 207v7M1141.5 176v3M1142.5 46v14M1143.5 165v2M1144.5 198v2M1153.5 167v4M1155.5 167v4M1157.5 214v10M1159.5 214v10M1165.5 210v6M1166.5 150v2M1167.5 134v1M1168.5 150v2M1169.5 219v4M1171.5 178v4M1171.5 206v4M1172.5 208v6M1172.5 237v9M1173.5 202v4M1174.5 95v5M1176.5 97v3M1177.5 174v5M1179.5 145v1M1179.5 182v1M1179.5 201v13M1180.5 128v1M1180.5 159v2M1181.5 101v8M1181.5 143v2M1182.5 79v1M1182.5 187v2M1183.5 87v1M1183.5 153v1M1183.5 238v4M1184.5 51v1M1184.5 68v1M1184.5 146v4M1186.5 139v7M1186.5 217v1M1187.5 247v1M1196.5 114v4M1198.5 104v7M1199.5 235v15M1201.5 211v9M1203.5 211v9M1205.5 234v8M1206.5 156v3M1207.5 175v1M1208.5 242v4M1214.5 130v5M1219.5 191v3M1219.5 224v5M1220.5 214v4M1221.5 240v4M1226.5 107v2M1235.5 235v3M1236.5 166v1M1237.5 148v2M1238.5 166v1M1239.5 235v3M1254.5 241v2M1255.5 210v2M1256.5 177v2M1257.5 239v4M1258.5 141v11M1258.5 181v3M1261.5 127v2M1262.5 142v1M1263.5 171v1M1266.5 246v1M1308.5 177v2M1309.5 107v7M1310.5 177v2M1324.5 109v5M1324.5 197v28M1343.5 224v3M1344.5 170v2M1345.5 122v4M1360.5 144v3M1360.5 189v2M1361.5 111v3M1361.5 231v12M1362.5 144v3M1362.5 189v2M1373.5 189v15M1386.5 107v5M1386.5 220v8"/>
<path stroke="#20ffdf" d="M913.5 84v4M913.5 120v2M914.5 102v1M914.5 139v1M931.5 106v7M931.5 154v7M971.5 230v20M1008.5 213v9M1025.5 204v10M1057.5 229v7M1060.5 240v10M1068.5 194v10M1073.5 141v4M1073.5 197v3M1086.5 144v3M1086.5 219v2M1092.5 232v3M1093.5 194v2M1094.5 182v2M1095.5 194v2M1096.5 232v3M1105.5 199v10M1125.5 214v8M1126.5 154v8M1127.5 214v8M1141.5 179v3M1142.5 60v23M1143.5 167v2M1144.5 200v2M1146.5 233v17M1153.5 171v4M1155.5 171v4M1157.5 224v12M1159.5 224v12M1165.5 216v7M1166.5 152v3M1167.5 135v2M1168.5 152v3M1169.5 223v4M1169.5 246v4M1171.5 182v10M1171.5 199v7M1172.5 214v23M1173.5 206v5M1174.5 100v4M1176.5 100v4M1177.5 179v5M1179.5 146v1M1179.5 180v2M1179.5 214v14M1180.5 129v2M1180.5 157v2M1181.5 85v16M1181.5 109v2M1181.5 142v1M1182.5 80v1M1182.5 185v2M1183.5 71v1M1183.5 154v1M1183.5 235v3M1184.5 66v2M1184.5 150v6M1186.5 146v10M1186.5 209v2M1186.5 218v1M1187.5 248v1M1196.5 118v5M1198.5 111v8M1201.5 220v10M1203.5 220v10M1205.5 242v8M1206.5 159v3M1207.5 176v2M1208.5 246v4M1214.5 125v5M1219.5 194v4M1219.5 218v6M1220.5 218v5M1221.5 244v6M1226.5 104v3M1235.5 238v4M1236.5 167v2M1237.5 150v1M1238.5 167v2M1239.5 238v4M1254.5 243v2M1255.5 212v2M1256.5 179v2M1257.5 235v4M1258.5 152v29M1261.5 129v1M1262.5 143v1M1263.5 172v1M1264.5 193v1M1265.5 217v1M1266.5 247v2M1308.5 179v2M1309.5 99v8M1309.5 114v9M1310.5 179v2M1324.5 114v5M1324.5 190v7M1343.5 227v3M1344.5 172v1M1345.5 126v5M1360.5 147v3M1360.5 187v2M1361.5 114v2M1361.5 219v12M1362.5 147v3M1362.5 187v2M1373.5 204v28M1386.5 112v5M1386.5 212v8"/>
<path stroke="#30ffcf" d="M913.5 88v4M913.5 118v2M914.5 103v2M914.5 137v2M931.5 113v12M931.5 147v7M1008.5 222v28M1025.5 214v9M1025.5 244v6M1057.5 236v8M1068.5 204v9M1073.5 145v3M1073.5 195v2M1086.5 147v3M1086.5 218v1M1092.5 235v6M1093.5 196v1M1094.5 184v2M1095.5 196v1M1096.5 235v6M1105.5 209v9M1105.5 242v8M1125.5 222v8M1126.5 162v8M1127.5 222v8M1141.5 182v3M1141.5 249v1M1142.5 83v39M1143.5 169v2M1144.5 202v3M1146.5 191v42M1153.5 175v5M1155.5 175v5M1157.5 236v13M1159.5 236v13M1165.5 223v7M1165.5 237v13M1166.5 155v2M1167.5 137v1M1168.5 155v2M1169.5 227v19M1171.5 192v7M1173.5 211v3M1174.5 104v4M1176.5 104v4M1177.5 184v3M1179.5 179v1M1179.5 228v13M1180.5 131v1M1180.5 156v1M1181.5 78v7M1181.5 111v1M1181.5 140v2M1182.5 81v1M1182.5 183v2M1183.5 72v1M1183.5 86v1M1183.5 155v1M1183.5 232v3M1184.5 52v1M1184.5 65v1M1184.5 156v6M1186.5 156v7M1186.5 207v2M1186.5 219v1M1187.5 249v1M1196.5 123v4M1198.5 119v8M1201.5 230v11M1203.5 230v11M1206.5 162v4M1207.5 178v2M1214.5 120v5M1219.5 198v20M1220.5 223v27M1226.5 102v2M1235.5 242v4M1236.5 169v1M1237.5 151v1M1238.5 169v1M1239.5 242v4M1254.5 245v3M1255.5 214v2M1256.5 181v2M1257.5 231v4M1261.5 130v2M1262.5 144v1M1264.5 194v1M1265.5 218v1M1266.5 249v1M1308.5 181v3M1309.5 92v7M1309.5 123v9M1310.5 181v3M1324.5 119v6M1324.5 184v6M1343.5 230v4M1344.5 173v2M1345.5 131v4M1360.5 150v6M1360.5 185v2M1361.5 116v2M1361.5 206v13M1362.5 150v6M1362.5 185v2M1373.5 232v18M1386.5 117v5M1386.5 204v8"/>
<path stroke="#40ffbf" d="M913.5 92v26M914.5 105v2M914.5 135v2M931.5 125v22M1025.5 223v21M1057.5 244v6M1068.5 213v37M1073.5 148v12M1073.5 192v3M1086.5 150v6M1086.5 216v2M1092.5 241v8M1093.5 197v2M1094.5 186v1M1095.5 197v2M1096.5 241v8M1105.5 218v24M1125.5 230v8M1126.5 170v8M1127.5 230v8M1141.5 185v2M1141.5 245v4M1142.5 122v27M1143.5 171v2M1144.5 205v2M1146.5 158v33M1153.5 180v4M1155.5 180v4M1157.5 249v1M1159.5 249v1M1165.5 230v7M1166.5 157v3M1167.5 138v1M1168.5 157v3M1173.5 214v3M1174.5 108v4M1176.5 108v4M1177.5 187v2M1179.5 147v1M1179.5 178v1M1179.5 241v9M1180.5 132v1M1180.5 155v1M1181.5 70v8M1181.5 139v1M1182.5 82v1M1182.5 181v2M1183.5 73v1M1183.5 84v2M1183.5 156v1M1183.5 229v3M1184.5 53v1M1184.5 60v5M1184.5 162v2M1186.5 163v8M1186.5 205v2M1186.5 220v1M1196.5 127v5M1198.5 127v5M1201.5 241v9M1203.5 241v9M1206.5 166v3M1207.5 180v2M1214.5 115v5M1226.5 100v2M1235.5 246v3M1236.5 170v2M1237.5 152v1M1238.5 170v2M1239.5 246v3M1254.5 248v2M1255.5 216v2M1256.5 183v1M1257.5 227v4M1261.5 132v2M1262.5 145v1M1263.5 173v1M1264.5 195v1M1265.5 219v2M1308.5 184v2M1309.5 84v8M1309.5 132v9M1310.5 184v2M1324.5 125v5M1324.5 177v7M1343.5 234v16M1344.5 175v2M1345.5 135v5M1360.5 156v8M1360.5 182v3M1361.5 118v3M1361.5 198v8M1362.5 156v8M1362.5 182v3M1386.5 122v4M1386.5 195v9"/>
<path stroke="#50ffaf" d="M914.5 107v1M914.5 132v3M1073.5 160v32M1086.5 156v7M1086.5 211v5M1092.5 249v1M1093.5 199v2M1094.5 187v2M1095.5 199v2M1096.5 249v1M1125.5 238v9M1126.5 178v8M1127.5 238v9M1141.5 187v3M1141.5 241v4M1142.5 149v4M1143.5 173v2M1144.5 207v3M1146.5 148v10M1153.5 184v5M1155.5 184v5M1166.5 160v2M1167.5 139v2M1168.5 160v2M1173.5 217v4M1174.5 112v4M1176.5 112v4M1177.5 189v2M1179.5 148v2M1179.5 176v2M1180.5 133v1M1180.5 154v1M1181.5 59v11M1181.5 112v1M1181.5 138v1M1182.5 83v1M1182.5 179v2M1183.5 74v1M1183.5 83v1M1183.5 157v1M1183.5 226v3M1184.5 54v1M1184.5 59v1M1184.5 164v3M1186.5 171v10M1186.5 203v2M1186.5 221v2M1196.5 132v5M1198.5 132v5M1206.5 169v4M1207.5 182v1M1214.5 110v5M1226.5 97v3M1235.5 249v1M1236.5 172v2M1237.5 153v2M1238.5 172v2M1239.5 249v1M1255.5 218v2M1256.5 184v2M1257.5 223v4M1261.5 134v1M1262.5 146v1M1263.5 174v1M1264.5 196v1M1265.5 221v1M1308.5 186v2M1309.5 76v8M1309.5 141v7M1310.5 186v2M1324.5 130v5M1324.5 171v6M1344.5 177v2M1345.5 140v4M1360.5 164v10M1360.5 179v3M1361.5 121v2M1361.5 195v3M1362.5 164v10M1362.5 179v3M1386.5 126v5M1386.5 187v8"/>
<path stroke="#60ff9f" d="M914.5 108v2M914.5 130v2M1086.5 163v6M1086.5 193v18M1093.5 201v1M1094.5 189v2M1095.5 201v1M1125.5 247v3M1126.5 186v5M1127.5 247v3M1141.5 190v3M1141.5 237v4M1142.5 153v3M1143.5 175v2M1144.5 210v3M1146.5 139v9M1153.5 189v4M1155.5 189v4M1166.5 162v3M1167.5 141v1M1168.5 162v3M1173.5 221v3M1174.5 116v5M1176.5 116v5M1177.5 191v2M1179.5 150v2M1179.5 175v1M1180.5 134v1M1180.5 153v1M1181.5 48v11M1181.5 113v1M1181.5 136v2M1182.5 84v1M1182.5 177v2M1183.5 75v1M1183.5 82v1M1183.5 158v1M1183.5 224v2M1184.5 55v1M1184.5 57v2M1184.5 167v2M1186.5 181v12M1186.5 200v3M1186.5 223v1M1196.5 137v5M1198.5 137v5M1206.5 173v4M1207.5 183v2M1214.5 105v5M1226.5 95v2M1236.5 174v2M1237.5 155v1M1238.5 174v2M1255.5 220v2M1256.5 186v2M1257.5 135v14M1257.5 219v4M1261.5 135v2M1262.5 147v2M1263.5 175v1M1264.5 197v1M1265.5 222v1M1308.5 188v3M1308.5 246v4M1309.5 69v7M1309.5 148v3M1310.5 188v3M1310.5 246v4M1324.5 135v36M1344.5 179v2M1345.5 144v5M1360.5 174v5M1361.5 123v2M1361.5 193v2M1362.5 174v5M1386.5 131v5M1386.5 180v7"/>
<path stroke="#70ff8f" d="M914.5 110v2M914.5 126v4M1086.5 169v24M1093.5 202v3M1094.5 191v1M1095.5 202v3M1126.5 191v4M1141.5 193v15M1141.5 233v4M1142.5 156v4M1143.5 177v1M1144.5 213v2M1146.5 46v19M1146.5 129v10M1153.5 193v5M1155.5 193v5M1166.5 165v2M1167.5 142v2M1168.5 165v2M1173.5 224v5M1174.5 121v5M1176.5 121v5M1177.5 193v2M1179.5 152v2M1179.5 173v2M1180.5 135v1M1180.5 151v2M1181.5 46v2M1181.5 114v2M1181.5 135v1M1182.5 85v3M1182.5 105v6M1182.5 175v2M1183.5 76v1M1183.5 80v2M1183.5 159v2M1183.5 221v3M1184.5 56v1M1184.5 169v2M1186.5 193v7M1186.5 224v1M1196.5 142v5M1198.5 142v5M1206.5 177v3M1207.5 185v3M1214.5 98v7M1226.5 90v5M1236.5 176v1M1237.5 156v1M1238.5 176v1M1255.5 222v3M1256.5 188v3M1257.5 46v7M1257.5 96v39M1257.5 149v5M1257.5 215v4M1261.5 137v1M1262.5 149v1M1263.5 176v1M1264.5 198v1M1265.5 223v2M1308.5 191v6M1308.5 243v3M1309.5 62v7M1309.5 151v3M1310.5 191v6M1310.5 243v3M1344.5 181v2M1345.5 149v5M1345.5 247v3M1361.5 125v3M1361.5 191v2M1386.5 136v4M1386.5 176v4"/>
<path stroke="#80ff80" d="M914.5 112v2M914.5 123v3M1093.5 205v2M1094.5 192v2M1095.5 205v2M1126.5 195v5M1141.5 208v25M1142.5 160v3M1143.5 178v2M1144.5 215v3M1146.5 65v64M1153.5 198v9M1155.5 198v9M1166.5 167v3M1167.5 144v1M1168.5 167v3M1173.5 229v21M1174.5 126v5M1176.5 126v5M1177.5 195v2M1179.5 154v6M1179.5 170v3M1180.5 136v2M1180.5 149v2M1181.5 116v1M1181.5 133v2M1182.5 88v3M1182.5 104v1M1182.5 111v6M1182.5 172v3M1183.5 77v3M1183.5 161v1M1183.5 218v3M1184.5 171v2M1186.5 225v1M1196.5 147v6M1198.5 147v6M1206.5 180v4M1207.5 188v3M1214.5 70v28M1226.5 64v26M1236.5 177v2M1237.5 157v1M1238.5 177v2M1255.5 225v3M1256.5 191v3M1257.5 53v43M1257.5 154v5M1257.5 211v4M1261.5 138v2M1262.5 150v1M1263.5 177v1M1264.5 199v1M1265.5 225v1M1308.5 197v8M1308.5 239v4M1309.5 56v6M1309.5 154v3M1310.5 197v8M1310.5 239v4M1344.5 183v2M1345.5 154v5M1345.5 243v4M1361.5 128v2M1361.5 190v1M1386.5 140v5M1386.5 172v4"/>
<path stroke="#8fff70" d="M914.5 114v9M1093.5 207v3M1094.5 194v2M1095.5 207v3M1126.5 200v6M1142.5 163v4M1143.5 180v2M1144.5 218v3M1153.5 207v13M1155.5 207v13M1166.5 170v2M1167.5 145v2M1168.5 170v2M1174.5 131v6M1176.5 131v6M1177.5 197v8M1179.5 160v2M1179.5 167v3M1180.5 138v2M1180.5 147v2M1181.5 117v1M1181.5 131v2M1182.5 91v5M1182.5 101v3M1182.5 117v6M1182.5 169v3M1183.5 162v2M1183.5 215v3M1184.5 173v3M1186.5 226v1M1196.5 153v7M1198.5 153v7M1202.5 117v30M1206.5 184v3M1207.5 191v3M1214.5 46v24M1226.5 46v18M1236.5 179v2M1237.5 158v1M1238.5 179v2M1255.5 228v3M1256.5 194v3M1257.5 159v6M1257.5 205v6M1261.5 140v2M1262.5 151v2M1264.5 200v1M1265.5 226v2M1308.5 205v8M1308.5 236v3M1309.5 49v7M1309.5 157v3M1310.5 205v8M1310.5 236v3M1344.5 185v3M1345.5 159v5M1345.5 240v3M1361.5 130v3M1361.5 188v2M1386.5 145v5M1386.5 168v4"/>
<path stroke="#9fff60" d="M1093.5 210v3M1094.5 196v1M1095.5 210v3M1126.5 206v19M1142.5 167v4M1143.5 182v1M1144.5 221v3M1153.5 220v17M1155.5 220v17M1166.5 172v2M1167.5 147v1M1168.5 172v2M1174.5 137v6M1176.5 137v6M1177.5 205v18M1179.5 162v5M1180.5 140v7M1181.5 118v3M1181.5 123v8M1182.5 96v5M1182.5 123v8M1182.5 166v3M1183.5 164v1M1183.5 214v1M1184.5 176v3M1186.5 227v2M1196.5 160v8M1198.5 160v8M1202.5 114v3M1202.5 147v90M1206.5 187v3M1207.5 194v2M1236.5 181v2M1237.5 159v2M1238.5 181v2M1255.5 231v4M1256.5 197v4M1257.5 165v6M1257.5 200v5M1261.5 142v1M1262.5 153v1M1263.5 178v1M1264.5 201v1M1265.5 228v1M1308.5 213v9M1308.5 232v4M1309.5 46v3M1309.5 160v3M1310.5 213v9M1310.5 232v4M1344.5 188v2M1345.5 164v8M1345.5 236v4M1361.5 133v3M1361.5 186v2M1386.5 150v4M1386.5 164v4"/>
<path stroke="#afff50" d="M1093.5 213v3M1094.5 197v2M1095.5 213v3M1126.5 225v21M1142.5 171v3M1143.5 183v2M1144.5 224v3M1144.5 243v7M1153.5 237v13M1155.5 237v13M1158.5 167v83M1166.5 174v3M1167.5 148v3M1168.5 174v3M1174.5 143v5M1176.5 143v5M1177.5 223v27M1181.5 121v2M1182.5 131v11M1182.5 161v5M1183.5 165v2M1183.5 213v1M1184.5 179v3M1186.5 229v1M1196.5 168v9M1196.5 248v2M1198.5 168v9M1198.5 248v2M1202.5 111v3M1202.5 237v13M1206.5 190v2M1207.5 196v3M1236.5 183v1M1237.5 161v1M1238.5 183v1M1255.5 235v6M1256.5 201v7M1256.5 244v6M1257.5 171v8M1257.5 189v11M1261.5 143v2M1261.5 246v4M1262.5 154v2M1263.5 179v1M1264.5 202v1M1265.5 229v2M1308.5 222v10M1309.5 163v3M1310.5 222v10M1344.5 190v2M1345.5 172v8M1345.5 227v9M1361.5 136v3M1361.5 185v1M1386.5 154v10"/>
<path stroke="#bfff40" d="M1093.5 216v3M1094.5 199v2M1095.5 216v3M1126.5 246v4M1142.5 174v3M1143.5 185v1M1144.5 227v16M1158.5 139v28M1166.5 177v4M1167.5 151v2M1168.5 177v4M1174.5 148v3M1176.5 148v3M1182.5 142v19M1183.5 167v2M1183.5 211v2M1184.5 182v3M1186.5 230v1M1196.5 177v9M1196.5 241v7M1198.5 177v9M1198.5 241v7M1202.5 107v4M1206.5 192v3M1207.5 199v3M1236.5 184v2M1237.5 162v1M1238.5 184v2M1255.5 241v9M1256.5 208v36M1257.5 179v10M1261.5 145v2M1261.5 241v5M1262.5 156v1M1263.5 180v1M1264.5 203v1M1265.5 231v1M1309.5 166v3M1309.5 249v1M1344.5 192v3M1344.5 247v3M1345.5 180v8M1345.5 210v17M1361.5 139v3M1361.5 183v2"/>
<path stroke="#cfff30" d="M1093.5 219v3M1094.5 201v2M1095.5 219v3M1142.5 177v2M1143.5 186v2M1158.5 128v11M1166.5 181v7M1167.5 153v3M1168.5 181v7M1174.5 151v2M1176.5 151v2M1178.5 46v18M1183.5 169v2M1183.5 210v1M1184.5 185v2M1186.5 231v2M1196.5 186v11M1196.5 234v7M1198.5 186v11M1198.5 234v7M1202.5 104v3M1206.5 195v3M1207.5 202v2M1236.5 186v3M1237.5 163v1M1238.5 186v3M1261.5 147v2M1261.5 237v4M1262.5 157v2M1263.5 181v1M1264.5 204v1M1265.5 232v2M1309.5 169v3M1309.5 246v3M1344.5 195v4M1344.5 243v4M1345.5 188v22M1361.5 142v4M1361.5 181v2"/>
<path stroke="#dfff20" d="M1093.5 222v3M1094.5 203v2M1095.5 222v3M1142.5 179v2M1143.5 188v2M1158.5 117v11M1166.5 188v8M1166.5 249v1M1167.5 156v3M1168.5 188v8M1168.5 249v1M1174.5 153v2M1176.5 153v2M1178.5 64v186M1183.5 171v3M1183.5 208v2M1184.5 187v2M1186.5 233v1M1196.5 197v13M1196.5 227v7M1198.5 197v13M1198.5 227v7M1202.5 101v3M1206.5 198v3M1207.5 204v3M1236.5 189v2M1237.5 164v2M1238.5 189v2M1261.5 149v3M1261.5 233v4M1262.5 159v2M1263.5 182v1M1264.5 205v1M1265.5 234v2M1309.5 172v3M1309.5 243v3M1344.5 199v9M1344.5 239v4M1361.5 146v4M1361.5 178v3"/>
<path stroke="#efff10" d="M1093.5 225v3M1094.5 205v4M1095.5 225v3M1142.5 181v3M1142.5 247v3M1143.5 190v1M1158.5 46v10M1158.5 105v12M1166.5 196v9M1166.5 243v6M1167.5 159v3M1168.5 196v9M1168.5 243v6M1174.5 155v3M1176.5 155v3M1183.5 174v3M1183.5 207v1M1184.5 189v2M1185.5 46v3M1185.5 205v4M1186.5 234v2M1196.5 210v17M1198.5 210v17M1202.5 98v3M1206.5 201v3M1207.5 207v4M1236.5 191v2M1237.5 166v1M1238.5 191v2M1261.5 152v3M1261.5 229v4M1262.5 161v1M1263.5 183v1M1264.5 206v1M1265.5 236v2M1309.5 175v2M1309.5 241v2M1344.5 208v17M1344.5 235v4M1361.5 150v28"/>
<path stroke="#ffff00" d="M1093.5 228v2M1094.5 209v3M1095.5 228v2M1142.5 184v2M1142.5 244v3M1143.5 191v2M1154.5 124v30M1158.5 56v49M1166.5 205v9M1166.5 238v5M1167.5 162v3M1168.5 205v9M1168.5 238v5M1174.5 158v2M1176.5 158v2M1183.5 177v4M1183.5 203v4M1184.5 191v4M1185.5 49v11M1185.5 204v1M1185.5 209v1M1186.5 236v1M1197.5 248v2M1202.5 94v4M1206.5 204v3M1207.5 211v11M1236.5 193v2M1237.5 167v2M1238.5 193v2M1261.5 155v3M1261.5 225v4M1262.5 162v2M1264.5 207v1M1265.5 238v2M1309.5 177v3M1309.5 239v2M1344.5 225v10"/>
<path stroke="#ffef00" d="M1093.5 230v4M1094.5 212v3M1095.5 230v4M1142.5 186v2M1142.5 241v3M1143.5 193v2M1143.5 249v1M1154.5 46v17M1154.5 71v53M1154.5 154v13M1166.5 214v9M1166.5 233v5M1167.5 165v3M1168.5 214v9M1168.5 233v5M1174.5 160v2M1176.5 160v2M1183.5 181v22M1184.5 195v3M1185.5 60v13M1185.5 202v2M1185.5 210v1M1186.5 237v2M1197.5 243v5M1202.5 83v11M1206.5 207v4M1207.5 222v19M1236.5 195v3M1237.5 169v2M1238.5 195v3M1261.5 158v3M1261.5 221v4M1262.5 164v2M1263.5 184v1M1264.5 208v2M1265.5 240v2M1309.5 180v3M1309.5 236v3"/>
<path stroke="#ffdf00" d="M1093.5 234v16M1094.5 215v4M1095.5 234v16M1142.5 188v2M1142.5 239v2M1143.5 195v4M1143.5 245v4M1154.5 63v8M1154.5 167v12M1154.5 241v9M1166.5 223v10M1167.5 168v3M1167.5 249v1M1168.5 223v10M1174.5 162v3M1176.5 162v3M1184.5 198v3M1185.5 73v15M1185.5 200v2M1185.5 211v1M1186.5 239v2M1197.5 239v4M1202.5 46v37M1206.5 211v39M1207.5 241v9M1236.5 198v3M1237.5 171v2M1238.5 198v3M1261.5 161v4M1261.5 216v5M1262.5 166v1M1263.5 185v1M1264.5 210v1M1265.5 242v2M1309.5 183v2M1309.5 234v2"/>
<path stroke="#ffcf00" d="M1094.5 219v3M1142.5 190v3M1142.5 236v3M1143.5 199v6M1143.5 242v3M1154.5 179v12M1154.5 217v24M1167.5 171v3M1167.5 245v4M1174.5 165v2M1176.5 165v2M1184.5 201v2M1185.5 88v15M1185.5 196v4M1185.5 212v1M1186.5 241v1M1197.5 234v5M1236.5 201v6M1237.5 173v2M1238.5 201v6M1261.5 165v3M1261.5 211v5M1262.5 167v2M1263.5 186v1M1264.5 211v1M1265.5 244v2M1309.5 185v3M1309.5 231v3"/>
<path stroke="#ffbf00" d="M1094.5 222v3M1142.5 193v4M1142.5 233v3M1143.5 205v6M1143.5 238v4M1154.5 191v26M1167.5 174v3M1167.5 241v4M1174.5 167v2M1176.5 167v2M1184.5 203v1M1184.5 248v2M1185.5 103v11M1185.5 184v12M1186.5 242v2M1197.5 229v5M1236.5 207v8M1237.5 175v2M1238.5 207v8M1261.5 168v4M1261.5 206v5M1262.5 169v2M1263.5 187v1M1264.5 212v1M1265.5 246v2M1309.5 188v43"/>
<path stroke="#ffaf00" d="M1094.5 225v4M1142.5 197v36M1143.5 211v7M1143.5 235v3M1167.5 177v7M1167.5 237v4M1174.5 169v3M1176.5 169v3M1184.5 204v1M1184.5 245v3M1185.5 114v12M1185.5 172v12M1185.5 213v1M1186.5 244v2M1197.5 46v18M1197.5 225v4M1236.5 215v8M1237.5 177v2M1238.5 215v8M1261.5 172v4M1261.5 201v5M1262.5 171v1M1263.5 188v1M1264.5 213v1M1265.5 248v2"/>
<path stroke="#ff9f00" d="M1094.5 229v3M1094.5 249v1M1143.5 218v10M1143.5 229v6M1167.5 184v24M1167.5 233v4M1174.5 172v5M1175.5 46v2M1176.5 172v5M1184.5 205v1M1184.5 241v4M1185.5 126v11M1185.5 159v13M1185.5 214v1M1186.5 246v2M1197.5 64v39M1197.5 212v13M1236.5 223v9M1237.5 179v2M1238.5 223v9M1261.5 176v5M1261.5 196v5M1262.5 172v1M1263.5 189v1M1264.5 214v2"/>
<path stroke="#ff8f00" d="M1094.5 232v17M1143.5 228v1M1167.5 208v25M1174.5 177v7M1175.5 48v3M1176.5 177v7M1184.5 206v2M1184.5 237v4M1185.5 137v22M1185.5 215v2M1186.5 248v2M1197.5 103v109M1236.5 232v10M1237.5 181v2M1238.5 232v10M1261.5 181v15M1262.5 173v2M1263.5 190v1M1264.5 216v1"/>
<path stroke="#ff8000" d="M1174.5 184v7M1175.5 51v4M1176.5 184v7M1184.5 208v1M1184.5 232v5M1185.5 217v2M1236.5 242v8M1237.5 183v2M1238.5 242v8M1262.5 175v1M1263.5 191v1M1264.5 217v1"/>
<path stroke="#ff7000" d="M1174.5 191v8M1174.5 244v6M1175.5 55v3M1176.5 191v8M1176.5 244v6M1184.5 209v2M1184.5 227v5M1185.5 219v3M1237.5 185v3M1262.5 176v2M1263.5 192v2M1264.5 218v2"/>
<path stroke="#ff6000" d="M1174.5 199v8M1174.5 239v5M1175.5 58v3M1176.5 199v8M1176.5 239v5M1184.5 211v4M1184.5 220v7M1185.5 222v3M1237.5 188v3M1262.5 178v2M1263.5 194v1M1264.5 220v2"/>
<path stroke="#ff5000" d="M1174.5 207v9M1174.5 233v6M1175.5 61v3M1176.5 207v9M1176.5 233v6M1184.5 215v5M1185.5 225v6M1237.5 191v2M1262.5 180v1M1262.5 249v1M1263.5 195v1M1264.5 222v2"/>
<path stroke="#ff4000" d="M1174.5 216v17M1175.5 64v5M1175.5 116v34M1176.5 216v17M1185.5 231v10M1237.5 193v3M1262.5 181v2M1262.5 245v4M1263.5 196v2M1264.5 224v2"/>
<path stroke="#ff3000" d="M1175.5 69v47M1175.5 150v4M1185.5 241v9M1237.5 196v4M1262.5 183v1M1262.5 241v4M1263.5 198v2M1264.5 226v3"/>
<path stroke="#ff2000" d="M1175.5 154v3M1175.5 248v2M1237.5 200v31M1262.5 184v2M1262.5 238v3M1263.5 200v1M1264.5 229v3"/>
<path stroke="#ff1000" d="M1175.5 157v3M1175.5 244v4M1237.5 231v19M1262.5 186v2M1262.5 234v4M1263.5 201v2M1264.5 232v4"/>
<path stroke="#ff0000" d="M1175.5 160v3M1175.5 240v4M1262.5 188v2M1262.5 231v3M1263.5 203v2M1264.5 236v4"/>
<path stroke="#ef0000" d="M1175.5 163v4M1175.5 237v3M1262.5 190v4M1262.5 227v4M1263.5 205v3M1264.5 240v6"/>
<path stroke="#df0000" d="M1175.5 167v3M1175.5 233v4M1262.5 194v7M1262.5 223v4M1263.5 208v2M1264.5 246v4"/>
<path stroke="#cf0000" d="M1175.5 170v19M1175.5 229v4M1262.5 201v22M1263.5 210v2"/>
<path stroke="#bf0000" d="M1175.5 189v40M1263.5 212v3M1263.5 245v5"/>
<path stroke="#af0000" d="M1263.5 215v4M1263.5 232v13"/>
<path stroke="#9f0000" d="M1263.5 219v13"/>
</g>
<path d="M837 47.5h6M1440 47.5h-6M837 64.5h6M1440 64.5h-6M837 83.5h6M1440 83.5h-6M837 103.5h6M1440 103.5h-6M837 127.5h6M1440 127.5h-6M837 153.5h6M1440 153.5h-6M837 185.5h6M1440 185.5h-6M837 204.5h6M1440 204.5h-6M837 224.5h6M1440 224.5h-6M837 248.5h6M1440 248.5h-6M912.5 250.5v-5M912.5 46v5M987.5 250.5v-5M987.5 46v5M1063.5 250.5v-5M1063.5 46v5M1138.5 250.5v-5M1138.5 46v5M1214.5 250.5v-5M1214.5 46v5M1289.5 250.5v-5M1289.5 46v5M1364.5 250.5v-5M1364.5 46v5" stroke="#000020" stroke-opacity="0.6" stroke-width="1" fill="none"/>
<text x="832.5" y="52.6" text-anchor="end" font-size="12.5">22</text>
<text x="832.5" y="69.19999999999999" text-anchor="end" font-size="12.5">20</text>
<text x="832.5" y="87.69999999999999" text-anchor="end" font-size="12.5">18</text>
<text x="832.5" y="108.3" text-anchor="end" font-size="12.5">16</text>
<text x="832.5" y="131.6" text-anchor="end" font-size="12.5">14</text>
<text x="832.5" y="158.6" text-anchor="end" font-size="12.5">12</text>
<text x="832.5" y="190.5" text-anchor="end" font-size="12.5">10</text>
<text x="832.5" y="208.9" text-anchor="end" font-size="12.5">9</text>
<text x="832.5" y="229.5" text-anchor="end" font-size="12.5">8</text>
<text x="832.5" y="252.9" text-anchor="end" font-size="12.5">7</text>
<text x="836.5" y="265.3" text-anchor="middle" font-size="12.5">00:00</text>
<text x="912.5" y="265.3" text-anchor="middle" font-size="12.5">03:00</text>
<text x="987.5" y="265.3" text-anchor="middle" font-size="12.5">06:00</text>
<text x="1063.5" y="265.3" text-anchor="middle" font-size="12.5">09:00</text>
<text x="1138.5" y="265.3" text-anchor="middle" font-size="12.5">12:00</text>
<text x="1214.5" y="265.3" text-anchor="middle" font-size="12.5">15:00</text>
<text x="1289.5" y="265.3" text-anchor="middle" font-size="12.5">18:00</text>
<text x="1364.5" y="265.3" text-anchor="middle" font-size="12.5">21:00</text>
<text x="1440.5" y="265.3" text-anchor="middle" font-size="12.5">00:00</text>
<text x="810" y="148.3" text-anchor="middle" font-weight="bold" transform="rotate(-90 810 148.3)" font-size="12.5">freq (mHz)</text>
<g shape-rendering="crispEdges">
<rect x="1458" y="46" width="26" height="3" fill="#800000"/>
<rect x="1458" y="49" width="26" height="3" fill="#8f0000"/>
<rect x="1458" y="52" width="26" height="4" fill="#9f0000"/>
<rect x="1458" y="56" width="26" height="3" fill="#af0000"/>
<rect x="1458" y="59" width="26" height="3" fill="#bf0000"/>
<rect x="1458" y="62" width="26" height="3" fill="#cf0000"/>
<rect x="1458" y="65" width="26" height="3" fill="#df0000"/>
<rect x="1458" y="68" width="26" height="4" fill="#ef0000"/>
<rect x="1458" y="72" width="26" height="3" fill="#ff0000"/>
<rect x="1458" y="75" width="26" height="3" fill="#ff1000"/>
<rect x="1458" y="78" width="26" height="3" fill="#ff2000"/>
<rect x="1458" y="81" width="26" height="3" fill="#ff3000"/>
<rect x="1458" y="84" width="26" height="3" fill="#ff4000"/>
<rect x="1458" y="87" width="26" height="4" fill="#ff5000"/>
<rect x="1458" y="91" width="26" height="3" fill="#ff6000"/>
<rect x="1458" y="94" width="26" height="3" fill="#ff7000"/>
<rect x="1458" y="97" width="26" height="3" fill="#ff8000"/>
<rect x="1458" y="100" width="26" height="3" fill="#ff8f00"/>
<rect x="1458" y="103" width="26" height="4" fill="#ff9f00"/>
<rect x="1458" y="107" width="26" height="3" fill="#ffaf00"/>
<rect x="1458" y="110" width="26" height="3" fill="#ffbf00"/>
<rect x="1458" y="113" width="26" height="3" fill="#ffcf00"/>
<rect x="1458" y="116" width="26" height="3" fill="#ffdf00"/>
<rect x="1458" y="119" width="26" height="4" fill="#ffef00"/>
<rect x="1458" y="123" width="26" height="3" fill="#ffff00"/>
<rect x="1458" y="126" width="26" height="3" fill="#efff10"/>
<rect x="1458" y="129" width="26" height="3" fill="#dfff20"/>
<rect x="1458" y="132" width="26" height="3" fill="#cfff30"/>
<rect x="1458" y="135" width="26" height="3" fill="#bfff40"/>
<rect x="1458" y="138" width="26" height="4" fill="#afff50"/>
<rect x="1458" y="142" width="26" height="3" fill="#9fff60"/>
<rect x="1458" y="145" width="26" height="3" fill="#8fff70"/>
<rect x="1458" y="148" width="26" height="3" fill="#80ff80"/>
<rect x="1458" y="151" width="26" height="3" fill="#70ff8f"/>
<rect x="1458" y="154" width="26" height="4" fill="#60ff9f"/>
<rect x="1458" y="158" width="26" height="3" fill="#50ffaf"/>
<rect x="1458" y="161" width="26" height="3" fill="#40ffbf"/>
<rect x="1458" y="164" width="26" height="3" fill="#30ffcf"/>
<rect x="1458" y="167" width="26" height="3" fill="#20ffdf"/>
<rect x="1458" y="170" width="26" height="4" fill="#10ffef"/>
<rect x="1458" y="174" width="26" height="3" fill="#00ffff"/>
<rect x="1458" y="177" width="26" height="3" fill="#00efff"/>
<rect x="1458" y="180" width="26" height="3" fill="#00dfff"/>
<rect x="1458" y="183" width="26" height="3" fill="#00cfff"/>
<rect x="1458" y="186" width="26" height="3" fill="#00bfff"/>
<rect x="1458" y="189" width="26" height="4" fill="#00afff"/>
<rect x="1458" y="193" width="26" height="3" fill="#009fff"/>
<rect x="1458" y="196" width="26" height="3" fill="#008fff"/>
<rect x="1458" y="199" width="26" height="3" fill="#0080ff"/>
<rect x="1458" y="202" width="26" height="3" fill="#0070ff"/>
<rect x="1458" y="205" width="26" height="4" fill="#0060ff"/>
<rect x="1458" y="209" width="26" height="3" fill="#0050ff"/>
<rect x="1458" y="212" width="26" height="3" fill="#0040ff"/>
<rect x="1458" y="215" width="26" height="3" fill="#0030ff"/>
<rect x="1458" y="218" width="26" height="3" fill="#0020ff"/>
<rect x="1458" y="221" width="26" height="4" fill="#0010ff"/>
<rect x="1458" y="225" width="26" height="3" fill="#0000ff"/>
<rect x="1458" y="228" width="26" height="3" fill="#0000ef"/>
<rect x="1458" y="231" width="26" height="3" fill="#0000df"/>
<rect x="1458" y="234" width="26" height="3" fill="#0000cf"/>
<rect x="1458" y="237" width="26" height="3" fill="#0000bf"/>
<rect x="1458" y="240" width="26" height="4" fill="#0000af"/>
<rect x="1458" y="244" width="26" height="3" fill="#00009f"/>
<rect x="1458" y="247" width="26" height="3" fill="#00008f"/>
</g>
<rect x="1458.5" y="46.5" width="25.0" height="204" fill="none" stroke="#303030" stroke-opacity="0.55" stroke-width="1"/>
<path d="M1458.5 80.5h2.5M1483.5 80.5h-2.5M1458.5 114.5h2.5M1483.5 114.5h-2.5M1458.5 148.5h2.5M1483.5 148.5h-2.5M1458.5 182.5h2.5M1483.5 182.5h-2.5M1458.5 216.5h2.5M1483.5 216.5h-2.5" stroke="#202020" stroke-opacity="0.7" stroke-width="1" fill="none"/>
<text x="1487" y="50.9" text-anchor="start" font-size="12.5">4</text>
<text x="1487" y="84.9" text-anchor="start" font-size="12.5">3</text>
<text x="1487" y="118.9" text-anchor="start" font-size="12.5">2</text>
<text x="1487" y="152.9" text-anchor="start" font-size="12.5">1</text>
<text x="1487" y="186.9" text-anchor="start" font-size="12.5">0</text>
<text x="1487" y="220.9" text-anchor="start" font-size="12.5">-1</text>
<text x="1487" y="254.9" text-anchor="start" font-size="12.5">-2</text>
<text transform="rotate(-90 1518 148)" x="1518" y="148" text-anchor="middle" font-weight="bold" font-size="12.5">log<tspan dy="4.5" font-size="10.8">2</tspan><tspan dy="-4.5">(nT</tspan><tspan dy="-6" font-size="10.8">2</tspan><tspan dy="6">/Hz)</tspan></text>
<rect x="836.5" y="330" width="603.5" height="204.5" fill="#00008f"/>
<g stroke-width="1" fill="none" shape-rendering="crispEdges">
<path stroke="#00009f" d="M892.5 395v6M892.5 458v8M912.5 356v4M912.5 455v3M913.5 344v2M913.5 460v1M914.5 356v4M914.5 455v3M930.5 352v11M932.5 352v11M934.5 344v5M934.5 450v2M935.5 330v1M935.5 455v1M936.5 344v5M936.5 450v2M961.5 522v12M962.5 351v13M963.5 332v1M964.5 351v13M965.5 522v12M968.5 494v9M969.5 381v5M969.5 425v40M970.5 371v2M971.5 381v5M971.5 425v40M972.5 494v9M977.5 362v8M977.5 467v33M978.5 338v1M979.5 344v4M980.5 396v7M981.5 453v6M982.5 495v5M983.5 352v8M984.5 332v1M985.5 352v8M986.5 502v17M997.5 403v6M997.5 476v9M1007.5 508v8M1008.5 500v4M1009.5 508v8M1018.5 385v16M1018.5 464v12M1019.5 364v3M1019.5 483v3M1020.5 385v16M1020.5 464v12M1025.5 376v1M1030.5 349v22M1030.5 487v6M1031.5 497v2M1032.5 349v22M1032.5 487v6M1050.5 354v14M1050.5 518v3M1051.5 522v2M1052.5 354v14M1052.5 518v3M1056.5 377v27M1056.5 450v29M1057.5 494v5M1058.5 377v27M1058.5 450v29M1072.5 503v4M1073.5 499v2M1074.5 503v4M1090.5 456v61M1092.5 456v61M1103.5 333v5M1104.5 409v9M1105.5 471v7M1106.5 522v8M1119.5 476v32M1120.5 452v6M1120.5 516v6M1121.5 476v32M1126.5 448v7M1127.5 415v7M1127.5 479v6M1128.5 448v7M1130.5 415v9M1130.5 476v9M1141.5 386v3M1143.5 433v11M1143.5 513v6M1144.5 419v3M1144.5 521v2M1145.5 433v11M1145.5 513v6M1161.5 414v3M1162.5 415v3M1163.5 436v6M1164.5 488v9M1168.5 459v17M1169.5 427v7M1170.5 459v17M1172.5 480v9M1173.5 397v6M1174.5 386v2M1175.5 397v6M1176.5 480v9M1183.5 505v15M1184.5 338v14M1186.5 338v14M1187.5 505v15M1205.5 389v56M1205.5 483v9M1206.5 335v2M1206.5 496v3M1207.5 389v56M1207.5 483v9M1236.5 373v57M1237.5 447v3M1238.5 373v57M1253.5 492v14M1254.5 413v14M1255.5 390v4M1256.5 413v14M1257.5 492v14M1260.5 454v13M1261.5 330v1M1262.5 347v10M1263.5 404v7M1264.5 447v5M1265.5 442v4M1266.5 437v2M1267.5 442v4M1267.5 521v2M1270.5 405v11M1271.5 385v2M1271.5 434v4M1272.5 405v11M1274.5 498v16M1275.5 440v5M1276.5 433v2M1277.5 440v5M1278.5 498v16"/>
<path stroke="#0000af" d="M892.5 401v7M892.5 449v9M912.5 360v3M912.5 454v1M913.5 346v1M913.5 459v1M914.5 360v3M914.5 454v1M930.5 363v19M932.5 363v19M934.5 349v6M934.5 448v2M935.5 331v1M935.5 454v1M936.5 349v6M936.5 448v2M962.5 364v20M962.5 436v7M963.5 333v1M964.5 364v20M964.5 436v7M968.5 503v7M969.5 386v9M969.5 420v5M969.5 465v3M970.5 373v1M971.5 386v9M971.5 420v5M971.5 465v3M972.5 503v7M977.5 500v19M978.5 339v1M979.5 348v4M980.5 403v8M981.5 459v5M982.5 500v5M983.5 360v8M984.5 333v1M985.5 360v8M986.5 519v13M997.5 409v9M997.5 465v11M1007.5 516v7M1008.5 504v4M1009.5 516v7M1018.5 401v27M1018.5 451v13M1019.5 367v2M1019.5 480v3M1020.5 401v27M1020.5 451v13M1025.5 374v2M1030.5 371v37M1030.5 481v6M1031.5 494v3M1032.5 371v37M1032.5 481v6M1050.5 368v18M1050.5 514v4M1051.5 521v1M1052.5 368v18M1052.5 514v4M1056.5 404v46M1057.5 488v6M1058.5 404v46M1072.5 507v4M1073.5 501v2M1074.5 507v4M1090.5 517v17M1092.5 517v17M1103.5 338v7M1104.5 418v8M1105.5 478v5M1106.5 530v4M1120.5 458v9M1120.5 507v9M1127.5 422v8M1127.5 470v9M1130.5 424v12M1130.5 465v11M1141.5 384v2M1143.5 444v7M1143.5 507v6M1144.5 422v3M1144.5 518v3M1145.5 444v7M1145.5 507v6M1161.5 417v2M1162.5 418v2M1163.5 442v5M1164.5 497v5M1168.5 476v58M1169.5 434v10M1170.5 476v58M1172.5 489v9M1173.5 403v9M1174.5 388v2M1175.5 403v9M1176.5 489v9M1183.5 520v9M1184.5 352v16M1186.5 352v16M1187.5 520v9M1205.5 445v38M1206.5 337v2M1206.5 493v3M1207.5 445v38M1237.5 443v4M1253.5 506v8M1254.5 427v9M1255.5 394v5M1256.5 427v9M1257.5 506v8M1260.5 467v9M1261.5 331v2M1262.5 357v6M1263.5 411v5M1264.5 452v4M1265.5 446v2M1266.5 439v1M1266.5 523v7M1267.5 446v2M1267.5 519v2M1271.5 387v4M1271.5 430v4M1274.5 514v9M1275.5 445v3M1276.5 435v2M1277.5 445v3M1278.5 514v9"/>
<path stroke="#0000bf" d="M892.5 408v8M892.5 439v10M912.5 363v4M912.5 452v2M913.5 347v1M913.5 458v1M914.5 363v4M914.5 452v2M930.5 382v27M930.5 457v77M932.5 382v27M932.5 457v77M934.5 355v15M934.5 446v2M935.5 332v1M935.5 453v1M936.5 355v15M936.5 446v2M962.5 384v52M962.5 443v36M963.5 334v1M964.5 384v52M964.5 443v36M968.5 510v6M969.5 395v14M969.5 415v5M969.5 468v3M970.5 374v2M971.5 395v14M971.5 415v5M971.5 468v3M972.5 510v6M977.5 519v15M978.5 340v1M979.5 352v2M980.5 411v4M981.5 464v4M982.5 505v3M983.5 368v8M985.5 368v8M986.5 532v2M997.5 418v9M997.5 453v12M1007.5 523v11M1008.5 508v5M1009.5 523v11M1018.5 428v23M1019.5 369v2M1019.5 476v4M1020.5 428v23M1025.5 373v1M1030.5 408v50M1030.5 473v8M1031.5 492v2M1032.5 408v50M1032.5 473v8M1050.5 386v23M1050.5 512v2M1051.5 519v2M1052.5 386v23M1052.5 512v2M1057.5 482v6M1072.5 511v3M1073.5 503v2M1074.5 511v3M1102.5 445v30M1102.5 506v28M1103.5 345v8M1104.5 426v5M1105.5 483v4M1120.5 467v8M1120.5 498v9M1127.5 430v9M1127.5 462v8M1130.5 436v12M1130.5 453v12M1141.5 381v3M1143.5 451v33M1143.5 500v7M1144.5 425v3M1144.5 515v3M1145.5 451v33M1145.5 500v7M1161.5 419v3M1162.5 420v2M1163.5 447v4M1164.5 502v5M1169.5 444v9M1172.5 498v8M1173.5 412v5M1174.5 390v1M1175.5 412v5M1176.5 498v8M1183.5 529v5M1184.5 368v18M1186.5 368v18M1187.5 529v5M1195.5 393v36M1197.5 393v36M1206.5 339v2M1206.5 490v3M1237.5 440v3M1253.5 514v7M1254.5 436v7M1255.5 399v5M1256.5 436v7M1257.5 514v7M1260.5 476v9M1261.5 333v1M1262.5 363v4M1263.5 416v3M1264.5 456v2M1265.5 448v2M1266.5 440v1M1266.5 521v2M1266.5 530v3M1267.5 448v2M1267.5 518v1M1271.5 391v3M1271.5 426v4M1274.5 523v8M1275.5 448v4M1276.5 437v2M1277.5 448v4M1278.5 523v8"/>
<path stroke="#0000cf" d="M892.5 416v8M892.5 429v10M912.5 367v4M912.5 450v2M913.5 348v1M913.5 457v1M914.5 367v4M914.5 450v2M930.5 409v12M930.5 439v18M932.5 409v12M932.5 439v18M934.5 370v14M934.5 445v1M935.5 333v1M935.5 452v1M936.5 370v14M936.5 445v1M962.5 479v3M964.5 479v3M968.5 516v8M969.5 409v6M969.5 471v2M970.5 376v1M971.5 409v6M971.5 471v2M972.5 516v8M978.5 341v1M979.5 354v2M980.5 415v3M981.5 468v3M982.5 508v3M983.5 376v9M984.5 334v1M985.5 376v9M997.5 427v8M997.5 442v11M1008.5 513v4M1019.5 371v3M1019.5 472v4M1025.5 371v2M1030.5 458v15M1031.5 489v3M1032.5 458v15M1050.5 409v24M1050.5 509v3M1051.5 518v1M1052.5 409v24M1052.5 509v3M1057.5 477v5M1072.5 514v2M1073.5 505v2M1074.5 514v2M1091.5 330v1M1102.5 432v13M1102.5 475v31M1103.5 353v4M1104.5 431v5M1105.5 487v4M1120.5 475v9M1120.5 489v9M1127.5 439v9M1127.5 453v9M1130.5 448v5M1141.5 378v3M1143.5 484v16M1144.5 428v3M1144.5 512v3M1145.5 484v16M1161.5 422v2M1162.5 422v2M1163.5 451v4M1164.5 507v6M1169.5 453v9M1172.5 506v28M1173.5 417v4M1174.5 391v2M1175.5 417v4M1176.5 506v28M1184.5 386v8M1186.5 386v8M1195.5 388v5M1195.5 429v21M1197.5 388v5M1197.5 429v21M1206.5 341v2M1206.5 486v4M1237.5 436v4M1253.5 521v8M1254.5 443v8M1255.5 404v4M1256.5 443v8M1257.5 521v8M1260.5 485v16M1261.5 334v1M1262.5 367v6M1263.5 419v3M1264.5 458v2M1265.5 450v2M1266.5 441v1M1266.5 520v1M1266.5 533v1M1267.5 450v2M1267.5 517v1M1271.5 394v3M1271.5 423v3M1274.5 531v3M1275.5 452v3M1276.5 439v2M1277.5 452v3M1278.5 531v3"/>
<path stroke="#0000df" d="M892.5 424v5M912.5 371v3M912.5 448v2M913.5 349v1M913.5 456v1M914.5 371v3M914.5 448v2M930.5 421v18M932.5 421v18M934.5 384v7M934.5 443v2M935.5 334v1M935.5 451v1M936.5 384v7M936.5 443v2M962.5 482v4M963.5 335v1M964.5 482v4M968.5 524v8M969.5 473v2M970.5 377v1M970.5 431v34M971.5 473v2M972.5 524v8M978.5 342v1M979.5 356v2M980.5 418v5M981.5 471v4M982.5 511v4M983.5 385v10M985.5 385v10M997.5 435v7M1008.5 517v5M1019.5 374v2M1019.5 468v4M1025.5 370v1M1031.5 487v2M1050.5 433v13M1050.5 506v3M1051.5 517v1M1052.5 433v13M1052.5 506v3M1057.5 471v6M1072.5 516v4M1073.5 507v2M1074.5 516v4M1091.5 331v203M1102.5 420v12M1103.5 357v4M1104.5 436v7M1105.5 491v5M1120.5 484v5M1127.5 448v5M1141.5 375v3M1144.5 431v4M1144.5 509v3M1161.5 424v3M1162.5 424v1M1163.5 455v4M1164.5 513v4M1169.5 462v9M1169.5 498v36M1173.5 421v4M1174.5 393v1M1175.5 421v4M1184.5 394v4M1186.5 394v4M1195.5 384v4M1195.5 450v34M1197.5 384v4M1197.5 450v34M1206.5 343v2M1206.5 483v3M1237.5 433v3M1253.5 529v5M1254.5 451v8M1255.5 408v5M1256.5 451v8M1257.5 529v5M1260.5 501v14M1261.5 335v4M1262.5 373v6M1263.5 422v3M1264.5 460v2M1265.5 452v2M1266.5 442v1M1267.5 452v2M1267.5 516v1M1271.5 397v3M1271.5 419v4M1275.5 455v5M1276.5 441v1M1277.5 455v5"/>
<path stroke="#0000ef" d="M912.5 374v2M912.5 446v2M913.5 350v1M913.5 455v1M914.5 374v2M914.5 446v2M931.5 526v8M934.5 391v8M934.5 441v2M935.5 450v1M936.5 391v8M936.5 441v2M962.5 486v2M963.5 336v1M964.5 486v2M968.5 532v2M969.5 475v2M970.5 378v1M970.5 428v3M970.5 465v2M971.5 475v2M972.5 532v2M978.5 343v1M979.5 358v2M980.5 423v4M981.5 475v3M982.5 515v3M983.5 395v6M984.5 335v1M985.5 395v6M1008.5 522v12M1019.5 376v2M1019.5 464v4M1025.5 369v1M1031.5 484v3M1050.5 446v17M1050.5 503v3M1051.5 515v2M1052.5 446v17M1052.5 503v3M1057.5 465v6M1072.5 520v14M1073.5 509v2M1074.5 520v14M1102.5 409v11M1103.5 361v5M1104.5 443v5M1105.5 496v4M1141.5 372v3M1144.5 435v3M1144.5 507v2M1161.5 427v2M1161.5 526v8M1162.5 425v2M1163.5 459v4M1164.5 517v4M1169.5 471v27M1173.5 425v6M1174.5 394v2M1175.5 425v6M1184.5 398v4M1186.5 398v4M1195.5 330v9M1195.5 380v4M1195.5 484v22M1197.5 330v9M1197.5 380v4M1197.5 484v22M1206.5 345v2M1206.5 480v3M1237.5 429v4M1254.5 459v4M1255.5 413v5M1256.5 459v4M1260.5 515v11M1261.5 339v11M1262.5 379v3M1263.5 425v2M1264.5 462v2M1265.5 454v2M1266.5 443v1M1266.5 519v1M1267.5 454v2M1267.5 514v2M1271.5 400v4M1271.5 415v4M1275.5 460v4M1276.5 442v2M1277.5 460v4"/>
<path stroke="#0000ff" d="M912.5 376v2M912.5 445v1M913.5 351v1M913.5 454v1M914.5 376v2M914.5 445v1M931.5 508v18M934.5 399v15M934.5 438v3M935.5 335v2M935.5 449v1M936.5 399v15M936.5 438v3M962.5 488v3M964.5 488v3M969.5 477v1M970.5 379v2M970.5 426v2M970.5 467v2M971.5 477v1M978.5 344v2M979.5 360v3M980.5 427v3M981.5 478v3M982.5 518v4M983.5 401v6M985.5 401v6M1019.5 378v3M1019.5 460v4M1025.5 367v2M1031.5 481v3M1050.5 463v27M1050.5 500v3M1051.5 514v1M1052.5 463v27M1052.5 500v3M1057.5 459v6M1073.5 511v2M1102.5 394v15M1103.5 366v8M1104.5 448v4M1105.5 500v3M1141.5 369v3M1144.5 438v3M1144.5 504v3M1161.5 429v3M1161.5 506v20M1162.5 427v2M1163.5 463v2M1164.5 521v5M1173.5 431v7M1174.5 396v1M1175.5 431v7M1184.5 402v4M1186.5 402v4M1195.5 339v12M1195.5 371v9M1195.5 506v28M1197.5 339v12M1197.5 371v9M1197.5 506v28M1206.5 347v3M1206.5 476v4M1237.5 426v3M1254.5 463v3M1255.5 418v5M1256.5 463v3M1260.5 526v7M1261.5 350v13M1262.5 382v4M1263.5 427v3M1264.5 464v2M1265.5 456v6M1266.5 444v1M1266.5 518v1M1267.5 456v6M1267.5 513v1M1271.5 404v11M1275.5 464v3M1276.5 444v2M1277.5 464v3"/>
<path stroke="#0010ff" d="M912.5 378v2M912.5 443v2M913.5 352v1M913.5 453v1M914.5 378v2M914.5 443v2M931.5 491v17M934.5 414v24M935.5 337v1M935.5 448v1M936.5 414v24M962.5 491v2M963.5 337v1M963.5 469v5M964.5 491v2M969.5 478v2M970.5 381v1M970.5 425v1M970.5 469v1M971.5 478v2M978.5 346v2M979.5 363v2M980.5 430v3M981.5 481v2M982.5 522v4M983.5 407v7M984.5 336v1M985.5 407v7M1019.5 381v2M1019.5 457v3M1025.5 366v1M1031.5 479v2M1050.5 490v10M1051.5 512v2M1052.5 490v10M1057.5 454v5M1073.5 513v2M1102.5 386v8M1103.5 374v6M1104.5 452v3M1105.5 503v3M1141.5 366v3M1144.5 441v4M1144.5 500v4M1161.5 432v2M1161.5 491v15M1162.5 429v1M1163.5 465v3M1164.5 526v4M1173.5 438v7M1174.5 397v2M1175.5 438v7M1184.5 406v5M1186.5 406v5M1195.5 351v20M1197.5 351v20M1206.5 350v2M1206.5 421v55M1237.5 422v4M1254.5 466v3M1255.5 423v6M1256.5 466v3M1260.5 533v1M1261.5 363v14M1262.5 386v3M1263.5 430v2M1264.5 466v2M1265.5 462v5M1266.5 445v1M1266.5 517v1M1267.5 462v5M1267.5 512v1M1275.5 467v4M1276.5 446v2M1277.5 467v4"/>
<path stroke="#0020ff" d="M912.5 380v3M912.5 441v2M913.5 353v1M913.5 452v1M914.5 380v3M914.5 441v2M931.5 474v17M935.5 338v1M962.5 493v3M963.5 338v1M963.5 458v11M963.5 474v4M964.5 493v3M969.5 480v1M970.5 382v1M970.5 423v2M970.5 470v1M971.5 480v1M978.5 348v2M979.5 365v4M980.5 433v2M981.5 483v3M982.5 526v4M983.5 414v7M984.5 337v1M985.5 414v7M1019.5 383v2M1019.5 453v4M1025.5 364v2M1031.5 476v3M1051.5 511v1M1057.5 448v6M1073.5 515v3M1102.5 378v8M1103.5 380v5M1104.5 455v3M1105.5 506v4M1141.5 347v19M1144.5 445v3M1144.5 481v19M1161.5 434v4M1161.5 480v11M1162.5 430v2M1163.5 468v3M1164.5 530v4M1173.5 445v6M1174.5 399v2M1175.5 445v6M1184.5 411v9M1186.5 411v9M1206.5 352v69M1237.5 419v3M1254.5 469v3M1255.5 429v5M1256.5 469v3M1261.5 377v17M1262.5 389v4M1263.5 432v1M1264.5 468v1M1265.5 467v4M1266.5 446v1M1266.5 516v1M1267.5 467v4M1267.5 509v3M1275.5 471v3M1276.5 448v2M1277.5 471v3"/>
<path stroke="#0030ff" d="M912.5 383v2M912.5 439v2M913.5 354v1M914.5 383v2M914.5 439v2M931.5 461v13M935.5 339v1M935.5 447v1M962.5 496v3M963.5 339v1M963.5 446v12M963.5 478v2M964.5 496v3M969.5 481v2M970.5 383v1M970.5 422v1M970.5 471v2M971.5 481v2M978.5 350v2M979.5 369v2M980.5 435v3M981.5 486v2M982.5 530v4M983.5 421v8M984.5 338v1M985.5 421v8M1019.5 385v3M1019.5 449v4M1025.5 363v1M1031.5 470v6M1051.5 509v2M1057.5 442v6M1073.5 518v16M1102.5 370v8M1103.5 385v5M1104.5 458v3M1105.5 510v4M1141.5 330v17M1144.5 448v33M1161.5 438v42M1162.5 432v2M1163.5 471v3M1173.5 451v4M1174.5 401v2M1175.5 451v4M1184.5 420v11M1184.5 454v13M1186.5 420v11M1186.5 454v13M1237.5 415v4M1254.5 472v3M1255.5 434v6M1256.5 472v3M1261.5 394v18M1262.5 393v3M1263.5 433v2M1264.5 469v1M1265.5 471v5M1266.5 447v1M1266.5 515v1M1267.5 471v5M1267.5 505v4M1275.5 474v4M1276.5 450v2M1277.5 474v4"/>
<path stroke="#0040ff" d="M912.5 385v4M912.5 436v3M913.5 355v1M913.5 451v1M914.5 385v4M914.5 436v3M931.5 457v4M935.5 340v1M935.5 446v1M962.5 499v4M963.5 340v2M963.5 437v9M963.5 480v3M964.5 499v4M969.5 483v1M970.5 384v2M970.5 420v2M970.5 473v1M971.5 483v1M978.5 352v2M979.5 371v4M980.5 438v2M981.5 488v3M983.5 429v8M984.5 339v1M985.5 429v8M1019.5 388v7M1019.5 445v4M1025.5 361v2M1031.5 456v14M1051.5 508v1M1057.5 436v6M1102.5 360v10M1103.5 390v6M1104.5 461v4M1105.5 514v5M1162.5 434v1M1163.5 474v3M1173.5 455v4M1174.5 403v2M1175.5 455v4M1184.5 431v23M1184.5 467v7M1186.5 431v23M1186.5 467v7M1196.5 528v6M1237.5 412v3M1254.5 475v3M1255.5 440v6M1256.5 475v3M1261.5 412v7M1262.5 396v4M1263.5 435v2M1264.5 470v2M1265.5 476v4M1266.5 448v1M1267.5 476v4M1267.5 498v7M1275.5 478v3M1276.5 452v2M1277.5 478v3"/>
<path stroke="#0050ff" d="M912.5 389v4M912.5 434v2M913.5 356v1M913.5 450v1M914.5 389v4M914.5 434v2M931.5 330v4M931.5 452v5M935.5 341v1M935.5 445v1M962.5 503v8M963.5 342v2M963.5 432v5M963.5 483v2M964.5 503v8M969.5 484v2M970.5 386v1M970.5 418v2M970.5 474v1M971.5 484v2M978.5 354v2M979.5 375v3M980.5 440v3M981.5 491v3M983.5 437v7M984.5 340v2M985.5 437v7M1019.5 395v23M1019.5 441v4M1025.5 360v1M1031.5 443v13M1051.5 507v1M1057.5 431v5M1102.5 349v11M1103.5 396v11M1104.5 465v4M1105.5 519v4M1162.5 435v2M1163.5 477v5M1173.5 459v3M1174.5 405v3M1175.5 459v3M1184.5 474v9M1186.5 474v9M1196.5 500v28M1237.5 408v4M1254.5 478v2M1255.5 446v5M1256.5 478v2M1261.5 419v7M1262.5 400v4M1263.5 437v2M1264.5 472v1M1265.5 480v4M1266.5 449v1M1266.5 514v1M1267.5 480v4M1267.5 492v6M1275.5 481v4M1276.5 454v2M1277.5 481v4"/>
<path stroke="#0060ff" d="M912.5 393v5M912.5 432v2M913.5 357v1M913.5 449v1M914.5 393v5M914.5 432v2M931.5 334v5M931.5 448v4M935.5 342v2M935.5 444v1M962.5 511v9M963.5 344v1M963.5 427v5M963.5 485v2M964.5 511v9M969.5 486v3M970.5 387v2M970.5 417v1M970.5 475v2M971.5 486v3M978.5 356v2M979.5 378v4M980.5 443v3M981.5 494v2M983.5 444v5M984.5 342v3M985.5 444v5M1019.5 418v23M1025.5 358v2M1031.5 429v14M1051.5 505v2M1057.5 420v11M1102.5 338v11M1103.5 407v18M1103.5 435v17M1104.5 469v3M1105.5 523v5M1162.5 437v3M1163.5 482v5M1173.5 462v3M1174.5 408v3M1175.5 462v3M1184.5 483v8M1186.5 483v8M1196.5 471v29M1237.5 405v3M1254.5 480v3M1255.5 451v6M1256.5 480v3M1261.5 426v6M1262.5 404v5M1263.5 439v2M1264.5 473v1M1265.5 484v12M1265.5 509v1M1265.5 516v2M1266.5 450v1M1266.5 513v1M1267.5 484v8M1275.5 485v5M1276.5 456v4M1277.5 485v5"/>
<path stroke="#0070ff" d="M912.5 398v4M912.5 429v3M913.5 358v1M913.5 448v1M914.5 398v4M914.5 429v3M931.5 339v4M931.5 444v4M935.5 344v1M935.5 443v1M962.5 520v8M963.5 345v2M963.5 422v5M963.5 487v3M964.5 520v8M969.5 489v3M970.5 389v3M970.5 415v2M970.5 477v1M971.5 489v3M978.5 358v2M978.5 424v8M979.5 382v4M980.5 446v3M981.5 496v4M983.5 449v7M984.5 345v3M985.5 449v7M1025.5 354v4M1031.5 415v14M1051.5 504v1M1057.5 375v45M1102.5 330v8M1103.5 425v10M1103.5 452v9M1104.5 472v4M1105.5 528v5M1162.5 440v5M1163.5 487v6M1173.5 465v2M1174.5 411v3M1175.5 465v2M1184.5 491v10M1186.5 491v10M1196.5 442v29M1237.5 399v6M1254.5 483v3M1255.5 457v5M1256.5 483v3M1261.5 432v6M1262.5 409v4M1263.5 441v1M1264.5 474v2M1265.5 496v13M1265.5 510v6M1265.5 518v2M1266.5 451v1M1266.5 512v1M1275.5 490v11M1276.5 460v3M1277.5 490v11"/>
<path stroke="#0080ff" d="M912.5 402v13M912.5 426v3M913.5 359v1M913.5 447v1M914.5 402v13M914.5 426v3M931.5 343v5M931.5 440v4M935.5 345v1M962.5 528v6M963.5 347v2M963.5 417v5M963.5 490v2M964.5 528v6M969.5 492v4M970.5 392v23M970.5 478v2M971.5 492v4M978.5 360v2M978.5 400v24M978.5 432v38M979.5 386v5M980.5 449v3M981.5 500v3M983.5 456v9M984.5 348v2M985.5 456v9M1025.5 340v14M1031.5 400v15M1051.5 502v2M1057.5 330v45M1103.5 461v10M1104.5 476v4M1105.5 533v1M1162.5 445v6M1163.5 493v9M1173.5 467v2M1174.5 414v3M1175.5 467v2M1184.5 501v10M1186.5 501v10M1196.5 415v27M1237.5 378v21M1254.5 486v5M1255.5 462v3M1256.5 486v5M1261.5 438v6M1262.5 413v3M1263.5 442v2M1264.5 476v1M1265.5 520v3M1266.5 452v1M1266.5 510v2M1275.5 501v11M1276.5 463v4M1277.5 501v11"/>
<path stroke="#008fff" d="M912.5 415v11M913.5 360v1M914.5 415v11M931.5 348v5M931.5 435v5M935.5 346v1M935.5 442v1M963.5 349v2M963.5 412v5M963.5 492v2M969.5 496v4M970.5 480v1M971.5 496v4M978.5 362v3M978.5 380v20M978.5 470v28M978.5 506v28M979.5 391v5M980.5 452v2M981.5 503v4M983.5 465v12M984.5 350v3M985.5 465v12M1025.5 330v10M1031.5 368v32M1051.5 500v2M1103.5 471v9M1103.5 512v22M1104.5 480v4M1162.5 451v6M1162.5 530v4M1163.5 502v12M1173.5 469v2M1174.5 417v2M1175.5 469v2M1184.5 511v10M1186.5 511v10M1196.5 409v6M1237.5 352v26M1254.5 491v9M1255.5 465v3M1256.5 491v9M1261.5 444v5M1262.5 416v3M1263.5 444v2M1264.5 477v2M1265.5 523v2M1266.5 453v2M1266.5 508v2M1275.5 512v13M1276.5 467v4M1277.5 512v13"/>
<path stroke="#009fff" d="M913.5 446v1M931.5 353v5M931.5 431v4M935.5 347v2M935.5 441v1M963.5 351v4M963.5 407v5M963.5 494v3M969.5 500v3M970.5 481v1M971.5 500v3M978.5 365v15M978.5 498v8M979.5 396v5M980.5 454v4M981.5 507v4M983.5 477v14M984.5 353v3M985.5 477v14M1031.5 330v38M1051.5 497v3M1103.5 480v32M1104.5 484v6M1162.5 457v7M1162.5 509v21M1163.5 514v20M1173.5 471v2M1174.5 419v3M1175.5 471v2M1184.5 521v12M1185.5 330v5M1186.5 521v12M1196.5 405v4M1237.5 330v22M1254.5 500v9M1255.5 468v3M1256.5 500v9M1261.5 449v5M1262.5 419v3M1263.5 446v2M1264.5 479v1M1265.5 525v3M1266.5 455v2M1266.5 505v3M1275.5 525v9M1276.5 471v4M1277.5 525v9"/>
<path stroke="#00afff" d="M913.5 361v1M913.5 445v1M931.5 358v6M931.5 426v5M935.5 349v1M935.5 440v1M963.5 355v37M963.5 401v6M963.5 497v3M969.5 503v4M970.5 482v2M971.5 503v4M979.5 401v7M980.5 458v3M981.5 511v5M983.5 491v22M984.5 356v2M985.5 491v22M1051.5 479v18M1104.5 490v14M1162.5 464v10M1162.5 485v24M1173.5 473v1M1174.5 422v4M1175.5 473v1M1184.5 533v1M1185.5 335v14M1186.5 533v1M1196.5 401v4M1254.5 509v10M1255.5 471v3M1256.5 509v10M1261.5 454v5M1262.5 422v3M1263.5 448v1M1264.5 480v2M1265.5 528v2M1266.5 457v3M1266.5 502v3M1276.5 475v3"/>
<path stroke="#00bfff" d="M913.5 362v2M913.5 444v1M931.5 364v62M935.5 350v1M935.5 438v2M963.5 392v9M963.5 500v13M969.5 507v5M970.5 484v1M971.5 507v5M979.5 408v9M980.5 461v3M981.5 516v5M983.5 513v21M984.5 358v3M985.5 513v21M1051.5 456v23M1104.5 504v20M1162.5 474v11M1173.5 474v2M1174.5 426v5M1175.5 474v2M1185.5 349v15M1196.5 397v4M1254.5 519v10M1255.5 474v3M1256.5 519v10M1261.5 459v4M1262.5 425v3M1263.5 449v2M1264.5 482v3M1265.5 530v3M1266.5 460v6M1266.5 498v4M1276.5 478v4"/>
<path stroke="#00cfff" d="M913.5 364v1M913.5 443v1M935.5 351v3M935.5 437v1M963.5 513v17M969.5 512v13M970.5 485v2M971.5 512v13M979.5 417v10M980.5 464v4M981.5 521v5M984.5 361v3M1051.5 433v23M1104.5 524v10M1173.5 476v3M1173.5 530v4M1174.5 431v7M1175.5 476v3M1175.5 530v4M1185.5 364v19M1196.5 394v3M1254.5 529v5M1255.5 477v3M1256.5 529v5M1261.5 463v4M1262.5 428v3M1263.5 451v2M1264.5 485v2M1265.5 533v1M1266.5 466v6M1266.5 495v3M1276.5 482v4"/>
<path stroke="#00dfff" d="M913.5 365v1M913.5 442v1M935.5 354v9M935.5 430v7M963.5 530v4M969.5 525v9M970.5 487v3M971.5 525v9M979.5 427v6M980.5 468v4M981.5 526v6M984.5 364v3M1051.5 396v37M1173.5 479v2M1173.5 526v4M1174.5 438v7M1175.5 479v2M1175.5 526v4M1185.5 383v8M1185.5 460v25M1196.5 392v2M1255.5 480v3M1261.5 467v3M1262.5 431v2M1263.5 453v2M1264.5 487v3M1266.5 472v6M1266.5 492v3M1276.5 486v32"/>
<path stroke="#00efff" d="M913.5 366v1M913.5 441v1M935.5 363v15M935.5 419v11M970.5 490v5M979.5 433v7M980.5 472v4M981.5 532v2M984.5 367v4M1051.5 330v66M1173.5 481v5M1173.5 522v4M1174.5 445v7M1175.5 481v5M1175.5 522v4M1185.5 391v3M1185.5 456v4M1185.5 485v35M1196.5 391v1M1255.5 483v3M1261.5 470v4M1262.5 433v3M1263.5 455v1M1264.5 490v2M1266.5 478v7M1266.5 487v5M1276.5 518v16"/>
<path stroke="#00ffff" d="M913.5 367v1M913.5 440v1M935.5 378v15M935.5 407v12M970.5 495v4M979.5 440v9M980.5 476v5M984.5 371v4M1173.5 486v4M1173.5 519v3M1174.5 452v7M1175.5 486v4M1175.5 519v3M1185.5 394v3M1185.5 452v4M1185.5 520v14M1196.5 389v2M1255.5 486v13M1261.5 474v3M1262.5 436v4M1263.5 456v2M1264.5 492v3M1266.5 485v2"/>
<path stroke="#10ffef" d="M913.5 368v1M913.5 438v2M935.5 393v14M970.5 499v5M979.5 449v8M980.5 481v5M984.5 375v4M1173.5 490v6M1173.5 514v5M1174.5 459v4M1175.5 490v6M1175.5 514v5M1185.5 397v3M1185.5 448v4M1255.5 499v23M1261.5 477v57M1262.5 440v2M1263.5 458v2M1264.5 495v3"/>
<path stroke="#20ffdf" d="M913.5 369v2M913.5 437v1M970.5 504v4M979.5 457v12M980.5 486v6M984.5 379v4M984.5 529v5M1173.5 496v18M1174.5 463v2M1174.5 533v1M1175.5 496v18M1185.5 400v3M1185.5 445v3M1196.5 388v1M1255.5 522v12M1262.5 442v3M1263.5 460v2M1264.5 498v3"/>
<path stroke="#30ffcf" d="M913.5 371v1M913.5 436v1M970.5 508v26M979.5 469v15M979.5 531v3M980.5 492v6M984.5 383v3M984.5 512v17M1174.5 465v2M1174.5 530v3M1185.5 403v4M1185.5 441v4M1196.5 387v1M1262.5 445v3M1263.5 462v2M1264.5 501v3"/>
<path stroke="#40ffbf" d="M913.5 372v1M913.5 435v1M979.5 484v47M980.5 498v14M984.5 386v8M984.5 495v17M1174.5 467v2M1174.5 527v3M1185.5 407v34M1196.5 386v1M1262.5 448v3M1263.5 464v1M1264.5 504v3"/>
<path stroke="#50ffaf" d="M913.5 373v2M913.5 433v2M980.5 512v22M984.5 394v19M984.5 480v15M1174.5 469v2M1174.5 524v3M1196.5 385v1M1262.5 451v3M1263.5 465v2M1264.5 507v4"/>
<path stroke="#60ff9f" d="M913.5 375v1M913.5 432v1M984.5 413v19M984.5 465v15M1174.5 471v2M1174.5 522v2M1196.5 384v1M1262.5 454v3M1263.5 467v2M1264.5 511v4"/>
<path stroke="#70ff8f" d="M913.5 376v1M913.5 431v1M984.5 432v33M1174.5 473v2M1174.5 519v3M1196.5 383v1M1262.5 457v3M1263.5 469v1M1264.5 515v3"/>
<path stroke="#80ff80" d="M913.5 377v2M913.5 430v1M1174.5 475v3M1174.5 516v3M1196.5 382v1M1262.5 460v3M1263.5 470v2M1264.5 518v5"/>
<path stroke="#8fff70" d="M913.5 379v1M913.5 428v2M1174.5 478v3M1174.5 513v3M1262.5 463v2M1263.5 472v2M1264.5 523v4"/>
<path stroke="#9fff60" d="M913.5 380v1M913.5 427v1M1174.5 481v7M1174.5 507v6M1196.5 381v1M1262.5 465v3M1263.5 474v2M1264.5 527v5"/>
<path stroke="#afff50" d="M913.5 381v2M913.5 425v2M1174.5 488v19M1196.5 380v1M1262.5 468v2M1263.5 476v2M1264.5 532v2"/>
<path stroke="#bfff40" d="M913.5 383v2M913.5 422v3M1196.5 379v1M1262.5 470v3M1263.5 478v2"/>
<path stroke="#cfff30" d="M913.5 385v4M913.5 418v4M1196.5 378v1M1262.5 473v2M1263.5 480v5"/>
<path stroke="#dfff20" d="M913.5 389v5M913.5 414v4M1196.5 376v2M1262.5 475v3M1262.5 509v25M1263.5 485v8"/>
<path stroke="#efff10" d="M913.5 394v6M913.5 410v4M1196.5 375v1M1262.5 478v31M1263.5 493v11"/>
<path stroke="#ffff00" d="M913.5 400v10M1196.5 373v2M1263.5 504v16"/>
<path stroke="#ffef00" d="M1196.5 371v2M1263.5 520v14"/>
<path stroke="#ffdf00" d="M1196.5 369v2"/>
<path stroke="#ffcf00" d="M1196.5 366v3"/>
<path stroke="#ffbf00" d="M1196.5 364v2"/>
<path stroke="#ffaf00" d="M1196.5 362v2"/>
<path stroke="#ff9f00" d="M1196.5 359v3"/>
<path stroke="#ff8f00" d="M1196.5 354v5"/>
<path stroke="#ff8000" d="M1196.5 334v20"/>
<path stroke="#ff7000" d="M1196.5 330v4"/>
</g>
<path d="M837 331.5h6M1440 331.5h-6M837 348.5h6M1440 348.5h-6M837 367.5h6M1440 367.5h-6M837 387.5h6M1440 387.5h-6M837 411.5h6M1440 411.5h-6M837 437.5h6M1440 437.5h-6M837 469.5h6M1440 469.5h-6M837 488.5h6M1440 488.5h-6M837 508.5h6M1440 508.5h-6M837 532.5h6M1440 532.5h-6M912.5 534.5v-5M912.5 330v5M987.5 534.5v-5M987.5 330v5M1063.5 534.5v-5M1063.5 330v5M1138.5 534.5v-5M1138.5 330v5M1214.5 534.5v-5M1214.5 330v5M1289.5 534.5v-5M1289.5 330v5M1364.5 534.5v-5M1364.5 330v5" stroke="#000020" stroke-opacity="0.6" stroke-width="1" fill="none"/>
<text x="832.5" y="336.6" text-anchor="end" font-size="12.5">22</text>
<text x="832.5" y="353.20000000000005" text-anchor="end" font-size="12.5">20</text>
<text x="832.5" y="371.70000000000005" text-anchor="end" font-size="12.5">18</text>
<text x="832.5" y="392.3" text-anchor="end" font-size="12.5">16</text>
<text x="832.5" y="415.6" text-anchor="end" font-size="12.5">14</text>
<text x="832.5" y="442.6" text-anchor="end" font-size="12.5">12</text>
<text x="832.5" y="474.5" text-anchor="end" font-size="12.5">10</text>
<text x="832.5" y="492.90000000000003" text-anchor="end" font-size="12.5">9</text>
<text x="832.5" y="513.5" text-anchor="end" font-size="12.5">8</text>
<text x="832.5" y="536.9" text-anchor="end" font-size="12.5">7</text>
<text x="836.5" y="549.3" text-anchor="middle" font-size="12.5">00:00</text>
<text x="912.5" y="549.3" text-anchor="middle" font-size="12.5">03:00</text>
<text x="987.5" y="549.3" text-anchor="middle" font-size="12.5">06:00</text>
<text x="1063.5" y="549.3" text-anchor="middle" font-size="12.5">09:00</text>
<text x="1138.5" y="549.3" text-anchor="middle" font-size="12.5">12:00</text>
<text x="1214.5" y="549.3" text-anchor="middle" font-size="12.5">15:00</text>
<text x="1289.5" y="549.3" text-anchor="middle" font-size="12.5">18:00</text>
<text x="1364.5" y="549.3" text-anchor="middle" font-size="12.5">21:00</text>
<text x="1440.5" y="549.3" text-anchor="middle" font-size="12.5">00:00</text>
<text x="810" y="432.3" text-anchor="middle" font-weight="bold" transform="rotate(-90 810 432.3)" font-size="12.5">freq (mHz)</text>
<g shape-rendering="crispEdges">
<rect x="1458" y="330" width="26" height="3" fill="#800000"/>
<rect x="1458" y="333" width="26" height="3" fill="#8f0000"/>
<rect x="1458" y="336" width="26" height="4" fill="#9f0000"/>
<rect x="1458" y="340" width="26" height="3" fill="#af0000"/>
<rect x="1458" y="343" width="26" height="3" fill="#bf0000"/>
<rect x="1458" y="346" width="26" height="3" fill="#cf0000"/>
<rect x="1458" y="349" width="26" height="3" fill="#df0000"/>
<rect x="1458" y="352" width="26" height="4" fill="#ef0000"/>
<rect x="1458" y="356" width="26" height="3" fill="#ff0000"/>
<rect x="1458" y="359" width="26" height="3" fill="#ff1000"/>
<rect x="1458" y="362" width="26" height="3" fill="#ff2000"/>
<rect x="1458" y="365" width="26" height="3" fill="#ff3000"/>
<rect x="1458" y="368" width="26" height="3" fill="#ff4000"/>
<rect x="1458" y="371" width="26" height="4" fill="#ff5000"/>
<rect x="1458" y="375" width="26" height="3" fill="#ff6000"/>
<rect x="1458" y="378" width="26" height="3" fill="#ff7000"/>
<rect x="1458" y="381" width="26" height="3" fill="#ff8000"/>
<rect x="1458" y="384" width="26" height="3" fill="#ff8f00"/>
<rect x="1458" y="387" width="26" height="4" fill="#ff9f00"/>
<rect x="1458" y="391" width="26" height="3" fill="#ffaf00"/>
<rect x="1458" y="394" width="26" height="3" fill="#ffbf00"/>
<rect x="1458" y="397" width="26" height="3" fill="#ffcf00"/>
<rect x="1458" y="400" width="26" height="3" fill="#ffdf00"/>
<rect x="1458" y="403" width="26" height="4" fill="#ffef00"/>
<rect x="1458" y="407" width="26" height="3" fill="#ffff00"/>
<rect x="1458" y="410" width="26" height="3" fill="#efff10"/>
<rect x="1458" y="413" width="26" height="3" fill="#dfff20"/>
<rect x="1458" y="416" width="26" height="3" fill="#cfff30"/>
<rect x="1458" y="419" width="26" height="3" fill="#bfff40"/>
<rect x="1458" y="422" width="26" height="4" fill="#afff50"/>
<rect x="1458" y="426" width="26" height="3" fill="#9fff60"/>
<rect x="1458" y="429" width="26" height="3" fill="#8fff70"/>
<rect x="1458" y="432" width="26" height="3" fill="#80ff80"/>
<rect x="1458" y="435" width="26" height="3" fill="#70ff8f"/>
<rect x="1458" y="438" width="26" height="4" fill="#60ff9f"/>
<rect x="1458" y="442" width="26" height="3" fill="#50ffaf"/>
<rect x="1458" y="445" width="26" height="3" fill="#40ffbf"/>
<rect x="1458" y="448" width="26" height="3" fill="#30ffcf"/>
<rect x="1458" y="451" width="26" height="3" fill="#20ffdf"/>
<rect x="1458" y="454" width="26" height="4" fill="#10ffef"/>
<rect x="1458" y="458" width="26" height="3" fill="#00ffff"/>
<rect x="1458" y="461" width="26" height="3" fill="#00efff"/>
<rect x="1458" y="464" width="26" height="3" fill="#00dfff"/>
<rect x="1458" y="467" width="26" height="3" fill="#00cfff"/>
<rect x="1458" y="470" width="26" height="3" fill="#00bfff"/>
<rect x="1458" y="473" width="26" height="4" fill="#00afff"/>
<rect x="1458" y="477" width="26" height="3" fill="#009fff"/>
<rect x="1458" y="480" width="26" height="3" fill="#008fff"/>
<rect x="1458" y="483" width="26" height="3" fill="#0080ff"/>
<rect x="1458" y="486" width="26" height="3" fill="#0070ff"/>
<rect x="1458" y="489" width="26" height="4" fill="#0060ff"/>
<rect x="1458" y="493" width="26" height="3" fill="#0050ff"/>
<rect x="1458" y="496" width="26" height="3" fill="#0040ff"/>
<rect x="1458" y="499" width="26" height="3" fill="#0030ff"/>
<rect x="1458" y="502" width="26" height="3" fill="#0020ff"/>
<rect x="1458" y="505" width="26" height="4" fill="#0010ff"/>
<rect x="1458" y="509" width="26" height="3" fill="#0000ff"/>
<rect x="1458" y="512" width="26" height="3" fill="#0000ef"/>
<rect x="1458" y="515" width="26" height="3" fill="#0000df"/>
<rect x="1458" y="518" width="26" height="3" fill="#0000cf"/>
<rect x="1458" y="521" width="26" height="3" fill="#0000bf"/>
<rect x="1458" y="524" width="26" height="4" fill="#0000af"/>
<rect x="1458" y="528" width="26" height="3" fill="#00009f"/>
<rect x="1458" y="531" width="26" height="3" fill="#00008f"/>
</g>
<rect x="1458.5" y="330.5" width="25.0" height="204" fill="none" stroke="#303030" stroke-opacity="0.55" stroke-width="1"/>
<path d="M1458.5 364.5h2.5M1483.5 364.5h-2.5M1458.5 398.5h2.5M1483.5 398.5h-2.5M1458.5 432.5h2.5M1483.5 432.5h-2.5M1458.5 466.5h2.5M1483.5 466.5h-2.5M1458.5 500.5h2.5M1483.5 500.5h-2.5" stroke="#202020" stroke-opacity="0.7" stroke-width="1" fill="none"/>
<text x="1487" y="334.9" text-anchor="start" font-size="12.5">4</text>
<text x="1487" y="368.9" text-anchor="start" font-size="12.5">3</text>
<text x="1487" y="402.9" text-anchor="start" font-size="12.5">2</text>
<text x="1487" y="436.9" text-anchor="start" font-size="12.5">1</text>
<text x="1487" y="470.9" text-anchor="start" font-size="12.5">0</text>
<text x="1487" y="504.9" text-anchor="start" font-size="12.5">-1</text>
<text x="1487" y="538.9" text-anchor="start" font-size="12.5">-2</text>
<text transform="rotate(-90 1518 432)" x="1518" y="432" text-anchor="middle" font-weight="bold" font-size="12.5">log<tspan dy="4.5" font-size="10.8">2</tspan><tspan dy="-4.5">(nT</tspan><tspan dy="-6" font-size="10.8">2</tspan><tspan dy="6">/Hz)</tspan></text>
<rect x="836.5" y="614" width="603.5" height="204.5" fill="#00008f"/>
<g stroke-width="1" fill="none" shape-rendering="crispEdges">
<path stroke="#00009f" d="M930.5 789v9M931.5 662v7M931.5 709v12M931.5 779v4M931.5 802v5M932.5 789v9M963.5 675v9M963.5 724v9M1006.5 727v6M1010.5 727v6M1017.5 800v15M1018.5 722v6M1022.5 722v6M1023.5 800v15M1024.5 721v58M1026.5 721v58M1030.5 673v34M1032.5 673v34M1037.5 722v3M1037.5 800v2M1038.5 717v1M1038.5 802v2M1039.5 722v3M1039.5 800v2M1045.5 815v3M1046.5 648v16M1048.5 648v16M1049.5 808v10M1050.5 693v8M1051.5 680v3M1052.5 693v8M1056.5 658v20M1058.5 658v20M1060.5 730v10M1061.5 715v3M1062.5 730v10M1067.5 746v14M1068.5 723v5M1069.5 746v14M1072.5 746v14M1073.5 723v5M1074.5 746v14M1085.5 732v10M1086.5 699v7M1086.5 772v10M1087.5 732v10M1091.5 638v6M1092.5 644v8M1093.5 695v6M1094.5 756v8M1097.5 681v6M1097.5 729v5M1102.5 682v3M1102.5 784v17M1103.5 718v5M1104.5 709v3M1105.5 718v5M1106.5 784v17M1112.5 759v33M1113.5 731v7M1113.5 800v6M1114.5 759v33M1119.5 759v33M1120.5 731v7M1120.5 800v6M1121.5 759v33M1128.5 789v29M1129.5 720v4M1130.5 714v2M1131.5 720v4M1132.5 789v29M1143.5 702v6M1143.5 775v4M1144.5 692v2M1144.5 782v2M1145.5 702v6M1145.5 775v4M1146.5 766v6M1147.5 759v2M1148.5 766v6M1183.5 815v3M1184.5 702v11M1185.5 686v2M1186.5 702v11M1187.5 815v3M1195.5 662v24M1197.5 662v24M1236.5 740v61M1238.5 740v61M1260.5 806v12M1261.5 785v9M1262.5 806v12"/>
<path stroke="#0000af" d="M931.5 669v10M931.5 695v14M931.5 783v6M931.5 797v5M963.5 684v12M963.5 713v11M1006.5 733v7M1010.5 733v7M1017.5 815v3M1018.5 728v6M1022.5 728v6M1023.5 815v3M1024.5 779v39M1026.5 779v39M1030.5 707v39M1032.5 707v39M1037.5 725v3M1037.5 798v2M1038.5 718v2M1038.5 801v1M1039.5 725v3M1039.5 798v2M1046.5 664v22M1048.5 664v22M1050.5 701v7M1051.5 683v2M1052.5 701v7M1056.5 678v28M1058.5 678v28M1060.5 740v7M1061.5 718v4M1062.5 740v7M1067.5 760v42M1068.5 728v7M1069.5 760v42M1072.5 760v42M1073.5 728v7M1074.5 760v42M1086.5 706v8M1086.5 761v11M1091.5 644v6M1092.5 652v4M1093.5 701v5M1094.5 764v7M1097.5 687v7M1097.5 723v6M1102.5 679v3M1102.5 801v17M1103.5 723v4M1104.5 712v2M1105.5 723v4M1106.5 801v17M1113.5 738v10M1113.5 791v9M1120.5 738v10M1120.5 791v9M1129.5 724v3M1130.5 716v1M1131.5 724v3M1143.5 708v6M1143.5 771v4M1144.5 694v2M1144.5 780v2M1145.5 708v6M1145.5 771v4M1146.5 772v5M1147.5 761v3M1148.5 772v5M1184.5 713v7M1185.5 688v3M1186.5 713v7M1195.5 686v35M1197.5 686v35M1236.5 801v17M1238.5 801v17M1261.5 794v11"/>
<path stroke="#0000bf" d="M931.5 679v16M931.5 789v8M963.5 696v17M1006.5 740v6M1007.5 614v2M1009.5 614v2M1010.5 740v6M1018.5 734v6M1019.5 614v14M1021.5 614v14M1022.5 734v6M1030.5 746v24M1032.5 746v24M1037.5 728v2M1037.5 797v1M1038.5 720v1M1038.5 800v1M1039.5 728v2M1039.5 797v1M1046.5 686v21M1048.5 686v21M1050.5 708v8M1051.5 685v2M1052.5 708v8M1056.5 706v25M1058.5 706v25M1060.5 747v27M1061.5 722v4M1062.5 747v27M1067.5 802v16M1068.5 735v7M1069.5 802v16M1072.5 802v16M1073.5 735v7M1074.5 802v16M1086.5 714v9M1086.5 750v11M1091.5 650v6M1092.5 656v5M1093.5 706v4M1094.5 771v5M1097.5 694v7M1097.5 717v6M1102.5 676v3M1103.5 727v4M1104.5 714v2M1105.5 727v4M1113.5 748v10M1113.5 782v9M1120.5 748v10M1120.5 782v9M1129.5 727v2M1130.5 717v2M1131.5 727v2M1143.5 714v9M1143.5 767v4M1144.5 696v2M1144.5 778v2M1145.5 714v9M1145.5 767v4M1146.5 777v6M1147.5 764v3M1148.5 777v6M1184.5 720v6M1185.5 691v4M1186.5 720v6M1195.5 721v21M1197.5 721v21M1261.5 805v13"/>
<path stroke="#0000cf" d="M1006.5 746v6M1007.5 616v11M1009.5 616v11M1010.5 746v6M1018.5 740v5M1019.5 628v16M1021.5 628v16M1022.5 740v5M1030.5 770v32M1032.5 770v32M1037.5 730v3M1037.5 796v1M1038.5 721v1M1038.5 799v1M1039.5 730v3M1039.5 796v1M1046.5 707v13M1048.5 707v13M1050.5 716v15M1051.5 687v2M1052.5 716v15M1056.5 731v14M1058.5 731v14M1060.5 774v22M1061.5 726v3M1062.5 774v22M1068.5 742v7M1073.5 742v7M1086.5 723v9M1086.5 738v12M1091.5 656v8M1092.5 661v5M1093.5 710v3M1094.5 776v6M1097.5 701v8M1097.5 710v7M1102.5 672v4M1103.5 731v4M1104.5 716v2M1105.5 731v4M1113.5 758v10M1113.5 773v9M1120.5 758v10M1120.5 773v9M1129.5 729v3M1130.5 719v1M1131.5 729v3M1143.5 723v14M1143.5 764v3M1144.5 698v1M1144.5 776v2M1145.5 723v14M1145.5 764v3M1146.5 783v13M1147.5 767v3M1148.5 783v13M1184.5 726v8M1185.5 695v3M1186.5 726v8M1195.5 742v18M1197.5 742v18M1237.5 614v1"/>
<path stroke="#0000df" d="M1006.5 752v3M1007.5 627v12M1009.5 627v12M1010.5 752v3M1018.5 745v3M1019.5 644v10M1021.5 644v10M1022.5 745v3M1030.5 802v16M1032.5 802v16M1037.5 733v2M1037.5 795v1M1038.5 722v1M1038.5 798v1M1039.5 733v2M1039.5 795v1M1046.5 720v14M1048.5 720v14M1050.5 731v17M1051.5 689v2M1052.5 731v17M1056.5 745v16M1058.5 745v16M1060.5 796v22M1061.5 729v4M1062.5 796v22M1068.5 749v7M1073.5 749v7M1086.5 732v6M1091.5 664v8M1092.5 666v4M1093.5 713v3M1094.5 782v6M1097.5 709v1M1102.5 669v3M1103.5 735v5M1104.5 718v2M1105.5 735v5M1113.5 768v5M1120.5 768v5M1129.5 732v2M1130.5 720v1M1131.5 732v2M1143.5 737v17M1143.5 759v5M1144.5 699v2M1144.5 774v2M1145.5 737v17M1145.5 759v5M1146.5 796v22M1147.5 770v3M1148.5 796v22M1184.5 734v7M1185.5 698v3M1186.5 734v7M1195.5 760v23M1197.5 760v23M1237.5 615v203"/>
<path stroke="#0000ef" d="M1006.5 755v3M1007.5 639v10M1009.5 639v10M1010.5 755v3M1018.5 748v4M1019.5 654v6M1021.5 654v6M1022.5 748v4M1025.5 614v204M1037.5 735v2M1037.5 793v2M1038.5 723v2M1038.5 797v1M1039.5 735v2M1039.5 793v2M1046.5 734v17M1048.5 734v17M1050.5 748v16M1051.5 691v2M1052.5 748v16M1056.5 761v21M1058.5 761v21M1061.5 733v4M1068.5 756v62M1073.5 756v62M1091.5 672v8M1091.5 799v19M1092.5 670v2M1093.5 716v3M1094.5 788v5M1102.5 666v3M1103.5 740v4M1104.5 720v2M1105.5 740v4M1129.5 734v3M1130.5 721v1M1131.5 734v3M1143.5 754v5M1144.5 701v2M1144.5 773v1M1145.5 754v5M1147.5 773v3M1184.5 741v8M1185.5 701v3M1186.5 741v8M1195.5 783v16M1197.5 783v16"/>
<path stroke="#0000ff" d="M1006.5 758v3M1007.5 649v4M1009.5 649v4M1010.5 758v3M1018.5 752v3M1019.5 660v5M1021.5 660v5M1022.5 752v3M1037.5 737v2M1037.5 792v1M1038.5 725v1M1038.5 796v1M1039.5 737v2M1039.5 792v1M1046.5 751v11M1048.5 751v11M1050.5 764v11M1051.5 693v2M1052.5 764v11M1056.5 782v11M1058.5 782v11M1061.5 737v4M1091.5 680v9M1091.5 775v24M1092.5 672v3M1093.5 719v5M1094.5 793v4M1102.5 662v4M1103.5 744v3M1104.5 722v2M1105.5 744v3M1129.5 737v3M1130.5 722v2M1131.5 737v3M1144.5 703v2M1144.5 771v2M1147.5 776v3M1184.5 749v12M1185.5 704v3M1186.5 749v12M1195.5 799v15M1197.5 799v15"/>
<path stroke="#0010ff" d="M1006.5 761v3M1007.5 653v3M1009.5 653v3M1010.5 761v3M1018.5 755v4M1019.5 665v3M1021.5 665v3M1022.5 755v4M1037.5 739v3M1037.5 791v1M1038.5 726v1M1038.5 795v1M1039.5 739v3M1039.5 791v1M1046.5 762v10M1048.5 762v10M1050.5 775v12M1051.5 695v2M1052.5 775v12M1056.5 793v12M1058.5 793v12M1061.5 741v4M1091.5 689v9M1091.5 755v20M1092.5 675v3M1093.5 724v4M1094.5 797v5M1102.5 651v11M1103.5 747v3M1104.5 724v2M1105.5 747v3M1129.5 740v2M1130.5 724v1M1131.5 740v2M1144.5 705v1M1144.5 769v2M1147.5 779v3M1184.5 761v10M1185.5 707v3M1186.5 761v10M1195.5 814v4M1197.5 814v4"/>
<path stroke="#0020ff" d="M1006.5 764v4M1007.5 656v3M1009.5 656v3M1010.5 764v4M1018.5 759v3M1019.5 668v4M1021.5 668v4M1022.5 759v3M1037.5 742v4M1037.5 789v2M1038.5 727v2M1039.5 742v4M1039.5 789v2M1046.5 772v10M1048.5 772v10M1050.5 787v13M1051.5 697v2M1052.5 787v13M1056.5 805v13M1058.5 805v13M1061.5 745v73M1091.5 698v11M1091.5 729v26M1092.5 678v3M1093.5 728v3M1094.5 802v6M1102.5 620v31M1103.5 750v3M1104.5 726v2M1105.5 750v3M1129.5 742v2M1130.5 725v1M1131.5 742v2M1144.5 706v2M1144.5 767v2M1147.5 782v36M1184.5 771v10M1185.5 710v3M1186.5 771v10"/>
<path stroke="#0030ff" d="M1006.5 768v3M1007.5 659v3M1009.5 659v3M1010.5 768v3M1018.5 762v4M1019.5 672v4M1021.5 672v4M1022.5 762v4M1031.5 788v30M1037.5 746v3M1037.5 788v1M1038.5 729v1M1038.5 794v1M1039.5 746v3M1039.5 788v1M1046.5 782v11M1047.5 614v7M1048.5 782v11M1050.5 800v15M1051.5 699v2M1052.5 800v15M1091.5 709v20M1092.5 681v3M1093.5 731v3M1094.5 808v6M1102.5 614v6M1103.5 753v3M1104.5 728v3M1105.5 753v3M1129.5 744v3M1130.5 726v2M1131.5 744v3M1144.5 708v2M1144.5 766v1M1184.5 781v11M1185.5 713v3M1186.5 781v11"/>
<path stroke="#0040ff" d="M1006.5 771v5M1007.5 662v3M1009.5 662v3M1010.5 771v5M1018.5 766v3M1019.5 676v3M1021.5 676v3M1022.5 766v3M1031.5 691v97M1037.5 749v4M1037.5 784v4M1038.5 730v1M1038.5 793v1M1039.5 749v4M1039.5 784v4M1046.5 793v12M1047.5 621v10M1048.5 793v12M1050.5 815v3M1051.5 701v3M1052.5 815v3M1092.5 684v3M1093.5 734v3M1094.5 814v4M1103.5 756v5M1104.5 731v2M1105.5 756v5M1129.5 747v6M1130.5 728v1M1131.5 747v6M1144.5 710v2M1144.5 764v2M1184.5 792v13M1185.5 716v4M1186.5 792v13"/>
<path stroke="#0050ff" d="M1006.5 776v2M1007.5 665v4M1009.5 665v4M1010.5 776v2M1018.5 769v3M1019.5 679v4M1021.5 679v4M1022.5 769v3M1031.5 614v77M1037.5 753v4M1037.5 777v7M1038.5 731v2M1038.5 792v1M1039.5 753v4M1039.5 777v7M1046.5 805v13M1047.5 631v10M1048.5 805v13M1051.5 704v2M1092.5 687v3M1093.5 737v4M1103.5 761v9M1104.5 733v2M1105.5 761v9M1129.5 753v10M1130.5 729v1M1131.5 753v10M1144.5 712v2M1144.5 762v2M1184.5 805v13M1185.5 720v4M1186.5 805v13"/>
<path stroke="#0060ff" d="M1006.5 778v3M1007.5 669v3M1009.5 669v3M1010.5 778v3M1018.5 772v2M1019.5 683v3M1021.5 683v3M1022.5 772v2M1037.5 757v4M1037.5 770v7M1038.5 733v1M1038.5 791v1M1039.5 757v4M1039.5 770v7M1047.5 641v10M1051.5 706v2M1092.5 690v3M1093.5 741v3M1103.5 770v10M1104.5 735v3M1105.5 770v10M1129.5 763v10M1130.5 730v2M1131.5 763v10M1144.5 714v6M1144.5 760v2M1185.5 724v5M1196.5 794v24"/>
<path stroke="#0070ff" d="M1006.5 781v3M1007.5 672v3M1009.5 672v3M1010.5 781v3M1018.5 774v3M1019.5 686v3M1021.5 686v3M1022.5 774v3M1037.5 761v9M1038.5 734v1M1038.5 790v1M1039.5 761v9M1047.5 651v11M1051.5 708v9M1092.5 693v3M1093.5 744v4M1103.5 780v12M1103.5 811v7M1104.5 738v3M1105.5 780v12M1105.5 811v7M1129.5 773v12M1129.5 805v13M1130.5 732v1M1131.5 773v12M1131.5 805v13M1144.5 720v40M1185.5 729v6M1196.5 614v180"/>
<path stroke="#0080ff" d="M1006.5 784v2M1007.5 675v4M1009.5 675v4M1010.5 784v2M1018.5 777v2M1019.5 689v2M1021.5 689v2M1022.5 777v2M1038.5 735v2M1038.5 788v2M1047.5 662v13M1051.5 717v101M1057.5 614v34M1092.5 696v4M1093.5 748v4M1103.5 792v19M1104.5 741v4M1105.5 792v19M1129.5 785v20M1130.5 733v2M1131.5 785v20M1185.5 735v5"/>
<path stroke="#008fff" d="M1006.5 786v3M1007.5 679v4M1009.5 679v4M1010.5 786v3M1018.5 779v3M1019.5 691v2M1021.5 691v2M1022.5 779v3M1038.5 737v1M1038.5 787v1M1047.5 675v78M1057.5 648v170M1092.5 700v3M1093.5 752v5M1104.5 745v3M1130.5 735v1M1185.5 740v8"/>
<path stroke="#009fff" d="M1006.5 789v3M1007.5 683v3M1009.5 683v3M1010.5 789v3M1018.5 782v3M1019.5 693v2M1021.5 693v2M1022.5 782v3M1038.5 738v2M1038.5 784v3M1047.5 753v59M1092.5 703v3M1092.5 811v7M1093.5 757v8M1104.5 748v3M1130.5 736v2M1185.5 748v63"/>
<path stroke="#00afff" d="M1006.5 792v3M1006.5 813v5M1007.5 686v3M1009.5 686v3M1010.5 792v3M1010.5 813v5M1018.5 785v4M1019.5 695v2M1021.5 695v2M1022.5 785v4M1038.5 740v3M1038.5 781v3M1047.5 812v6M1092.5 706v4M1092.5 800v11M1093.5 765v12M1104.5 751v4M1104.5 816v2M1130.5 738v2M1130.5 815v3M1185.5 811v7"/>
<path stroke="#00bfff" d="M1006.5 795v4M1006.5 809v4M1007.5 689v2M1009.5 689v2M1010.5 795v4M1010.5 809v4M1018.5 789v5M1019.5 697v1M1021.5 697v1M1022.5 789v5M1038.5 743v5M1038.5 777v4M1092.5 710v3M1092.5 788v12M1093.5 777v41M1104.5 755v4M1104.5 810v6M1130.5 740v2M1130.5 809v6"/>
<path stroke="#00cfff" d="M1006.5 799v10M1007.5 691v2M1009.5 691v2M1010.5 799v10M1018.5 794v6M1018.5 815v3M1019.5 698v2M1021.5 698v2M1022.5 794v6M1022.5 815v3M1038.5 748v4M1038.5 773v4M1092.5 713v4M1092.5 774v14M1104.5 759v30M1104.5 804v6M1130.5 742v2M1130.5 803v6"/>
<path stroke="#00dfff" d="M1007.5 693v2M1009.5 693v2M1018.5 800v15M1019.5 700v3M1021.5 700v3M1022.5 800v15M1038.5 752v5M1038.5 769v4M1092.5 717v27M1092.5 758v16M1104.5 789v15M1130.5 744v3M1130.5 797v6"/>
<path stroke="#00efff" d="M1007.5 695v2M1009.5 695v2M1019.5 703v2M1021.5 703v2M1038.5 757v6M1038.5 764v5M1092.5 744v14M1130.5 747v50"/>
<path stroke="#00ffff" d="M1007.5 697v3M1009.5 697v3M1019.5 705v2M1021.5 705v2M1038.5 763v1"/>
<path stroke="#10ffef" d="M1007.5 700v3M1009.5 700v3M1019.5 707v2M1021.5 707v2"/>
<path stroke="#20ffdf" d="M1007.5 703v3M1009.5 703v3M1019.5 709v3M1020.5 614v14M1021.5 709v3"/>
<path stroke="#30ffcf" d="M1007.5 706v4M1009.5 706v4M1019.5 712v2M1020.5 628v17M1021.5 712v2"/>
<path stroke="#40ffbf" d="M1007.5 710v3M1009.5 710v3M1019.5 714v2M1020.5 645v16M1021.5 714v2"/>
<path stroke="#50ffaf" d="M1007.5 713v4M1009.5 713v4M1019.5 716v3M1020.5 661v4M1021.5 716v3"/>
<path stroke="#60ff9f" d="M1007.5 717v3M1009.5 717v3M1019.5 719v2M1020.5 665v3M1021.5 719v2"/>
<path stroke="#70ff8f" d="M1007.5 720v4M1009.5 720v4M1019.5 721v3M1020.5 668v4M1021.5 721v3"/>
<path stroke="#80ff80" d="M1007.5 724v3M1008.5 614v7M1009.5 724v3M1019.5 724v3M1020.5 672v3M1021.5 724v3"/>
<path stroke="#8fff70" d="M1007.5 727v4M1008.5 621v12M1009.5 727v4M1019.5 727v4M1020.5 675v3M1021.5 727v4"/>
<path stroke="#9fff60" d="M1007.5 731v4M1008.5 633v13M1009.5 731v4M1019.5 731v3M1020.5 678v3M1021.5 731v3"/>
<path stroke="#afff50" d="M1007.5 735v4M1008.5 646v5M1009.5 735v4M1019.5 734v4M1020.5 681v3M1021.5 734v4"/>
<path stroke="#bfff40" d="M1007.5 739v3M1008.5 651v4M1009.5 739v3M1019.5 738v4M1020.5 684v3M1021.5 738v4"/>
<path stroke="#cfff30" d="M1007.5 742v4M1008.5 655v3M1009.5 742v4M1019.5 742v4M1020.5 687v2M1021.5 742v4"/>
<path stroke="#dfff20" d="M1007.5 746v4M1007.5 816v2M1008.5 658v3M1009.5 746v4M1009.5 816v2M1019.5 746v4M1020.5 689v3M1021.5 746v4"/>
<path stroke="#efff10" d="M1007.5 750v4M1007.5 815v1M1008.5 661v4M1009.5 750v4M1009.5 815v1M1019.5 750v5M1019.5 816v2M1020.5 692v2M1021.5 750v5M1021.5 816v2"/>
<path stroke="#ffff00" d="M1007.5 754v5M1007.5 813v2M1008.5 665v3M1009.5 754v5M1009.5 813v2M1019.5 755v5M1019.5 814v2M1020.5 694v2M1021.5 755v5M1021.5 814v2"/>
<path stroke="#ffef00" d="M1007.5 759v4M1007.5 811v2M1008.5 668v3M1009.5 759v4M1009.5 811v2M1019.5 760v5M1019.5 812v2M1020.5 696v3M1021.5 760v5M1021.5 812v2"/>
<path stroke="#ffdf00" d="M1007.5 763v4M1007.5 810v1M1008.5 671v4M1009.5 763v4M1009.5 810v1M1019.5 765v5M1019.5 809v3M1020.5 699v3M1021.5 765v5M1021.5 809v3"/>
<path stroke="#ffcf00" d="M1007.5 767v6M1007.5 808v2M1008.5 675v3M1009.5 767v6M1009.5 808v2M1019.5 770v6M1019.5 806v3M1020.5 702v3M1021.5 770v6M1021.5 806v3"/>
<path stroke="#ffbf00" d="M1007.5 773v9M1007.5 806v2M1008.5 678v4M1009.5 773v9M1009.5 806v2M1019.5 776v7M1019.5 789v17M1020.5 705v3M1021.5 776v7M1021.5 789v17"/>
<path stroke="#ffaf00" d="M1007.5 782v10M1007.5 804v2M1008.5 682v4M1008.5 816v2M1009.5 782v10M1009.5 804v2M1019.5 783v6M1020.5 708v4M1020.5 817v1M1021.5 783v6"/>
<path stroke="#ff9f00" d="M1007.5 792v12M1008.5 686v4M1008.5 815v1M1009.5 792v12M1020.5 712v3M1020.5 815v2"/>
<path stroke="#ff8f00" d="M1008.5 690v4M1008.5 813v2M1020.5 715v4M1020.5 813v2"/>
<path stroke="#ff8000" d="M1008.5 694v5M1008.5 812v1M1020.5 719v4M1020.5 811v2"/>
<path stroke="#ff7000" d="M1008.5 699v10M1008.5 810v2M1020.5 723v7M1020.5 809v2"/>
<path stroke="#ff6000" d="M1008.5 709v11M1008.5 809v1M1020.5 730v7M1020.5 807v2"/>
<path stroke="#ff5000" d="M1008.5 720v12M1008.5 808v1M1020.5 737v8M1020.5 802v5"/>
<path stroke="#ff4000" d="M1008.5 732v10M1008.5 806v2M1020.5 745v12M1020.5 795v7"/>
<path stroke="#ff3000" d="M1008.5 742v10M1008.5 804v2M1020.5 757v14M1020.5 789v6"/>
<path stroke="#ff2000" d="M1008.5 752v10M1008.5 802v2M1020.5 771v18"/>
<path stroke="#ff1000" d="M1008.5 762v40"/>
</g>
<path d="M837 615.5h6M1440 615.5h-6M837 632.5h6M1440 632.5h-6M837 651.5h6M1440 651.5h-6M837 671.5h6M1440 671.5h-6M837 695.5h6M1440 695.5h-6M837 721.5h6M1440 721.5h-6M837 753.5h6M1440 753.5h-6M837 772.5h6M1440 772.5h-6M837 792.5h6M1440 792.5h-6M837 816.5h6M1440 816.5h-6M912.5 818.5v-5M912.5 614v5M987.5 818.5v-5M987.5 614v5M1063.5 818.5v-5M1063.5 614v5M1138.5 818.5v-5M1138.5 614v5M1214.5 818.5v-5M1214.5 614v5M1289.5 818.5v-5M1289.5 614v5M1364.5 818.5v-5M1364.5 614v5" stroke="#000020" stroke-opacity="0.6" stroke-width="1" fill="none"/>
<text x="832.5" y="620.6" text-anchor="end" font-size="12.5">22</text>
<text x="832.5" y="637.2" text-anchor="end" font-size="12.5">20</text>
<text x="832.5" y="655.7" text-anchor="end" font-size="12.5">18</text>
<text x="832.5" y="676.3000000000001" text-anchor="end" font-size="12.5">16</text>
<text x="832.5" y="699.6" text-anchor="end" font-size="12.5">14</text>
<text x="832.5" y="726.6" text-anchor="end" font-size="12.5">12</text>
<text x="832.5" y="758.5" text-anchor="end" font-size="12.5">10</text>
<text x="832.5" y="776.9" text-anchor="end" font-size="12.5">9</text>
<text x="832.5" y="797.5" text-anchor="end" font-size="12.5">8</text>
<text x="832.5" y="820.9" text-anchor="end" font-size="12.5">7</text>
<text x="836.5" y="833.3" text-anchor="middle" font-size="12.5">00:00</text>
<text x="912.5" y="833.3" text-anchor="middle" font-size="12.5">03:00</text>
<text x="987.5" y="833.3" text-anchor="middle" font-size="12.5">06:00</text>
<text x="1063.5" y="833.3" text-anchor="middle" font-size="12.5">09:00</text>
<text x="1138.5" y="833.3" text-anchor="middle" font-size="12.5">12:00</text>
<text x="1214.5" y="833.3" text-anchor="middle" font-size="12.5">15:00</text>
<text x="1289.5" y="833.3" text-anchor="middle" font-size="12.5">18:00</text>
<text x="1364.5" y="833.3" text-anchor="middle" font-size="12.5">21:00</text>
<text x="1440.5" y="833.3" text-anchor="middle" font-size="12.5">00:00</text>
<text x="810" y="716.3" text-anchor="middle" font-weight="bold" transform="rotate(-90 810 716.3)" font-size="12.5">freq (mHz)</text>
<g shape-rendering="crispEdges">
<rect x="1458" y="614" width="26" height="3" fill="#800000"/>
<rect x="1458" y="617" width="26" height="3" fill="#8f0000"/>
<rect x="1458" y="620" width="26" height="4" fill="#9f0000"/>
<rect x="1458" y="624" width="26" height="3" fill="#af0000"/>
<rect x="1458" y="627" width="26" height="3" fill="#bf0000"/>
<rect x="1458" y="630" width="26" height="3" fill="#cf0000"/>
<rect x="1458" y="633" width="26" height="3" fill="#df0000"/>
<rect x="1458" y="636" width="26" height="4" fill="#ef0000"/>
<rect x="1458" y="640" width="26" height="3" fill="#ff0000"/>
<rect x="1458" y="643" width="26" height="3" fill="#ff1000"/>
<rect x="1458" y="646" width="26" height="3" fill="#ff2000"/>
<rect x="1458" y="649" width="26" height="3" fill="#ff3000"/>
<rect x="1458" y="652" width="26" height="3" fill="#ff4000"/>
<rect x="1458" y="655" width="26" height="4" fill="#ff5000"/>
<rect x="1458" y="659" width="26" height="3" fill="#ff6000"/>
<rect x="1458" y="662" width="26" height="3" fill="#ff7000"/>
<rect x="1458" y="665" width="26" height="3" fill="#ff8000"/>
<rect x="1458" y="668" width="26" height="3" fill="#ff8f00"/>
<rect x="1458" y="671" width="26" height="4" fill="#ff9f00"/>
<rect x="1458" y="675" width="26" height="3" fill="#ffaf00"/>
<rect x="1458" y="678" width="26" height="3" fill="#ffbf00"/>
<rect x="1458" y="681" width="26" height="3" fill="#ffcf00"/>
<rect x="1458" y="684" width="26" height="3" fill="#ffdf00"/>
<rect x="1458" y="687" width="26" height="4" fill="#ffef00"/>
<rect x="1458" y="691" width="26" height="3" fill="#ffff00"/>
<rect x="1458" y="694" width="26" height="3" fill="#efff10"/>
<rect x="1458" y="697" width="26" height="3" fill="#dfff20"/>
<rect x="1458" y="700" width="26" height="3" fill="#cfff30"/>
<rect x="1458" y="703" width="26" height="3" fill="#bfff40"/>
<rect x="1458" y="706" width="26" height="4" fill="#afff50"/>
<rect x="1458" y="710" width="26" height="3" fill="#9fff60"/>
<rect x="1458" y="713" width="26" height="3" fill="#8fff70"/>
<rect x="1458" y="716" width="26" height="3" fill="#80ff80"/>
<rect x="1458" y="719" width="26" height="3" fill="#70ff8f"/>
<rect x="1458" y="722" width="26" height="4" fill="#60ff9f"/>
<rect x="1458" y="726" width="26" height="3" fill="#50ffaf"/>
<rect x="1458" y="729" width="26" height="3" fill="#40ffbf"/>
<rect x="1458" y="732" width="26" height="3" fill="#30ffcf"/>
<rect x="1458" y="735" width="26" height="3" fill="#20ffdf"/>
<rect x="1458" y="738" width="26" height="4" fill="#10ffef"/>
<rect x="1458" y="742" width="26" height="3" fill="#00ffff"/>
<rect x="1458" y="745" width="26" height="3" fill="#00efff"/>
<rect x="1458" y="748" width="26" height="3" fill="#00dfff"/>
<rect x="1458" y="751" width="26" height="3" fill="#00cfff"/>
<rect x="1458" y="754" width="26" height="3" fill="#00bfff"/>
<rect x="1458" y="757" width="26" height="4" fill="#00afff"/>
<rect x="1458" y="761" width="26" height="3" fill="#009fff"/>
<rect x="1458" y="764" width="26" height="3" fill="#008fff"/>
<rect x="1458" y="767" width="26" height="3" fill="#0080ff"/>
<rect x="1458" y="770" width="26" height="3" fill="#0070ff"/>
<rect x="1458" y="773" width="26" height="4" fill="#0060ff"/>
<rect x="1458" y="777" width="26" height="3" fill="#0050ff"/>
<rect x="1458" y="780" width="26" height="3" fill="#0040ff"/>
<rect x="1458" y="783" width="26" height="3" fill="#0030ff"/>
<rect x="1458" y="786" width="26" height="3" fill="#0020ff"/>
<rect x="1458" y="789" width="26" height="4" fill="#0010ff"/>
<rect x="1458" y="793" width="26" height="3" fill="#0000ff"/>
<rect x="1458" y="796" width="26" height="3" fill="#0000ef"/>
<rect x="1458" y="799" width="26" height="3" fill="#0000df"/>
<rect x="1458" y="802" width="26" height="3" fill="#0000cf"/>
<rect x="1458" y="805" width="26" height="3" fill="#0000bf"/>
<rect x="1458" y="808" width="26" height="4" fill="#0000af"/>
<rect x="1458" y="812" width="26" height="3" fill="#00009f"/>
<rect x="1458" y="815" width="26" height="3" fill="#00008f"/>
</g>
<rect x="1458.5" y="614.5" width="25.0" height="204" fill="none" stroke="#303030" stroke-opacity="0.55" stroke-width="1"/>
<path d="M1458.5 648.5h2.5M1483.5 648.5h-2.5M1458.5 682.5h2.5M1483.5 682.5h-2.5M1458.5 716.5h2.5M1483.5 716.5h-2.5M1458.5 750.5h2.5M1483.5 750.5h-2.5M1458.5 784.5h2.5M1483.5 784.5h-2.5" stroke="#202020" stroke-opacity="0.7" stroke-width="1" fill="none"/>
<text x="1487" y="618.9" text-anchor="start" font-size="12.5">4</text>
<text x="1487" y="652.9" text-anchor="start" font-size="12.5">3</text>
<text x="1487" y="686.9" text-anchor="start" font-size="12.5">2</text>
<text x="1487" y="720.9" text-anchor="start" font-size="12.5">1</text>
<text x="1487" y="754.9" text-anchor="start" font-size="12.5">0</text>
<text x="1487" y="788.9" text-anchor="start" font-size="12.5">-1</text>
<text x="1487" y="822.9" text-anchor="start" font-size="12.5">-2</text>
<text transform="rotate(-90 1518 716)" x="1518" y="716" text-anchor="middle" font-weight="bold" font-size="12.5">log<tspan dy="4.5" font-size="10.8">2</tspan><tspan dy="-4.5">(nT</tspan><tspan dy="-6" font-size="10.8">2</tspan><tspan dy="6">/Hz)</tspan></text>
</svg>
</body></html>
